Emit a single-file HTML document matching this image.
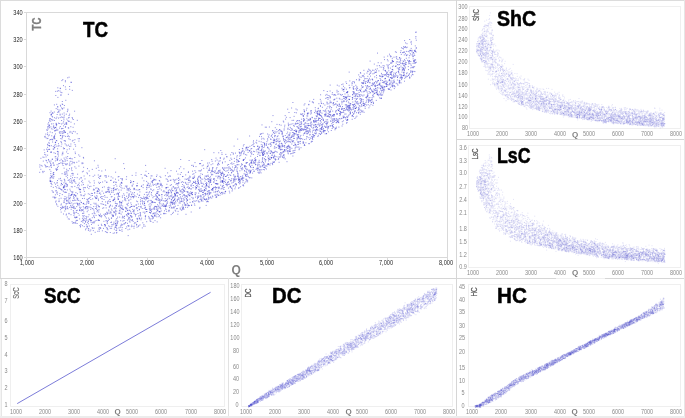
<!DOCTYPE html>
<html><head><meta charset="utf-8"><style>
html,body{margin:0;padding:0;background:#fff;}
body{width:685px;height:418px;position:relative;overflow:hidden;font-family:"Liberation Sans",sans-serif;}
.a{position:absolute;}
.t{position:absolute;white-space:nowrap;line-height:1;}
svg{position:absolute;left:0;top:0;}
</style></head><body>
<div class="a" style="left:0px;top:0px;width:685px;height:1px;background:#dcdcdc"></div>
<div class="a" style="left:0px;top:0px;width:1px;height:279px;background:#dcdcdc"></div>
<div class="a" style="left:1px;top:279px;width:1px;height:139px;background:#e6e6e6"></div>
<div class="a" style="left:0px;top:279px;width:1px;height:139px;background:#f4f4f4"></div>
<div class="a" style="left:456px;top:0px;width:1px;height:417px;background:#d6d6d6"></div>
<div class="a" style="left:456px;top:139px;width:229px;height:1px;background:#d6d6d6"></div>
<div class="a" style="left:0px;top:278px;width:685px;height:1px;background:#d6d6d6"></div>
<div class="a" style="left:228px;top:278px;width:1px;height:139px;background:#e2e2e2"></div>
<div class="a" style="left:556px;top:278px;width:49px;height:1px;background:#f0f0f0"></div>
<div class="a" style="left:684px;top:0px;width:1px;height:418px;background:#e6e6e6"></div>
<div class="a" style="left:0px;top:416px;width:685px;height:2px;background:#ececec"></div>
<div class="a" style="left:26px;top:12px;width:420px;height:244px;border:1px solid #d9d9d9"></div>
<div class="a" style="left:469px;top:6px;width:210px;height:121px;border:1px solid #efefef"></div>
<div class="a" style="left:468px;top:145px;width:211px;height:121px;border:1px solid #efefef"></div>
<div class="a" style="left:10px;top:284px;width:213px;height:121px;border:1px solid #efefef"></div>
<div class="a" style="left:241px;top:284px;width:210px;height:121px;border:1px solid #efefef"></div>
<div class="a" style="left:468px;top:284px;width:211px;height:121px;border:1px solid #efefef"></div>
<div class="a" style="left:24px;top:12px;width:2px;height:1px;background:#d9d9d9"></div>
<div class="a" style="left:24px;top:39px;width:2px;height:1px;background:#d9d9d9"></div>
<div class="a" style="left:24px;top:66px;width:2px;height:1px;background:#d9d9d9"></div>
<div class="a" style="left:24px;top:94px;width:2px;height:1px;background:#d9d9d9"></div>
<div class="a" style="left:24px;top:121px;width:2px;height:1px;background:#d9d9d9"></div>
<div class="a" style="left:24px;top:148px;width:2px;height:1px;background:#d9d9d9"></div>
<div class="a" style="left:24px;top:175px;width:2px;height:1px;background:#d9d9d9"></div>
<div class="a" style="left:24px;top:203px;width:2px;height:1px;background:#d9d9d9"></div>
<div class="a" style="left:24px;top:230px;width:2px;height:1px;background:#d9d9d9"></div>
<div class="a" style="left:24px;top:257px;width:2px;height:1px;background:#d9d9d9"></div>
<div class="a" style="left:26px;top:258px;width:1px;height:2px;background:#d9d9d9"></div>
<div class="a" style="left:87px;top:258px;width:1px;height:2px;background:#d9d9d9"></div>
<div class="a" style="left:147px;top:258px;width:1px;height:2px;background:#d9d9d9"></div>
<div class="a" style="left:207px;top:258px;width:1px;height:2px;background:#d9d9d9"></div>
<div class="a" style="left:267px;top:258px;width:1px;height:2px;background:#d9d9d9"></div>
<div class="a" style="left:327px;top:258px;width:1px;height:2px;background:#d9d9d9"></div>
<div class="a" style="left:387px;top:258px;width:1px;height:2px;background:#d9d9d9"></div>
<div class="a" style="left:447px;top:258px;width:1px;height:2px;background:#d9d9d9"></div>
<div style="position:absolute;left:0;top:0;width:685px;height:418px;filter:grayscale(1) blur(0.25px)"><div class="t" style="right:217px;top:4.23299px;font-size:6.3px;color:#8a8a8a;transform-origin:100% 50%;transform:scaleX(0.87)">300</div>
<div class="t" style="right:217px;top:15.733px;font-size:6.3px;color:#8a8a8a;transform-origin:100% 50%;transform:scaleX(0.87)">280</div>
<div class="t" style="right:217px;top:26.033px;font-size:6.3px;color:#8a8a8a;transform-origin:100% 50%;transform:scaleX(0.87)">260</div>
<div class="t" style="right:217px;top:37.333px;font-size:6.3px;color:#8a8a8a;transform-origin:100% 50%;transform:scaleX(0.87)">240</div>
<div class="t" style="right:217px;top:48.333px;font-size:6.3px;color:#8a8a8a;transform-origin:100% 50%;transform:scaleX(0.87)">220</div>
<div class="t" style="right:217px;top:59.333px;font-size:6.3px;color:#8a8a8a;transform-origin:100% 50%;transform:scaleX(0.87)">200</div>
<div class="t" style="right:217px;top:70.333px;font-size:6.3px;color:#8a8a8a;transform-origin:100% 50%;transform:scaleX(0.87)">180</div>
<div class="t" style="right:217px;top:81.933px;font-size:6.3px;color:#8a8a8a;transform-origin:100% 50%;transform:scaleX(0.87)">160</div>
<div class="t" style="right:217px;top:92.633px;font-size:6.3px;color:#8a8a8a;transform-origin:100% 50%;transform:scaleX(0.87)">140</div>
<div class="t" style="right:217px;top:103.633px;font-size:6.3px;color:#8a8a8a;transform-origin:100% 50%;transform:scaleX(0.87)">120</div>
<div class="t" style="right:217px;top:114.233px;font-size:6.3px;color:#8a8a8a;transform-origin:100% 50%;transform:scaleX(0.87)">100</div>
<div class="t" style="right:217px;top:124.633px;font-size:6.3px;color:#8a8a8a;transform-origin:100% 50%;transform:scaleX(0.87)">80</div>
<div class="t" style="left:473.2px;top:130.933px;font-size:6.3px;color:#8a8a8a;transform:translateX(-50%) scaleX(0.87)">1000</div>
<div class="t" style="left:502.23px;top:130.933px;font-size:6.3px;color:#8a8a8a;transform:translateX(-50%) scaleX(0.87)">2000</div>
<div class="t" style="left:531.26px;top:130.933px;font-size:6.3px;color:#8a8a8a;transform:translateX(-50%) scaleX(0.87)">3000</div>
<div class="t" style="left:560.29px;top:130.933px;font-size:6.3px;color:#8a8a8a;transform:translateX(-50%) scaleX(0.87)">4000</div>
<div class="t" style="left:589.32px;top:130.933px;font-size:6.3px;color:#8a8a8a;transform:translateX(-50%) scaleX(0.87)">5000</div>
<div class="t" style="left:618.35px;top:130.933px;font-size:6.3px;color:#8a8a8a;transform:translateX(-50%) scaleX(0.87)">6000</div>
<div class="t" style="left:647.38px;top:130.933px;font-size:6.3px;color:#8a8a8a;transform:translateX(-50%) scaleX(0.87)">7000</div>
<div class="t" style="left:676.41px;top:130.933px;font-size:6.3px;color:#8a8a8a;transform:translateX(-50%) scaleX(0.87)">8000</div>
<div class="t" style="right:218.2px;top:145.233px;font-size:6.3px;color:#8a8a8a;transform-origin:100% 50%;transform:scaleX(0.87)">3.6</div>
<div class="t" style="right:218.2px;top:157.933px;font-size:6.3px;color:#8a8a8a;transform-origin:100% 50%;transform:scaleX(0.87)">3.3</div>
<div class="t" style="right:218.2px;top:169.733px;font-size:6.3px;color:#8a8a8a;transform-origin:100% 50%;transform:scaleX(0.87)">3.0</div>
<div class="t" style="right:218.2px;top:184.133px;font-size:6.3px;color:#8a8a8a;transform-origin:100% 50%;transform:scaleX(0.87)">2.7</div>
<div class="t" style="right:218.2px;top:196.533px;font-size:6.3px;color:#8a8a8a;transform-origin:100% 50%;transform:scaleX(0.87)">2.4</div>
<div class="t" style="right:218.2px;top:209.933px;font-size:6.3px;color:#8a8a8a;transform-origin:100% 50%;transform:scaleX(0.87)">2.1</div>
<div class="t" style="right:218.2px;top:225.733px;font-size:6.3px;color:#8a8a8a;transform-origin:100% 50%;transform:scaleX(0.87)">1.8</div>
<div class="t" style="right:218.2px;top:238.533px;font-size:6.3px;color:#8a8a8a;transform-origin:100% 50%;transform:scaleX(0.87)">1.5</div>
<div class="t" style="right:218.2px;top:251.933px;font-size:6.3px;color:#8a8a8a;transform-origin:100% 50%;transform:scaleX(0.87)">1.2</div>
<div class="t" style="right:218.2px;top:264.333px;font-size:6.3px;color:#8a8a8a;transform-origin:100% 50%;transform:scaleX(0.87)">0.9</div>
<div class="t" style="left:473.1px;top:269.933px;font-size:6.3px;color:#8a8a8a;transform:translateX(-50%) scaleX(0.87)">1000</div>
<div class="t" style="left:502.13px;top:269.933px;font-size:6.3px;color:#8a8a8a;transform:translateX(-50%) scaleX(0.87)">2000</div>
<div class="t" style="left:531.16px;top:269.933px;font-size:6.3px;color:#8a8a8a;transform:translateX(-50%) scaleX(0.87)">3000</div>
<div class="t" style="left:560.19px;top:269.933px;font-size:6.3px;color:#8a8a8a;transform:translateX(-50%) scaleX(0.87)">4000</div>
<div class="t" style="left:589.22px;top:269.933px;font-size:6.3px;color:#8a8a8a;transform:translateX(-50%) scaleX(0.87)">5000</div>
<div class="t" style="left:618.25px;top:269.933px;font-size:6.3px;color:#8a8a8a;transform:translateX(-50%) scaleX(0.87)">6000</div>
<div class="t" style="left:647.28px;top:269.933px;font-size:6.3px;color:#8a8a8a;transform:translateX(-50%) scaleX(0.87)">7000</div>
<div class="t" style="left:676.31px;top:269.933px;font-size:6.3px;color:#8a8a8a;transform:translateX(-50%) scaleX(0.87)">8000</div>
<div class="t" style="left:5.6px;top:281.233px;font-size:6.3px;color:#8a8a8a;transform:translateX(-50%) scaleX(0.87)">8</div>
<div class="t" style="left:5.6px;top:297.533px;font-size:6.3px;color:#8a8a8a;transform:translateX(-50%) scaleX(0.87)">7</div>
<div class="t" style="left:5.6px;top:318.033px;font-size:6.3px;color:#8a8a8a;transform:translateX(-50%) scaleX(0.87)">6</div>
<div class="t" style="left:5.6px;top:334.833px;font-size:6.3px;color:#8a8a8a;transform:translateX(-50%) scaleX(0.87)">5</div>
<div class="t" style="left:5.6px;top:351.633px;font-size:6.3px;color:#8a8a8a;transform:translateX(-50%) scaleX(0.87)">4</div>
<div class="t" style="left:5.6px;top:368.433px;font-size:6.3px;color:#8a8a8a;transform:translateX(-50%) scaleX(0.87)">3</div>
<div class="t" style="left:5.6px;top:384.633px;font-size:6.3px;color:#8a8a8a;transform:translateX(-50%) scaleX(0.87)">2</div>
<div class="t" style="left:5.6px;top:401.733px;font-size:6.3px;color:#8a8a8a;transform:translateX(-50%) scaleX(0.87)">1</div>
<div class="t" style="left:15.5px;top:409.133px;font-size:6.3px;color:#8a8a8a;transform:translateX(-50%) scaleX(0.87)">1000</div>
<div class="t" style="left:44.69px;top:409.133px;font-size:6.3px;color:#8a8a8a;transform:translateX(-50%) scaleX(0.87)">2000</div>
<div class="t" style="left:73.88px;top:409.133px;font-size:6.3px;color:#8a8a8a;transform:translateX(-50%) scaleX(0.87)">3000</div>
<div class="t" style="left:103.07px;top:409.133px;font-size:6.3px;color:#8a8a8a;transform:translateX(-50%) scaleX(0.87)">4000</div>
<div class="t" style="left:132.26px;top:409.133px;font-size:6.3px;color:#8a8a8a;transform:translateX(-50%) scaleX(0.87)">5000</div>
<div class="t" style="left:161.45px;top:409.133px;font-size:6.3px;color:#8a8a8a;transform:translateX(-50%) scaleX(0.87)">6000</div>
<div class="t" style="left:190.64px;top:409.133px;font-size:6.3px;color:#8a8a8a;transform:translateX(-50%) scaleX(0.87)">7000</div>
<div class="t" style="left:219.83px;top:409.133px;font-size:6.3px;color:#8a8a8a;transform:translateX(-50%) scaleX(0.87)">8000</div>
<div class="t" style="right:445.3px;top:283.133px;font-size:6.3px;color:#8a8a8a;transform-origin:100% 50%;transform:scaleX(0.87)">180</div>
<div class="t" style="right:445.3px;top:295.933px;font-size:6.3px;color:#8a8a8a;transform-origin:100% 50%;transform:scaleX(0.87)">160</div>
<div class="t" style="right:445.3px;top:308.833px;font-size:6.3px;color:#8a8a8a;transform-origin:100% 50%;transform:scaleX(0.87)">140</div>
<div class="t" style="right:445.3px;top:322.033px;font-size:6.3px;color:#8a8a8a;transform-origin:100% 50%;transform:scaleX(0.87)">120</div>
<div class="t" style="right:445.3px;top:334.733px;font-size:6.3px;color:#8a8a8a;transform-origin:100% 50%;transform:scaleX(0.87)">100</div>
<div class="t" style="right:446px;top:347.633px;font-size:6.3px;color:#8a8a8a;transform-origin:100% 50%;transform:scaleX(0.87)">80</div>
<div class="t" style="right:446px;top:363.733px;font-size:6.3px;color:#8a8a8a;transform-origin:100% 50%;transform:scaleX(0.87)">60</div>
<div class="t" style="right:446px;top:376.133px;font-size:6.3px;color:#8a8a8a;transform-origin:100% 50%;transform:scaleX(0.87)">40</div>
<div class="t" style="right:446px;top:389.233px;font-size:6.3px;color:#8a8a8a;transform-origin:100% 50%;transform:scaleX(0.87)">20</div>
<div class="t" style="right:446px;top:402.133px;font-size:6.3px;color:#8a8a8a;transform-origin:100% 50%;transform:scaleX(0.87)">0</div>
<div class="t" style="left:246.1px;top:408.933px;font-size:6.3px;color:#8a8a8a;transform:translateX(-50%) scaleX(0.87)">1000</div>
<div class="t" style="left:275.13px;top:408.933px;font-size:6.3px;color:#8a8a8a;transform:translateX(-50%) scaleX(0.87)">2000</div>
<div class="t" style="left:304.16px;top:408.933px;font-size:6.3px;color:#8a8a8a;transform:translateX(-50%) scaleX(0.87)">3000</div>
<div class="t" style="left:333.19px;top:408.933px;font-size:6.3px;color:#8a8a8a;transform:translateX(-50%) scaleX(0.87)">4000</div>
<div class="t" style="left:362.22px;top:408.933px;font-size:6.3px;color:#8a8a8a;transform:translateX(-50%) scaleX(0.87)">5000</div>
<div class="t" style="left:391.25px;top:408.933px;font-size:6.3px;color:#8a8a8a;transform:translateX(-50%) scaleX(0.87)">6000</div>
<div class="t" style="left:420.28px;top:408.933px;font-size:6.3px;color:#8a8a8a;transform:translateX(-50%) scaleX(0.87)">7000</div>
<div class="t" style="left:449.31px;top:408.933px;font-size:6.3px;color:#8a8a8a;transform:translateX(-50%) scaleX(0.87)">8000</div>
<div class="t" style="right:220px;top:284.233px;font-size:6.3px;color:#8a8a8a;transform-origin:100% 50%;transform:scaleX(0.87)">45</div>
<div class="t" style="right:220px;top:297.033px;font-size:6.3px;color:#8a8a8a;transform-origin:100% 50%;transform:scaleX(0.87)">40</div>
<div class="t" style="right:220px;top:309.433px;font-size:6.3px;color:#8a8a8a;transform-origin:100% 50%;transform:scaleX(0.87)">35</div>
<div class="t" style="right:220px;top:322.533px;font-size:6.3px;color:#8a8a8a;transform-origin:100% 50%;transform:scaleX(0.87)">30</div>
<div class="t" style="right:220px;top:335.333px;font-size:6.3px;color:#8a8a8a;transform-origin:100% 50%;transform:scaleX(0.87)">25</div>
<div class="t" style="right:220px;top:348.933px;font-size:6.3px;color:#8a8a8a;transform-origin:100% 50%;transform:scaleX(0.87)">20</div>
<div class="t" style="right:220px;top:365.133px;font-size:6.3px;color:#8a8a8a;transform-origin:100% 50%;transform:scaleX(0.87)">15</div>
<div class="t" style="right:220px;top:377.933px;font-size:6.3px;color:#8a8a8a;transform-origin:100% 50%;transform:scaleX(0.87)">10</div>
<div class="t" style="right:220px;top:390.333px;font-size:6.3px;color:#8a8a8a;transform-origin:100% 50%;transform:scaleX(0.87)">5</div>
<div class="t" style="right:220px;top:403.433px;font-size:6.3px;color:#8a8a8a;transform-origin:100% 50%;transform:scaleX(0.87)">0</div>
<div class="t" style="left:472.3px;top:409.233px;font-size:6.3px;color:#8a8a8a;transform:translateX(-50%) scaleX(0.87)">1000</div>
<div class="t" style="left:501.44px;top:409.233px;font-size:6.3px;color:#8a8a8a;transform:translateX(-50%) scaleX(0.87)">2000</div>
<div class="t" style="left:530.58px;top:409.233px;font-size:6.3px;color:#8a8a8a;transform:translateX(-50%) scaleX(0.87)">3000</div>
<div class="t" style="left:559.72px;top:409.233px;font-size:6.3px;color:#8a8a8a;transform:translateX(-50%) scaleX(0.87)">4000</div>
<div class="t" style="left:588.86px;top:409.233px;font-size:6.3px;color:#8a8a8a;transform:translateX(-50%) scaleX(0.87)">5000</div>
<div class="t" style="left:618px;top:409.233px;font-size:6.3px;color:#8a8a8a;transform:translateX(-50%) scaleX(0.87)">6000</div>
<div class="t" style="left:647.14px;top:409.233px;font-size:6.3px;color:#8a8a8a;transform:translateX(-50%) scaleX(0.87)">7000</div>
<div class="t" style="left:676.28px;top:409.233px;font-size:6.3px;color:#8a8a8a;transform:translateX(-50%) scaleX(0.87)">8000</div>
<div class="t" style="left:236.2px;top:263.868px;font-size:12px;color:#7f7f7f;font-weight:bold;transform:translateX(-50%) scaleX(1)">Q</div>
<div class="t" style="left:575px;top:130.578px;font-size:8px;color:#7f7f7f;font-weight:bold;transform:translateX(-50%) scaleX(1)">Q</div>
<div class="t" style="left:575px;top:269.278px;font-size:8px;color:#7f7f7f;font-weight:bold;transform:translateX(-50%) scaleX(1)">Q</div>
<div class="t" style="left:117.5px;top:408.278px;font-size:8px;color:#7f7f7f;font-weight:bold;transform:translateX(-50%) scaleX(1)">Q</div>
<div class="t" style="left:348.5px;top:408.278px;font-size:8px;color:#7f7f7f;font-weight:bold;transform:translateX(-50%) scaleX(1)">Q</div>
<div class="t" style="left:574.7px;top:408.278px;font-size:8px;color:#7f7f7f;font-weight:bold;transform:translateX(-50%) scaleX(1)">Q</div>
<div class="t" style="left:35.7px;top:23.8px;font-size:13px;color:#7f7f7f;font-weight:bold;-webkit-text-stroke:0.35px #7f7f7f;transform:translate(-50%,-50%) rotate(-90deg) scaleX(0.74)">TC</div>
<div class="t" style="left:476px;top:15.05px;font-size:8.5px;color:#5a5a5a;-webkit-text-stroke:0.25px #5a5a5a;transform:translate(-50%,-50%) rotate(-90deg) scaleX(0.73)">ShC</div>
<div class="t" style="left:475px;top:153.6px;font-size:8.5px;color:#5a5a5a;-webkit-text-stroke:0.25px #5a5a5a;transform:translate(-50%,-50%) rotate(-90deg) scaleX(0.74)">LsC</div>
<div class="t" style="left:16px;top:292.8px;font-size:8.5px;color:#6a6a6a;-webkit-text-stroke:0.15px #6a6a6a;transform:translate(-50%,-50%) rotate(-90deg) scaleX(0.72)">ScC</div>
<div class="t" style="left:247.5px;top:292.9px;font-size:8.5px;color:#5a5a5a;-webkit-text-stroke:0.25px #5a5a5a;transform:translate(-50%,-50%) rotate(-90deg) scaleX(0.72)">DC</div>
<div class="t" style="left:473.5px;top:291.6px;font-size:8.5px;color:#5a5a5a;-webkit-text-stroke:0.25px #5a5a5a;transform:translate(-50%,-50%) rotate(-90deg) scaleX(0.75)">HC</div>
<div class="t" style="left:83.10px;top:19.39px;font-size:21.8px;color:#000;font-weight:bold;-webkit-text-stroke:0.5px #000;transform-origin:0 0;transform:scaleX(0.8611)">TC</div>
<div class="t" style="left:497.06px;top:7.59px;font-size:21.8px;color:#000;font-weight:bold;-webkit-text-stroke:0.5px #000;transform-origin:0 0;transform:scaleX(0.8991)">ShC</div>
<div class="t" style="left:497.31px;top:145.19px;font-size:21.8px;color:#000;font-weight:bold;-webkit-text-stroke:0.5px #000;transform-origin:0 0;transform:scaleX(0.8152)">LsC</div>
<div class="t" style="left:43.68px;top:285.39px;font-size:21.8px;color:#000;font-weight:bold;-webkit-text-stroke:0.5px #000;transform-origin:0 0;transform:scaleX(0.8596)">ScC</div>
<div class="t" style="left:271.87px;top:285.09px;font-size:21.8px;color:#000;font-weight:bold;-webkit-text-stroke:0.5px #000;transform-origin:0 0;transform:scaleX(0.9344)">DC</div>
<div class="t" style="left:497.25px;top:285.09px;font-size:21.8px;color:#000;font-weight:bold;-webkit-text-stroke:0.5px #000;transform-origin:0 0;transform:scaleX(0.9479)">HC</div></div>
<div style="position:absolute;left:0;top:0;width:685px;height:418px;filter:grayscale(1)"><div class="t" style="right:662.3px;top:8.9811px;font-size:7px;color:#262626;transform-origin:100% 50%;transform:scaleX(0.8)">340</div>
<div class="t" style="right:662.3px;top:36.2011px;font-size:7px;color:#262626;transform-origin:100% 50%;transform:scaleX(0.8)">320</div>
<div class="t" style="right:662.3px;top:63.4211px;font-size:7px;color:#262626;transform-origin:100% 50%;transform:scaleX(0.8)">300</div>
<div class="t" style="right:662.3px;top:90.6411px;font-size:7px;color:#262626;transform-origin:100% 50%;transform:scaleX(0.8)">280</div>
<div class="t" style="right:662.3px;top:117.861px;font-size:7px;color:#262626;transform-origin:100% 50%;transform:scaleX(0.8)">260</div>
<div class="t" style="right:662.3px;top:145.081px;font-size:7px;color:#262626;transform-origin:100% 50%;transform:scaleX(0.8)">240</div>
<div class="t" style="right:662.3px;top:172.301px;font-size:7px;color:#262626;transform-origin:100% 50%;transform:scaleX(0.8)">220</div>
<div class="t" style="right:662.3px;top:199.521px;font-size:7px;color:#262626;transform-origin:100% 50%;transform:scaleX(0.8)">200</div>
<div class="t" style="right:662.3px;top:226.741px;font-size:7px;color:#262626;transform-origin:100% 50%;transform:scaleX(0.8)">180</div>
<div class="t" style="right:662.3px;top:253.961px;font-size:7px;color:#262626;transform-origin:100% 50%;transform:scaleX(0.8)">160</div>
<div class="t" style="left:26.9px;top:259.281px;font-size:7px;color:#262626;transform:translateX(-50%) scaleX(0.8)">1,000</div>
<div class="t" style="left:86.8px;top:259.281px;font-size:7px;color:#262626;transform:translateX(-50%) scaleX(0.8)">2,000</div>
<div class="t" style="left:146.7px;top:259.281px;font-size:7px;color:#262626;transform:translateX(-50%) scaleX(0.8)">3,000</div>
<div class="t" style="left:206.6px;top:259.281px;font-size:7px;color:#262626;transform:translateX(-50%) scaleX(0.8)">4,000</div>
<div class="t" style="left:266.5px;top:259.281px;font-size:7px;color:#262626;transform:translateX(-50%) scaleX(0.8)">5,000</div>
<div class="t" style="left:326.4px;top:259.281px;font-size:7px;color:#262626;transform:translateX(-50%) scaleX(0.8)">6,000</div>
<div class="t" style="left:386.3px;top:259.281px;font-size:7px;color:#262626;transform:translateX(-50%) scaleX(0.8)">7,000</div>
<div class="t" style="left:446.2px;top:259.281px;font-size:7px;color:#262626;transform:translateX(-50%) scaleX(0.8)">8,000</div></div>
<svg width="685" height="418" viewBox="0 0 685 418"><path d="M202.2 190.4h1m-94.4 16.7h1m290.8-130.7h1m-282.5 109.8h1m284-145.6h1m-290 174.4h1m235.7-99.2h1m-113.4 55h1m-133.4 50.9h1m220.5-107.6h1m69.1-31.3h1m4.4-23.1h1m-354.3 126.7h1m146.6 3h1m-84.6-0.2h1m-41.4 27.8h1m95.3-14.9h1m67.3-52.6h1m-43.1 46.7h1m99.5-73h1m-182.2 107h1m219.8-125.1h1m-283.3 93h1m30.4 5.9h1m203.4-64.4h1m0.9 13.5h1m-227 44.2h1m95.4 9.1h1m158.9-82.5h1m37.2-22.5h1m-215.1 84.2h1m107.8-43.3h1m-52.5 48.5h1m199.9-127h1m-92.3 73.1h1m-186.2 63h1m209.4-95.8h1m-213.3 88.6h1m131.2-32.4h1m58.3-40.8h1m-126.7 54.8h1m-1.9 18.4h1m24.9-20.5h1m39.3 0.1h1m-124.5 16.9h1m237.3-115.4h1m-47.3 59.9h1m-62.2 34.4h1m-208.5 38.2h1m237.5-93.5h1m-230.1 104.2h1m228.3-86.3h1m-126.1 61.6h1m-113.5-13.4h1m333.4-102.1h1m-307.4 129.7h1m177-46.6h1m-25 19.3h1m54-33.6h1m-133.5 58.2h1m-76 17.8h1m251.7-126.3h1m-254.8 104.5h1m124.2-28.2h1m68.6-38.3h1m109.4-72.6h1m8.1 17.7h1m-314.6 138.4h1m-30.1-29.6h1m111.4-2.5h1m209.9-94.2h1m-164.1 97.4h1m-154.9-14.7h1m135.2-3.3h1m115.6-61.2h1m-15.3 15.7h1m-125.4 44.3h1m148.2-52.5h1m-208.1 88.8h1m225.6-98.3h1m-29.2 18.9h1m-81.6 54.4h1m70.2-48.1h1m-98.6 57h1m122.2-66.2h1m9.9-0.2h1m-38.1 6.7h1m-11.7 9.1h1m44.1-21.1h1m-245.1 110.9h1m120.6-35.7h1m166.1-117.1h1m-1.7-0.8h1m-335.6 100.1h1m89.1 51.5h1m-45.4 5.1h1m-19.3-36.6h1m172.4-34.1h1m49.3-33.3h1m-12.8 23.7h1m-76.9 33.3h1m-165.7-8.4h1m142 5.4h1m-121 14.4h1m45.8-7.4h1m189.9-60h1m-165 59.3h1m209.7-107.9h1m-74.3 57.8h1m-64.9 30.6h1m-59.6 36.9h1m-81.6-1.1h1m263-84.2h1m-9.4-9.2h1m-228 114.2h1m278.9-153.1h1m-23.4 2.9h1m-211.4 112.1h1m-82.7 17h1m97.4 7.6h1m-18.4-12.7h1m194.3-106.6h1m42.7-7.8h1m-332.6 122.1h1m81.1-4.2h1m-74 6.8h1m31-26.3h1m38.9 27h1m260.8-148.2h1m1.5-6.3h1m-266.3 145h1m-25.5 14.2h1m-12.2-12.3h1m180-71.3h1m-89.1 70.6h1m27.8-12.9h1m-165.5 19.9h1m62.4-11.3h1m48.6 11.3h1m-71.5-1.4h1m90.9-6.1h1m82.7-57h1m35.2-16.3h1m66.7-62.8h1m-252.6 143.6h1m269.9-138.5h1m-77.3 24.8h1m-174.6 97.4h1m24 3.3h1m198.5-129.5h1m-180.1 133h1m-118.3 3.4h1m306.5-116.4h1m-22.3 19.7h1m-256.3 115.7h1m-17.6-17.3h1m-34.6 2.9h1m35.9-19.7h1m-16.1 11.6h1m57.4-13.2h1m52.6 6.1h1m39.7-21.5h1m-79 20.8h1m57.1-8.6h1m43.5-13.1h1m-190.1 51.4h1m220.2-78.2h1m-49.7 35.5h1m82-61.4h1m-240 100.4h1m37.8-7.3h1m-43.7-11.9h1m69.8-12.5h1m-87.9 30.3h1m109.4-15.4h1m125.6-87.9h1m-163.7 86.4h1m-28.7 9.1h1m131.8-45.4h1m148.6-94.7h1m-37.3 23.4h1m-153.9 88.6h1m-116.3 19.7h1m205.4-53.6h1m-138.9 38.8h1m-85 37.9h1m191.1-63.2h1m71.3-52.9h1m-82.4 53.7h1m34.6-21.2h1m-202.6 89h1m46.2-33h1m57.2-15.5h1m169.3-97.7h1m-110 62.3h1m87.3-39.9h1m7.4-0.7h1m33.9-31.6h1m-68.6 54.4h1m-209.1 98.9h1m164.5-74.3h1m47.4-23.3h1m-262.6 59.2h1m185.8-34.4h1m54.9-40.8h1m-220.5 94h1m248.8-113.5h1m-191.8 108.2h1m150.3-67.4h1m8.3-18.9h1m-19.5 12.2h1m-65.3 52.8h1m-136.6 50.9h1m192.7-94.2h1m-184 78.3h1m57.5-36.9h1m107.8-24.5h1m120.9-84.3h1m-335.1 128.7h1m188.1-25.4h1m6.8-8.5h1m-133.5 58.4h1m177.1-93.1h1m-203.1 97.4h1m98.2-26h1m191-140.7h1m-133.4 94.7h1m-129.2 19.5h1m272.9-95.1h1m-288.5 101h1m77.5-5h1m61.4-22.1h1m-48.9 31.9h1m-59.3 30.1h1m123-88.5h1m-19.1 8.1h1m-202.8 78.8h1m306.3-110.1h1m-125.1 63.7h1m-50.5 5h1m200.5-98.3h1m-305.9 152h1m277.2-137.9h1m-28.8 17.5h1m-202.9 120.9h1m30.3-16.8h1m-95.6-1.5h1m31.9-14.5h1m111.8-9.8h1m104.6-55h1m-263.7 80.7h1m116.9 0.9h1m131.9-90.4h1m-218.1 88.3h1m220.3-86.3h1m-34.3 26.7h1m-144.8 65h1m171-87.4h1m-253.8 81.6h1m317.7-119.4h1m-225.3 119.5h1m88.9-25.7h1m158.8-125.2h1m-32.9 27h1m-118.9 85.7h1m122.2-91.9h1m-227.6 141.8h1m-101-25.9h1m117.4-3h1m60.7-18.3h1m179.1-118.1h1m-134.6 94.6h1m92.6-44.7h1m-106.1 55.8h1m40.8-40.2h1m-198 73.8h1m173.8-40.6h1m-113.9 36h1m85.3-41h1m141.5-73.9h1m-255.5 136h1m182.9-103.7h1m-228.4 70.6h1m121.3 6.6h1m89.2-74h1m82.5-32.4h1m-299.9 120.7h1m277.2-110.2h1m-217.1 120h1m-19.5-8.3h1m-29-17.8h1m35.8 26.3h1m76.1-39.5h1m127.4-72.2h1m23.5-16.5h1m17.6-14.8h1m-62.9 35.9h1m-150.7 84.1h1m111.2-71.6h1m-83.2 69.3h1m181-129h1m-219.1 146.6h1m12.5-8h1m33.3-44.7h1m-70.6 64.7h1m-50.9 22.1h1m0.2-11.8h1m79.3-37.6h1m11.5 14.1h1m-34.1-1.8h1m-110.3 7.6h1m-0.3-2.6h1m232-76.5h1m-12.5 0.4h1m97.1-48.8h1m-166.1 116.7h1m141.1-109.3h1m-126.1 92.9h1m116.9-68.3h1m-112.9 51.4h1m62.4-46.4h1m-238.9 85.8h1m57.1 31.1h1m80.2-42.9h1m-111.9-19.7h1m207.7-41.6h1m-56.7 36.8h1m-172.9 16.7h1m36.2 24.6h1m242.9-113.2h1m-200.1 93.7h1m-67.7 8.7h1m44.7 20.4h1m131.4-51.2h1m-89.4 40.7h1m-32.6-18.8h1m240.5-95.4h1m1-25.6h1m-187.4 119.1h1m168.1-94.1h1m-23.1-0.3h1m-130.4 94.9h1m-22.1 16.3h1m56.7-34.5h1m96.1-58.4h1m6.1-24.1h1m-76.4 20.6h1m-92.9 79.4h1m-90.5 40.2h1m86.4-26.3h1m-10.5-0.4h1m-70.2 31.9h1m29.6-14.7h1m47.5-28.2h1m-11.5-6.2h1m-17.4 26.3h1m-54.9-10.9h1m142.9-34.5h1m93.3-69.3h1m-136.2 83.5h1m-88.5 54.9h1m254.6-148.1h1m-107 75.5h1m-122.4 29.9h1m65.3-12.9h1m56.8-34.9h1m50-23.8h1m-6.7-6.4h1m19.8 7.9h1m-141.7 44.2h1m115.4-64.1h1m-30.5 41.1h1m52.4-53.6h1m-107.2 98.9h1m-63.7 10.7h1m-73.7 1.7h1m258.5-96.7h1m-203.3 75.3h1m74.1 2.9h1m-99.2 27.7h1m-63.4-39.8h1m51.3 28.8h1m255.2-114.9h1m-23-8.4h1m-258.8 142.7h1m195.6-78.1h1m91.9-74.2h1m-102 89.2h1m20.1-43h1m-155.7 99.5h1m-55.5 7.6h1m192.6-86.7h1m-158.8 71.4h1m-16.9 15.9h1m125.7-48.6h1m25.8-22.9h1m28.6-20.6h1m32-1.3h1m-209.9 83.9h1m21.9 6.9h1m148.7-88.6h1m87.8-52.6h1m-185.3 91.3h1m-46.2 42h1m95.4-50.1h1m-16.7-3.9h1m-133 27.5h1m169.7-41.4h1m93.7-69.1h1m-195.9 121.7h1m178.2-87.4h1m-95 33.3h1m-200.5 66.8h1m120.4-12.7h1m-108.7 41.2h1m266.1-140.2h1m-129.9 68.1h1m73-30.1h1m33.8-23h1m-130.5 73h1m114.7-63.5h1m-257 85.5h1m276.4-77.9h1m-98.4 27h1m41.6-2.5h1m-154.1 70.7h1m121.9-66.3h1m-207.5 34.9h1m231.8-38.9h1m67.5-58.4h1m38.5-0.5h1m-142.7 83.5h1m133.3-91.7h1m-197.1 115.1h1m-76.6-5h1m253.2-112.4h1m0.1 21.6h1m-85.9 57h1m52.8-60.7h1m-136.6 71.6h1m132.7-45.4h1m-105.1 62.6h1m-19.5-11.4h1m188.6-101.9h1m-281.9 113.5h1m184.7-67.2h1m-21.5 32.2h1m95.7-59.1h1m-161.3 94.1h1m143.1-88.2h1m-49.1 23.4h1m-13.3 12.3h1m-99.9 59.9h1m-85.1 27.8h1m186.3-82h1m-120.8 56.3h1m120.8-70.6h1m43.5-17.8h1m-140.6 69h1m-169.4 7.6h1m222.7-37.9h1m-21.2 3.3h1m38.4-11.6h1m-219.7 60.5h1m51.6 13.7h1m-53 8.7h1m88.1-3.8h1m105.3-69.4h1m115-57.9h1m-84.1 56.2h1m-213.5 66.7h1m86.3-35.3h1m192.8-83.8h1m-35.4 30.9h1m38.2-43.4h1m-253 119.7h1m196.5-72.3h1m81-61.2h1m-123.8 67.2h1m68.1-18h1m-59.3 28h1m-147.5 24.2h1m209.9-58.2h1m-190.4 96h1m-100.7-13.3h1m221.5-38.8h1m-51.2 28.4h1m172.3-122.8h1m-64.9 58.1h1m-53.8 32.2h1m-89.4 47.1h1m-88.6-9.9h1m44.6 10.1h1m79.3-27.6h1m-189.5 18.7h1m2 22.1h1m293.8-99h1m-292.7 83.2h1m208.2-61h1m89-54.7h1m-241.3 125h1m27.3-14.9h1m43.5 11h1m209.8-142.2h1m3.9-6.5h1m-133.1 85.2h1m-19.9 38.3h1m-140.3 33.9h1m118-53.1h1m153.2-75.1h1m-69.9 36.4h1m1.7-7.3h1m-260.7 73.8h1m328.9-118.4h1m-81.9 58.5h1m7.8-6.7h1m66.8-31.7h1m-275.5 130.9h1m226.7-106h1m-44.8 34.5h1m-52.8 19.7h1m154.6-117.6h1m-300.5 159.3h1m135.4-49.9h1m-20.6 14.8h1m-76.3 36.9h1m-67 5.1h1m103.4-6.5h1m165.2-89.5h1m-153.3 87.1h1m113.1-76.5h1m-53.7 34.3h1m-134.7 37.5h1m156.9-62.6h1m35.4-23h1m7.9 17.8h1m-168.4 63.3h1m231.7-114.3h1m-163.6 111.3h1m-152.6 6.9h1m42.7 8.6h1m102.2-17.1h1m-114.2 37.8h1m290.8-162.3h1m-225.9 106.1h1m89.4-20.7h1m-187.8 39.1h1m57.9-11.2h1m-63.6 35.9h1m147.1-23.6h1m179.8-132.5h1m-177.2 129.1h1m107.5-90.9h1m-54.6 42h1m-83.2 49h1m-12-1.7h1m178.8-102.8h1m-180.3 112.7h1m-125.8 1.7h1m-2-19.7h1m-10.4 38.8h1m327.9-135.7h1m-205.8 114.3h1m-33.2 6.7h1m117.7-56.9h1m71.6-49.7h1m45.7-31.1h1m-78.5 64.5h1m-79.9 39h1m81.9-35.1h1m-265.4 54.2h1m311-87.7h1m17.5-12.5h1m-217.9 126.2h1m206.9-121h1m-260.8 133.4h1m-62.1-32.1h1m227.7-65.3h1m-108.4 75.9h1m-119.3-2.2h1m301-88.6h1m-64.1 27.1h1m-72.3 19.3h1m55.5-19.8h1m54.9-28.2h1m-183.3 78.7h1m-42.6 36.6h1m58.3-30.4h1m166.3-85.3h1m-104.9 65.2h1m-177.9 11.6h1m4.2 29.9h1m70.4 4h1m67-30.6h1m-89.8 40.2h1m284.9-180.2h1m-315.3 153h1m274.5-131.1h1m-67.3 68.4h1m-88.2 42h1m-150.9-2.3h1m185.6-31.2h1m-77.3 48.6h1m28.1 11.6h1m103.1-73.8h1m-13.2 10.4h1m72.3-37.3h1m-246 104.2h1m145.2-65.9h1m-107.8 70.7h1m-13-17.5h1m210.6-105.7h1m-177.5 96.5h1m-0.7-12.5h1m123.3-55.6h1m-239.5 76.1h1m74.2-16.2h1m202.4-89.1h1m-214.4 102.5h1m123.7-41.3h1m-97.6 34h1m4.6 15h1m-50.5-7.7h1m-69-13.2h1m156.5-17.9h1m-40.2 27.2h1m114.4-44.1h1m50.2-16.4h1m-188.1 53.1h1m81.6 3.4h1m-89.8-0.5h1m-62.8 18.9h1m282.9-100.9h1m-60.4 10.4h1m71.9-45.4h1m-88 80.2h1m-208.9 22.8h1m183-44.6h1m-199 74.7h1m192.3-32.1h1m-85.2 29.5h1m227.9-136.6h1m-51 36.6h1m-148.6 82.3h1m-5.7 9h1m-16-30.1h1m57 2h1m118.4-75.4h1m-93.3 69.2h1m-93.6 43.5h1m201.9-117h1m-55.4 8.2h1m5.3 19.7h1m11.2-5h1m46.5-48.7h1m-205.9 155h1m181.6-119.9h1m-251.7 117h1m253-117.2h1m-231.6 106.9h1m90.7-20.5h1m-126.3 37.9h1m244.8-141.3h1m-56 68.1h1m11.1-31.6h1m-208.8 77.9h1m270.5-104.4h1m-161.6 86.7h1m-103.1 14.5h1m-12.5 27.7h1m-2.6-6h1m145.7-36.1h1m-42.3 15.8h1m131.9-85.1h1m0.5 15.3h1m-99.3 47.8h1m56.1-36.8h1m-74.1 50.8h1m-74.2 4.5h1m51.2-8.8h1m-145 11.6h1m70.9 18.4h1m250.8-120.3h1m-0.3 4.5h1m-54.8 29.3h1m-4.9-3.6h1m-43 30.9h1m-43.8 33.1h1m127.5-89.3h1m-145 65.1h1m-17.4 23.7h1m-89.7 20.4h1m289.1-139.1h1m-298.1 138.9h1m144.6-59.7h1m115.4-53.9h1m-257.4 131.4h1m-40.8-29h1m319.8-126.9h1m-154.3 84.7h1m-162.3 75h1m-17.8-7.2h1m317.4-143.8h1m-271.8 113.4h1m126.2-5.9h1m59.2-51.6h1m64.1-36.2h1m-50 32.6h1m-224 103.8h1m-29.3-27.3h1m148.7-24.9h1m29.6-11.4h1m92-41.4h1m-287.1 68.8h1m267.2-91.4h1m12.4 11.3h1m-220.8 107.1h1m90.4-63.6h1m128.7-54.4h1m-135.1 95.9h1m17-29.1h1m167.5-99.2h1m-244.6 152.9h1m-38.1-16.9h1m188-56.6h1m-122.2 62.1h1m-38.7-10h1m54.1-20h1m-129.8 16.9h1m49.2 35.5h1m-44.3-29.4h1m208-68.3h1m-83.6 49h1m207.9-109.7h1m-340.2 128.6h1m132 1.4h1m-124.6-25.4h1m200.1-17.1h1m35.5-25.8h1m-3.1-18h1m-11.5 28.6h1m-239.7 53.6h1m10.4-12.3h1m218.1-71.2h1m-221.5 113.2h1m76.5-18h1m-97.5-0.7h1m27.4 10.7h1m62.7-38.7h1m-47.2 43.3h1m47.9-25h1m-86.1 8.3h1m224.8-80.3h1m-188.1 73h1m192.8-78.2h1m62.6-33.2h1m-172 104.8h1m90.9-64.8h1m-184 69h1m39.4 12.3h1m-63.7-26.8h1m327.9-131.8h1m-43.5 40.7h1m0.1 9.3h1m-259.9 117.3h1m49.2-23.5h1m-55.1 18.6h1m188.4-89.7h1m73.4-38.1h1m-311.7 124.2h1m230.5-69.4h1m116-65.6h1m-33.8 25.7h1m6-30.6h1m-152.6 102.6h1m-56.1 36.3h1m31.9-40.5h1m-133.4 48.9h1m114.3-24.7h1m96.9-65h1m-9.4 19.5h1m-141.9 72.9h1m14.5-26.2h1m196.9-101.4h1m-283 94.7h1m-2.1-0.2h1m21.8-5.9h1m76.3 18.8h1m-73.6 15.2h1m175.7-54.8h1m48-33.8h1m-116.6 53.6h1m-144.3 3.5h1m12.8 6.1h1m133.4-7.1h1m-13 17.3h1m149.2-114.5h1m56.6-7.1h1m-146.1 68.9h1m-64 44h1m105.2-77.4h1m-142.4 91.5h1m223.7-130.7h1m-316.7 134h1m289-104.1h1m-167.2 82.8h1m40.3-4.1h1m120.9-107h1m-97.2 90h1m-185.4 43.6h1m99-19.6h1m160.8-100.2h1m-282.7 91.2h1m246.9-60.7h1m-125.1 85.4h1m-116.5-4.6h1m307.1-138.3h1m-173 116.8h1m-33.7 21.2h1m-52.2-20.6h1m5.2 17.3h1m116.9-34.2h1m24.6-5.8h1m-122.1 61.4h1m110.9-53.2h1m-159.9 48.8h1m299.5-143.9h1m-200.6 123.1h1m-132.9 6.8h1m191.2-49.7h1m-159.1 69.9h1m-8.3-42.1h1m263.3-83.5h1m-81.5 43.5h1m-88.8 33.8h1m-21.4 22.7h1m229.8-118.7h1m-64.7 13.6h1m52-38.1h1m-300.9 156.7h1m176-77.7h1m75.5-31.6h1m-219.6 116.3h1m-67.6-28.5h1m-13-10.1h1m45.9 35.1h1m96.3-45.4h1m-113.4 36.7h1m175.4-47.7h1m31.9-19.2h1m-51.5 43.5h1m-159.2 38.4h1m291.7-127.8h1m-297.5 117.8h1m187.1-52.6h1m-58.1 19.2h1m100.1-36.6h1m46.7-34.8h1m-154.7 81h1m23.4-14.2h1m-1.1 16.9h1m-57.1 1.6h1m-38.6 29.6h1m141.2-71.7h1m83-70.9h1m-292.7 131.5h1m126.2-30.9h1m43.2 9h1m-90.6 23.4h1m200.5-97.6h1m-182.3 89.2h1m60.6-34.9h1m68.5-26h1m-204.3 84.8h1m59.9-25.5h1m245-132.2h1m-91 53.9h1m26.7-11h1m-82.5 49.1h1m-87.9 25h1m63.1-18.4h1m-6 5.8h1m96.7-56.4h1m-124.4 78.2h1m165.4-98.3h1m-65.7 39.9h1m-101.2 54.3h1m70.3-33.9h1m61.6-53.2h1m45.5-17.9h1m-271.7 128.3h1m129.8-67.5h1m-64.7 43.8h1m-96.6 18.3h1m284.3-112.1h1m-0.6-9.9h1m-271.5 105.3h1m96.5-1h1m178.5-105.3h1m-113.2 49.2h1m88.4-29.5h1m36.7-39.7h1m-114.1 45.6h1m108.6-41.2h1m-161 87.7h1m117.3-50.3h1m-211 110.4h1m263.9-165.5h1m-309.3 148.5h1m51.1 10.4h1m200.7-115.5h1m-94.5 52.8h1m15.3-0.4h1m120.9-85.5h1m-25 21.4h1m-54 50.2h1m-124 38.7h1m146.3-62h1m-15.4-6.4h1m-44.5 48.9h1m-83.7 15.1h1m41.5-20.2h1m72.6-17.7h1m-50.6 28.7h1m-30.3 25.9h1m13.2-34.9h1m120.7-59.7h1m-292.3 82.4h1m244.2-49.6h1m-14.1 7.9h1m-27.5 13.6h1m-32.7-0.4h1m53.9-12.5h1m-244.6 49.9h1m270.7-72.7h1m-248.8 67.8h1m119 1.4h1m3.8 12.4h1m-110.1 33.4h1m175-80.8h1m13.5 3.2h1m-147.6 38.7h1m99.5-15.1h1m-78.2 33.1h1m208.6-138.1h1m-142 114.6h1m143.2-120.6h1m-88.7 76.5h1m-116.6 58.2h1m-20.5 22.7h1m233.3-149.9h1m-120.3 77.7h1m-121.8 33.3h1m127.2-30.2h1m3.1-3.5h1m-138.8 65.3h1m95.8-67h1m-95.2 65.1h1m163.7-101.4h1m-197.1 102.5h1m84-12.2h1m-103.3-4.1h1m245.7-99h1m-244.4 97.4h1m70.2-16.2h1m-16.3 18.3h1m100.3-28.6h1m8.4-21.9h1m-79.2 53.8h1m-50.5 20.9h1m130.4-63.8h1m16-40h1m-101.7 57.3h1m-58.1 43.1h1m21.9-3.9h1m171.6-89.4h1m-155.6 82.2h1m-31-8.5h1m36.9-5.1h1m83.8-45.8h1m-115 37.9h1m66.6 2.8h1m108.9-64h1m-10.6 1.9h1m-101.6 66.2h1m-36.3-4.6h1m9.7 10.5h1m88.3-55.3h1m57.7-20.2h1m-48.4 14.7h1m47.7-27.5h1m-26.8-10.7h1m-101.6 70.1h1m-116.4 31.2h1m135.2-34h1m-120.7 46.3h1m61.1-43.7h1m92.6-27.6h1m-194.4 97.3h1m154.6-61.5h1m-167.7 44.7h1m85.7-9.5h1m140.9-66.5h1m14.6-28.8h1m-47.2 23.6h1m-116.6 58.1h1m223.7-118.3h1m-91.7 55.8h1m-222.6 36.2h1m322.1-94h1m-15.1 4.5h1m-317 87.2h1m152.9 4.2h1m-18.9 11.8h1m120.2-63h1m-217.8 89.3h1m209.4-79h1m-41.9 18h1m-225.4 49.1h1m265.1-62.7h1m62.5-66.7h1m-184.3 132.2h1m111.7-70.4h1m-199 79.6h1m106-29.7h1m0.5 7.3h1m-146.9 23.5h1m328.3-153.6h1m-81.8 63.2h1m-74.1 33h1m96.9-68h1m-0.9 31h1m-42.9 19.1h1m-156.7 84.8h1m64.7-53.7h1m-126.4 28.4h1m314.9-116.8h1m-2.6 1.2h1m-292.7 141.2h1m-27.5-8.1h1m89.8-18.3h1m138.4-87h1m74.5-30.8h1m10.8-0.8h1m-27.2-12.5h1m-313.2 145.6h1m303-132.8h1m-200.7 117.3h1m202.5-122.7h1m-241.9 122.6h1m152.4-47.9h1m59.5-37h1m-49.5 15.5h1m-102.4 72.4h1m83.5-63.5h1m-216.4 53.8h1m188.3-49.2h1m-151.7 88.8h1m243.4-121.6h1m-51.5 31.7h1m-204 38.4h1m97.4 25.5h1m-146.8-13.7h1m232.6-29.9h1m107.8-77.2h1m-139.8 87.2h1m-170.5 35.9h1m141.7-18.6h1m-148.5 9.6h1m74.3 18.2h1m122.9-50.7h1m-15 1.6h1m80.3-54.8h1m-104.8 67h1m-139 29.9h1m123-11.2h1m110.4-81.1h1m-66.2 39.4h1m-146.2 33.5h1m-43.6 23h1m248.1-98.5h1m-116.5 68.3h1m107.9-71.1h1m-69 23.9h1m25.1 10.2h1m-176.4 68.3h1m147.5-35.9h1m44.6-50.5h1m-216.2 94.4h1m118-31.9h1m-62.1 32h1m56.4-21h1m66.9-35.8h1m-23.6 3.9h1m115.7-77h1m-273 132.7h1m12.7-5.1h1m266.2-121.1h1m-63.4 27.8h1m-140 82.8h1m117.8-63.9h1m27.8-13.8h1m-258.9 95.8h1m279.8-115.1h1m-200.5 74.2h1m64.7 9.4h1m119.6-97.3h1m-240 75h1m164.4-10.6h1m42-15.8h1m-114.3 39.6h1m150.9-81.5h1m-253.6 96.5h1m210.1-77.2h1m-217.3 111h1m300.6-156.5h1m-174.3 116h1m28.9-32.2h1m-134.8 63.4h1m169.3-86.1h1m-211.4 37.1h1m266.4-41.9h1m73.4-60.2h1m-277.7 134.2h1m215-106.2h1m-77.5 46.8h1m9.5-0.8h1m32.9-34.7h1m-139.5 94.9h1m39.5-38.9h1m168.4-84.3h1m-236.8 107.3h1m-63.7 4.8h1m114.1-3.3h1m27.8-22.2h1m120.9-52.5h1m-181.3 86.6h1m52.3-34.4h1m14.4 16.1h1m-14.1-12.3h1m-158.9 49.5h1m142.8-35.4h1m75.1-50.1h1m-211.3 87.2h1m212.9-80.4h1m-157.8 46h1m134.8-51.9h1m-127.2 64.8h1m249.7-151h1m-305.1 160h1m161.2-57.4h1m-9.5 18.3h1m77.1-50.9h1m19.2-6.7h1m-123.9 54.5h1m162.9-94.9h1m-266.4 120.3h1m36.5 5.4h1m205.6-123.6h1m-289.7 126.8h1m41-29.9h1m260-87.5h1m-235.5 128.4h1m-73.4-21.7h1m264.4-91.3h1m-80 69.2h1m-45.3 12.1h1m98.9-83h1m-251.2 96.1h1m321-107.9h1m-23.1 17.3h1m-143.8 84.5h1m-94.2 21.8h1m214.2-118.8h1m-289.7 92.5h1m163.6 2.2h1m-48.2 10.5h1m59.3-32h1m74-39.9h1m-217.7 77h1m177.5-70.4h1m-136.8 81.6h1m2.1-10.7h1m9.7 3.7h1m-87-17.4h1m245.3-64.4h1m-142.9 86.9h1m96.2-48.5h1m-84.9 38.4h1m-12.6 15h1m33.3-40.1h1m-0.7 6.7h1m161.5-102.8h1m-108.2 78.5h1m-107.2 55.3h1m106.2-66.8h1m3.1 5h1m-200.2 54.6h1m301.9-123.5h1m-254.2 148.7h1m151.6-70.4h1m-207.1 51.3h1m-6.4-15.3h1m125.3 2.8h1m-115.2 25.4h1m308.9-134.1h1m-182.3 107.8h1m-79.8 12.9h1m-4.2-11.9h1m108.6-14.7h1m142.4-90.6h1m-81.7 46.3h1m-24.6 27h1m99.5-93.3h1m-18.5 42h1m-134.8 67.5h1m-90.3 23.5h1m165.6-53.4h1m66.3-61.7h1m8.1-0.8h1m-46.1 45.6h1m-237.3 54.8h1m132.8-2.7h1m158.9-105.4h1m-64.5 32.8h1m-191.5 101.1h1m-44.1 15.4h1m92-49.3h1m28.6-2h1m84.5-58.2h1m-77.5 39.7h1m191.5-83h1m-83 42.8h1m-58.6 37.4h1m-207.7 50.5h1m44.3 10.4h1m281.1-134.9h1m-111.4 66.5h1m65.9-33.4h1m-197.4 72.6h1m230.5-100.8h1m-35.7 29.5h1m-254 75.3h1m196-84.9h1m111.9-26.8h1m-182.5 112.4h1m-10.2-6.2h1m16.9-18h1m168.3-118.7h1m-185.3 146.1h1m20.8-14.2h1m90.6-56.8h1m-217.1 55.9h1m17.3 11.1h1m82.3-3.6h1m164.6-126.3h1m-29.2 28.7h1m45.6-33.6h1m-72.2 73.8h1m-120.5 61h1m-12.4-11.6h1m-59.7 44.4h1m-48.5 8.7h1m120.6-66.7h1m165.7-84.2h1m-10.6-0.5h1m-171 108.5h1m182.7-109.5h1m-146.3 98.1h1m-64.7 2.2h1m131.2-66.3h1m41.5-9.9h1m-28.8-2.5h1m-63.1 43.8h1m-203.9 23.2h1m47.4 10.4h1m156.6-25.8h1m-25 22.1h1m4.4-32.6h1m127.5-65.3h1m-157.7 116.3h1m-101.4 7.9h1m71.7 1.3h1m90.7-61.2h1m-43 16.6h1m87.7-26.6h1m-186.8 82.3h1m40.8-7.3h1m-113.8-5.1h1m213.9-53.5h1m-191.5 63.1h1m219.4-100.5h1m95.4-41.9h1m-7.2 7.6h1m-189.4 95.1h1m194.7-123.1h1m-167.5 118.4h1m-32.6 23.4h1m8.9-10.9h1m-47.6 11.3h1m4 0.7h1m133-77.4h1m-15.6 6.2h1m-185.8 110.4h1m34.3-23.3h1m260.5-147.4h1m-23.3 23.3h1m-17.6 8.3h1m-161.3 79.3h1m104.8-49.1h1m55.9-57.7h1m-303.8 132.1h1m258.7-102.8h1m-236.1 133h1m302.4-164.7h1m-59.5 26.2h1m58.7-40.7h1m-123.9 108.1h1m129.9-112.9h1m-285 176h1m258.7-135.7h1m-287.5 109.8h1m-50.3-17.7h1m236.8-39.3h1m-129.4 40.2h1m245.8-117.1h1m-93.9 58.1h1m63.7-52.9h1m-79.2 63h1m-101.6 35.1h1m181.2-76.5h1m-10.3 16.3h1m-318.9 98.6h1m75.6-15.8h1m32.5 15.2h1m239.9-127.7h1m-255.5 128.4h1m255.1-150.6h1m-13.6 25.2h1m-272.9 117.1h1m120.2-22.2h1m-62 14.1h1m213.7-114.7h1m11.6-5.4h1m-160.9 97.1h1m42.2-36.6h1m-112.2 81h1m188-121.4h1m-182.8 95.3h1m-99.1 27.5h1m133.1-23.8h1m-44.2 23.3h1m-9.9-8.1h1m35.7-35.2h1m191.9-95h1m-281 154.5h1m219.5-115.7h1m-64.2 22.6h1m-141.8 70.6h1m-37.5-2.2h1m25 22.6h1m28.9-19h1m114.9-58.7h1m-108.8 42.9h1m0.2 18.5h1m-50.3 1h1m-48.2 16.4h1m62.9 1.7h1m242.7-131.1h1m-307.9 116.8h1m184.7-63.7h1m-122.5 74.4h1m27.2-7.7h1m-51.3-34.4h1m68.6 16.7h1m124.6-70.1h1m-160.6 50.1h1m187.4-67h1m18.4-12.2h1m-19.9 22.2h1m-266.6 44h1m16.9 54.8h1m26.7-8.7h1m57.6-30.7h1m-64.6 29.6h1m56.6-5h1m153.3-108.5h1m-71.2 48.7h1m81-22.2h1m-189.4 85.3h1m127.1-75.5h1m-173.5 74.6h1m110-37.7h1m-87.3 15.1h1m-38.9 45.7h1m221.7-118.3h1m-133.8 66.5h1m130.2-51.6h1m-237.8 62.7h1m284.3-100.5h1m-279.2 120.8h1m245.4-92.9h1m32.7-38.2h1m-109.6 82.9h1m-190.3 44.2h1m16.1 15.6h1m178.2-74.4h1m132.1-71h1m-43.3 42.4h1m-205.8 77.6h1m139.6-64.7h1m-204.7 92.2h1m-36.1-40.2h1m105.6-6.5h1m19 4.1h1m-49.2 10.6h1m284.6-139.1h1m-192.8 131.2h1m169.8-105.9h1m-240.2 137h1m6.2-12.4h1m-82.9 6.7h1m328.5-149.4h1m-57.7 25.4h1m-152.3 115.9h1m122.6-84.6h1m-220 87.4h1m146.7-47.4h1m19.1-14.3h1m-88.2 55.4h1m95.7-59.4h1m-152.4 58.5h1m12.3 13.7h1m74.5-49.9h1m-152.3 54.8h1m289.1-134.2h1m-161.9 121.7h1m185-143.7h1m-12.4 25.9h1m-140.7 102.9h1m179.7-125.2h1m-296 129.3h1m180.5-63.1h1m-26.2 8.6h1m81.6-33.5h1m-17.2 7.5h1m7-10h1m39-45.3h1m-248.2 123.8h1m-18 45.1h1m172.4-88.3h1m-71.4 33.2h1m55.1-26.6h1m-22.1 13.7h1m-126 71.5h1m-15.1-3h1m26.1-29.4h1m216.9-94.3h1m-112.7 70.3h1m55.1-42.6h1m-40.9 25.4h1m-105 36.8h1m207.1-95.9h1m-232.1 115.6h1m-72.7 2.9h1m-25.9-33.5h1m210.2-34.2h1m-150.7 83.6h1m99-56.7h1m-124.3 35.4h1m265.1-95.8h1m-188.2 88.6h1m56.6-6.2h1m96.6-86.3h1m-59.1 44.7h1m6.1-1h1m-110.4 53.1h1m101.4-36.6h1m62.6-68.1h1m-86.1 82.8h1m-18.9 9.8h1m147.4-97.8h1m-283.5 92.1h1m39.8 31h1m110.1-68.4h1m25.8 10.5h1m-217.6 37.7h1m53.2 31.9h1m-34.7-20.9h1m228.2-68.9h1m12.5-26.1h1m-120.6 72.5h1m96.4-47.1h1m15.7-14.8h1m-83.2 64.4h1m183-134h1m-64.3 18h1m-5.5 15.8h1m-249.7 115.4h1m257.5-120.5h1m39.6 4h1m-13-12.1h1m-108.9 84.2h1m-216.6 36.8h1m154.5-24h1m147.6-79.9h1m-276.3 138.6h1m230-118.5h1m47.1-29.5h1m-214.9 131h1m197.9-101h1m-173.2 96.8h1m221.6-145.1h1m-304.7 126.6h1m267.9-110.2h1m-117.1 79.4h1m-46.4 24.8h1m-151.6 6.4h1m202.3-18.2h1m-67.2-7.6h1m98.3-32.8h1m-70.9 39.6h1m123.2-55.1h1m12.1-10.1h1m-114.6 72.8h1m-185.7 4h1m319.9-101.3h1m-111.6 69.4h1m-1-30.1h1m25 25.4h1m-205.9 75.2h1m206.9-91.9h1m-185.4 59.3h1m72.3-13.5h1m196-90.3h1m-298.7 95.3h1m304.5-95h1m-319.1 124.4h1m67.3-35.4h1m36.4 31.8h1m170.8-120.5h1m21.8-3.5h1m1.2-12.1h1m20 11.8h1m-53 22.6h1m46.5-32h1m-290.7 118.8h1m97.9-2.3h1m25.9-16.9h1m-120.6 15.8h1m284.5-108.7h1m-180.5 85.1h1m-63.8 41.2h1m-57.1-16.8h1m2.7 18.8h1m262-110.9h1m-66 32.1h1m-224.6 94h1m74.8-42.8h1m106.4-46.4h1m-181.7 84.6h1m135.8-50h1m-13.3 27.2h1m50.3-38.3h1m-63.5 44.4h1m185.6-110.3h1m0.7 3.1h1m-172.9 88.1h1m115.4-87.9h1m54.7 3h1m-202.2 93.1h1m22.2-26.2h1m124.6-53.8h1m-216.9 104.2h1m36.9-5.5h1m-17.8-13.2h1m171.5-68h1m-129.9 56.3h1m-72.6-8.9h1m246.2-69.2h1m-194.9 104.9h1m133.6-73.4h1m-222.1 62.2h1m-12.1-10.9h1m180.5-43.9h1m112.2-43.2h1m6.5-11.5h1m-122.6 76.6h1m-104.7 38.7h1m127.7-58.8h1m-1.5 18.3h1m5.5-8.8h1m-205.5 56.6h1m-6-27.5h1m34-15.9h1m242.3-48.7h1m16-16.1h1m-186.4 101.8h1m-46.2 18.7h1m246.8-150.7h1m-308.3 122.8h1m331.3-123.3h1m-209.5 112.8h1m86-57.9h1m-7.3 2.5h1m82.3-30.7h1m41.5-18.7h1m-48.3 36.4h1m-140.4 77.5h1m-81.2-0.4h1m-36.7-8.5h1m275.3-96.8h1m-88.6 28h1m-196.6 63.6h1m160.8-22h1m-197 25.8h1m72.3 27.1h1m232.6-101.7h1m-121.3 36.5h1m156.5-67.6h1m-234.4 106.7h1m-59.5 16.1h1m40 14.3h1m102.6-44.8h1m120.9-87.2h1m3.4-1.6h1m-54 43h1m-41.7 12.1h1m-5.5 16.4h1m-105.6 37.6h1m-20.5 6.2h1m-57.1 14.5h1m246.6-119.1h1m-170.5 92h1m-30-1.1h1m90.3-17.8h1m96.3-76.5h1m-279.2 96.9h1m303.1-76.2h1m-149 85.1h1m-120.6 11.8h1m247.8-104.4h1m-177.4 105.7h1m-15.2-30.6h1m171.1-55.2h1m-124.5 67.4h1m154.9-111.5h1m-54.1 49.1h1m39.5-6.5h1m7.4-29.2h1m-72.7 27.1h1m-179.7 94.5h1m6.4-19h1m184.5-69.6h1m-137.3 72.4h1m132.6-54.3h1m-135.4 39.8h1m23.4 6.5h1m194.9-110.8h1m10.3 5.7h1m-55.8 15.1h1m50.1-32.7h1m-119 90.6h1m42.6-33.5h1m-144.6 59.6h1m87.5-33.2h1m128.1-85.4h1m-43.2 32.7h1m-112 85.5h1m107.8-74.1h1m-249.7 85.4h1m109.7-1.3h1m32.5-7.5h1m-73.8 1.2h1m144.9-71.4h1m-165.8 67.6h1m157.8-53.5h1m-187 99.1h1m247.7-150.9h1m-133.6 104.6h1m-139.2 25.9h1m8.9-22.4h1m-21.4 38.6h1m86.7-16.1h1m154.2-112.4h1m-245.4 120.7h1m135.9-26.1h1m-39.6-1.4h1m202.8-130.1h1m-84 64.9h1m-231.3 51.7h1m15 22h1m29.5-13.9h1m-64.8-5.1h1m44 6.9h1m166.9-34h1m-202.4 45.5h1m302.2-99.8h1m26.1-18.8h1m-59.3 32.4h1m-213.9 100.4h1m83-51.8h1m30-10.5h1m-26.5 13.9h1m127.4-50.7h1m-105.5 38.6h1m-99.8 51.3h1m-35 22h1m-5-30.4h1m39.6 23.5h1m-1.9-24.6h1m195.1-80.3h1m-148 52.4h1m218.9-113.9h1m-322.1 161.1h1m16.8-1.5h1m183.7-81.7h1m-117 69h1m204-130.9h1m-224.4 139.5h1m168.7-107.1h1m-18.8 0.9h1m-214.6 75.5h1m269.2-69.6h1m-43.7 12.1h1m37.1-45.9h1m-286.1 109.1h1m153.5-8.4h1m165.4-99.7h1m-300.6 122.4h1m228.7-85.2h1m-198 71.9h1m130.6-32.6h1m-133.6 33.8h1m21.6-5.9h1m-88.3-1.6h1m25.6 50.3h1m168.2-58.6h1m-152.3 45.3h1m83.3-27.1h1m93.2-33.9h1m25.6-23.8h1m-9.8-4.2h1m-157.9 89.9h1m59.4-41.5h1m201.4-120.2h1m-288.5 172.9h1m-15.7-16.7h1m133-47.2h1m-101 8.3h1m268.7-139h1m-270.1 155h1m202-79.7h1m-179.6 63h1m-89.3 50.2h1m-2.2-18.4h1m263.7-104.2h1m-296.4 75.3h1m352.3-101.5h1m-290.5 125.9h1m278.7-116.3h1m-244.8 126.5h1m116.9-71.8h1m7.6 2h1m-80.5 60.4h1m186.1-108.7h1m-83.1 39.8h1m53.1-30.8h1m-43 36.5h1m-102.9 54.3h1m-108.2-19.8h1m276.2-82.3h1m-85.5 54.2h1m83.5-65.6h1m-147.1 83h1m-73.3 41.7h1m71.3-39h1m96.5-46.7h1m-220.1 92h1m10.8-20.4h1m55.9 11.4h1m189.3-114.4h1m-151.2 90.7h1m189.6-113.1h1m-104.3 63.5h1m27.9-11.5h1m-135.1 73.6h1m110.2-75.1h1m-158.1 64.4h1m-87.5 20.3h1m209.8-50.8h1m-161.3 74.6h1m116.3-42.1h1m-128.3 9.2h1m-41.8-7.2h1m310.2-99h1m-285.5 95h1m-23.3 27.8h1m81-4.5h1m-103.3-7.5h1m117.5 10.7h1m42.4-38.5h1m141.6-81.7h1m18.9 12.4h1m-129.5 68.2h1m-68.2 51h1m152.3-116h1m-186.6 80.9h1m113.9-18.3h1m-158.2 29.9h1m123-23.4h1m-52.7 15h1m88.2-29.8h1m-193.9 39.4h1m-22-3.5h1m182.3-10.1h1m-131.9 30.6h1m21.3-27.5h1m-40.4 41.3h1m-5.7-36.2h1m35.7-7.3h1m-7.9 31.4h1m-29.3-15h1m50.2 32.2h1m69.5-64.1h1m81.8-40.6h1m89.8-39.3h1m-301.9 103.8h1m150.4-27.7h1m-82.5 42.6h1m220.1-131.7h1m-115.4 81.5h1m-23.3 0.4h1m-82.4 47.5h1m141.9-71.2h1m60.6-18.2h1m-152.4 73.7h1m99.5-46.4h1m68.5-64.8h1m-288.1 109.6h1m66 7h1m55.4-6.1h1m156.8-114.6h1m-194 115.2h1m-12.6 17.4h1m173.7-82.9h1m-126.6 51.2h1m0.8-17.4h1m129.5-53.3h1m-104.3 51h1m-20.4 42.4h1m-102.5 42.7h1m166.9-101.7h1m-217.9 54.9h1m-24.1 12.2h1m39.1 5.5h1m174.2-61.5h1m142.7-93.6h1m-230.9 137.5h1m-9.6-5.5h1m-8.4 9.3h1m207.4-107.2h1m-118.6 80.4h1m-188.1 26.1h1m57 24.1h1m-25.7-8.2h1m139.7-38.9h1m-148.6 24.5h1m232.2-68h1m-133.7 38.3h1m63.2-0.1h1m60.7-53.8h1m-8.3 0.9h1m51.1-22.5h1m-220.2 93.7h1m120.8-39.4h1m-79.1 40h1m16.4 13.4h1m-111.2 8.1h1m192.6-74.2h1m-129.7 73.3h1m-105.6-18.7h1m213.8-48h1m-104.3 67.5h1m-48.4-17h1m-57.7 2.2h1m147.3 5.9h1m-13.3-9h1m154.8-86.9h1m-3-22.4h1m-85.7 59h1m-166.2 90.8h1m-9.5-30.1h1m93.6-8.6h1m87.7-61h1m-120 81.9h1m226.6-147.3h1m-317.6 158.9h1m243.4-91.9h1m-111.2 53.5h1m33-15.5h1m-123.7 64.8h1m272.8-165.1h1m-125.5 91.9h1m-178.1 53.9h1m93-6.4h1m-22.3-11.9h1m-51.8 31.3h1m-53.2-22.4h1m189-31.3h1m-139.8-12.6h1m251-58.9h1m-303.8 85.9h1m49.7 41.7h1m-51.5-27.6h1m349.3-136.7h1m-78.6 58.7h1m-155.9 74.4h1m172.4-110.9h1m-134.1 82.6h1m96.5-36.7h1m-125.5 52.5h1m203.6-106.1h1m-188.8 110.9h1m5.2-35.7h1m127.6-43.2h1m-193.8 105.9h1m162.8-92.4h1m-42.9 18.2h1m-168.7 68.6h1m243.7-120.7h1m-21.2 31h1m-16.3 16.3h1m-20.5 7.7h1m-168 60.5h1m231.6-124h1m23.9-6.4h1m-223.6 126.2h1m173.8-87.9h1m-139.4 66.6h1m-149.2 18.6h1m272.3-100.3h1m-3.8 18.4h1m-4.8 6.3h1m-184.8 71.9h1m71.2-3.5h1m-38.1 12.4h1m-56.8 8.2h1m-64.4-23.8h1m72.6-1.6h1m239.5-90.6h1m-147.6 55.3h1m-82.2 44.7h1m59 6.7h1m-84.5 25.6h1m154.1-91.3h1m37.9-6.2h1m-7.3 0h1m108.3-62.2h1m-278.2 107.5h1m221.5-67.9h1m-96.8 46h1m29.9-20.6h1m-206.5 52.4h1m250.2-66.7h1m8.8-12.7h1m-261.9 104.4h1m0.6-15.9h1m267.7-81.7h1m-7-8h1m39.9-38.7h1m-201.6 112.2h1m26.4-17.3h1m-147.4 61.8h1m196.9-86.9h1m103-47.2h1m-269.5 133.6h1m187.5-90.7h1m-49.6 31.2h1m-29.6 0.7h1m135.9-52.4h1m-73.6 46.2h1m-200 59.7h1m221.4-85.9h1m-73.8 22.3h1m92.7-51.1h1m-182.6 73.1h1m37.2 15.6h1m231.8-142.9h1m-250.8 163.5h1m158-96.6h1m-259.8 58h1m18.8 44.4h1m246.1-102.6h1m-205.7 76.2h1m157.8-44.5h1m82.5-43.9h1m-280.9 91h1m38.2 18.3h1m214.7-106.8h1m-170.9 85.7h1m-96.2 5h1m290.8-99.6h1m-237.8 100.7h1m-41.5-8.5h1m-9.7 11.1h1m39.5 24h1m36.6-55h1m153.5-53.5h1m-31.3 20.3h1m-222 35.6h1m328.3-106.2h1m-154.8 113.5h1m-23.1-3.1h1m-51.9 15.6h1m-27.2 12.9h1m226.3-103.3h1m-242.2 80.6h1m114.7-4.3h1m-163.1 43.9h1m162.4-47.2h1m142.8-94.5h1m-185.9 106.7h1m11.4-24.1h1m-37.9 30.5h1m64.3-17h1m-68.2 28.3h1m56.8-28.6h1m5.1-0.6h1m116.8-67.8h1m15-21h1m-91.2 51.3h1m-109.9 61.3h1m109.9-48.4h1m70.1-36.8h1m18.5-17.5h1m-266.6 104.1h1m70.8-19.7h1m-48.3 16.1h1m156.7-57.4h1m34.7-22.6h1m-253.2 74.2h1m-5.6 31.5h1m329.5-173.4h1m-49.7 40.8h1m-240.8 108.5h1m34.9-7.2h1m52.5-13.9h1m-145.1 15h1m127.6 14.3h1m60.6-63.1h1m-117 79.3h1m-28 11.1h1m-47.1-30.4h1m117.2-20.4h1m157.1-70.1h1m-26 19.1h1m53.3-48.3h1m-148.5 90.8h1m-113.1 32.4h1m214.1-78.7h1m-104 53.9h1m146.4-110.8h1m-147.6 117.4h1m-80.2 37.2h1m-71.7-50.8h1m287.4-88.1h1m-285.5 114.5h1m134.6-32.2h1m-80.5 53.4h1m7.2-34.9h1m101-26h1m-11.2 21.9h1m-148.6 25.3h1m218.9-80.7h1m-66 49.6h1m-133.3 36.5h1m5.2-13.5h1m204.6-88.6h1m-223.3 80.2h1m50.2 9.2h1m200.1-112.8h1m-148 107.1h1m60.7-40.7h1m118-62.3h1m-212.8 103.3h1m243.2-143h1m-54.7 31.3h1m-258 133.5h1m124.5-53.2h1m-93.3 52.4h1m223.8-110.6h1m-18.1-8.4h1m-242.4 128h1m177.2-72.8h1m58-43.9h1m-161.7 101.9h1m172.5-91.7h1m-261.2 56.7h1m239.2-80.7h1m-206 115.9h1m282.5-154.3h1m-309 175.5h1m132.8-52.2h1m-55.1-0.3h1m-34.3 23.7h1m107.9-35.9h1m9.3-27.5h1m65.3-25.3h1m-166.9 88.8h1m-101.6-26.8h1m39.3 4.1h1m185.9-59.5h1m9.7 2.8h1m72.4-47h1m27.4-25.8h1m-227.4 144h1m-33.1-18.8h1m206.7-76.9h1m38.8-34.4h1m-165.1 119.2h1m-14.3 10.3h1m-31.4-28.7h1m126.4-51.3h1m70.9-24.1h1m-96.9 58.8h1m-28.6-10h1m28.7-28.9h1m-130.8 89h1m-75.7-0.1h1m254-79.4h1m-75.2 38.6h1m99.4-87.7h1m-180.5 133.6h1m43.8-42.4h1m-16.6 17.1h1m-92.2 41.8h1m176.8-100.6h1m-34.2 4.6h1m-67 54.4h1m171.5-96.1h1m-184.8 125.7h1m-135.4-33.8h1m318.8-104.1h1m-279 126.9h1m248.4-117.7h1m-239.3 97.2h1m40.1 3.6h1m229.1-100.2h1m5-13.8h1m-264.1 153h1m223.8-125.9h1m58.1-61.5h1m-284.2 194.3h1m170-97.4h1m-147.9 64.1h1m-71.7 31.6h1m204.3-71.1h1m2.6-9.3h1m-182.1 68.4h1m224.7-97.1h1m-64.8 36h1m-214.4 56h1m186.8-35h1m-6 2.3h1m-168.2 29h1m274.7-110.1h1m-108.3 61.2h1m25.3-39.4h1m80.2-19.3h1m-150.1 79.8h1m164-102.8h1m-252.7 120.8h1m-44.8 19.7h1m6.9-0.4h1m65.1-29.6h1m203.7-95.4h1m-281.7 105.7h1m35.8 25.3h1m236.8-112.5h1m-182.8 99.9h1m159.6-91.9h1m-25.5 15.5h1m-74.6 44.8h1m75.2-70.2h1m-204.3 70.9h1m148.7-9.2h1m79.1-45.7h1m-54.9 8.4h1m93.3-25.1h1m-251.1 74.2h1m-34.4 43.8h1m191.5-76.2h1m-166.9 66.3h1m84-35.5h1m55.6-14.8h1m-140.8 20h1m84.8 1.1h1m97.7-44.3h1m-231.3 64.4h1m332.3-128h1m-103.3 46.7h1m-140 72.7h1m252.7-156.6h1m-224.3 156.4h1m-57.4 19.8h1m171.4-94.1h1m38.2-0.2h1m-161.1 79.8h1m-12.6-15.5h1m-50.6 30.7h1m61.3-35.2h1m201.4-123.4h1m-284.6 171.8h1m118-52.2h1m117.9-58.5h1m-72 34.6h1m-168.8 80.1h1m248.9-142h1m-41.2 39.4h1m-156.2 55.5h1m-32.5 8.9h1m-63-18.7h1m238.2-57h1m-78.2 65.8h1m178.9-123.5h1m-155.6 102.8h1m92.3-56.3h1m-255.6 82.1h1m123.6-1.9h1m-85.6 23.3h1m136.8-52.8h1m-12.4 9.2h1m-53.6 26.4h1m-74.9 4.4h1m6 9.1h1m189.5-104.8h1m-131.9 97.4h1m9.4-22.7h1m141.3-74.8h1m-23.3 9h1m-92.3 70.8h1m-88-0.3h1m52.9 17.9h1m-32.4-19.3h1m128.7-60.8h1m32.4-9.6h1m-0.3 0.6h1m-185 92.1h1m84.2-46.4h1m-63.9 36.5h1m56-28.8h1m125.4-73.3h1m40.1-36h1m-106.4 69.7h1m-174.5 73.2h1m-12.7-16.8h1m87.2-9.7h1m4.8-21.1h1m165.7-47.3h1m-195.7 85.6h1m139.3-63.3h1m3.8 4.2h1m-219.3 99.5h1m268.2-148.4h1m-102.5 71.9h1m6.7-10h1m-95.4 53.3h1m3.7-17.4h1m129.7-53.1h1m21.9-0.5h1m62.3-59.7h1m-81.2 62.8h1m-256.3 78.1h1m50.7 2.6h1m126.7-47.8h1m-121.4 28h1m81.9-19.2h1m189.7-100.3h1m-319.8 154.9h1m173.5-50.5h1m41.5-49.2h1m18.8-21h1m80.3-25h1m-86.1 35.5h1m-50.7 26.7h1m-57 58h1m-77.8 24.4h1m-67.6-22.4h1m-4.4-7.6h1m45.8-0.1h1m-25.5 19.3h1m35.5-48.1h1m20.3 34.4h1m210.9-102h1m-172.3 111.4h1m63.9-41.1h1m-125.9 45h1m2.2-10.6h1m197.1-84.4h1m-224.4 88.1h1m129.2-24.6h1m-55.5 23.1h1m168.6-95.3h1m-67.4 38.5h1m-209.7 60.2h1m78-15.6h1m109.4-38.7h1m-116.3 49.3h1m40.2-8.6h1m-100.8 27h1m69.2-24.7h1m-106.8-16.9h1m157.1 11.6h1m67.1-43.2h1m89.4-66.6h1m-92.2 64.9h1m-104.6 61.4h1m238.5-134.6h1m-117.1 61h1m-106.4 52.9h1m-140.2 11.5h1m287.8-113h1m-269.3 110.5h1m96.6 2.8h1m115.2-59.1h1m-26.8 19.4h1m5-6.3h1m0.5-7.8h1m-143.9 45.1h1m-52.4 7.2h1m282.4-86.9h1m-237.9 87h1m153-52h1m19.5-4h1m69.2-61.3h1m-187.8 95.8h1m60.3-5.7h1m-54 37h1m154.3-114.4h1m-155.4 114.3h1m-14.8-25.7h1m-85.8 41h1m4.9-25.3h1m100.4-17.9h1m170.9-116.6h1m27.1 3.7h1m-317.1 145.7h1m319.1-140.4h1m-27.1 15.4h1m-214 115.1h1m213.6-105.7h1m-21.7 8.7h1m-34.5 17h1m-9.4-0.6h1m80.3-67.7h1m-163.5 123.6h1m-24.4 6.3h1m79.7-53.6h1m40.5-1.9h1m-15.4 8.6h1m-97.3 19.2h1m-0.8 18.8h1m85.6-68.5h1m-258.8 78.4h1m273.2-52.6h1m-123.7 43.8h1m-130.6 32.8h1m288.4-120h1m-14.4 9.3h1m-15.8-1.7h1m-194.9 117.7h1m-45.1 2.9h1m105.9-20.9h1m188.4-127.8h1m-326.4 104.2h1m189.5-2.5h1m-5-27.6h1m-168.5 68h1m288.2-118.7h1m-55.5 22.3h1m-89.6 78.6h1m163.9-129.5h1m-334.1 125.6h1m320.1-100.3h1m-65.6 34.3h1m-251.1 74.4h1m56.5 18.1h1m3.1 3.1h1m260-146.8h1m-237.8 126.3h1m182.9-97.1h1m-265 69.1h1m171.1-15.8h1m-99.5 60h1m67.7-22h1m-142.1-12.7h1m192-24.4h1m3.8-22h1m-211.4 40.9h1m11.9 32.7h1m172.1-33.3h1m36.9-45.9h1m102.4-48.3h1m-297.8 126.7h1m156.9-34.6h1m-174.5 33.9h1m77.2 7h1m-76.3 15.3h1m266.4-144.8h1m-58.8 55.9h1m-204.9 83.4h1m101.8-31.3h1m217.9-125.6h1m-281.9 162.6h1m10.6-21.9h1m-57.8 9.4h1m93.3-8h1m118.9-70.4h1m-63.2 31.7h1m-95.5 7.8h1m219.7-79.3h1m-217.7 112.5h1m-23.9 1.8h1m-25.9-18.8h1m107.3-0.3h1m-15.2 3.5h1m-95.3-0.7h1m231.5-87.1h1m-51.2 50.9h1m-70 40h1m-115.5 1.6h1m207.3-69.3h1m-151.2 78.2h1m51.8-24.1h1m-92.6 6.3h1m76.1 5h1m-107.4 21.7h1m247.3-97.5h1m-5.2-4.4h1m-115 58.7h1m151.2-92.1h1m-60.3 47.3h1m-184.7 79h1m199.7-85.9h1m-172 99.1h1m44.2-31.6h1m99.8-41.3h1m-195.1 65.3h1m101.5-42.9h1m-1.1-7.2h1m-21.8 9h1m-23 33h1m178.5-123h1m-44.3 31.8h1m-25.4 45.8h1m-174.1 45.4h1m-44.8-21.6h1m253.7-56.5h1m-119.6 52.2h1m-38.6 24.9h1m197.7-90.7h1m-284.4 109.6h1m173.6-72.3h1m44.9-6h1m53.5-32h1m-282.9 106.4h1m106-27.9h1m-93 12.6h1m248.2-81.3h1m-203.9 95.3h1m16.1 4.1h1m9.9-28.2h1m-7.1-1h1m36-12.1h1m213.8-104.7h1m-188.9 116.4h1m-93.5 29h1m68.6-19.5h1m7.8-5.4h1m127.2-88.3h1m-1.1 4.5h1m-2.8 4h1m-115.9 58.3h1m129.5-73h1m-140.4 82.9h1m130.9-55.9h1m-166.8 67.6h1m137.3-76.9h1m-243.5 89.9h1m260.1-101h1m-60.6 45.6h1m-108.4 27.2h1m63.5-10.6h1m19.6-3.6h1m-137.2 20.3h1m284.3-107.1h1m-158.9 103.9h1m175.4-111.3h1m-80.2 54.5h1m-75 42.3h1m-126.4 41.9h1m-68.2-26.7h1m259.4-61.5h1m50.3-42.7h1m-312.5 93.5h1m159.6 1h1m98.3-48.9h1m-230.4 84.6h1m-20.3 2.8h1m332.1-172.1h1m-284.2 148.6h1m-48.5 36.2h1m210.7-96.3h1m73-48.5h1m5.8 2.6h1m-227.4 97.4h1m89.8-4.9h1m104.1-70h1m3.1-14h1m-38.7 45.2h1m-73.7 41.3h1m119.7-92.3h1m28.7-2.5h1m-125 76.9h1m34-26.3h1m-117.9 24.7h1m102.1-1.5h1m116-99.7h1m-103.1 69.1h1m60-37.6h1m16.8-2.1h1m-119 48.7h1m7.5 20.7h1m-21.4 24.7h1m-178.3-20.5h1m325.4-104.5h1m-299.3 132.3h1m207-62.1h1m39.2-43.5h1m56.3-15.3h1m-41.6 14.3h1m1.5 3.2h1m-122.3 84.8h1m141.7-98h1m-243.1 153.7h1m37-24.5h1m-71.1 14.1h1m26.8-18.2h1m81.2-19.8h1m108.1-58.5h1m26.6-24.6h1m-158.5 91.1h1m202.4-142.9h1m-118.9 94.8h1m-161.3 78.3h1m208.6-95.3h1m-157 77.6h1m143.8-99.9h1m-154 104.5h1m46.2-7.7h1m4.9-24h1m-109.4 22h1m181.5-71.1h1m-60.4 44.3h1m-101.6 49.2h1m194.7-120.3h1m-52.3 54.2h1m-30.8 2.1h1m-82 35.4h1m191.2-108.4h1m-285.2 103h1m58.6 24.7h1m196-86.5h1m-100.5 68.6h1m-69.4-8h1m198.6-87.4h1m-62.1 11.4h1m0.7 33.7h1m87.8-56.9h1m-338.9 122.8h1m155.2-26.1h1m88.3-41.2h1m2.8-22.7h1m-73.9 61.6h1m146.5-105.2h1m-80.3 57.3h1m42.2-28.1h1m-207.4 108.9h1m136.4-77.6h1m-187.2 72.3h1m172.6-69.2h1m44.3-31.9h1m-41.9 53.4h1m3.6-7.9h1m-135.5 53.4h1m266.4-145.3h1m-251.4 131.4h1m3.9 26.2h1m-114.2-32.3h1m230.1-28.2h1m108-89.9h1m-31.2 35.6h1m-58.7 17.3h1m-83.3 69.4h1m-4.9 2.6h1m-50-6.6h1m-91 17.6h1m186.6-42.2h1m-97.9 35.4h1m-85.2 3.7h1m95.7-3.8h1m153.7-79.8h1m-1.8-13h1m-36.8 50.6h1m-143.2 58.2h1m100-53.6h1m48.3-30.6h1m-15.3 32.3h1m-77.9 2.1h1m-41.5 43.2h1m204.2-112.4h1m-194.1 118.4h1m67.2-42.8h1m148.7-96.6h1m-109.5 67h1m-99.1 55h1m90.1-57.1h1m-132.1 66.2h1m-51.8-7.9h1m74.1-1.6h1m-119.5-9.4h1m218.2-40.6h1m65.5-31.8h1m-214.7 117h1m-82.3-29.9h1m239.9-63.2h1m-147.8 78.3h1m-14.6 13.2h1m204.1-110.8h1m-165.5 58.9h1m102.5-22.5h1m-1.2-1.5h1m87.2-53.5h1m-118.1 69.1h1m51.6-42.8h1m-110.6 53.7h1m124-70h1m-161 113h1m119.9-62.6h1m52.1-38.8h1m-98.4 61h1m-36.6-5.4h1m203.4-96.6h1m-85.1 36.1h1m-171.5 81.3h1m210-118.5h1m-115.6 75h1m-183.8 39.7h1m350.6-128h1m-338.3 114.3h1m282.5-73.9h1m-135 85.5h1m153.2-99.8h1m-143.6 75.3h1m-51.7 33.7h1m109-71.4h1m-153.7 83.6h1m163.5-72.2h1m37.7-26h1m-205.5 92.6h1m77.8-21h1m123.8-88.6h1m-201.8 104.9h1m-83.1-7.5h1m345.1-121.5h1m-315.7 152.6h1m153.6-67.8h1m-6.7 14.2h1m144.4-98.8h1m-181.3 129.7h1m12.8-8.3h1m167.8-128.2h1m-83.6 73.1h1m-57.7 32.9h1m101.1-58.9h1m55.5-41h1m-106 69.5h1m-93.3 43.3h1m-88.4 18.2h1m-6.1 29.2h1m231.1-123.1h1m-281.3 118.5h1m221.5-101.8h1m35.6-17.9h1m-241.6 92.2h1m-23.8 11.9h1m125.9-19.6h1m11.8-17.7h1m39.4-6.6h1m65.1-32.4h1m-190.8 76.3h1m9.7-21.6h1m192.4-100.7h1m83.4-18.4h1m-244.7 125h1m114.2-42.3h1m-88.8 47.4h1m-31.5-1.5h1m-99.8-1.6h1m221.9-45.4h1m-156.5 60.4h1m141.7-60.3h1m-144.6 66.3h1m-50.4 14h1m303.5-156.5h1m-320.3 107.9h1m260.8-61.5h1m-84.5 46.6h1m-121.7 30.3h1m103.5-16.7h1m-144.7-3.1h1m318.7-125.3h1m-318.2 177.3h1m154.6-78h1m137.5-66.9h1m-146.1 71h1m74.3-20.8h1m-142.3 55.3h1m144.1-56.8h1m-202.8 68h1m219.4-105.5h1m-24.6 13.7h1m7.5-17.1h1m25.3 15h1m-39.1 18.6h1m-225 78.7h1m181.9-39.6h1m102.6-69.7h1m-177.3 89.6h1m-115.9 37h1m-18.4-56h1m155.4 22.3h1m-145.7-0.9h1m210.9-46.3h1m11.1-20.1h1m-204.3 69.4h1m245.5-74.5h1m-232.6 119.2h1m166.3-80.7h1m67.7-67.3h1m-112.6 87.5h1m-174.6 15h1m216.9-34.7h1m-188 68.2h1m57.2 1.1h1m119.5-60h1m24.9-32.4h1m14.8 3.3h1m-81.3 47.7h1m-115.1 6.3h1m-66.1 10.1h1m84.8 20.8h1m35.2-4h1m221.4-136.1h1m-285.1 141.9h1m142-55.6h1m-40.6 11.9h1m-106.4 32.3h1m-15.7-25.1h1m36.9-0.2h1m219.9-89.1h1m-123.3 85.4h1m-35.6-0.6h1m-130.6 2.3h1m302.2-109.1h1m-96.4 57.4h1m-90.4 66.2h1m-94.6 2.4h1m306-122.8h1m-95.2 50.1h1m-172.3 64.6h1m178.5-62.6h1m-2.7 6.4h1m-215.3 83h1m104.7-15.8h1m-37.2-21h1m128.3-43.3h1m-196.5 87.7h1m-11.3-6.9h1m315.3-156.1h1m-254.5 135.2h1m256.5-145.7h1m-80.8 77h1m-169.6 64.5h1m180.1-99.8h1m-138.7 87.1h1m100.8-52.6h1m31.1-14.8h1m-172.3 86.2h1m34.9-22.1h1m85.8-52.4h1m-95.6 53.9h1m-139.4-4.3h1m280.9-57.4h1m-121.3 42.9h1m-65.7 52.5h1m-71-9.8h1m103.6-23.4h1m43-10.6h1m-115.1 41.7h1m265.9-122.3h1m-149.1 63.6h1m-20.3 30.9h1m25.3-17.1h1m-10.7 17.1h1m-110.9 47.4h1m-9.5-39.1h1m202.3-79h1m-232.2 119.5h1m80.7-32.4h1m-100.1-14.9h1m203.1-29.1h1m28-10.6h1m-258.8 39.8h1m337.9-110.8h1m-221.9 126.1h1m-5.6 7.3h1m139.8-76.5h1m47-23.9h1m38.7-24.7h1m-297 115.9h1m238.6-78.3h1m56.8-42.3h1m-73.8 40.5h1m11.7-17.1h1m3.3 6.6h1m-93.2 41.1h1m-120.9 49h1m183.9-83.3h1m34.8-16.3h1m-161.6 87.7h1m-89.2 21.7h1m55.9 9.9h1m13.7-39.5h1m-105 10.2h1m184.5-23.5h1m151.4-111.3h1m-127.2 88.3h1m-119.9 65.9h1m229.3-121.3h1m-159.1 96h1m3.3 6.2h1m62.6-39.9h1m-63.7 19.9h1m56.8-50.6h1m16.2-5.7h1m-194.3 111h1m123.7-44.1h1m-71.1 35.8h1m199.7-128.7h1m-139.7 85.2h1m2.3-7.9h1m-120.4 33.2h1m135.1-32.5h1m-156.1 52.8h1m90.7-26.6h1m35-18.2h1m126.1-64.3h1m-175.5 73.5h1m202.8-89.8h1m-320.2 84h1m307.1-103.9h1m-308.5 114.8h1m45.3 11.9h1m181.8-66.4h1m-86.9 34.6h1m-58.3 35.3h1m210.3-117.4h1m-79.9 68.5h1m100.6-72.7h1m-270.1 134.4h1m67.3-26.3h1m-31.1 9.6h1m160.1-66.7h1m-120.9 63h1m-81.8 36.3h1m82.3-49.9h1m145-89.8h1m-55.5 52.4h1m-28.1 6.3h1m-39.7 37.3h1m1.4-8.9h1m160.4-102.2h1m-10.5 7.4h1m-228.7 138.2h1m210.7-115.4h1m-204.7 85h1m174.6-67.2h1m-131.6 61.1h1m107.3-61.3h1m-37.5 18.3h1m-27.5 29.9h1m-188.2 27.9h1m241.9-88.5h1m-165.2 109h1m85-64.3h1m141.5-67.5h1m-53.8 34.5h1m55.2-21.7h1m-218.4 114.4h1m-91.3-13.2h1m303.2-96.2h1m-209.6 106.8h1m37.9-9.7h1m31.4-31.7h1m-66.3 36.2h1m127.5-73.1h1m-179.2 80.9h1m204.7-89.4h1m-32.7 9.3h1m-209.8 68.6h1m231.2-67.9h1m-256.7 34.7h1m260.4-55.1h1m-20.5 6.3h1m-12.4 19.1h1m-40.7 7.7h1m-83.7 40.3h1m-75.6 20h1m180.1-52.8h1m119-92.9h1m-67.2 61.4h1m-16.1 2.7h1m64.1-33.3h1m28.2-45.5h1m-4.1 20.6h1m-230.5 122.7h1m47-18.4h1m131.7-58.1h1m-195.8 80.9h1m101.7-53.2h1m-71.6 51.9h1m87.8-69h1m1.4 24.6h1m82.4-66.2h1m2.2-2.4h1m-261.5 149.1h1m180.9-82.9h1m-70 34.1h1m-119.9 34.8h1m100-17.9h1m-59.5 1h1m-58.6 27.4h1m264.9-128.1h1m-17 24.4h1m51.7-43.2h1m-30.3 17.1h1m-98.8 64.8h1m-147.6 62h1m221.7-112.7h1m-77.8 28.4h1m-37.4 22.8h1m-97.5 32.4h1m-31.6-2.7h1m-32.8 0.9h1m322.9-136.8h1m-216.6 144.1h1m-108.7 1.4h1m192.1-48.2h1m-136.8 35.4h1m149.2-33.1h1m-133 45.8h1m166.3-99.8h1m-149.5 104.9h1m203.3-116.4h1m-269.5 122.1h1m159.8-65.7h1m-192.6 37.2h1m326.9-100.7h1m-179.1 93.6h1m-11.4 17.1h1m68.3-37.1h1m33-24.4h1m106.4-69.5h1m-54.4 33.7h1m-26.9 23.5h1m-180.5 77.9h1m-29.4 21.4h1m63.3-37h1m179.3-85h1m-234.8 95.1h1m260.6-144.1h1m-297 166.3h1m162.9-87.1h1m113.7-39.4h1m-105.4 58.3h1m34-12.9h1m92-78.1h1m-247.9 159.4h1m50.7-44h1m-133.6 55.2h1m40.8-22.4h1m225.8-87.2h1m-204.8 97.3h1m197.7-116.7h1m24 5.5h1m-150.3 75.9h1m-56.1 35.7h1m141.1-81.6h1m-210.6 73h1m16.2 18.9h1m122.1-66.9h1m-118.8 56.3h1m-39.1 11.2h1m6.4 4.2h1m13.1 2.1h1m12.6-5.3h1m156.3-83h1m-124.1 78.5h1m92-36.2h1m43.7-36.3h1m-1.3-2.2h1m-18-7.3h1m64.4-10.6h1m-115.5 47h1m-126.2-7.1h1m251.1-66.3h1m-253.7 96.1h1m130.3-30.3h1m63.2-43.7h1m-103.5 64.5h1m-12.4 20h1m-74.7-15.4h1m-23.2 28.2h1m184.5-79.7h1m75.2-25.5h1m-1.5-3.8h1m-104 71.4h1m62.5-40.7h1m56.2-40.4h1m-294.1 105.4h1m251.4-93.9h1m-146.1 79.1h1m102.6-47.8h1m-126.8 56.8h1m210.9-96.8h1m-54 36.6h1m-138.3 54.4h1m97.6-33h1m15.1-22.3h1m92.5-64.1h1m-310.2 130.5h1m86.9-24.3h1m96-16.3h1m-91.5 28.2h1m-111.6-26h1m84.8 33.8h1m43.2-1.2h1m36.5-43.6h1m-154.2 56.5h1m245.6-99.8h1m46-10.6h1m-52.5 32.6h1m-94.9 33.9h1m186.2-119.4h1m-149.9 105.1h1m55.3-21h1m8.6-16.1h1m45.4-13.5h1m38-42.1h1m-325.6 162.8h1m20.9-49.2h1m74.3 4.9h1m-101.6-4.4h1m235-61.2h1m-181.5 88.1h1m25.9-13.1h1m116.5-41.9h1m18.2-17.8h1m-51.9 39.4h1m70.5-56.1h1m-256.3 91.5h1m235.8-92.2h1m27-11.9h1m-57.1 38.2h1m134.5-67.2h1m-4.6 3.8h1m-70 20.7h1m-178 102.2h1m238.9-132.9h1m-26.5 5.8h1m-96.9 72.8h1m21.7-31.6h1m-38.8 33h1m60.3-16.7h1m-49.6 28.8h1m-34.6 4.9h1m139.7-88.1h1m-260.9 141.1h1m212.4-110.4h1m-263.4 74.5h1m306.9-106.8h1m-236.1 136.8h1m220.8-111.8h1m-2.7-26.7h1m17.1 2h1m-144 101.7h1m-130.1 38.2h1m147.5-78.3h1m137.5-74.4h1m-334.9 109.3h1m154 17.3h1m-115.1 25.6h1m232.4-107.9h1m-156.9 80.7h1m-72.2 29.1h1m-52.8-26.6h1m121.8 13.4h1m91.1-63.6h1m-163.4 46h1m42.1 6.3h1m85.1-31.8h1m-62.3 38.3h1m-25.4-14.3h1m203.1-72.8h1m-222.2 103.3h1m-69.9-19.7h1m-16 8.9h1m131.2-9.2h1m131.8-75.1h1m-260.2 75.1h1m323.4-113.5h1m-209 96.9h1m108.6-24.2h1m-180.9 66.6h1m293-157.4h1m-192.5 117.3h1m115.4-88.8h1m-43.1 24.1h1m71.8-5h1m-133.4 80.7h1m-17.7 6.9h1m145.2-89.6h1m-206.2 103.8h1m176.3-109.5h1m37.8-0.4h1m42.1-41.2h1m-4.7-14.7h1m-138.6 106.3h1m-184.4 38.5h1m-20.6-10.3h1m111.4 14.6h1m161.1-91.3h1m-96.7 81.5h1m-92.8 30.2h1m148.3-89.9h1m19.4 6.8h1m-169.7 83.8h1m-23.1-25h1m131.3-36.3h1m-204.9 45.4h1m343.7-135.4h1m-104.5 75.9h1m-37.8 21.1h1m64.8-47.9h1m-125.8 63.5h1m198.3-109.6h1m-23-1.3h1m-160.9 121.1h1m100.7-58.2h1m15.6-15.5h1m-209.7 91.9h1m63.1-24.6h1m-113.2 6h1m-4.6 1.8h1m219.3-65.3h1m-41.9 46.3h1m-207.1 3.2h1m106.7 35h1m28.6-31.9h1m-46.6 28.5h1m28.2 1.3h1m-44.2-7.6h1m105.7-27.9h1m19-24.9h1m52.1-27.4h1m-132 70.1h1m107-47.4h1m-222.2 72.4h1m290.7-123.5h1m-246.1 110.1h1m-28.4 21.4h1m8.7-24.6h1m240.2-83.6h1m-162.8 85.2h1m-59.9 24.4h1m-19 7.8h1m1.6-55.2h1m-24.1 34.2h1m-7-15.5h1m338.6-122.8h1m-243.7 109.1h1m222.4-108.6h1m-254.6 141h1m-1.4-2.8h1m-81.8-5.9h1m173.1-46.6h1m54.5-40.9h1m-192.9 72.5h1m251.8-79.6h1m-92.8 49.9h1m150.6-87.3h1m-77.1 48.4h1m-207.7 74.1h1m-52 8.6h1m194.9-54.7h1m-52 26.9h1m195.5-120.6h1m-225.9 126.8h1m-109.4-4.5h1m72.2 31h1m19.1-4.7h1m-96 5.3h1m263.8-110.7h1m-266.3 116.5h1m143.6-35.9h1m54.3-17h1m-69.4 10.4h1m-54 11.2h1m71.4 2.5h1m-31.3 4.5h1m138.9-79.3h1m-260.5 89.3h1m151.7-29.6h1m20.6-24.7h1m-139.5 83.8h1m11.4-27.2h1m168.3-82.6h1m18.3-4.3h1m-68.4 34.9h1m82-30.4h1m-203 61.6h1m245.9-129.3h1m-244.2 160.8h1m17.2-31.4h1m131.8-47h1m-124.4 61.5h1m-56 15.2h1m37.1-0.2h1m118.5-67h1m-136.3 65.2h1m56.4-11.4h1m5.3 0h1m136.2-87.2h1m-218 88.7h1m275.4-111h1m-268.2 128.6h1m96.7-45.5h1m-72.4 1.1h1m118.9-8.9h1m-181.9 42.5h1m217.3-64.3h1m-33 9.7h1m-115.6 49.9h1m-40.4-1h1m232.5-108.4h1m-292.3 115.2h1m113.1-15h1m133.6-82.4h1m-15.3 20.6h1m94.8-73.1h1m19 16.1h1m-85.7 53.7h1m-139 52.2h1m166.9-83.9h1m-32.2 27.5h1m-210.7 109.1h1m145-79.1h1m-88.4 42.1h1m105.7-52.5h1m-53.9 23.3h1m46.1-10.1h1m-157.2 56.5h1m-5.1-28.8h1m117.6-23h1m81.2-31.7h1m27.5-19.2h1m-61.3 40.6h1m-45.2 35.6h1m92.2-86.8h1m-20.9 30.3h1m-85 44.6h1m43.8-38.1h1m-118.5 85.2h1m194.7-114.1h1m-93.7 42.7h1m129.7-76.4h1m-19.1 27.8h1m-21.1-7.4h1m-266 114h1m154.1-39.5h1m-102.2 29.3h1m214.8-99.9h1m-178.6 96.3h1m27.7-13.3h1m68.5-45.6h1m-180.7 84h1m51.3-6.6h1m168.5-94.7h1m28.3-11.4h1m-207.3 80.5h1m-9.8 36.1h1m142.6-82.4h1m37.9-12.4h1m-198.5 63.5h1m5.5 36.1h1m57.3-40.7h1m82.6-40.7h1m-139 60.5h1m195.4-95.5h1m-248.8 72.4h1m194.6-45.5h1m-12.7 27.6h1m31.1-33h1m20-6.3h1m-0.2-6.9h1m7.8-15.3h1m49.3-14.5h1m3.9-12.1h1m-46.1 41.8h1m-191.7 81.8h1m-81.8-14.5h1m3.5 21.2h1m307.4-116.4h1m-198.7 90.2h1m178.8-73h1m35.6-34.3h1m-101.7 58.8h1m-221.5 46.1h1m27.2 10.9h1m251.8-84.1h1m-177.8 104.4h1m213.9-125.5h1m-182.7 84.5h1m-90.2 8.8h1m180.2-49.3h1m-138.3 70.5h1m217.5-125.5h1m-65.2 36.1h1m0.5 16.5h1m-38.5 22.9h1m97.9-57.5h1m-23.3 9.7h1m-240.4 99.7h1m257.5-119.2h1m-288.1 139.9h1m264.8-114.2h1m-127.8 43.7h1m18.6 1.5h1m84.8-68.8h1m71.1-24h1m-218.8 132.5h1m-84.3-4.5h1m22.3-7.2h1m233.8-81h1m-7-28.4h1m-163.1 107.7h1m191-102.7h1m-290.9 104.9h1m203.5-78.7h1m-91.8 83.6h1m-127.3 13.6h1m98.6-3.8h1m-31.8 14.7h1m167.5-96.1h1m-37.1-3.3h1m28.7 5.7h1m-209.4 83.3h1m117.3-17.1h1m-35.5-1.9h1m94.2-31.3h1m109.2-93.6h1m-349.5 120.1h1m238.7-35.4h1m-74.9 41.3h1m172.1-99.2h1m-38.6 13.1h1m-157.9 97.3h1m156.6-113.3h1m-22.8 27.7h1m-57.5 30.3h1m36.1 1.8h1m-108.5 58h1m136.8-73.3h1m36.5-50.4h1m23.7-9.9h1m-139 79.4h1m36.3-26.6h1m-30.4 43.3h1m18.5-9h1m121.6-112.6h1m-85.5 83.5h1m42.3-37.7h1m-19.6 26.7h1m23.3-32.9h1m-283.3 120.5h1m100.3-36.8h1m122.4-43.3h1m-192.2 73.9h1m157.1-46.7h1m12.3-31.7h1m-86.7 78.5h1m-66.1 22.1h1m258.6-144.8h1m-230.7 133.5h1m-92.7 25h1m-19.3-52.3h1m42.7 27.9h1m7.6-5.6h1m212.7-77.6h1m-133.3 83h1m-70.6-19.6h1m133.6-43.2h1m-84.7 36.3h1m53.5-27.4h1m-69 56.5h1m70.8-32.3h1m135.8-80.8h1m-79.3 16.3h1m-12.2 30.6h1m-108.4 33.1h1m129.6-52.9h1m-146 80.6h1m83.8-33.2h1m115-71.9h1m-0.5-5.7h1m-177.3 108.9h1m115.7-70.4h1m-229 63.9h1m18.7 30.4h1m224.6-117.9h1m-98 47.5h1m-165.1 25.4h1m172.7-1.3h1m147.9-115.3h1m-71.8 38.1h1m-101.5 92.3h1m168-110.1h1m-251.2 126.5h1m75.9-26h1m-166.3-8.4h1m311.4-91.7h1m-9 18.1h1m-234.6 100.9h1m-24.5 17.8h1m173.4-55.9h1m-136.4 54.5h1m231.1-129.9h1m-238.6 136h1m22.9-30.5h1m-46.8-6.8h1m253.7-109h1m42-2.6h1m-37.5 13.2h1m-193.7 94.2h1m-29.9 34.4h1m62.7-29.8h1m-24.7 7.4h1m-9.9 1.2h1m137.8-70.8h1m-127 51.1h1m-76.8 46.1h1m145.3-56h1m-110.3 48.8h1m156.7-74.7h1m-96 50.3h1m-140.8 2h1m326-118h1m-68.4 16.3h1m-16.3 36.9h1m-250.9 54.1h1m235.1-49.6h1m-123.3 49h1m155.8-87.8h1m-194 112.3h1m22.9-27.5h1m-41.1 17.3h1m185-63.2h1m-226.3 76.6h1m125.9-35.5h1m-110 51.7h1m-6.4-8.2h1m143.3-61.9h1m41.8-30.5h1m33.5-10h1m49.7-20h1m-174.2 104.2h1m106.5-63.6h1m73.5-54.1h1m-46.7 2.4h1m-208.5 125.4h1m19-25.5h1m85.1-3.6h1m-174.3 5.5h1m157.8-2h1m18.6-8.5h1m-54.6 21.5h1m-110.6-17.1h1m269.7-70.8h1m-223.6 80.1h1m34.7 20h1m117.3-52.5h1m-176.3 34.3h1m112.3-10.2h1m126.6-84.8h1m-184.7 99.5h1m155.5-77.1h1m74.1-59.4h1m-124.2 87h1m137.4-83h1m-294.2 139.3h1m253.8-125.8h1m-151.8 92.1h1m63.6-22.2h1m97.4-74.9h1m-268.5 158.2h1m284.5-163.4h1m-208.2 119.6h1m-70.4 27.7h1m57.8-17.6h1m32.2-38.9h1m-133 36.3h1m0.6 13.3h1m143.9-30.5h1m-141.9 9h1m39.2 2.9h1m48.7 11.5h1m212.7-122.9h1m-293.3 149.1h1m75.8-39.7h1m-23.2 2.3h1m-77.8 21.1h1m269.9-116.9h1m-113.3 70.8h1m108.4-54.6h1m3-10.6h1m-26.5-2.6h1m23.3-7h1m-30 41.8h1m-209.6 77.8h1m31.9-15.9h1m213.2-105.8h1m-82.8 56.4h1m39.9-16.9h1m-194.9 92.5h1m-20.7-8h1m-23.7 9.7h1m216.6-100.1h1m-233 82.4h1m329.2-125.4h1m-77.3 33.5h1m50.3-18.1h1m-189.8 93.9h1m-17.1 1.3h1m119.9-64.3h1m-34.8 17.5h1m-92.8 38.1h1m97.3-19.6h1m116.2-70.9h1m-308.1 107.2h1m207.4-66h1m-87.4 54.8h1m9.5 16.8h1m172-108.8h1m-325.8 76.3h1m86.7 35.8h1m-29.5-32.8h1m-39.1 26.9h1m95.2-1.8h1m17.9-26.1h1m-16.5 29h1m171.5-91.4h1m17.4-13h1m-174.2 109.5h1m196.9-119.5h1m-337 102h1m101.1-3.9h1m-77.3 34.4h1m45.1-1.1h1m165.6-83.3h1m-183.2 90.9h1m290.3-177.4h1m-167.6 91.7h1m68.9-11.4h1m25.9-23h1m27.6-5.2h1m11.5-13h1m-47.9 40.1h1m-158.4 69.6h1m66.5-31.5h1m-126.1 34.7h1m100.7-11.7h1m184.6-121.6h1m-5.8 17.2h1m0.8-7.3h1m-203.9 125.3h1m34.3-33h1m-21 11.3h1m-4.5-11.5h1m-74.7 28.6h1m148-62.9h1m-123.6 61.6h1m14.5-0.9h1m169.2-97.3h1m-62.1 31.7h1m-231.3 47.7h1m52.4 15h1m219.8-65.2h1m81.9-83.8h1m-168.5 116.9h1m-70.5 21.4h1m70.5-23h1m-152.1 2.9h1m280.4-72.6h1m-275.8 127.5h1m106.2-19.7h1m111.5-80.3h1m-31.5 22.5h1m-135 57.3h1m242.4-114.3h1m-53.6 19.2h1m-20.5 29.6h1m-247.3 80.9h1m323.2-148.6h1m-307.7 120h1m125-0.8h1m186.5-129.5h1m-124.9 71.2h1m38.7-1.2h1m-28.8 21.6h1m27.7-39.8h1m-213.5 102.3h1m53.9-13.1h1m-29.5 29.8h1m62.5-46.8h1m134.7-87.7h1m22.2-6.5h1m-178.4 109.7h1m144.4-64.7h1m-1.5-15.7h1m-117.6 72.4h1m-62.4 23.4h1m17.3-9.7h1m132.9-88.9h1m95.4-55.7h1m-172.6 126.1h1m12.5-4.5h1m28.1-33.5h1m-166.3 51.7h1m151.5-42.2h1m-95.8 56.1h1m171.9-92.7h1m-196.7 84.7h1m243.2-132.8h1m-81.8 66h1m-219.3 83.2h1m56.6-25.4h1m-11.4 0.5h1m157.5-37.3h1m-208.8 20.3h1m286.4-108.7h1m-70.7 69.3h1m110.6-85.3h1m-290.4 166.6h1m45.4-28h1m-44 32.6h1m-17.7-30.7h1m262.6-94.6h1m-7.9-23.3h1m-130.5 84.6h1m56.6-24.2h1m-104.7 45h1m-8.7 29.1h1m-66.7 20.1h1m283.8-149.3h1m2.7-36.5h1m-310 188.7h1m79-61.4h1m52.7-8.4h1m-40.3 35.9h1m76.2-60h1m126.7-60h1m-149.2 78.7h1m5 12.3h1m-39.3 26.8h1m113.4-76h1m-264.2 62.4h1m49.7 29.8h1m108.3-32.8h1m31.4-37.2h1m-198.5 53.8h1m340.6-144.9h1m-64.7 39.1h1m-143.8 94.4h1m120.8-56.6h1m56.1-26.2h1m-316.6 109h1m304.4-128.6h1m-293.4 124.7h1m-26-21.4h1m25.9 23.6h1m33.6-4.9h1m253-114.7h1m7-13.2h1m-52.8 58.1h1m90.7-79.2h1m-164.4 114h1m-194 36.3h1m323.6-134.1h1m4.5 21.4h1m-72.2 25.7h1m-50 49.6h1m-164 56.6h1m-22-16.5h1m132.4-41h1m-5.6 15.6h1m170.9-104.3h1m-100.7 76.3h1m103.5-76.7h1m-37.4 30.4h1m5.3 9.7h1m-78.7 31.8h1m116.3-84.3h1m-136 105.3h1m115.3-68.8h1m-119.9 66.9h1m-113.2 38.2h1m-90.1 1.6h1m304.6-100h1m-291.7 87.6h1m210.1-30.9h1m-197.8 57.5h1m77.2-22.4h1m170.7-90.9h1m61.3-53.3h1m-350.7 125.3h1m98.3 17.8h1m-46.9-3.4h1m70.8-4.5h1m22.1 10.1h1m-54.9-5.7h1m173.4-76.2h1m69.3-40.4h1m-46.5 22.4h1m-1.6-0.7h1m56.9-35.7h1m-32 30.2h1m-23.9 14h1m-12.8 15.7h1m-185.8 95.8h1m122.9-85.6h1m-65.2 58.6h1m189.8-117.4h1m-340.6 109.9h1m112.9 10.3h1m124.5-58h1m-95.8 64.1h1m-94.1 11.1h1m-1.1 16.6h1m233.6-118.2h1m24.4-23.6h1m-184.9 120.2h1m5.9-7.9h1m147.2-99.6h1m-189.3 116.8h1m-50.7-38.4h1m220.9-79.4h1m-264.1 88.3h1m31.5 7.7h1m-4.2 15h1m28 14.7h1m172.2-84.6h1m-101.5 44.4h1m206.1-128.6h1m-4.9 25.9h1m-90.3 38.1h1m74.4-61.6h1m-173.6 114.5h1m7.7 5h1m51.1-42.8h1m-15.2 17.4h1m7.5 0.6h1m-124.4 25.7h1m-0.5 19.1h1m-59.6 7.8h1m-14.7-21.5h1m324.5-129.5h1m-219.3 157.3h1m18.7-49.2h1m119.2-30.8h1m-113.3 64.2h1m36.2-24.4h1m21.1-34.6h1m-147.4 71.1h1m-56.9-5.6h1m147.1-5.3h1m-8-28.9h1m113.2-48.6h1m-54.4 26.7h1m-201.8 59.1h1m346.1-140.3h1m-49.4 25.8h1m-173.7 112h1m-18-8.9h1m153.4-61.5h1m55.9-41.8h1m3.5-3.7h1m-44.4 25.4h1m40.7-29.5h1m-30.2 11h1m-258.9 129.4h1m170.3-73.4h1m50.9-25.7h1m-177.8 61.8h1m6.4 26.9h1m239.8-138.8h1m-218.5 129.5h1m162-91.3h1m-46 18.2h1m-149.4 82h1m133.9-69.8h1m27.8-19.6h1m-190.8 95.2h1m75.6-33.1h1m-117.1-4.3h1m246-53.2h1m53.8-39.2h1m-156.1 72.9h1m-92.2 40.5h1m-42.4 9.9h1m-25.1-6.5h1m339.2-153.2h1m-13.1 10.8h1m-257.9 131.5h1m118.2-30.6h1m-8.8-12.7h1m-23.1 4h1m57.7-17.9h1m-47.9 14.8h1m-122.4 61.3h1m193.4-111.9h1m-57.7 65.5h1m-190.9 47.1h1m38.6-21.3h1m42 18.5h1m-41.2-26.7h1m284.3-105.1h1m-19.6 8.7h1m-246.2 115.6h1m113.2-23.8h1m130.4-88h1m-137.2 58.1h1m118.6-50.6h1m-128.9 82.6h1m-149.7 51.1h1m240.1-128.4h1m24.1-8.1h1m-94 57.9h1m150.5-92.3h1m-133.6 89.4h1m-50.5 20.7h1m-43.7 28.9h1m-34-2.1h1m35.8-14.8h1m56.6-30.9h1m18.4-5h1m-151.8 57.7h1m212.3-79.6h1m-127.9 60.8h1m208-122.7h1m-296.8 139.1h1m118-22.5h1m-53.7 25.1h1m20.2-5.1h1m51.7-36.9h1m-161.9 57.8h1m51.1 1.3h1m41.4-23.4h1m40.2-18.4h1m45.7-25.5h1m-73.8 16.2h1m132.4-69h1m-102.9 79.6h1m77.4-56.2h1m-187.1 50.7h1m-63.1 7.1h1m187.7-20.5h1m-108.6 42.8h1m53.5-21.3h1m-126.7 26.9h1m182.3-60.2h1m-118.8 66.7h1m218.7-108.5h1m-38.1 5h1m-197.4 83.7h1m27.9 20.7h1m205.1-119.8h1m-77.8 26.7h1m-8.7 31.4h1m26.4-16.6h1m55-56.1h1m-14 14.3h1m-71.1 34.4h1m-217.5 31.8h1m182.6-27.9h1m104.9-40.4h1m-204.1 85.2h1m-77.7 42.2h1m-4.9-49.4h1m182.7-8.9h1m-88 29.1h1m-49.3 8.6h1m96.6-18.5h1m-48.4 21h1m191.8-103.6h1m-26.8 4h1m-151.5 94.9h1m-62.5-14.1h1m274.7-103.2h1m-351.6 98.3h1m213.2-36.3h1m6.8-7.5h1m-166.2 95.2h1m185.3-91.9h1m-173.9 80h1m-15.3 7h1m21.3-39.1h1m219.3-85.6h1m-110.8 49.1h1m-123.8 73.8h1m136.5-82.3h1m-68 48.1h1m-60 14h1m89.9-17.3h1m-28.6-2.2h1m134.8-88.5h1m-171.5 78.8h1m63.1 0.6h1m58-35.5h1m-55.1 50h1m-51.6 3.7h1m-109.9 3.7h1m193.5-29.1h1m-192.7 25.3h1m37.9 6.6h1m-37.5 7.5h1m118.6-24.1h1m-81.5 43.2h1m35.8-40.6h1m81.7-27.4h1m-15 30.9h1m146.8-85.7h1m-144.4 73.4h1m-82.6 18.4h1m-2.6 29.8h1m42.2-32.7h1m-74.5-2.5h1m194-68.1h1m108.2-59.8h1m-312.5 156.4h1m37.1-34.8h1m108-11.3h1m161.8-122.5h1m-307.7 130.1h1m287-125.2h1m-281.1 148.2h1m171.7-68.9h1m-24.3 19.1h1m-172.6 68.5h1m-37.2-33h1m98.4 20.7h1m35.6-26.7h1m110.6-53.9h1m-130.7 44.9h1m118.5-28.6h1m-172.7 51.9h1m-52.6-22.7h1m137.2 13.2h1m1.3 12.3h1m-73.8-12.2h1m-14.1 36.4h1m9.4-5.4h1m-67.9-41.3h1m178.1-19.1h1m12.6-8.3h1m-90.6 40.4h1m230.4-123.5h1m-316.5 137.9h1m137.7-25.8h1m144.9-109.3h1m-286.2 144.2h1m47.5 0.2h1m272.1-161.1h1m-35.4 46.2h1m-221.6 95.2h1m157.5-82.3h1m-217.7 108.3h1m-15.7-5.3h1m282-121.7h1m-233.8 81.4h1m45.3 24.5h1m69.8-47.3h1m-42.5 32.6h1m105.2-55.6h1m-51.4 38.1h1m115.3-85.9h1m-151.9 93.5h1m43.5-12.7h1m-32 5.3h1m26.8-25.8h1m2.9 20.3h1m-75.1 13.7h1m-111.1 21h1m162.4-22.2h1m149.9-107h1m-213.9 114.2h1m-122.6 15.1h1m100 7.5h1m155.8-74.3h1m-216.2 50.4h1m-42.6 7.4h1m234.6-54.1h1m-55.9 14.6h1m161.6-74.5h1m-70.7 47.2h1m47.1-48.8h1m-93.1 38.6h1m-147.1 103.9h1m140.3-65.3h1m122.9-90.5h1m-44.3 32h1m-79.5 27.8h1m-28.6 23.6h1m86.6-27.9h1m-48.5 7.9h1m-53.9 24.5h1m-150.4 53.1h1m175.3-43.1h1m-25 0.3h1m132.8-81.9h1m-261.8 133.7h1m187.5-89.4h1m-96 52.3h1m165.3-113.8h1m-27.5 41.2h1m-263.5 124.4h1m18.2-8.2h1m273.6-156.8h1m-109.5 61.7h1m-201.2 62.6h1m210.8-37.3h1m-119 48.9h1m91.7-31.2h1m96.8-78.8h1m-140.2 91.4h1m-115.2 17h1m84.7-18.7h1m92.7-39.2h1m-96.3 46.4h1m10.3 9.9h1m-50.6 18.8h1m56.6-20.2h1m-139.5-5.8h1m269.9-74.5h1m34.3-40.1h1m-266.9 134.6h1m35.3-25.8h1m189.6-71.3h1m-160.3 78.7h1m16-0.2h1m-32.4 20.8h1m138.8-70.7h1m-138.4 57.1h1m164.4-100h1m-51.5 23.2h1m55.2-12.6h1m56.9-35.3h1m-34.5 3.3h1m-152.6 114.1h1m143.7-106.3h1m47.7-9.6h1m-356.5 112h1m160.7-12.7h1m-165.9 4.1h1m265.8-40.2h1m55.6-43.4h1m-147.8 89.9h1m-137.6 34.5h1m197.3-86.3h1m-180.2 48.9h1m200.9-55.4h1m72.5-55.3h1m-255 158.9h1m-24.1-49.4h1m194.3-66.7h1m107.8-64.2h1m-174.7 133.3h1m-137.8-3.4h1m169.4-24.6h1m-204.6 43.8h1m167-36.5h1m-66.2 44.2h1m-22.1-17.3h1m90-33.6h1m-127.9 52.1h1m-37.8-14.5h1m223.6-66.6h1m-148 83.4h1m-25.2 6.8h1m108.3-32.6h1m99.4-79.5h1m-223.3 123.3h1m237.6-114.2h1m-114.5 62.3h1m-87.4 29h1m41.5-8.9h1m-19.7 16.8h1m-45.5 9.6h1m224.4-127.6h1m-290.2 126.6h1m309.9-144.6h1m-51.6 31.2h1m35.8-9.1h1m-323.4 82.4h1m74.5 23h1m64.9-15.7h1m201.2-112h1m-258.2 134.5h1m217.7-110.8h1m-42.9 6.1h1m-102.9 87h1m-63.6-4.1h1m-23.2 23.2h1m81.7-31.1h1m5.8 19.2h1m-86.9 10.3h1m166.9-79h1m-15.4 23.6h1m56.5-33.3h1m-34.2 6.7h1m-145.3 80.9h1m36.4-17.3h1m-125.4 9.2h1m191-60.5h1m-9.2-3.6h1m-127.6 54.3h1m126-15.4h1m122.3-86.4h1m-102.8 58.5h1m-93.5 57.4h1m16.3-10.8h1m111.8-57.5h1m-91.4 34h1m69.2-26.4h1m-38.6 12.2h1m-132.6 49h1m185.6-91h1m-245.7 61.4h1m78.8 28.3h1m-96.8-8.7h1m276.3-78.5h1m-218.2 104.1h1m135.7-67.2h1m-184.7 29.8h1m70.5 26.7h1m-89.4-15.9h1m85.8-2.3h1m3 7.4h1m211.2-79.8h1m-222.8 88.9h1m159.9-55.7h1m-144.7 50.6h1m228.4-124.8h1m-174.5 109.8h1m-122.5 20.8h1m249-95.7h1m-101.8 66.4h1m-134.1 20.8h1m169.6-45.3h1m-179.6 68.9h1m144.7-43.8h1m-11.8-8.1h1m-61.2 22.6h1m233.3-122.7h1m-229.9 133.3h1m149.4-80.7h1m-233.8 97.9h1m258.2-116.9h1m9.6-4.2h1m-166.6 89.8h1m-120.1 23.3h1m288.1-122h1m0.5 1.7h1m-118.7 78.1h1m5.5-10.2h1m39-51h1m-86.8 71.9h1m180.8-109.4h1m-131 53.4h1m-107.5 88.1h1m128.3-65.7h1m-211.5 59.8h1m174.7-34.8h1m-62.8 10.5h1m-108.6 9.4h1m-16.8 18.8h1m85.3-21.4h1m-79.9 2.7h1m339.9-125.2h1m-342.3 124.6h1m83.7 15.2h1m82.3-53.2h1m-147.6 22.7h1m90.1 28.6h1m-96 21h1m298.8-145.2h1m1 1.3h1m-94.2 62.4h1m-132.1 43h1m160.6-59.5h1m37.5-31.4h1m-280.4 77.2h1m39.2 36.6h1m150.3-71.5h1m-180.6 76.8h1m133.4-35.3h1m71-57.3h1m-191.5 88.5h1m237.4-102.8h1m-173.4 63.7h1m156.8-86.5h1m-159.9 104.5h1m216.7-105.4h1m-52.5 4.1h1m-216 124h1m212-112h1m-217.4 124.4h1m-42.5-18.9h1m325.7-147.9h1m-288.3 149.8h1m79.7-25.9h1m123.5-64.7h1m-125.2 76.2h1m-39 17.4h1m-45.2-12.7h1m224.4-89.7h1m30.6-18.1h1m-164.4 104.4h1m-80 22.4h1m-8.9 8.8h1m32.9-28.2h1m-31.5-2.8h1m43.1-12.6h1m44.5 4.3h1m-7.8-14.2h1m-73.3 43h1m-89.1-33.8h1m165.4-13h1m139.5-65.7h1m-51.4-4.3h1m-193.3 83.5h1m106.9 8.3h1m-144.9 16.7h1m98.9-3.2h1m100.4-57.6h1m93.2-48.8h1m-132 75h1m97.6-62.4h1m-29.4 17.8h1m-188.1 82.9h1m117-44.1h1m-94.4 37.2h1m-45-22.2h1m144.1-33.5h1m-167.4 20.4h1m26.4 27h1m1-14.1h1m227.5-68.3h1m9.9-36.6h1m-164.5 120.3h1m217.3-161.2h1m-109.6 77.4h1m-228.8 96.7h1m89.3-12.5h1m222.7-123.4h1m-85.8 38.4h1m96.6-54.8h1m-235.8 141.6h1m53.2-19.9h1m-163.2-94.4h1m-2.5 42.8h1m-7.6 13.7h1m-2 3.1h1m23.3 9.7h1m-22.3-63.7h1m3 25.8h1m1.5 2.8h1m1.2 4.5h1m16.3 33.1h1m-28.6-61.9h1m-3.9 18h1m29.7 44.6h1m-28.2-32.4h1m-11.8 40h1m-6.9 6.6h1m24.9-35.9h1m16.5 26.8h1m-33.4-42h1m5.5-6.7h1m9.3 49.4h1m-15.1 8.8h1m19.3-41.3h1m-22.1-14.4h1m2.6 7.3h1m10.6-15.1h1m-6.8 29.7h1m-19 18.4h1m18.1 8.2h1m3.9-12h1m-26.8 12.6h1m9-46.1h1m9.6-40.4h1m-3 83.2h1m10.2-30.7h1m-12.4 3.3h1m-6.7 11.6h1m-2.9 16h1m8.8-1.3h1m-8.2-19.1h1m12.9 26.1h1m-18.2-9.3h1m13.3-36.1h1m-15.5-6.9h1m7.3-11.1h1m6.3-27.5h1m-6.5 85.3h1m-4.8-72.4h1m4.9 40.4h1m-11-19.1h1m7 25.2h1m-17.5 17.8h1m10.6-3.6h1m13.9 7.5h1m-0.8-40.2h1m-28.8 34h1m29.7 0.9h1m-25.6 12h1m-4.3-21.3h1m25.9-20.4h1m-15.3-8.8h1m-7.4 11.8h1m-0.3-22h1m3.1 13.2h1m-10.1 7.4h1m4.7 5.4h1m-8.5 3.6h1m14.4-6h1m-1.8 3.1h1m-3.3 29h1m-12-15.1h1m10.1-13.8h1m1.2 1.9h1m9.2 7.4h1m-9.6-10.2h1m-23.9 27.5h1m18.4-69.7h1m-8.1 60.4h1m-11.2 23.6h1m39.4-1.4h1m-20.4-10h1m3.8-22.4h1m3.5-19.3h1m-27.6 47.3h1m1.8-39.1h1m3.2 21.5h1m0.2-10.4h1m-6.2 1.3h1m16.9-3.7h1m6.6 15.7h1m-13.2 1.7h1m-12.5-29.9h1m5.4 27.7h1m-7.9 9.4h1m17.4 4.1h1m-9.5-72.8h1m-2.5 40h1m-4.2-23.7h1m0.2 50.6h1m3.5-78.6h1m-2.8 33.6h1m-13 14.8h1m11.8 12.6h1m-19 15.5h1m7.5-11.4h1m-11.6 23.6h1m26.6-75h1m-11.9 65.7h1m10.2-31.9h1m-4.3-0.8h1m-8.6-20.4h1m4.8 14.9h1m-0.7 14h1m-0.9 27.6h1m-15.9 3.5h1m23-26.6h1m-8.7-59.6h1m-12.5 84.3h1m-0.8-27h1m0.9 20.7h1m1.9-48.6h1m-0.3 53.4h1m-15.8 1.4h1m14.5-76.7h1m-10.3 77.6h1m17.7-76.5h1m-25 77.6h1m27.3-4.6h1m-0.1-22.6h1m-33.2 31.7h1m21.9-44.8h1m-9.9 2.6h1m0-19.9h1m-7.9 5.5h1m-1.3 24.7h1m-3 20.1h1m0.5-40.8h1m6.6-12h1m5.4 1.1h1m-15.6 27.1h1m1.6 4.2h1m0.8-1.5h1m1.6 2.8h1m7.9-8.3h1m-11.9-11.7h1m-3.9-6h1m31.1 52.8h1m-28.5-48.7h1m-1.3 38.1h1m14.2 2h1m-5.4-6.8h1m-5.3-50.4h1m-10.7 40.5h1m28.3 5.7h1m-21.3-27.2h1m-11.1 31.6h1m25.7-13.4h1m-29.1-20.2h1m8-6.6h1m-6.1 24.6h1m-2.1-7.4h1m-9.3 7.8h1m18.2-18.9h1m-8 28.2h1m14.2 15.2h1m-25.4-6.2h1m1.1-9.3h1m9.6-19.4h1m14.3 19.7h1m-25.9 17.3h1m16.6-35.7h1m-8.1 31.5h1m0.2-6h1m-13.2-21.3h1m4.6-4.6h1m-12.7 44h1m16.7-27.4h1m-15.2-11.1h1m8.1-28.6h1m4.2-11.6h1m-11.5 74.7h1m-0.5-54.1h1m-3.6 48h1m5.1-7.9h1m-3.1-26.3h1m9.8-10.1h1m4-1.5h1m-0.4 47.6h1m-13.6 1.6h1m1.5-36.6h1m11.4 42.5h1m-5.2-60.4h1m-3.3 30.9h1m-26.7 23.8h1m14.9-73.5h1m-1.4 36.1h1m-7.7-4.8h1m21.2 4h1m-13.3 37.1h1m0.5-72.8h1m-13.2 36.8h1m0.4-3h1m18.3 20.3h1m-21.4 4.4h1m8.9 4.6h1m17.8 8.2h1m-26.7 2.4h1m11.5-38.8h1m6.5-43.8h1m-25 56.5h1m8.7-21.4h1m5.1 35h1m-0.1-3.3h1m5.6 9.3h1m-19.7-22.4h1m19.6-45.4h1m-18.7 38.1h1m-10.8 26h1m10.3-31.2h1m-3.4 2.5h1m5.4-15.7h1m-2.6 33.6h1m-1.7-13.8h1m10.3-52.7h1m0.8 66.8h1m-4.9 14.7h1m-5.4-49.9h1m3 13.9h1m-21 38.1h1m19.1 8.5h1m-12.8-41.8h1m-2.6 19h1m8.4-42h1m-6.6 55.8h1m9.5-3.7h1m-15.9-44.1h1m-4.6 36.8h1m20.7-3.1h1m-25.2 3h1m7.8-6.6h1m-3 20.4h1m11.7-5.8h1m-0.2-38.1h1m-17 32.9h1m-2.4-6.2h1m7.3-33.4h1m-7.4 2.6h1m3.1 15.3h1m-3.8 9.5h1m21.6-7.9h1m-23.9 27.2h1m16-0.6h1m-22.1-22.6h1m9.1 20.1h1m-11.8-8.7h1m-2.8-13.2h1m32.7 4.6h1m-27.5-18.6h1m25.8 36.1h1m6.7 12.4h1m-11.2-48.3h1m-4.1 22.3h1m-8 7.2h1m-1.5-25.6h1m-6.1-0.2h1m9.7 9.5h1m-3.7-47h1m-16 44.3h1m10.5 34h1m-7.4-41.3h1m-2.5 28.6h1m19.7 9h1m-32-22.7h1m25.7-27.2h1m-21.3 36.8h1m4.7-14.5h1m-15.1 4.2h1m23.2 27.3h1m-8.2-32.1h1m9.7 16.3h1m-9.2-62.3h1m2.2 31h1m-7.3-9h1m-14.4 33.5h1m-2.3 8.9h1m21.4-18.7h1m-5.3-9.5h1m-8.2 0.1h1m4.2 9.7h1m17.4 29.9h1m-18.1-3.4h1m-18.1-14.3h1m19-24.4h1m-7.3 8.1h1m4.8-17.2h1m-6.2-7.6h1m-10.9 28.7h1m4.3 16.1h1m-3.2 12.1h1m6.1-24h1m-11.5 2.7h1m7.4-4h1m-0.6 3h1m-6.6 18.2h1m8.4-32.5h1m-11.8 48.3h1m14.6-23.7h1m-0.8-2.5h1m0.6-63.9h1m-2.9 54.2h1m-13.5 4.1h1m15.3-13.5h1m-26.1-3.2h1m13.6-6.8h1m0.6 23.3h1m-11-1.9h1m10.6-38.4h1m-12.2 36.1h1m-6.4 7h1m-9 22h1m8.7-38.5h1m-1.8 35.4h1m-1.7-41.4h1m22.4 41.8h1m-11.5-27.1h1m-11.9-6.8h1m3.3 15.9h1m8.7-62.9h1m3.2 32.4h1m-20.8 55.4h1m10.3-74.6h1m9.6 72.8h1m-11.3-25.4h1m2.8-9.9h1m3.9 7.1h1m-27.8 21.5h1m13.5-2h1m8.4 1.5h1m-13.6-13.1h1m6.8 13.1h1m-2.4-28.6h1m12.8 34.8h1m-18-79h1m1.4 29.8h1m-17 32.3h1m23.2-14h1m-12.6-5.4h1m9.2 15.3h1m-3.9 12.3h1m-8.4-33.4h1m19.5 9h1m-17 12.6h1m-14.9 16.4h1m-8.5 4.3h1m23.6-61.5h1m13.5 35.6h1m-15.8-28.1h1m-14.2 58.3h1m6.5-59.6h1m6.4-22.4h1m-17.8 36.4h1m12.1 29.2h1m-5.4 3h1m10.1-36.5h1m-7.3 42.5h1m2.8-49.7h1m-14.1 9.6h1m14.9-2.5h1m-5.6 27.2h1m-15.9 0.9h1m17.1-15.6h1m-22.7 26.5h1m2.8-40.4h1m3.2 32.9h1m-7.8-22.3h1m22.8-8.3h1m-14 31.8h1m-10.3 6.1h1m0.3-47.4h1m12.4 35.2h1m-17.1 18.6h1m26.5-9h1m-13.5-43.4h1m5.8 3.3h1m-4.6 43.6h1m-21.3-24.7h1m8.4-18.6h1m-9.5 39.2h1m15.9-33.7h1m-4.9 22.6h1m1.5-37.9h1m2.4 24.3h1m-12 33.1h1m2.9-67.9h1m-4.3 37.9h1m-4.2-15.9h1m22.7 25.2h1m-20.6-10.7h1m1 33.7h1m-2.1-43.6h1m8.8 20.9h1m-20.3-15.2h1m10.4 16.3h1m-8.2-34.9h1m-3.1 15.6h1m14.3-11.5h1m-4.7-9.1h1m-0.8-11h1m3.3 48.7h1m-10.3 25.2h1m7.3-0.8h1m-6.8-1.9h1m-8.4-13.9h1m-4-25.9h1m5.5 10.8h1m-8 13.8h1m23.8-33.6h1m-3.1 13.9h1m-6.2 9.4h1m-1.8-9.9h1" stroke="#3333cc" stroke-opacity="0.55" stroke-width="1.0" fill="none"/>
<path d="M520.1 101.4h1m102.4 15.1h1m18.4 5.2h1m-48.4-0.9h1m-67.9-34.7h1m6.8 11.8h1m-53.2-49.7h1m171.4 75.8h1m-97-18h1m-63.1-30.3h1m163.1 37.8h1m-161.9-38.2h1m137.8 34.1h1m-67.2 2.1h1m74.5 13.2h1m9.6-2.7h1m-175.8-94.4h1m32.7 62h1m99.9 19.9h1m-20.8 0.2h1m-101.3-27.3h1m9.9 17.9h1m45.6 9h1m-75.5-55.4h1m104.5 61h1m71.7 1.7h1m-56.2-4.9h1m-100.4-32.7h1m11.2 16.6h1m68.2 13.3h1m57.2 8.6h1m-127.3-29.6h1m103.3 32.3h1m-62-20.8h1m-75.9-39.3h1m35 33.7h1m28.8 12.2h1m5-3.3h1m-38.2-7.6h1m68.7 15.1h1m-50.1-9.6h1m34.9 8.5h1m-74.1-14.6h1m-29.3-43.2h1m119.8 61h1m-20.8 3.5h1m44.6 1.3h1m-128.4-28.8h1m65 16.6h1m-58-14.9h1m151 28.9h1m-72.7 0.7h1m68.2 1.1h1m-64.8-5.6h1m-33.2-5.2h1m-45.5-14.7h1m21.1 14.5h1m-50.9-65.6h1m28.8 42.7h1m116.4 30h1m-24.7 3.4h1m-67-26.4h1m66 21.5h1m-72.2-12h1m-3.8 4.1h1m-56.1-64.5h1m52.3 66.8h1m97.2 2h1m-112.2-27.7h1m64.7 34.5h1m18.4 2.7h1m-79.5-18.4h1m127.3 16.9h1m-29.8-10.4h1m31.8 17.7h1m-20.2-2.7h1m-76.8-13.5h1m15.8 8.2h1m2.2-12.3h1m-44.4-1.6h1m67.9 5.6h1m-37.1 3.9h1m79.6 6.3h1m-10.7 4.3h1m-8.6-8h1m-61.5-2.2h1m-65-25.5h1m51.5 19.4h1m6.4-5.4h1m54.3 19.7h1m-72.4-14.2h1m-35.9-30.4h1m98.3 37.7h1m-41.3-2.1h1m-24.5-8.7h1m-41.7-3.1h1m97.4 9.9h1m-87.7-3.8h1m17.5-9.3h1m58.4 14.3h1m-48.4-1.2h1m-5.3-1h1m-28.9-7.4h1m-14.3-23.7h1m28.4 21.3h1m-45.8-22.9h1m60.7 17.4h1m-53.9-12.9h1m37.1 9h1m25.9 20.4h1m12.4 6.8h1m-87.7-36.9h1m24.9 7.3h1m1.5 5.9h1m-8 5.8h1m15 0.8h1m-49.2-28.1h1m103.2 35.4h1m11.9 3.4h1m-59.8-9.1h1m-3.2 0.4h1m-4.3-0.7h1m28.3 8h1m26.1 1.4h1m-76.1-14.5h1m-17.9-5.4h1m132.7 25.2h1m-99.3-8.4h1m-35.2-10.7h1m54.6-1.2h1m-78.6-45.7h1m39.9 36.1h1m-26.5-18.6h1m-12.4-44.1h1m139.9 96.2h1m-22.1-8h1m-81.8-27.3h1m40.3 29h1m5.2 2.7h1m-80.1-36h1m59.6 15.8h1m-64.7-43.6h1m53.5 51.9h1m46.4 4.9h1m-112.4-40.9h1m80.1 44.8h1m-65.4-26.2h1m30.6 16.4h1m-46-50.7h1m102.6 59.7h1m-71.2-15.3h1m72.6 16.5h1m-65.4-10.7h1m-22.7-14.9h1m85.2 24.1h1m63.5 4h1m-44.2-1.1h1m-141.3-73h1m27.1 34h1m15.1 16.7h1m127.3 20.8h1m-93.5-6.4h1m1.8 5.3h1m-78.9-70.3h1m161 81.6h1m-143-48.4h1m4 1.7h1m18.7 23.5h1m46.7 6.7h1m64.1 13.7h1m-25.1-7.8h1m-96.8-14.7h1m137.6 23.1h1m-166.8-57.1h1m146.4 53.4h1m-120.2-37.2h1m-23.3-11.6h1m148.2 48.2h1m-71.8-1.5h1m-37.1-19.1h1m4.2 7.8h1m111.3 19.6h1m-109.7-18.5h1m83.4 3.5h1m-144.9-42.2h1m47.3 29.7h1m59.3 14.9h1m33.7 6.3h1m-54.5-13.7h1m-20.2 8.4h1m-58.6-19.2h1m73.7 11.3h1m-66.9-6.5h1m71.4 2.9h1m28.2 16.4h1m-43-11.7h1m-38-12.3h1m-32.7-29.3h1m25.2 33.8h1m108.5 21.9h1m-136.3-27.5h1m61.6 13.9h1m78.1 13.8h1m-157.5-74.8h1m145.8 71.8h1m-99.4-18.4h1m-0.2 4.6h1m-14.6-4.5h1m35.1 4.2h1m16.2 11.1h1m9.3 3.6h1m-109.7-75.5h1m66.8 55.9h1m-43.2-15.1h1m114.1 32.8h1m11 4h1m-68.1-13.8h1m-36.7-18.3h1m126.7 29.4h1m-58.1-10.2h1m33.6 7.9h1m-137-37.5h1m42.4 14.7h1m25.4 9.4h1m-46.5-8.6h1m88.7 11.4h1m-85.1-6.9h1m87.1 13.8h1m-31.5-2.4h1m-109.8-63.8h1m167.1 68.6h1m-37.9-1.4h1m-43.9 1.9h1m31.3-1.9h1m-70.7-12.1h1m77.6 12.2h1m33.2 7.5h1m-127.8-28.6h1m19.1 8.9h1m1.8 6h1m77.9 14.2h1m-34.2-4.8h1m40.6 4.8h1m-99-31.2h1m123.9 29.3h1m-147.5-21.5h1m118 15h1m-74.4-4.9h1m68.7 5.8h1m-16.8-0.2h1m45.8 10.9h1m-124.1-42.3h1m80.2 24.5h1m19.1 9.1h1m-146.3-67.7h1m66.9 50.2h1m0.1 11.9h1m42.2 4.2h1m14.4-5.1h1m9.1 13.3h1m-85.1-30.5h1m108.1 29.1h1m-55.8-9.7h1m-18.6 0.5h1m62.1 10.4h1m1.8 1.9h1m-146.3-73.7h1m29.9 43.2h1m80.7 23.6h1m14.6-4.7h1m-25.9 5.3h1m48.4 0h1m-60 1h1m-17.4-9.9h1m3 1.1h1m-44.5-5.1h1m38.3 6.9h1m-17-17h1m105.8 26.2h1m-108-7.9h1m-66.3-98.4h1m56 92.1h1m22.4-5h1m-68.9-27.2h1m67.6 30.1h1m3.5 0h1m-25.8-9.7h1m-40.8 3.6h1m-1-22.1h1m129.5 47.6h1m8-8h1m-145.6-24.9h1m44.4 1.3h1m2.7 20.7h1m-76.8-68.5h1m16.3 31.1h1m160.9 46.2h1m-59.6-2.5h1m-54.6-13.2h1m29.2 5.7h1m13.2-2.9h1m-110.8-51.5h1m110.8 59.7h1m-40.5-7.4h1m-3.1-11.3h1m34.8 3.9h1m54.4 20h1m-81.9-9.2h1m-31.2-7.4h1m-44.6-52.7h1m67.6 55.5h1m72.6 6.8h1m31.9 7.4h1m-164.6-36.8h1m97.8 18h1m3.3 13.5h1m35.9 3h1m-68.4-11.3h1m78.8 13.5h1m-80.1-22.2h1m40.2 20.7h1m-42.5-13.1h1m-41.8-13.3h1m82.2 24.6h1m-54.2-14.1h1m-85-60.1h1m74.6 63.4h1m70.8 12.7h1m-123.5-42.4h1m68.3 36.2h1m-83.6-52.3h1m94.9 53.7h1m-69.4-16.6h1m43.7 5.2h1m-15.6-4.4h1m115.6 17.8h1m-142.3-22.9h1m135.7 28.2h1m5.6-1.1h1m-167.2-65.4h1m152.4 63.6h1m-156.6-50.7h1m-14.6-25.9h1m135.8 71.5h1m-27.1-1.7h1m-101.8-38.4h1m138.7 48.2h1m-66.4-19h1m-83.8-49.6h1m107.6 61.9h1m6.8-3.7h1m-68.6-10.6h1m124.1 22.6h1m-104.7-25.5h1m24 12.1h1m-98.4-76.8h1m27.3 32.2h1m-15.9 8.4h1m64.6 25.6h1m-7.2 2.5h1m30.3-1.8h1m-5.2 6.3h1m-92-56.8h1m155.4 59.1h1m-16.9 10.1h1m-120-22.2h1m25.2-8.6h1m123.5 34.8h1m-28.9-1.2h1m25.1-1.7h1m-120.9-19.6h1m-49.8-23.4h1m127 36.1h1m-41.7-3.9h1m-5.9-7.5h1m69.1 12.6h1m-7.2 5.1h1m-18.4-1.9h1m39.6 1.9h1m-78.1-17.8h1m-23.1 2.1h1m-71.5-27.8h1m98.8 38.7h1m34.2 2.4h1m-4.9-1.9h1m21.7 1.3h1m-140.9-24.7h1m88.1 26h1m-82.1-37h1m106.1 24.8h1m-58.3 5.4h1m14.3-1h1m-12.4-6.4h1m-8.4 1.2h1m-60.9-24.4h1m-5.7-28.7h1m39.6 38.9h1m11.1 13.2h1m6.1-5.2h1m91.4 17.9h1m-67.3-16.2h1m-83.7-21.8h1m132.6 37.6h1m-79.8-6.2h1m85.7 10.1h1m-124.3-46.4h1m57.9 36.8h1m56.5 7.1h1m-21.6 1.6h1m-34.1-16.9h1m-7.1 11.2h1m2.7-1.6h1m-13.6-4.7h1m-34.3-5.4h1m103.2 17.5h1m-23.9-0.2h1m-49.7-19.4h1m-37.2-12.7h1m117.5 30.7h1m-128.4-26.1h1m40.5 12.8h1m57.6 3.8h1m-93.6-12.2h1m51.7 17.8h1m75.1 1.3h1m-134.7-14.9h1m-20.2-18.1h1m32 20.2h1m97.6 9.6h1m-137.7-33.4h1m130.5 36.3h1m-121.3-40.9h1m14.7 20.7h1m129 24.6h1m-26.7-8.4h1m-63.7-7.4h1m56.7 7.8h1m8.7 0.1h1m-148.7-55.2h1m100.7 45h1m-15 3.8h1m-51.9-13.6h1m72.7 26.7h1m33.2 3.3h1m4.9-3h1m-54.6-12h1m-32.4-2.9h1m-68.8-51.7h1m21.3 30.4h1m1.9-3.2h1m-30.3-25.9h1m163.5 60h1m10-7.2h1m-128.1-10.4h1m90 13.7h1m9.9 8.8h1m-78.2-6.7h1m62.9-3.1h1m-87.6-7.6h1m-44.4-59.7h1m0.3 23.5h1m1.4-21.5h1m145.7 72.7h1m-155.5-80.6h1m120.8 72.8h1m45.6 7.2h1m-143.8-20.2h1m51.2 9.5h1m45 15.6h1m-41.7-16.7h1m83.7 7.6h1m-25.7-0.8h1m-96.3-27h1m103.6 29.4h1m-26.4-6.3h1m-8.5 12.6h1m47.8-1.4h1m-16.8-6.5h1m-103.2-11.6h1m66.7 9.9h1m-82.3-27h1m107.3 33.6h1m28.7-6.2h1m-175-59.7h1m17.2 5.6h1m0.3 24.2h1m40.1 20.5h1m-9.6-8.3h1m-0.7 3.9h1m8.4-5.6h1m69.7 16.8h1m-58.8 0.4h1m83.4 3.6h1m-18.8 3.8h1m-19.9 2.2h1m-37.4-2.4h1m92.7 6.2h1m-79.4-13.4h1m-90.6-25.1h1m76.2 29.8h1m23.2-9h1m-3.7 5.1h1m58.9 12h1m-143.9-48h1m15.6 10.3h1m100 36.7h1m31.3-0.4h1m-72.7-10.6h1m9.2-2.8h1m-91.4-29h1m147.8 41h1m-14.7-9.2h1m-64.8 2.2h1m-8.4-1.2h1m-56.4-20.5h1m100.6 22.3h1m-35.3-1.6h1m33.8 9.4h1m26.8-1.5h1m-138.8-24.9h1m47.2 17.7h1m-35.7-20h1m42.8 17.3h1m44.4 0.5h1m-66.8-12.7h1m109.8 20.6h1m-82.9-8.5h1m22.8 5.5h1m5.9 5.9h1m-10.4-6.5h1m-82-18.1h1m31 15h1m-13.8-24.7h1m120.7 32.2h1m-65.5-3.8h1m4.9-0.9h1m55 0h1m0.7 11.8h1m-81.1-23.9h1m29 18.3h1m18.4-11.8h1m9 5.1h1m-109.1-19.9h1m133.3 26.1h1m-123.9-28.3h1m72.4 23.8h1m-129.1-53.7h1m139.9 62.1h1m-2.9-5.6h1m12.5-0.2h1m12.4 3.5h1m-155.2-36.7h1m58 16.7h1m-63.3-58.1h1m55.6 66.3h1m93.2 14.3h1m-99.3-18.3h1m30.5 1.6h1m13.4 2.6h1m-12.7-4.8h1m45.8 13.4h1m-46.5-4.6h1m2.1-13.2h1m8.7 15.9h1m-24.5-1.9h1m52.5 2.8h1m-120.3-37.9h1m36.7 26h1m15.4 7.6h1m10.9-10.7h1m-60.2-9.5h1m144.6 29.5h1m-159.1-55.3h1m109.7 41.4h1m39.6 10.5h1m-102.3-14.4h1m50.7-0.5h1m-50.6 1.4h1m-39.4-22.2h1m-28.3-23h1m95.8 47.3h1m-12.7 7.9h1m-33.8-17.2h1m-41.4-14.3h1m-15.1-24.3h1m87.5 53.8h1m-40.2-13.5h1m98.6 9.1h1m-46.3 0h1m-51.9-20.5h1m-21.4 10.2h1m146.8 25h1m-81.4-22h1m-46-2.6h1m80.2 15.7h1m-7.2-5.8h1m-70.2-6.3h1m55.5 5.5h1m-66.6 1h1m-3.2-15.3h1m-29.1-33.6h1m126.1 55.1h1m-89.8-16.6h1m64.9 11h1m-65.3-9.9h1m3.2 12.4h1m58.9-5.3h1m-38.5 1.9h1m-65.3-35.3h1m73.4 37.4h1m-11.1-4.3h1m3.1-4.1h1m-11.5 0.7h1m-65.6-53.7h1m110.6 67.6h1m-83.2-26.3h1m122.1 26.7h1m-85-7.8h1m-52.7-22h1m-30.1-32.1h1m16 13.6h1m-0.4 22.8h1m154.6 34h1m-20.5-7.7h1m22.8 6.2h1m-22-8.7h1m-58.1 0.5h1m-63.8-19.5h1m7 9.5h1m-19.9-29.1h1m20.4 9.7h1m125.8 31.6h1m-118.9-24.4h1m-3.4 2.2h1m75.8 15.2h1m37 12.3h1m-37.9-1.3h1m-28.7-14.9h1m18.4 14.1h1m-56.4-10.6h1m-14.1-2.9h1m52.6 6.4h1m59.7 8.2h1m-167.8-92.5h1m84.7 69.9h1m-56.2-11.5h1m120.7 34.1h1m-41.2-3.6h1m14.9 3.6h1m-18.5-3.1h1m33.3 2.2h1m-94.5-13.8h1m100.6 12.8h1m-14.9 0.6h1m10.3 0.1h1m-10.7 0.3h1m-38.6-6.4h1m-26.9-8.5h1m-80.8-59.7h1m133.3 68.6h1m-85.8-19.3h1m57.7 18h1m34.1-1.1h1m-102.3-24.5h1m-24.2-14.4h1m11 18.7h1m-3.8-15.6h1m-4.3 10.7h1m-15.4-26.1h1m8.9-1.5h1m41.2 48.9h1m24.7 7.1h1m85.1 4.3h1m-62.4-1.3h1m-100-45.3h1m71.2 38.8h1m-69.5-39.7h1m104.2 42.8h1m-49-14.7h1m71.6 16.7h1m-84.6-15.2h1m89.6 13.2h1m-71.1-7.8h1m9.6 7.7h1m-98.1-73.1h1m4.8-17.6h1m46.3 73h1m26.6 16.3h1m0.7-3.8h1m66.5 11.2h1m-44.3-4.8h1m-26.2-14.4h1m96.4 20.3h1m-72.1-17.1h1m58.7 12.1h1m-149.9-28.4h1m80.2 25.8h1m-40.9-17.1h1m-29.5-10.3h1m66.8 24.6h1m-86.6-39.1h1m15.5 7.8h1m39.1 25.7h1m-53.5-36.6h1m60.6 32.8h1m14.5 14h1m43.3 2.7h1m-0.6-9h1m-127.7-39.9h1m-0.2-12.4h1m135.1 53.6h1m-40.2 5.3h1m62.5-2.4h1m-147.2-20.2h1m40.1-1.6h1m-67.8-47.7h1m146.6 69.6h1m-81.5-18.8h1m32.5 17.9h1m-34-16.6h1m56.3 21h1m27.6 5.6h1m-153.8-78.6h1m75.4 67.7h1m86.6-0.9h1m-165.1-46.4h1m35.9 35.3h1m129.3 16.6h1m-61.4-2.7h1m-62.5-21.6h1m10.7 14h1m68.1 4.8h1m10.9 10.9h1m-115.8-26.4h1m0.6-12.7h1m-18.8-45.4h1m11.8 40.8h1m-7.7 8.5h1m141 34.9h1m-36.9-14.7h1m14.8 1.8h1m-30.8-0.5h1m-91.2-24.5h1m43.4 22.7h1m59.1 7h1m7.4-0.2h1m23.1 1.8h1m9.3 2h1m7.4 5.5h1m-83.9-13h1m59.2 10.1h1m-79.4-19.5h1m66 19.4h1m-143-71.7h1m21.7 31.6h1m104.6 39.4h1m55.5 2.3h1m-173.7-58.7h1m99.3 49.4h1m39.2 0.7h1m-25.1-3.1h1m49.2 8.6h1m-129.8-12.8h1m-9-2.6h1m45.9 7.9h1m68.7 3.9h1m-137.6-25.8h1m-8.4-30.1h1m79.7 48.3h1m50.8 2.3h1m-113.4-15.2h1m138.2 29.8h1m-106.9-23.2h1m-5.8-4.6h1m31.9 6.9h1m-72.9-14.5h1m130.6 30.2h1m-6.5-5.6h1m-18-0.9h1m26.8 4.4h1m-135.5-42.2h1m81 32.1h1m52 16.4h1m-21.1-6.6h1m-114-42.4h1m-16.4-24.6h1m78.7 58.6h1m40.7 10h1m-51.1-16.3h1m99.5 19.9h1m-113.1-13.1h1m-3.5-17.7h1m98.9 28.6h1m-40.6-0.6h1m-8.2-0.2h1m-85.6-24.3h1m-3.3-3.3h1m13.1 5.3h1m-46.1-35.3h1m99.2 55.6h1m34.8-1.9h1m18.3 2.6h1m-45.5-10.6h1m-18.7-0.5h1m-42.5-20.3h1m63.4 29h1m-98.8-45.7h1m142.8 53.6h1m-2.1-13.1h1m-162.9-71h1m52.3 66.9h1m81.4 10.4h1m22.1 0.8h1m-101.5-19.9h1m-11.1 4.6h1m14.5-6.3h1m92.4 20.5h1m-99.4-15.1h1m94.7 14.5h1m23.5 1.3h1m-62.9-8.2h1m0.7-0.5h1m-84.7-26.3h1m-37.4-33.1h1m120.9 64.1h1m-76.6-13.8h1m45.7 16.6h1m-88-50h1m91.5 39.4h1m-98.9-48.7h1m138.9 61.2h1m-2 2.9h1m-106.3-48.4h1m146.6 50h1m-182-82.2h1m142.4 79.2h1m-72.8-19.2h1m91.1 21.5h1m7-11.2h1m-92-6.3h1m-52.1-12h1m49.4 20.2h1m-32-19.6h1m47.2 15.7h1m77.9 10.8h1m-143.2-20.5h1m-23.9-47.2h1m101.1 62.8h1m-0.4-3.8h1m14.5 11.5h1m-95.8-25.8h1m57.8 12.3h1m-47-14.2h1m-9.5-4.8h1m36.2 7.6h1m-57.5-39.3h1m19.6 24.3h1m-22.8-18.8h1m76.2 48.8h1m-17.8-8.6h1m-11-10.7h1m7.2 14.2h1m84.2 7.1h1m-152.8-45.7h1m50.6 35.8h1m-14.1 0.4h1m-19.6-18.1h1m72 27.4h1m-4.3-4.1h1m9.7-7.4h1m-70.8-24.3h1m132.8 43.2h1m-71.4-9.9h1m5.2 7.1h1m-5-1h1m56.6-1h1m-9.3-5.8h1m-20 10.9h1m-136.3-57h1m14.9 12.6h1m78.6 29.6h1m-32.3-7.6h1m44.5 11h1m17.5 12.2h1m16.8-1h1m-47.3-5.6h1m-6.9-9.4h1m3.6 1.7h1m-39.8-9.6h1m19.1 14.7h1m54.1 0.9h1m5.1-2.4h1m-107.8-26h1m138.2 27.5h1m-91.4-10.7h1m36.2 10.9h1m-14.3 4.8h1m-77.1-24.3h1m18.4 3.4h1m5.3 0h1m15.2 15.1h1m-23-5.4h1m113.4 12.3h1m-138-32.6h1m-13.2 1.1h1m9.8 9.3h1m116.4 21.1h1m-45.4-3.4h1m70.3 7.7h1m-18.1-12.8h1m-34.9 10.3h1m52.8 3.3h1m2.1-7.3h1m-165.5-33.9h1m93.4 22.5h1m-57-9.3h1m44.3 21.2h1m-42.2-14.9h1m-31.2-27.8h1m83.1 34.7h1m-31.3-1.4h1m13.4 7.5h1m62.9 7h1m-27.5-8h1m-56.4-9.1h1m31.7-2.2h1m41.6 14.5h1m-35.4-6.4h1m-42.8-15.3h1m70.6 18.9h1m-65-8.7h1m37 14.9h1m27.9 2.4h1m-85.8-13.2h1m63.2 5.5h1m-10.6-1.8h1m-57.5-17.6h1m-11.6-2h1m14.5 16.4h1m55.7-3.4h1m30.6 6h1m-100.7-19.4h1m-28 2.2h1m106.2 27.2h1m-79-22.3h1m40.3 14.6h1m15.6 3.7h1m41.2-8.4h1m15.8 4.2h1m-172.9-85.8h1m143.1 94.9h1m-146.8-68.8h1m175.3 54.1h1m-176.5-79.9h1m123.2 79.8h1m-22-1h1m72.6 16h1m-98.4-21.4h1m-42 3h1m89.4 3.1h1m-118.2-22.3h1m53.9 19.1h1m-13.1-2.2h1m103.9 20.6h1m-97.9-26.6h1m-57.9-34.3h1m137.3 54.6h1m-151.2-68.6h1m24.8 38.5h1m42.2 10.6h1m26.3 15.4h1m-93.1-70.6h1m68.8 58h1m60.3 12.8h1m-86.9-9.8h1m12.5-6.9h1m107.6 19.1h1m-25.9-1.6h1m-66.8-3.3h1m11.5-3.7h1m42.7 3.6h1m1.4 4.3h1m28.9 6.2h1m-58.5-5.8h1m-106.9-76.3h1m91.7 61h1m16.1 11.2h1m-105-80.3h1m77.1 82.7h1m-64.3-41.5h1m87.9 46.5h1m1-6.5h1m-114.4-63.8h1m117.5 70.2h1m-81.8-17.2h1m61.5 12.9h1m-90.5-36.7h1m-5-32.2h1m120.1 73.7h1m-64.6-24.5h1m102.1 24.6h1m-52-2.9h1m32.8-5.3h1m-9.2 1.1h1m8.7 1.8h1m17.5 7.6h1m-173.8-75.2h1m125.6 73.7h1m51.2 4.2h1m-2.3-1.2h1m-4.4-11.7h1m-177.1-65.5h1m-2-0.4h1m42.2 56.5h1m-1.5-7h1m76.7 19.4h1m32.8-3.5h1m-107.6-14.2h1m61.8 17.5h1m-8.4-8.3h1m-11.7 4.7h1m46.6 10h1m-126-86.1h1m143 78.4h1m-51 3.6h1m62.6-2.4h1m-33.1 1.2h1m-99.2-26.7h1m71.8 29.9h1m-101.3-84.4h1m-0.6 31.4h1m-0.4 0.7h1m36.3 39.2h1m-1.7-6.5h1m21.1-1.3h1m-14.4 8.4h1m106.9 13.9h1m-59.8-13.5h1m-29.7 2.9h1m-60.8-24.7h1m135.1 38.4h1m-132.7-53.7h1m8.8 13.8h1m66.4 26.6h1m61.5 6.7h1m-122.9-34.3h1m-9 2.7h1m26.3 13.4h1m-45-14.7h1m126.5 27h1m-62.6-3.6h1m66.6 5h1m-43.6 5.1h1m23.5 0.4h1m-85.6-20.6h1m-21.8-19.5h1m93 30.1h1m-30.7-0.6h1m29-1.2h1m-75.7-7.5h1m92.4 19.7h1m-138.4-90.3h1m76.8 78.7h1m-2.8 4.2h1m-64.5-52h1m5.2 19.9h1m117 42.2h1m-12.5-2.7h1m17.3-5.8h1m-43.3-1.3h1m4.4-3.9h1m-15.4 1.3h1m-43.1-3.1h1m72.4 12.1h1m24.2-5.2h1m14.1 4.3h1m-144.3-48.4h1m-2.9 12.7h1m114.8 38.6h1m-103.7-26.8h1m2.9-2.9h1m16.3 12.1h1m10.2-2.4h1m68.2 16.5h1m-33.9-3.9h1m4.3 6.3h1m8.1-13.6h1m-76.9-12.2h1m37.1 19.2h1m-40-36.7h1m14.2 24.8h1m8.7 10.6h1m8.1-0.1h1m-7.1-16.9h1m92.8 26h1m-23.9-2.3h1m-94.8-35.7h1m29.5 21.3h1m38.3 8.6h1m-80.3-19.4h1m99 27.8h1m40.4-0.1h1m-76.4-7.4h1m-5.9 6.7h1m18.4-13.1h1m6.4 7.7h1m0.7 7.3h1m-26.3-19h1m39.2 18.5h1m23.9-3.8h1m-130.3-25.2h1m-25.8-49.6h1m142.2 74.8h1m-25.9 3.5h1m24.7 3.3h1m-124.1-41.3h1m138.8 41.7h1m-135.2-30h1m61.7 18.1h1m-4.6 4.1h1m-6.6-8.4h1m7.3 4.9h1m28.3 1h1m40.2 3.7h1m-61.6-3.9h1m-109.6-71.2h1m107.7 71.1h1m-113-64.6h1m118.3 63.2h1m-5.9 1.1h1m0.7 1.7h1m41 4.4h1m-1.3 4.9h1m-69.6-13.5h1m56.2 5.9h1m-110.9-35.8h1m135.9 44.2h1m-33-3.3h1m-119.9-34.1h1m43 18.2h1m-1.3-1.6h1m67 8.3h1m-90.2-8.9h1m53.7 7.8h1m85 3.1h1m-93.3-9.5h1m67.1 17.5h1m-40.7-7.5h1m-12.7-5.9h1m61.2 12.2h1m-13.8 0.9h1m-57.3-10.1h1m-64-18.5h1m123.1 23.5h1m-157.7-53.4h1m169.1 54.9h1m-41.7-3.1h1m-95-17.5h1m12.9 5.2h1m-34.1-16.1h1m-15.4-23.4h1m149.1 54.6h1m-116.8-15.3h1m-41.8-55.3h1m144.7 72.5h1m-55.6-4.4h1m28.3 4.6h1m-104.4-67.4h1m55.7 50.5h1m-63.2-39.1h1m139.3 51.8h1m-152.5-56.2h1m91.9 54.6h1m14.9-2.2h1m-18.9-5.1h1m62.9 11.9h1m-50.4-6.7h1m40.9 8.1h1m29.7 0.3h1m-153.4-23.4h1m134 19.2h1m-36.1 4.2h1m-37.1-8.5h1m-32-12.3h1m123.8 24h1m-99-9.9h1m64.8 5.7h1m-103-12.3h1m-9.6-5.7h1m27.9 5.3h1m56.7-0.7h1m-94.4-10.5h1m17.6-3h1m75.7 27.1h1m-29.9-8.1h1m-65.1-14.5h1m81.6 14.8h1m13.2-2.3h1m-107-22.4h1m31.7 13.3h1m81.3 10.2h1m23.2 12.9h1m-170.1-69.7h1m105.3 57.7h1m25.2 4.1h1m26 6.7h1m23 1.3h1m-59.7-18h1m-101.2-36.4h1m160.5 51.2h1m-100.4-9.6h1m-20.9-8.6h1m-12.8-7h1m77.6 20.1h1m39.2 4.4h1m-20.7-5.3h1m-97.9-20.5h1m50 17.1h1m74 11.1h1m-60.9-13.1h1m-66.9-12.9h1m-24.7 0.9h1m111.6 11.8h1m-58.3 5.9h1m70.5 7.2h1m-116.6-18.8h1m-15.8-12.6h1m-5.5-6.7h1m27 22.2h1m101.7 4.4h1m-49.8 3.8h1m-66.3-16.1h1m42.4-2.8h1m-76.2-22.3h1m45.9 24.7h1m76 13.5h1m34.2 8.7h1m4.3 0.2h1m-156.7-65.2h1m28.6 35.4h1m63.2 25.7h1m-104.2-60.8h1m129.2 62.9h1m-26.1-4.4h1m54.8 9.6h1m-116.3-36.5h1m74.1 31.3h1m-126.5-74.7h1m63.6 61.2h1m-65.5-72.6h1m71.7 73.2h1m15.5 4.9h1m16.3 0.1h1m-26.4-6.1h1m45.4 14.5h1m-66.8-13.2h1m7.2-10.9h1m7.7 13h1m84.9 4.8h1m-154.6-29.2h1m129.8 39.4h1m-145.8-71.4h1m158.9 69.6h1m-24.7-5.8h1m9.4 0.1h1m-52.7-3.3h1m14.6-3.6h1m-100.6-64h1m12.5 42.4h1m99.4 27.4h1m-107.4-46.3h1m139.7 53h1m-108-15.1h1m104.6 15.8h1m-31.5-2.6h1m8.1-3.9h1m-62.8-17.9h1m25.2 12.6h1m36.5 4.4h1m-6.3-7h1m10.5 9.8h1m18-6.5h1m-163.3-59.6h1m139.1 61.7h1m-30.3-5.4h1m35.9 4h1m23.2 5.8h1m-93.1-13h1m-5.5-9.6h1m-5.5-5.8h1m100 27.9h1m-114-13h1m-0.2-15.3h1m78.6 29h1m-36.8-3.5h1m2.4-2.2h1m47.4 5.7h1m-28.4-7.3h1m-57.4-15.2h1m106.9 18.7h1m-125.1-5h1m96.9 11.6h1m-139.2-57.5h1m-14.5-23.7h1m65.4 61.7h1m103.8 21.7h1m-1.4 0.8h1m-25.9-1.2h1m-35.6-3.8h1m-44.6-14.2h1m28.5-2.5h1m-88.7-38.2h1m163.6 56.8h1m-13.4-3.4h1m-152.4-79.3h1m17.3 35.4h1m16.5 33.3h1m-13.3-24.4h1m-19-0.7h1m153.1 36.6h1m-151.9-44.6h1m43.3 18.6h1m74.2 19.8h1m-60.7-8.6h1m98.9 14.2h1m-47 3.1h1m6.2-0.4h1m-91.2-34.7h1m87.8 27.1h1m-127.1-26.7h1m35.2 14.3h1m33.2 8.2h1m-38.2-5.1h1m134.1 20.4h1m-95.6-13.4h1m-49.4-11.8h1m132.9 22.8h1m-43.4-3.7h1m-52.3-18.7h1m-23.6 0.1h1m15.4 14.7h1m30.3-3.1h1m-7.6-4.7h1m19 7.6h1m21.2 3.2h1m-142.8-61.6h1m85.5 56.8h1m5.3-5.3h1m-19.7-9h1m-66.8-43.6h1m117 65.8h1m50 5.8h1m-37.2-4.4h1m-98-31.9h1m35.6 16.8h1m92.5 10.3h1m-54.9-8.8h1m32.8 11.5h1m24.6 5.1h1m-18-0.3h1m-102.9-17.2h1m-45.4-46.6h1m137.9 52.9h1m-77.6-3.6h1m-43.1-21.7h1m95.4 16.8h1m-120.2-33.2h1m102.4 42h1m-93.2-23h1m124.2 24.5h1m-50.5-2h1m18.5 5.1h1m-89.8-21.2h1m111.1 19.4h1m28-0.4h1m-34.5 6.2h1m-84.2-19.9h1m125.3 23.7h1m-135.2-31h1m-44.1-34.4h1m144 56.3h1m-118.7-21.8h1m82.4 11.4h1m-90.3-10.1h1m-16-11.5h1m125.3 25.7h1m-87.7-9.9h1m-43.6-50.2h1m167.4 74h1m-104.6-18.4h1m62.2 3.2h1m21.9 7.5h1m-20.9 0.6h1m-55.8-8.6h1m6 5.1h1m26.9 1.3h1m-35.7-1.6h1m-76.5-44.1h1m174 50.8h1m-19.4-1.8h1m-154.4-74h1m20.1 36.5h1m-30.1-44.9h1m143 85.6h1m-66.8-20.1h1m-4.6-0.3h1m-41.6-16.9h1m124.6 31.8h1m-2.1 2.7h1m-74.9-6.7h1m31.5 3.4h1m-48.2-15.6h1m-0.7-2.9h1m9.4 5.4h1m-1 12.6h1m63.7 6.6h1m-8.6-10.7h1m-57.8-4.7h1m-48.6-21.9h1m75.1 20.7h1m35.2 8.1h1m32.1 1.5h1m-141.5-9.7h1m33.9 4h1m-14-5.4h1m38.9 3.5h1m12.7 11.4h1m-10.7-3.9h1m-15.3-2.8h1m-40.7-9.6h1m52.5 11.1h1m-28.2-3.5h1m92.2 14.8h1m-13.5-12.2h1m-127.7-20.5h1m3.7-6.6h1m86 37.1h1m-68.9-23.3h1m14.8 0.5h1m-54.3-29.1h1m70.6 45.7h1m-81.9-74.9h1m24.3 49.6h1m111 24.3h1m-110.2-18.2h1m-14.2-10.5h1m119.5 22.8h1m-78.3-10.5h1m-2.4 1.6h1m77.4 11h1m-121.7-21h1m13.9-12.1h1m34.1 31.6h1m-20.1-0.9h1m89.1 12.8h1m-77.3-11.2h1m33.5 1.4h1m64 2.7h1m-5.3 6.5h1m-13.6-3.9h1m-53-9.3h1m32.8 8.6h1m-76.8-12.5h1m10.9-7h1m73.8 16.8h1m-90.2-20.2h1m-3.9-1.5h1m-5.6-4.3h1m127.3 34.8h1m-97.4-16.4h1m79.2 19.2h1m0.8-5.3h1m16.6-2.5h1m-19.8-6.2h1m-72.9-6.2h1m70.8 11.7h1m-112.8-19.9h1m62.6 16.6h1m12.3-0.3h1m-110.8-28.6h1m151.8 30.6h1m-5.6-1.6h1m-79.1-1.1h1m-44.7-10.8h1m121.1 19.4h1m-139.1-28.9h1m41.3 10.8h1m39.2 14.7h1m18.3-11.6h1m-116.8-46.4h1m-2.5-8.5h1m41.8 53.1h1m44.5 10.4h1m-37.2-20.9h1m96.4 22h1m22.1 1.8h1m-133.6-9.7h1m115.9 6.7h1m-119.4-9.3h1m-36.9-32.1h1m102.7 41.5h1m-60.2-5.6h1m112 13.5h1m-47.1-11.5h1m-83.2-24.6h1m102.4 36.1h1m-59-7.7h1m-23.1-3.1h1m73.2 2.1h1m21.6 7.3h1m-122.5-29.3h1m40.5 21.6h1m-20.5-12.7h1m113.2 19.6h1m-30-8.6h1m4.6 11.3h1m-35.8-13.7h1m-40.8 4.6h1m-32-16.5h1m46.2 19.5h1m29.4 4.3h1m-94.5-56.9h1m80.8 53.4h1m-85.1-30.6h1m111.9 36.3h1m-32.7-19.2h1m28.1 17.6h1m-32.6-8.4h1m-61.3-27.8h1m59.6 18.7h1m-82.3-29.5h1m32.9 19.7h1m25.6 14.4h1m-87.6-57.4h1m101.2 52h1m-35 4.7h1m93.6 13.1h1m-57.6-6.9h1m40.9 9.7h1m-33.5-2.5h1m11.5-6.5h1m16.4 7h1m17.4 1.2h1m-111.7-24.5h1m86.7 13h1m-16.6-0.6h1m35.5 13.1h1m3.3 0.4h1m-128.3-21.9h1m109.8 13.1h1m-31.6 2.1h1m-109.7-35.6h1m134.6 29h1m-142.2-75.9h1m115.4 86.2h1m36.6-10.9h1m-81.7-3.3h1m-18-3.4h1m118.4 19.8h1m-68.7-13.5h1m33.2 11.5h1m-137.7-57.1h1m75.7 49.8h1m86.3 9.6h1m3.3-10h1m-83.6-8h1m70 13.7h1m1.1 5.7h1m-159.6-90.6h1m84.4 68.3h1m-16.8 2.3h1m9.7-0.3h1m46.1 8.8h1m-98.5-14.9h1m-43.6-61.2h1m113.3 67.9h1m-36.1-10.8h1m90.7 17.4h1m-50.7-3.1h1m-103.8-45.4h1m26.5 34.5h1m-19.3-27.6h1m145.8 47.6h1m-38.5 0.6h1m-72.1-21.1h1m25 17.3h1m74.7 6h1m-9.6-8.2h1m-15.8 8.3h1m-72.8-22.1h1m78.3 11.3h1m-112-27.5h1m8.6 8.5h1m38.7 15.6h1m31.4 10.4h1m-18.6-1.9h1m-50-20.2h1m-52.8-42.9h1m179.2 73.6h1m-83.1-8.9h1m-87.7-39.5h1m116.8 33.9h1m47.5 11.5h1m-29 0.6h1m-19.9-6h1m-22.8-6.9h1m48.1 12.9h1m-139.9-42h1m109.6 39h1m-14.2-8.2h1m-99.9-37.2h1m123.3 47.4h1m-138.8-78.4h1m143.4 78.6h1m-66.9-17.5h1m10.2 11.3h1m-56.1-20.2h1m30 14.9h1m-16.2-16.5h1m54.4 19.2h1m-83.2-22.5h1m129.9 28.1h1m-98.7-21.8h1m17.7 12.6h1m-68.8-39.1h1m-11.9-5.8h1m95.7 42.7h1m39.8 9.6h1m-135.6-47.3h1m22.8 13.5h1m-35.2-42.6h1m166.4 72.9h1m-6.7-3.7h1m-102.1-3.8h1m-41.2-28.4h1m44 23h1m40.4 14.1h1m-24-6.5h1m22.1 6h1m29.5 0.9h1m-85.8-15.3h1m121 12.8h1m-3 5.2h1m12.7 6.8h1m-95.1-20.8h1m23.5 2.6h1m-92.5-26.1h1m-17.7-22.5h1m149.8 65h1m-86.3-12.3h1m-25.7-24.6h1m40.7 27.9h1m-62.6-22.7h1m15.9 11.8h1m47.3 0.9h1m-23.4-11.8h1m33.4 19.5h1m69.6 10.2h1m7.5-7h1m-27.7 0.2h1m-102.7-21.5h1m-45.9-22.8h1m168.3 45.5h1m-100.8-11.5h1m34.6 5.4h1m-67.5-10.6h1m79.1 15.5h1m-6.5-2.6h1m-112.4-43.4h1m136.6 54h1m-139.5-59.3h1m3.8 3.8h1m18.7 16.6h1m146.2 35.7h1m-60.2 0.6h1m34-5.5h1m-74.1-4.1h1m-28.8-22.9h1m-1.5 1h1m88.1 23.6h1m8.9 1.2h1m0.4 7h1m-110.6-16.5h1m74 11.7h1m-63.8-21.3h1m-5.3 12.4h1m107.8 8.1h1m-112.3-28.8h1m23.8 18.4h1m6.2 9.3h1m39.6 5.1h1m6.2-3.6h1m29.4 6.6h1m-123.2-39.2h1m78.7 36.1h1m-4.6-3.9h1m6.3 2.2h1m-87.7-20.5h1m17.4 10.3h1m89.7 13.5h1m-83.8-14.5h1m-22.8-5.6h1m128.7 22.4h1m-156.5-40.4h1m8.1-12.1h1m3 21.1h1m70.9 17.2h1m49.9-0.3h1m-114.4-5.3h1m58.3 10.2h1m54.2-3.5h1m-31.7 3.6h1m-104.8-33.7h1m108.7 37.1h1m3.6-8.6h1m15.2 10.6h1m10.1-8.1h1m-35.8-0.2h1m9 8.3h1m-59.4-15.2h1m55.8 14.4h1m-121.6-39.4h1m-8.2-26h1m42.2 46.8h1m20.4 11.1h1m-29.7-23h1m21.9 12.2h1m73.7 14.4h1m-9.9 3.3h1m-128.3-79.8h1m0.9 6.3h1m40.5 46.2h1m88.2 28h1m-20.3-5.7h1m-102.5-45.7h1m128.8 45.3h1m-97.2-12.7h1m11.1 8.1h1m87.4 15h1m4.6 1.1h1m-18.3-8.1h1m-96.5-12.1h1m129 18.6h1m-88.1-11.3h1m14.7 3.3h1m-67-14.3h1m87.1 8.1h1m46.1 17.3h1m-141.1-45.2h1m52.2 32.4h1m47.2 7.5h1m26.2-7h1m16.4 9.5h1m-144.3-31.5h1m128.7 33.6h1m-33-14.1h1m47 8.7h1m-42.1 1h1m-0.8 0.2h1m-98.3-25.2h1m-30.8-26.9h1m8.9 13.3h1m40.2 14.4h1m-44.6-14.6h1m143.8 39.9h1m-97.6-25.7h1m42.6 15.1h1m-44.3-23h1m-44.9-7.2h1m153.7 42.7h1m-137.5-32.7h1m122.2 34h1m-22.5-5.6h1m-79.7-27.8h1m66 28.5h1m37.9-5.6h1m-173.6-65.4h1m85.7 59.2h1m95.6 10.8h1m-90.1-11.3h1m-27.5-0.1h1m55.1 12.4h1m-30-14.5h1m33.8 8.1h1m-94.6-25h1m18.4 8.1h1m47.6 21h1m10.5-4h1m3.7 3.2h1m15.7 5.5h1m-16.1-4.6h1m-110.2-67.3h1m54.4 59.6h1m-19.9-10.9h1m52.3 11.9h1m75.7 8.6h1m-84.9-3h1m-11.3-2.1h1m33.3-5.6h1m-28.8 5.2h1m60 3.5h1m-92.1-21.6h1m-53.5-41.9h1m126 63.6h1m-33.4-9.3h1m5.8 7.1h1m28.6 2.5h1m12.7 5.5h1m-141.3-48h1m170.3 38.4h1m-0.1 0.2h1m-151.8-20h1m44.5 16.8h1m104.7 11.4h1m-115.5-22h1m56 11.1h1m-18.5 4.3h1m-106.2-79.1h1m130.5 73.3h1m-29.9-3.6h1m-21.8 2.9h1m-40.1-4.3h1m-34.9-54.7h1m9.2 32.3h1m103.5 30.5h1m-86.1-9.3h1m75.8 16.5h1m-50.6-8.4h1m-50.1-46.9h1m-20.5-14h1m85.7 60h1m-49.1-21.8h1m-11.2-15.7h1m86.7 40h1m-55.3-9.9h1m4.4 4.8h1m34.1 1.8h1m-22.7 2.4h1m-62.5-35.7h1m143.2 41.2h1m-11.5 0.5h1m-56.2-13.1h1m38.7 12.5h1m-90.2-12.4h1m111.1 18h1m-157-85.7h1m72.1 73.4h1m62.1 5.2h1m3.1-9.2h1m-132.2-24.1h1m134.1 33.6h1m28.7-1.4h1m-125.5-25h1m91.5 25.5h1m27.4 9h1m-114.5-25.9h1m83.9 12.8h1m-11.6 6h1m25.3 2.8h1m-96.2-17.1h1m-64.9-42h1m-3.3-9.1h1m150.5 66.3h1m-45.2-1.2h1m-41.3-21.2h1m-38.5-8.3h1m-12.5-8.2h1m90.4 36h1m-0.9-10.9h1m-13 11.8h1m-82.8-54.8h1m109.6 50.5h1m-51-12.9h1m-3.4 11.5h1m42.2 4.8h1m-42.7-21.2h1m99.5 20.1h1m-75.7-13.7h1m-14.7 8.7h1m57.2-2.5h1m-21.6 3.2h1m-92.8-16.3h1m77.9 26h1m4.1-2.4h1m-92.8-22.8h1m157.4 19.9h1m-176.2-71.7h1m-9-5.4h1m108.5 76.3h1m27 0.6h1m-96.5-15.7h1m108.7 10.3h1m-128.3-39.7h1m96.5 42h1m-110.6-60.8h1m7.2 15.2h1m44.5 31.1h1m106.6 17.2h1m-159.5-42.4h1m-4.6-42.1h1m147.9 82.7h1m-85.2-6.2h1m-16.4-13.3h1m48.4 26.6h1m17.4-12.9h1m-7 16.6h1m-34.6-15h1m71.4 15h1m-112.7-28.5h1m54.6 20.2h1m-31.4-5.3h1m84.9 13.3h1m-86.9-14.5h1m28.6 2.1h1m65.8 8h1m-94.5-11.1h1m97 8.5h1m-29.8 0.3h1m27.1 0.7h1m-28 5h1m-13.7 0.5h1m-139.8-72.3h1m121 66.7h1m-68.2-24.1h1m94 29.4h1m6.1-8.4h1m-43.2 3.8h1m-91.2-35.8h1m2.9 13.3h1m-22.4-33h1m160.8 51.2h1m-92.4-2.9h1m92.4 9.8h1m-70.8-6.3h1m-4.1-3.4h1m22 4h1m-66.2-23.3h1m47.5 27h1m78.2-5.9h1m-16.8-0.8h1m-70.5-8.7h1m-21.8-6.8h1m-37.4 7.3h1m61.4 10.8h1m-80.3-33.1h1m9.4-1.2h1m151.3 45.2h1m-146-28.9h1m117 22.4h1m-62.5-3.1h1m-60.9-15h1m6.5-12.9h1m-28.2-30.7h1m-15.8-0.9h1m51 51.8h1m61.2-1.7h1m-66.8-21.1h1m101.9 36h1m-4.5-9.2h1m-12.8 11.5h1m-17.8-8.8h1m-82.3-26.9h1m67 26.6h1m-85.8-25.5h1m103.9 29h1m-33.5-5.4h1m-41.3-18.3h1m110.9 18.1h1m-78.9-0.5h1m-37.1-4h1m128.7 17.8h1m-151.3-52.6h1m30.5 23.9h1m93.3 28h1m-86.5-20.3h1m-38.4-13.7h1m79 27.7h1m-4.5-0.3h1m-106.4-56.9h1m81.3 53.3h1m-14.2-8.1h1m103.5 9.3h1m-81.1 2.1h1m56.6-4.2h1m13.3 6.9h1m-128.7-40.9h1m99.8 36.5h1m26.6 0.8h1m-3.7 5.2h1m-58.5-7.5h1m3.1 3.1h1m-82.2-36.1h1m51.3 32.9h1m7.1-3.9h1m-75.3-44.3h1m66.2 36h1m53.5 16.8h1m17.2 1.4h1m-104.7-31.3h1m-43.1-5.6h1m90.4 29.8h1m-67.4-25.6h1m-12.4 7.1h1m48.1 8.7h1m61.5 15.6h1m-20.5 0.8h1m-18.8-7.8h1m-23.2-5h1m34.5-1h1m-109.2-80.1h1m129.7 90.2h1m-8.9 4.3h1m-84-36.4h1m-34.6-16.4h1m17.8 6.8h1m131.3 44.4h1m-149.5-47.5h1m64.4 34.2h1m-50.7-33h1m-8.1 1.2h1m-20.2-27.6h1m90.9 55.3h1m-16.5 3.7h1m43.1 13h1m-80.5-13.4h1m129.9 12.4h1m-137.3-18.5h1m67.4 9.7h1m47.3 14.2h1m-116.7-35.6h1m110.5 31.1h1m-76-16.9h1m27 16.3h1m31-1.5h1m33.8-2.7h1m-21.7 8.7h1m-32.7-6.1h1m-43.4-13.4h1m22.9 6.4h1m49.8 9.7h1m11.1-2.1h1m-45.6-3.6h1m-82.6-23.5h1m64 22.7h1m-27.4-7.2h1m-14.5 7.1h1m-45.7-29h1m119.5 34.2h1m-50.3-1h1m43 3.7h1m-102.2-41.7h1m26.1 26.8h1m25.9-1.3h1m26.9 16.1h1m52.1-4.5h1m-141-42.6h1m58.4 39.1h1m-54.8-30.9h1m-9.4 19.6h1m30.6 1.4h1m-14.5-1.7h1m-21.1-10.7h1m44.4 12.6h1m42.8 15.2h1m14.8-4.1h1m20.6 7.5h1m-83.1-32.5h1m-66.7-44h1m168.6 80.2h1m-159.9-55.7h1m-9-11.5h1m128.8 52.2h1m-117.6-35.6h1m139.7 48.8h1m-57.2-18.8h1m69.3 9.5h1m-153-23.2h1m125.1 32h1m-46.1-20.4h1m45.9 16.5h1m-45.6-8h1m-16.3 5.9h1m-77.4-37.2h1m-13.4-27.9h1m117.2 69.3h1m58.6-6h1m-37.9-4.4h1m-97.4-19.1h1m31 11.1h1m85 19.7h1m-86.9-11.8h1m-11.2-15.1h1m-27.5 2.5h1m-12.6-27.9h1m16.1 38.3h1m123.1 6.9h1m-55.4-1.8h1m47.8 3.5h1m-18.2 7.4h1m-10.5-3.4h1m30.2-2.6h1m-13.8-7.6h1m-38-0.7h1m-13.3-0.3h1m-38.3-5.3h1m-32.3-24.9h1m91.8 43.8h1m35.6-11.2h1m-84.8-9.2h1m-56.2-21.7h1m126 28.9h1m13.4 3.7h1m-53.6 3.2h1m-41.6-2.6h1m31-10.4h1m-31.5-1h1m66.2 11.9h1m28.1 3.2h1m-97-20h1m10.6 8.5h1m5.1 6.3h1m68.7 7.2h1m-73.6-10.9h1m51.8 12.5h1m-124-35.1h1m14.6 17.5h1m-43-55.7h1m97.2 68.5h1m18.5-5.2h1m-113.7-61.4h1m53.9 56.8h1m-55.6-52.7h1m93.5 52.6h1m25.6 13.7h1m-16.2-5.4h1m-66.6-18.4h1m84.3 21.2h1m-40.3-12.1h1m-60.9-20.7h1m65.6 30.4h1m59.5 7.6h1m-141.2-77h1m11.8 40.9h1m135.3 33.6h1m-85.9-19.6h1m0.2 8.8h1m-68.2-47.2h1m31.2 30.2h1m-13.8-9.2h1m74.8 36h1m-81.9-44.8h1m46.6 25.2h1m48.1 14h1m-66-8.7h1m116.1 20.7h1m-155.6-43.3h1m-24.7-27.2h1m163.1 61.6h1m-122.4-15.9h1m62.8 9.4h1m-23.6 2.2h1m99.5 2.6h1m-102.2-4.2h1m91.9 14.7h1m-45.8-6h1m-9 1h1m-18.7-1.4h1m66.5 6.8h1m-154.8-72.7h1m52.8 47.9h1m-38.5 0.7h1m72.1 9h1m-81.4-38h1m46.6 35.9h1m-38.1-17.9h1m9.7 10.9h1m24.4 3.2h1m28.9 10.3h1m-72.1-37.4h1m38.8 18.6h1m-60.1-28.8h1m90.1 50.2h1m40 2.5h1m-19-8.3h1m52.6 1.2h1m-79.3-7h1m75.7 9.6h1m-128.5-23.6h1m27.5 17.5h1m-57.1-33.4h1m26.5 16.3h1m-34.6-26.8h1m160 54.3h1m-71.2-6.1h1m21.4 4h1m-47.1-11.1h1m84 16.4h1m-39.2-10.1h1m39.1 2.3h1m-37.5 2.7h1m-30.1-10.6h1m54.6 10.2h1m-166.4-65.9h1m17.3 30.8h1m34.3 24.2h1m15-6.7h1m58.3 12h1m43.7 11.1h1m-82.5-11.9h1m-50.6-15.5h1m66.8 16.3h1m56.5 7.8h1m-30.1-12.8h1m-107.1-11.8h1m81.7 24.4h1m27.1-8.8h1m-30 5.8h1m-79.3-37.5h1m106.6 43.9h1m-141.6-79.4h1m-3.5 8.9h1m76.5 46.3h1m106.4 27.3h1m-172.5-88.7h1m109.9 82.8h1m0.1-8.6h1m40.2 10.5h1m-47.9-10.6h1m-4.4 6.7h1m2.7-11.6h1m-14.3 12.1h1m-40-8.1h1m9.2-14.8h1m65.5 22.5h1m-9.9 1.6h1m-120.4-74.1h1m133 62.3h1m-97-16.6h1m62.7 24.9h1m58.3-3.6h1m-172-71.7h1m34 50.9h1m48.7 20.7h1m-65.7-26.9h1m29.1 11.8h1m99.9 26.4h1m-23.4-7.1h1m-92-38.2h1m-30.5-45.5h1m171.4 90.1h1m-156.4-35.7h1m27.4 4.7h1m-38.5-41.7h1m152.7 71.5h1m-141.2-46.7h1m-12.6-8.6h1m21.2 35.5h1m-18.2-13.1h1m155.2 34.1h1m-124.4-20.4h1m-17.7-1.5h1m82.8 21.6h1m14.8-9.1h1m-140-59h1m23 41h1m-14.6-56.9h1m82.8 71.9h1m40.4 4.3h1m-2.6 5.1h1m35.9 0.5h1m-143.4-36.5h1m86.6 30.7h1m28.2 0.8h1m-51.6-1.7h1m-16.8-0.6h1m-66.6-25.9h1m105.5 34.1h1m-104.4-29.8h1m29.2-4.8h1m79.8 27.5h1m36.1 7h1m-99.9-11.7h1m-26.9-11.6h1m59.1 20h1m68.3 3.4h1m-39.4-3.6h1m-109.7-45.7h1m73.5 45.1h1m-67.1-17.9h1m42.7 13.6h1m-2.6-13.5h1m102.5 16.1h1m-70.2 2.7h1m-80-26.3h1m-30.2-48.4h1m151.5 75.2h1m-68.5-15.9h1m-31.4-2.4h1m55.7 9.4h1m-72.6-24.3h1m67 32.2h1m-1.2-7.6h1m-23 1.4h1m94.3 5.1h1m-170.8-79.9h1m75.1 71.2h1m52.5 5.6h1m-23.1-1.2h1m-45.2-0.1h1m12.5-4.6h1m17.4 5.1h1m-3.8 3.7h1m2.7-8.8h1m-40.5-6.3h1m-38.4-31.1h1m74 42.6h1m-95.7-54.2h1m42.4 34.2h1m32.1 10.5h1m-32.5 0.5h1m-48.8-32.6h1m140.3 37.3h1m-132.3-47.7h1m100.7 48.8h1m-98.5-38.5h1m-19.9-36.1h1m45.5 69.1h1m58.4 12.1h1m-16.2-2.8h1m-31.9-4.8h1m0.9 0.3h1m-49.5-28.4h1m141.5 36.2h1m-44 3.9h1m-57-22.3h1m-3 4.1h1m49.5 6.7h1m-2.1 2.3h1m-72.4-12.6h1m-36.7-37.6h1m94.6 46.9h1m58.8 6.2h1m-50-4.1h1m-83.6-30.8h1m145.3 39.7h1m-115.7-18.3h1m68.3 18.5h1m-17.3-2.1h1m-18.5-7.9h1m22.5 2.9h1m-97.3-47.8h1m14.9 13.1h1m15.1 12.3h1m120 29.8h1m-4.1 0.7h1m-2.7-5.6h1m-51.8 0.6h1m-90.1-36.5h1m120.9 42.8h1m-67.2-21.8h1m-16.6 11.5h1m-52-38.1h1m81.6 38h1m-96.2-58.3h1m83.9 49.6h1m-52.2-0.4h1m-29.2-36.8h1m123.2 51.1h1m-71.6-17.6h1m-2.2-0.4h1m32.4 3.2h1m-98.2-48.9h1m0.8-4.4h1m9.1 18h1m50.9 37h1m62.6 16.4h1m-57-11.8h1m-12.4-14.2h1m93.8 15.5h1m-93.1-8h1m30.1 4.7h1m9.2 4.2h1m-77-36.8h1m103.9 45h1m51.9-3.2h1m-106.8-6.2h1m-21.2 0.5h1m3.7-7.9h1m37.4 13.2h1m-5.2 1.7h1m18.8 3h1m11.3-10.1h1m-64.3-10.3h1m8.5-1.2h1m70.4 21.7h1m-70.2-26.8h1m-65.7-49.2h1m165 69h1m-142.2-19.9h1m-15.6-13.7h1m96 38.6h1m-16.1-3.8h1m-1.9-8.3h1m-81.6-25.8h1m72.4 31.5h1m85.1 13.9h1m-121.6-31.5h1m110.7 32.4h1m-160.8-74.2h1m122.2 66.7h1m-85.5-24.8h1m-19.6-0.9h1m149.1 19.1h1m-31.9 6.5h1m-112.5-21.1h1m-38.6-44.1h1m54.3 37.6h1m-10.7 6.1h1m117.1 18.2h1m-88.2-12.8h1m30.3 11.4h1m-69.3-30.1h1m11.3 21.7h1m-32.8-23.1h1m144.8 41.9h1m-65.2-11.2h1m-87.4-52.9h1m56.6 40.4h1m68.6 11.7h1m8.8 10.7h1m-122.9-49.8h1m123.4 46.9h1m-154.2-70.4h1m174.4 71.3h1m-51.5-0.4h1m16.3-5.3h1m-18.9 2h1m-13-4.5h1m-18.7-6.2h1m-36.8-12.3h1m-63.4-51.5h1m137 69.5h1m4.7 2.2h1m-9.1 1.1h1m42.9 8.5h1m-113-12.7h1m11.9-9.2h1m58.5 14.2h1m-82.5-19.7h1m-25.5-0.3h1m9.6-14.2h1m117.7 42.6h1m-55.5-18.1h1m-100.8-72.5h1m21 49.5h1m-7.7-13.6h1m154.6 49.9h1m-80.6-0.7h1m-55.3-36.3h1m-34.7-18.2h1m17.8 21h1m10.3 13.2h1m-35.6-49.4h1m65.8 60.5h1m-57.7-33.9h1m121.1 40.8h1m19.4-1.8h1m-76.9-7.3h1m-78.9-80.9h1m49.7 69.1h1m92.2 17h1m-7.8 8.4h1m-6.9-11.3h1m-101.3-17.3h1m88.8 16.1h1m-41.6 1.7h1m-68.7-24.4h1m28.5 3.7h1m94.3 29.6h1m-11-3.7h1m37.9 8.5h1m-63.9-21h1m-111.2-45h1m19.2 33.9h1m-17.8-47.7h1m109.5 71h1m-61.7-20.1h1m123.1 27.1h1m-32.4-4.6h1m-90.5-12.7h1m-31.5-8.8h1m150.1 29.1h1m-87-10.7h1m-75.9-38.6h1m71.2 31.1h1m-32.1-18.8h1m27.4 20.6h1m25.7 2.3h1m-80.5-16.4h1m18.3 5.5h1m86.5 8.2h1m-108.4-30.8h1m94.5 39.2h1m-122.3-57.4h1m11 8.1h1m158.4 41.9h1m-82.7 4.3h1m50.8 5.3h1m-59.3-2.8h1m-26.4-19.3h1m93.9 20.2h1m-92.2-9.5h1m-22.1-7.3h1m64 16.8h1m6.6-10.5h1m-102.9-39.8h1m104.4 53.2h1m-16.2-6.4h1m-103-72.3h1m142.2 78.5h1m-3.8-0.3h1m-148.5-66.3h1m62 52.2h1m107 13.1h1m-67.2-5.4h1m15.9-0.9h1m-12.6 4.9h1m-10.1-5.4h1m-3.3 5.4h1m-75.5-26.5h1m43.5 10.3h1m67.2 12.3h1m-67.9-12.5h1m51.2 17.1h1m-17.2-11.3h1m-75.6-13.1h1m-24.5-37.7h1m156.8 60.4h1m-104.4-12.5h1m-50.8-40h1m-12.1-6.2h1m121.7 52.9h1m-99.2-42h1m100.9 49.2h1m46.4 5.4h1m-160.3-34.4h1m98.4 30.9h1m62.1-6.4h1m-138.6-12.6h1m-11-12.9h1m7.6 3.8h1m32.3 20.4h1m102.2 14.4h1m3.4-3.2h1m-83.1-12.2h1m-39.9-10.2h1m73.2 12.8h1m-3.1 0.8h1m51.4 3.9h1m-79.2-0.7h1m-55.9-22h1m-13.3 0.9h1m133.6 16.3h1m-79.6 0.4h1m14.9-6.2h1m20.9 10.1h1m-98.8-24.6h1m117.2 18.2h1m-42.7 2.6h1m-33.7-3.4h1m31.3-0.7h1m-11.2 4.7h1m25.6-2h1m-97.3-27.2h1m-13.4 3h1m0.9-19.6h1m-23.2-23.8h1m181.8 68.3h1m-71.7-4.1h1m-113-62.3h1m87.2 60.7h1m44.2 11.7h1m-130.7-69.5h1m45.7 30.8h1m56.8 28.7h1m50.6 10.9h1m-10-9.8h1m-24 12h1m-85.2-19.7h1m100 10.7h1m-16.9 6.2h1m-76.7-25.6h1m107.8 24.7h1m22-3h1m-162.6-54.1h1m47.4 46.5h1m2.3-3.3h1m61.8 10.2h1m-53.1-2.6h1m-6.6 0.8h1m39.7 2.4h1m-107.1-59.1h1m8.4 26.4h1m153 30.7h1m-17 8.5h1m3-0.1h1m-93.7-17.1h1m-21.3-13.3h1m-11.8 3.3h1m128.3 31h1m-32.5-4.8h1m25 0.8h1m-106-12.5h1m54 3.6h1m-74.9-17.1h1m67.8 19.2h1m-73.5-13.5h1m11.5-17.8h1m-33.6-12.4h1m110 40.2h1m-35.9-6.8h1m-75.4-22.5h1m149.2 42.9h1m-167.2-70.7h1m11.3-2.2h1m38.9 54.1h1m49.8 8.7h1m58.3-3.6h1m-163.1-66.1h1m62.5 65.1h1m-59.1-56.9h1m10.8 27h1m34.8 23.8h1m73.9 12.3h1m14.3 3.3h1m24.9 5.4h1m-148.1-41.7h1m146.3 41.8h1m-133.2-26.2h1m40.2 12.2h1m-9.8-9.6h1m-10.8-5.2h1m86.3 28.1h1m32.2-1.7h1m-109.1-13.3h1m-39-18h1m-7.1-13.1h1m144.6 45h1m-80.2-7.3h1m81.8-2.7h1m-21.1 3.2h1m-139.1-49.6h1m56.6 41.4h1m-44.8-28.3h1m6.9 12.7h1m131.8 28.4h1m-73.1-4.6h1m52.6-6.4h1m-104.4-2h1m20.5-14.7h1m87 27.5h1m-52.2-8.3h1m1-2.2h1m-28.3-0.5h1m-84.1-71.7h1m75.9 68.1h1m64.4 14.1h1m-25.2-3.8h1m45 3.4h1m-66.5-2.7h1m25.2-7.1h1m43.7 8.4h1m-85.8-18.9h1m-71.9-12.9h1m144.9 36.9h1m-113.3-21.3h1m35 5.4h1m59 13h1m-19.2-3.8h1m-62.8-16.8h1m95.2 19.2h1m-142-34.4h1m10 7.8h1m-3.7-14.2h1m33.9 25.8h1m-49.2-39.5h1m4 28.7h1m139.9 30.3h1m-125.9-33.2h1m87.1 28.3h1m-18.3-8.9h1m21.6-2.1h1m-99.5-27.1h1m7.1 5.9h1m73.7 28.1h1m-9.5-4.8h1m-71.5-29.9h1m133.2 39.8h1m-15.8-3.4h1m-0.2-6.9h1m-151.1-35.7h1m44.3 25h1m48.2 15.6h1m62.5 4.9h1m-59.6-13.2h1m51.5 17.4h1m22.6-5.6h1m-162.8-51.4h1m40.2 44.4h1m107.5 7.8h1m-150.7-45.5h1m140.7 38.6h1m-146.8-57.6h1m152.2 67.1h1m-63.2-17.6h1m22.1 15.5h1m-14.1-6.4h1m16.5 7.7h1m-46.8-5.4h1m37.5 2.5h1m-5.1-10.1h1m9.7 14.7h1m-103.7-29.3h1m53 8.3h1m47.7 12h1m-57-21.2h1m6.6 21.2h1m-55.6-23.4h1m38.2 14.8h1m30.8 9.4h1m-102.3-74.2h1m59.4 65.4h1m-42.1-28.9h1m4.1 18.5h1m32 2h1m-57.5-47.8h1m58 52.2h1m107.3 22.1h1m-148.8-34.4h1m100.5 32.8h1m-82.1-24.7h1m135.3 25.3h1m-21.6-0.5h1m-154-67.4h1m54.6 36.8h1m42.7 16h1m-55.2-4.4h1m125.7 20h1m-61.7-18.5h1m-7.9 8.9h1m-58.3-16.1h1m-14.8-2.7h1m-24.9-35.5h1m159 55.7h1m-78.7-1.1h1m57.1 7.9h1m-76.9-16h1m60.1 11.1h1m-81.4-26.3h1m-50.3-35.2h1m21.7 32.4h1m-27.7-23.9h1m162.3 54.6h1m-80.3-19h1m36.6 18.6h1m-108.6-48.7h1m75.1 48.3h1m-76.3-48h1m-11.8-9.8h1m164.8 65.3h1m-37.6-3.2h1m-69.2-13.8h1m28.2 4.6h1m-24-11.6h1m69.4 22.8h1m-58-8.2h1m57.3 5.1h1m-14-0.4h1m-30.3-17.3h1m51.3 19.2h1m20.8 1.2h1m-168.8-42.2h1m158.6 35.7h1m-117.6-26h1m111.1 20h1m-125.3-22.2h1m3.5 10.9h1m23.2-4.2h1m12.1 18.2h1m-86.3-60.5h1m145.1 69.6h1m-97.4-21.7h1m92.7 22.2h1m-115-43.4h1m-6.2 15.5h1m11.7 0.1h1m34.4 0.4h1m-69.6-61h1m2.3 23.2h1m162 58h1m-169.6-75.5h1m63 70h1m-45.6-22.2h1m16 12.7h1m-18.6-7.6h1m5.5-10h1m96.9 32.7h1m-61.6-14.6h1m28.1-0.3h1m-62.4-4.9h1m136.5 22.7h1m-153.5-38.1h1m70.4 24h1m21.4 4.9h1m60.5 6.3h1m-143.7-39.6h1m82.2 34h1m-59.1-9.7h1m40.5 14.6h1m-96.1-66.7h1m131.2 70.8h1m-65.7-15.5h1m1.9 0.2h1m-6.4-0.5h1m38.8 12.8h1m-3.9-5.3h1m-26.7-17h1m-54.7-19h1m61.1 33.9h1m5.3 5.8h1m-15.9-0.8h1m-68.6-44.4h1m52.4 29.5h1m26 5.7h1m42.7 18.3h1m-54.8-13.9h1m-71.8-45.9h1m10.6 13.9h1m65.2 29.6h1m15.3-1h1m28.5 16.7h1m49.9-3.8h1m-178.9-66.6h1m39.6 42.8h1m23.8-0.7h1m-46.9-19.1h1m12.5 26.5h1m34.4 7.9h1m-7-6.9h1m-42.9-34.8h1m5.4 30.9h1m77.5 20.7h1m50 4.7h1m-10.7-0.6h1m-80.7-13.9h1m-13.8-11.9h1m-41.1-18.5h1m49.8 19.4h1m-55.6-27.9h1m65 34.8h1m26.1 1.8h1m-38.9-13.4h1m81.9 26.4h1m-57-5.7h1m4.2 2.4h1m55.4 6.5h1m-78.1-22.8h1m-36.8 2.2h1m51.7 1.6h1m82 17.5h1m-173.5-74.5h1m145.8 75.1h1m-67.2-7.9h1m-53.2-27.8h1m83.5 20.3h1m-59.2-7h1m-23.1 2.8h1m75.9 3.2h1m27 8.1h1m-105.7-9.8h1m0-9.7h1m86 26.7h1m-60.4-15.1h1m12.8 0.3h1m-77.4-45.3h1m49.3 45.7h1m-49.4-27.1h1m157.3 43h1m9.4-5.5h1m-13.2-6.9h1m-131.5-9.3h1m-10.1-2.1h1m45.9 2.3h1m-65.3-33.1h1m162.6 47.5h1m-136.1-11.9h1m-22.1-35h1m114.3 45.1h1m-127.8-81.2h1m117.3 88.7h1m-115-54.7h1m-12.9-19.5h1m2.8-12.1h1m75.7 71.9h1m43.1-0.3h1m7.3 3.1h1m-97.6-15.2h1m-39.2-45.1h1m101.8 67.5h1m-2.4-2.7h1m-87.5-48.4h1m-5.8-3.5h1m128.5 59.9h1m-58.2-15.8h1m41.8 8.7h1m11.2 0h1m-37-9.5h1m53.3 14.8h1m-5.8-7.5h1m-107.3-12.3h1m34.9 11.5h1m35-5h1m-95.3-19.2h1m52 19.2h1m-16.7-6.3h1m-44.2-56.6h1m0.5 31.7h1m28.1 21.7h1m-28.8-39.3h1m130.7 59h1m-17.2-1.6h1m-77-11.8h1m99.4 13.7h1m-148-45.5h1m55.4 32.2h1m60.7 8.9h1m56.4 6h1m-32.1 4.3h1m-44.4-15.4h1m49.4 9.4h1m-10-3.3h1m-69.9-10.2h1m0.7 2.6h1m49.9 7.3h1m-85.1-24.1h1m110.3 24.2h1m-149.7-65.3h1m31 53.6h1m130.3 22.4h1m-164.6-53.7h1m91 33.6h1m12.9 15.5h1m-54.6-9.5h1m57.4 9.4h1m-54.8-16.9h1m109.3 20.7h1m-70-15.5h1m-75.2-22.7h1m123.2 25.6h1m-101.1-4.4h1m-44.6-54.9h1m4.1 28.4h1m40.1 22.1h1m-42.3-24.9h1m-1.7-10.6h1m40.9 37.4h1m-37.4-8.6h1m137.2 20.4h1m-33.2 0.5h1m48.9 7.9h1m-81.3-16.6h1m-64.2-31.2h1m28.8 30.9h1m76.4 11.5h1m-107.2-19h1m29.9 4h1m56 16.4h1m-15.1-9h1m46.9 7.7h1m-33.6 1.2h1m-107.4-50.7h1m50.2 21.9h1m19.3 25.4h1m-81.6-56.5h1m71.9 52.6h1m-60.6-18.8h1m101.2 23.2h1m45-2.5h1m-170.4-65.8h1m61.3 54.4h1m83.2 20.9h1m-73.9-22.1h1m-33.9-0.5h1m-49-58.9h1m148.8 74.5h1m-143-66.5h1m66.2 51.3h1m-27.2-5.8h1m49.2 10.5h1m-15.9 5.9h1m96.6 11.6h1m-68-8.2h1m-49.1-21.7h1m-15 3.8h1m113.8 22.9h1m-54-6h1m-81.9-21.6h1m116.7 25h1m-117.5-24.2h1m50.3 19.8h1m80.5 2.1h1m-106.8-16.6h1m-20-16.6h1m129 30.1h1m-86.2-11.1h1m-25.8 2.6h1m59.6 2.1h1m-49.6-2.8h1m67 5.2h1m-21.7 1.4h1m8.3 8.4h1m-73.5-12.7h1m-13.1-2.8h1m-15.9-25.5h1m-12.8 4h1m-14.7-21.6h1m36.8 32.8h1m-42.3-47h1m110 71.4h1m46.3 0.1h1m-130.6-29.7h1m132.4 29.1h1m-55.1-5.3h1m-94.9-35.9h1m128.3 42.3h1m-7.1-0.2h1m-40.4-3.1h1m-50.5-27.6h1m47.6 18.9h1m-41.3-15.2h1m-42.1-14.3h1m63 30h1m-8.7-3h1m-14.9 6h1m122.1 8.3h1m-29 3.9h1m-16.2-14.1h1m-31.6 2.5h1m-56.2-5h1m118.5 12.7h1m-59.9 1.7h1m-70.6-37.4h1m53 15.6h1m-75.6-4.2h1m148.3 25.5h1m-132.6-22.9h1m20.1 9.5h1m106.2 14.6h1m-8-11h1m-97-10.3h1m-17.4-9.9h1m98.5 34.2h1m-51.9-8.1h1m-42.1-12.9h1m4.2 4.3h1m-34.4-29.8h1m138.6 36.8h1m-94.8-15.4h1m-51.8-8.4h1m139.7 31.4h1m15.2 3.4h1m-119.9-25.1h1m62.2 11h1m-54.5-2.7h1m-9 0h1m-68.6-58h1m29.8 46.9h1m103.3 21.1h1m-101.4-39.2h1m64.3 38.3h1m-40.6-9.2h1m32.8 6.2h1m91.2 7.6h1m-20-0.1h1m-130.2-21.2h1m63.2 7.8h1m3.4 6.7h1m-78.1-35.6h1m49.8 27.5h1m-6.9 6.2h1m80.9 9.4h1m15.9-0.8h1m-5.9-2.6h1m-128.5-38.8h1m49.2 26.8h1m65.4 1.4h1m-123.4-22h1m71.2 31.2h1m43-2.7h1m-128-42.2h1m147.9 49.2h1m-14.4-5.2h1m-27-0.3h1m-12.7-5.7h1m-64.3-6h1m107 13.4h1m-35.2-3.3h1m37.3 7.5h1m-141.2-33.7h1m91.4 25.9h1m-119-67.6h1m54.4 53.7h1m47.3 3.5h1m50.1 20.5h1m-73.6-17.4h1m20.3 0.4h1m-58.6-4.9h1m-29-32.8h1m109.8 40.6h1m-57.5-1.7h1m5.9 4.1h1m48.7 8.3h1m-116.7-46.4h1m95 31.9h1m32.9 15.7h1m-113.3-35.9h1m44.5 11.4h1m-23.4 8.2h1m125.5 11.7h1m-49.5-6.3h1m-50.1 2h1m-69.3-34.5h1m21.9 10.7h1m92.1 32.4h1m48.9-4.2h1m-13.2-3.6h1m-14.7 7h1m-152-59.1h1m-1.3-21.1h1m138 80.3h1m-61.9-9h1m57.8 1.6h1m-94.4-14.3h1m-4.2-6.1h1m-10.3-15.4h1m21.4 11.8h1m98.4 33.5h1m-38.7-11.8h1m-18.8 4.3h1m41.1-0.1h1m-107.5-29h1m-0.4 10.5h1m19.1 12.4h1m58 7.8h1m62.9 0.6h1m-74.6-1.4h1m-53.8-18.6h1m23.6 0.8h1m-5.7 4.8h1m-58.3-33.9h1m107.5 44.5h1m18.9 1.5h1m-92.4-25.5h1m123.4 17.3h1m-39.8 15.2h1m-110.8-49.1h1m55.1 35.5h1m32.8 1.6h1m-45.6-14.4h1m17.1 17.7h1m-17.6-8.2h1m-5.3-6h1m39.8 7.7h1m47.1 7.8h1m-117.3-18.1h1m105.3 23.1h1m-72.6-9.2h1m15.8 6h1m5.6-1.2h1m-101.2-85.1h1m121.3 82h1m7.7-6.1h1m-53.6 3.7h1m-31.4-13.4h1m-20.6-8.5h1m50.1 19.5h1m-13-9.2h1m30.2 14.2h1m-78.8-22.2h1m74.2 12.6h1m-36.4-0.4h1m94.1 16.4h1m-5.2 2.3h1m-144.5-65.9h1m105 51.8h1m0.9 10.4h1m17.5-1.8h1m-60.4-6.7h1m-6.5-9.4h1m96.5 21h1m-175.3-72.7h1m44.9 52.3h1m128.5 21h1m-49.3-2.6h1m30.1-7.7h1m-117.5-12h1m107.8 17.6h1m-82.1-20.1h1m-66.3-46h1m107.9 65.4h1m36.2 2.3h1m-58.7-10.5h1m-23.4 1.7h1m12.7-1h1m7.5 3.3h1m-26.5-23.3h1m20.3 15.6h1m-62.2-17.7h1m45.8 26.5h1m-32.2-28.2h1m-27-35.7h1m39.1 51.1h1m114.9 20h1m-80.4-12.9h1m-87.9-62.6h1m112.7 69.1h1m-53.7-13.5h1m19.8 11.4h1m-64.1-18.2h1m123.9 28.6h1m-97.6-32.8h1m38.9 23.1h1m33.8 9.3h1m-52-12.7h1m-57.4-45.8h1m104.7 51.2h1m-65.2-6.7h1m2.2 1.2h1m117.7 12.9h1m-56.7-2.8h1m20.4 0h1m-147-65.3h1m64.4 47.4h1m-15.4-0.6h1m45.8 4.7h1m-41.6-5.2h1m4.5 0.9h1m-61-54.7h1m10.9 14.4h1m167.8 58.6h1m-24.5-0.2h1m-94-11.2h1m74.7 8.1h1m-25.7 1.8h1m12.2 3h1m-79.7-26.2h1m43 21.6h1m-80.5-33.3h1m66 27.6h1m14.2 4.7h1m10.2-0.9h1m-61-9.7h1m43.8 7.4h1m35.6 4.8h1m-96.6-16.2h1m-30.7-48.8h1m147.4 64.4h1m-6.8 1.3h1m-146.7-51.8h1m13.2 19.3h1m7.8-0.6h1m116.6 26.8h1m-67.7 0.9h1m4.4 0.5h1m99.4 6.3h1m-61.5-7.3h1m-8.5 5h1m-113.8-56.4h1m33 34.1h1m24.5 16.5h1m75 11.7h1m-85.9-30.2h1m-23.6 4.5h1m126 15.9h1m14.9 10h1m-6.3 2.6h1m-123.6-38.5h1m119.2 26.8h1m-41.4 6.9h1m-120.4-80.6h1m124 68.8h1m32.5 14.5h1m-3.2 0.3h1m-163.2-83.3h1m130.2 73.3h1m-54.4-10h1m-58.2-12.7h1m11.2 10.3h1m27.5 1.9h1m94.3 7.7h1m11.3 14.6h1m-40.4-18.6h1m-119.3-32.8h1m-5.3-26.7h1m12 9.4h1m78.2 53.4h1m-36.4-12.1h1m43.9 11.2h1m-50.4-8.7h1m89.8 21h1m25.6-2.1h1m-171.2-58.6h1m63.1 45.5h1m83.9 14.6h1m-124.9-36.3h1m78.9 19.6h1m55.6 20.9h1m-118.8-27.6h1m13.6 9.2h1m-16-7.4h1m105.6 17.6h1m-98.5-7.7h1m71.4 8.4h1m-34.6-11.6h1m-68.8-24.5h1m144.7 38.2h1m-152.5-49.9h1m-26.1-22.9h1m174.8 74.6h1m5.1-1.7h1m-135.4-11.4h1m73 5.2h1m-20.4-6.8h1m69.6 7.2h1m-118.9-5.8h1m21 0.7h1m-73.1-70.7h1m78.4 78.1h1m85.2 7.2h1m-152.9-40.1h1m136.2 25.8h1m-51.1 5h1m-52.1-9h1m65.3 12.8h1m-2.6-3.2h1m-67.7-12.2h1m7.9-8.2h1m14.4 14.2h1m-38.2-25.2h1m39.5 11h1m41.5 9.5h1m-68.3-1.6h1m110.9 19h1m-94.5-9h1m-4.7-5.6h1m41.4 10.1h1m-23.9-10.3h1m77.4 16.7h1m-134.9-46.5h1m75.5 41.6h1m-73.7-21.7h1m42.2 0.1h1m-4.1 4.4h1m29.5 9.7h1m-16.9-9.4h1m35.6 12.6h1m11.7-3.6h1m-3.9 12.6h1m4.4-8.2h1m-73.7-2.9h1m62.4 6.1h1m-7.1 2.7h1m-64.8-27.3h1m-15.5 3.8h1m70.5 15.5h1m38.3 11.8h1m-89.7-16.3h1m60.3-1.4h1m-111.3-41.2h1m17.2 25.9h1m5.6 3.5h1m131.3 28h1m-2.7 1.2h1m-122.7-21.4h1m118.1 22.7h1m-79.2-11.6h1m65.8 1h1m-66 0h1m-64.9-31.6h1m71.3 23.6h1m-89.3-32h1m102.9 46.9h1m26.3-2h1m-61.5-8.2h1m91.5 7h1m-58.7-2.5h1m-64.7-20.5h1m57.2 13.1h1m5.7 6.9h1m25.1-2.7h1m-19.5 5.7h1m-102.9-40.2h1m78.4 42.4h1m32.4-3.3h1m17.3 7.1h1m-164.6-68.8h1m84.9 44.4h1m-72.8-42.9h1m44.8 49.2h1m2.8-18.2h1m113.2 32.3h1m-141.1-20.4h1m62.9 10.7h1m70.7 13.3h1m-63-14.8h1m4.6 8.8h1m-42-11.3h1m30.6 10.7h1m45-0.6h1m-44.7 2.3h1m71 6.9h1m-117.8-18.2h1m-49.1-58.5h1m27.3 42h1m11.2 15.7h1m-5.8-6.7h1m24.3 6.8h1m4.8-7.5h1m22 8.5h1m-9.6 3.4h1m64.2 12.2h1m-93.7-22.3h1m-30.9-18.8h1m93.7 38.8h1m-2-3.5h1m-118.6-56.3h1m9 11.8h1m127.2 43.4h1m-124.6-30.3h1m-14.1-21.8h1m137.5 53.6h1m-49.5-4.6h1m-104.2-51.7h1m46.7 36.6h1m-5.1 1h1m90 15h1m-15.6-6.1h1m-30.5-2.1h1m-46.3-14.7h1m-6.1-5.8h1m-21.8-3.8h1m29.1 16.1h1m-34-32.1h1m2.2 19.2h1m44.6 27.3h1m-13.9-16.4h1m-46.4-54.6h1m122.3 72h1m-90.2-11.1h1m-33.8-43.4h1m111 59.6h1m35.7 0.8h1m-98-21.6h1m23.4 11.2h1m-25.7 1.8h1m30.1-5.2h1m-33.6 0.4h1m34.8 0.7h1m34.2 8.4h1m-37.9-8.4h1m-80.5-24.1h1m155.2 36.7h1m-148.7-29.5h1m135.7 33.1h1m-156.3-75.4h1m65.4 62.2h1m62.6 8.5h1m-118.5-62.2h1m64 48.9h1m-22.8 5.3h1m38.2 0.5h1m-93.7-53.9h1m54.6 33.6h1m58.8 23.8h1m37.2 8.8h1m-37.5-7.9h1m-11.1-0.5h1m-55.6-18.4h1m-21.7 4h1m131.2 21.5h1m-117.2-26.5h1m-53.2-41h1m3.3 3.2h1m156.1 62h1m-95.8-11.7h1m75.7 10h1m-27.5-9.1h1m26.8 2.8h1m-106.5-6.4h1m43.7-1.5h1m55.9 4.6h1m-106.9-4.6h1m110.3 5.1h1m-60.7 2.5h1m14.9-5.6h1m28.5 13.9h1m45.5 0.3h1m-150-20.9h1m0.1-19.6h1m55.2 34.2h1m51.5 1.1h1m-46.3-3h1m-38.8-15.7h1m81.3 26.9h1m-107.7-26.9h1m66 20.7h1m34.9 5.3h1m-96.5-18.1h1m44.4 3h1m74.8 11.9h1m-141.4-56h1m95.6 45.1h1m-65-13.4h1m110.5 21.2h1m-104-6.7h1m-37.8-37.8h1m151.9 48.7h1m-145.2-32.8h1m117.3 27.2h1m-119.5-19.6h1m25.5 2.8h1m95.7 19.8h1m13.9 3.4h1m-85.6-4.8h1m-68.4-43.2h1m82.3 45.3h1m36.4-6.7h1m-3.3 6.3h1m-113.7-41.6h1m24.6 15.5h1m72.7 26h1m-4.5 4.4h1m46.2-3.6h1m-29.1 4.2h1m21.6 1.1h1m-156.2-56.7h1m112.3 48.8h1m9 2.9h1m-26.1-9h1m48.6 14.6h1m-111-31.4h1m104.3 29.7h1m-103.6-24.5h1m8.6 5.4h1m93.2 13h1m1.3 2.8h1m-34.6-5.9h1m10.6 7.5h1m-89.1-42.4h1m113.8 42.9h1m-102.7-29.6h1m37.1 20.5h1m-93.3-42.4h1m22 27.9h1m19 3.8h1m32.6 12.4h1m-66.2-59.7h1m-12.8 5.8h1m7-3.2h1m81 51.4h1m62.6 7.6h1m-18.7-4.1h1m-16 6h1m-27.5-12.7h1m-41.7-9.6h1m48.4 10.5h1m-22.3 8.8h1m45.8-1.6h1m5.4 8.1h1m-98.3-41.2h1m21.3 24.1h1m35.1 10.5h1m-59.3-9.4h1m51.7 5.2h1m-63.2-13.5h1m51.7 5h1m11 2.6h1m-94.5-57.1h1m152.5 74.4h1m-97.2-23.6h1m-47.1-22h1m3.9 7.5h1m67 23.5h1m-45.5-22.6h1m-6.1 11.7h1m28.6 4.2h1m-59.6-43.8h1m17.3 30.5h1m121.6 25.1h1m-49.1-9.9h1m7.7 12.7h1m4.7 3.2h1m-67.3-32.3h1m38.4 16h1m24.9 13.4h1m-78.9-23h1m20.3-0.2h1m25.7 10.7h1m59.6 19.4h1m-108.2-24.2h1m-31.2-40.8h1m137.9 56.3h1m29.3 13.7h1m-25.7-13.8h1m-99.3-9.8h1m98.1 9.9h1m-137.2-39h1m126.7 46.3h1m20.6 0.1h1m4.6 4.9h1m-6.4-11h1m-4.1-2.9h1m-35-0.5h1m28.3 10.5h1m-102.7-21.4h1m32 10.2h1m-15.4-10.9h1m-78.1-48.4h1m92.8 48.4h1m8.6 12.9h1m-28.2-8.2h1m-30.2-12.3h1m-19.6-18.1h1m62.9 37.2h1m2.8 1.1h1m-63.8-27.5h1m19.8 10.7h1m98.4 16.6h1m-52.9-3.8h1m33.4 5.9h1m-44.4-7.2h1m-66.2-32.6h1m7.7 7.8h1m84 30.3h1m-109-69.4h1m6.4 42h1m141.1 34.6h1m-31.8-5.8h1m-8.9 4.8h1m-36-17.4h1m78.3 13.8h1m-106.4-14.8h1m90.8 14.8h1m-158.3-74.8h1m109.1 77.3h1m33.3 3.6h1m-79.9-19h1m30.4 5.9h1m26.9 11h1m41.3 1.5h1m-143.6-29.5h1m46.6 11h1m93.2 22.7h1m-8.7-0.6h1m-1.4-8.1h1m-95.2-15.2h1m46 12.2h1m-62-19.1h1m102.6 20.2h1m-5.2 1.5h1m-104.1-21.7h1m-11.4 6.5h1m132.2 20.1h1m-33.7-4.5h1m-57.1-6.7h1m59.9 9.9h1m12.2-0.1h1m-31.7 0.5h1m-48.9-8.3h1m25.6-0.5h1m-94.6-64.2h1m149.9 64.4h1m-147.5-38.3h1m151.6 43.2h1m-141.4-35.2h1m-5.9-21.8h1m118.1 58.1h1m1.7 5.9h1m-45.3-9.9h1m-20.8-8.2h1m-13-13.9h1m-50.3-40.8h1m86.3 64.4h1m-98.2-53.9h1m165 61.3h1m-54.9-10.8h1m-14.4-9.9h1m17.1 16.2h1m-57.7-18.3h1m50.6 17.5h1m65.2-3.6h1m-146.1-18.5h1m84.3 22.1h1m-108.7-31.8h1m76.6 26.4h1m85.2 5.3h1m-10.3 1.1h1m-30.6 0.8h1m-103.7-21.8h1m-0.7-6.2h1m137.1 30.7h1m-44-9.8h1m-135.4-69.1h1m174.4 84.5h1m-42.2-18.2h1m-125.5-41.5h1m55.1 44.1h1m44.9 5.2h1m-25.9-6.1h1m26 0.1h1m-23.8-2.2h1m-19.8-4.4h1m10.1-10h1m37.7 14.8h1m0.4-3.1h1m-17 10.8h1m59.8-4.8h1m-143.3-28.5h1m20.1 7.9h1m1.8 4.5h1m0.6-4.5h1m103.8 25.9h1m-13.6 5.3h1m-41.5-13.1h1m-68.4-25.1h1m114 28.3h1m-14.3 7.2h1m-77.5-22.5h1m-28.7-14.9h1m-11.2-14.5h1m44 24.2h1m-21.4 0.8h1m-26.2-31.5h1m-4.2 21.8h1m30.2 21.4h1m98.7 15.4h1m-132.7-34.5h1m115.9 27.3h1m6.2 5h1m-117.9-37.8h1m87.5 25.3h1m37.4 7.2h1m-92-6.7h1m-32.6-11.9h1m-12.6-10.4h1m73.8 26.7h1m56.1 10.1h1m-25.3-5.8h1m-114-55.3h1m149.5 53.3h1m-106.3-4.1h1m124.9 14.4h1m-156.3-41.6h1m44.9 13.2h1m-1.3 16.2h1m-28-5.7h1m97.6 6h1m-100.6-9.4h1m102.9 19.7h1m-76.4-17.7h1m53.7 15.6h1m29.8-3.7h1m-27.4 5.1h1m-80.9-18.6h1m83.4 18.7h1m-124.4-67h1m60.5 58.1h1m-35.1-16.5h1m76.3 21.2h1m63.8 2h1m-30.1-8.9h1m-64.5-3.3h1m-90.2-63h1m131.9 76.8h1m46.9-1.2h1m-109.2-10.5h1m56.2 11h1m-36.5-4.5h1m47.1 8.2h1m-142-75.4h1m48.1 49.8h1m105.3 17.9h1m-46.9 2.5h1m-74.3-24.2h1m26.9 1.6h1m-21.4-6.8h1m80.8 20.5h1m7.3 12.8h1m-4.7-3.4h1m26.6-8.1h1m22.3 5.3h1m-29.4 6.1h1m-156-64.1h1m64.5 45.6h1m-23-7.6h1m43.4 7.4h1m61.2 9.2h1m23.1 6.7h1m-26.7-10.7h1m-112.1-10.8h1m-14.6-14.9h1m112.8 28.8h1m-105.1-27.4h1m-6.2-8.7h1m-22.1 3.5h1m140.9 42.4h1m-40.5-4.8h1m11.9 0.2h1m-3.3 0.7h1m-23.2-2.6h1m-30.9-15h1m18.6 7.7h1m39.4 11.9h1m-51.9-10.5h1m3.4-6.7h1m12 0.7h1m-1.2 5.1h1m53.3 15.7h1m30.5 1.1h1m-29.3-5.8h1m-104.6-17.6h1m-32.9-45.6h1m134.1 65.9h1m-142.7-81.5h1m51.3 67.3h1m86.4 10.9h1m-108.9-26.1h1m109.2 24.6h1m-25.7 3.3h1m-30.4-10.4h1m-54.9-27.9h1m-3.3 7.3h1m64.3 30.5h1m50.4-3.2h1m23.1 7.9h1m-69.1-20.7h1m-103.7-20h1m168.4 36.6h1m-67.7-16.6h1m-58.5-1.4h1m63.4 4.7h1m-92.8-15h1m74.9 26.9h1m-1.2-10.3h1m-50.5-13.1h1m100.1 22.3h1m-62-16.4h1m-67.7-29.8h1m56.8 39.4h1m15.9-2.5h1m18.8 8.9h1m-43.8-3.9h1m60.5 5.3h1m38.4 7.8h1m-115.8-19.9h1m-57.9-42.4h1m27.1 28.6h1m93.1 29h1m-86.3-23.5h1m50.1 15.8h1m-9.4-0.4h1m-43.7-11.5h1m61.1 15.2h1m20.8-2.7h1m-77.4-13.5h1m99.9 13h1m-116.5-9.5h1m92.1 18.7h1m34.5-4.6h1m10.4-1.8h1m-158.3-38.1h1m-1.6-7h1m29.4 35h1m117.8 15.6h1m-91.6-20.4h1m12.6 3h1m26.6 9.7h1m-115.3-83.6h1m17 49.8h1m61.2 19.6h1m-41.7-10.1h1m-24.9-14.2h1m12.5 6.3h1m21.5 25.6h1m36.5 0.3h1m45.3 10.1h1m-36.1-1.2h1m-92-53.8h1m57.3 47.2h1m-20.8-19.9h1m122.8 25.8h1m-164.5-34.7h1m19.8 9.6h1m-18.8-19.1h1m111.2 44.5h1m40.8 3.7h1m1.6-4.6h1m-124.7-28.8h1m18.1 17.7h1m18.5 11.7h1m-86.2-49.4h1m31.2 24.6h1m41 7.3h1m13.9 14.1h1m63.3 0.8h1m19.4 0.3h1m-121.9-5.9h1m107 16.8h1m-157.1-68.1h1m-10.4 1.8h1m117.2 61.5h1m29.3 4h1m-27.2-5.5h1m-90.5-18.1h1m128.8 17h1m-3.1 3.7h1m-59.4-15.7h1m-53.4-8.3h1m-32.6-8.1h1m-4.6-23.5h1m13.7 29.9h1m77.4 13.2h1m-79.2-27.3h1m0.2-8.8h1m-31.5-14.2h1m73.8 41.7h1m36 14.2h1m65.1 4.6h1m-119.8-18.5h1m55.2 15.7h1m41.5 3.1h1m-13.5-1.8h1m-30.7 2.3h1m46.6-2.5h1m-46 2.9h1m-65.3-21.5h1m-14.9 3.7h1m123.1 14.7h1m-18.2 5.3h1m21.3-7.4h1m-58.7-2h1m17.6 0.5h1m-89.3-25h1m-16.8-2.5h1m139.7 32.1h1m-102.6-17.9h1m98.1 21.2h1m-27.6-0.6h1m-35.8-15.7h1m-33.3 0.7h1m-69.5-49h1m114.9 55.7h1m63.7 4.3h1m-71.3-0.7h1m-99.3-36.6h1m82.4 23.9h1m-26 3.4h1m64.5 13.5h1m-15.3 1.4h1m47.9-3.2h1m-55-9.5h1m38.4 7.1h1m-57.4 0.7h1m-47.6-19.6h1m73.1 20.2h1m30.2 3.2h1m-88-8.8h1m-18.1-10.8h1m71.9 15.7h1m-71.9-6.9h1m114.3-2.6h1m-106.4-4.9h1m-11.8 3.7h1m-31.1-21.3h1m51.9 14h1m69.9 23.3h1m-6.5-8.2h1m-6 3.6h1m-137-67.8h1m82.8 66.4h1m-6.4-15h1m-39.2-8.3h1m35.6 19.4h1m-13.3-11.4h1m92.3 24.1h1m-81.4-18.6h1m-62.1-47h1m68.4 52.3h1m13.6 0.5h1m32.3-0.3h1m-136.8-66.3h1m-0.1 12.2h1m3.2-33h1m-5.1-0.1h1m3.6-1.6h1m-11.2 19.5h1m7.4 10.2h1m-7.9 1.2h1m3.1-25.4h1m6.4 28.9h1m-3.9-38.5h1m0.7 29.3h1m-5.6-6.6h1m-2.6 20.3h1m7-6.9h1m-6.9-20.9h1m-1 2.1h1m3.4 4.5h1m-4.1-3.3h1m-10.8 8.3h1m10.2-24.1h1m-1.1 10.8h1m-6.2-4.8h1m5.4 42.2h1m-4.6-34.1h1m4-13.1h1m-12 15.8h1m-1.7-1.9h1m-1.8 0.2h1m-3.5 13.7h1m12.6-38.1h1m-11.3 33.6h1m1 9.6h1m2.2-0.2h1m-3.8-14.7h1m1.5-9.9h1m0.1-6.2h1m-10.1 20.1h1m13.2 10.6h1m-13.4-5.7h1m3.3-7.3h1m-0.7 5.2h1m0.1 12.7h1m6.4-29.8h1m-3.1 36.7h1m0.1-20.4h1m-15.3 4.4h1m5 0.8h1m7-4.9h1m-3.5-23.9h1m-8.1 22.6h1m7.7-12.3h1m-7.9 8.2h1m5.1 2.4h1m-2.8-0.8h1m-8.2 1.1h1m12 14.2h1m-2-16.4h1m-6.2-10.7h1m4.7 21.3h1m-6.3-4.5h1m2.1-26.6h1m1.3 49.2h1m-5.5-26.6h1m-8.8 14.1h1m4.5-5.5h1m-5.8-12.3h1m0.4 2.3h1m-5 11.7h1m-1.9-1.8h1m10.8-7.4h1m-6.9-6.4h1m-6.9 6.3h1m4.5 1.9h1m-7.2-3.9h1m12.4 14h1m-9.4-16.1h1m3 1.8h1m-6.7 1.6h1m3.7-0.9h1m1.7 5h1m2.8-26.4h1m-2.7 51.5h1m-8.2-33.7h1m-1.9 15.9h1m-1.6-5.4h1m-3.3-0.8h1m8.8 3.4h1m2.2-5.9h1m-6.1-0.5h1m1.5 3.4h1m2.9 1.4h1m-12.5 3.9h1m3.5-19.3h1m-6.4 5.5h1m5.5 6.3h1m-2.7 12.2h1m0.4-40.5h1m4.1 37.6h1m-14.3-7.2h1m11.1-11.2h1m-5.9 2.1h1m-0.8 8.9h1m-3.6 10.7h1m-0.9-23.6h1m7.4 27.4h1m-12.9-20.8h1m9.4-5.8h1m-0.5 6h1m0.7 7.4h1m-8.9-25h1m-3 3h1m1.6 3.9h1m3.7 16.5h1m-3.5 13.1h1m-10.2-19.5h1m10 0.8h1m-12.4-2.8h1m6.9 4.8h1m5.4-3.6h1m-8.7-1.5h1m-3.8 14.3h1m6.3 0h1m-9.2-6.6h1m-0.7 8.7h1m2.8-16.2h1m-1.6 13.6h1m6.6-1.6h1m-10.7-5.8h1m0.6 13.1h1m8 6.8h1m-2.2-23h1m-10.7-7.1h1m9.2 21.9h1m-12.9-23h1m7.8 14.9h1m-6 3.3h1m2.8 4.8h1m-9.8-18.9h1m0.5-2h1m11 16.8h1m-12.1-4.6h1m6.5 2.2h1m-3.4-21.2h1m-6.4 10.3h1m0.9-7.3h1m3-9.1h1m-2.2-0.5h1m4.4 2.6h1m-1.3 13h1m-4.4 16.3h1m-4.4-17.4h1m7.7 14.6h1m-1.1 8h1m-7.4-7.7h1m-5.7-13.9h1m-2.7 2.9h1m-3 7.3h1m8.8-0.8h1m-2.5 2.4h1m1.9-23.5h1m-3.3 26.8h1m-7.8-5.3h1m3.9-29.2h1m2.2 44.6h1m-9-18h1m2.8-10.1h1m3.4 2.8h1m0.4-21.8h1m-8.5 23.5h1m8.4-3.8h1m-3.5 3.7h1m-9.2 7.8h1m-0.9-13.7h1m11.1 30h1m-1.2 7.1h1m-13.6-36.1h1m4.2-1h1m6.7 16.4h1m-6.8-6.6h1m2.7-12h1m-10.9 16h1m0.1-14.7h1m3.5 21.6h1m2.5-9.3h1m-9.1-0.8h1m4.2 17.1h1m-6.4-4.6h1m5.2-0.6h1m-10.6-20.8h1m11.3 19.4h1m-1.1 10.5h1m-6.8-17.9h1m-0.8-23.5h1m-0.9 31.4h1m-0.4-4.9h1m1.6-28.8h1m3.4 28.1h1m-6.2-6.8h1m3.8-15.2h1m-1.5 7.2h1m-10.5 2.3h1m7-6.7h1m-14.1 18.4h1m4.3-18.2h1m7.4 30.2h1m0.7 11.3h1m-14.2-19.1h1m5.4-16h1m5.7 15.3h1m-11.2-16h1m0.8 1.5h1m-3.8-6h1m0 2h1m-1.6 19.3h1m9-2.1h1m-5.2-24.5h1m3.8 21.5h1m-10.6 2.8h1m-5-7.9h1m5.3 5h1m-0.9-15.6h1m-1.2-4.1h1m-2 24.4h1m5.9 3.3h1m-1.7-34.4h1m-8.2 29.1h1m-3.3 0.9h1m0.1-4.4h1m9.9-10.6h1m-6.1-13.6h1m4.4 36.3h1m-14.7-8.4h1m4.1-21.5h1m0.9-6h1m-1.7 36h1m-2.1 2.4h1m-1.7-37.8h1m2.2 40.5h1m1.1-0.2h1m-11.9-27.6h1m1.9 14.4h1m0.1-23h1m-1 29.1h1m8.3-19.4h1m-8.5-0.9h1m-1.9 18.2h1m-3-13.4h1m5.6-12.4h1m-2.4 4.3h1" stroke="#4444cc" stroke-opacity="0.155" stroke-width="1.0" fill="none"/>
<path d="M522.4 233.9h1m-7.6 0.4h1m86.5 18.2h1m-37.8-13h1m-3.1 8.8h1m-7.3-13.3h1m-52.4-13.6h1m-2.6 12.5h1m60.9 14.4h1m32-2.8h1m-67.6-20.6h1m26.7 18.3h1m-42.8-10.3h1m116 25.9h1m24.9-0.5h1m-167.5-75.1h1m145.6 68.4h1m-106.6-7.3h1m-32.1-22.8h1m58 20.5h1m-48.7-27.8h1m42.7 36.1h1m52.8-2.7h1m-128-64h1m-0.5-19.7h1m43.1 59.7h1m126.3 37.4h1m-22.1-2.6h1m-127.7-37.1h1m119.6 35.4h1m10.6 2.9h1m-105.1-14.8h1m75.5 12.6h1m-117.1-39.8h1m65 34.2h1m33.9 1.4h1m-109.1-61.9h1m24 45.5h1m93.2 19.8h1m16.1 1.4h1m27.6 3.4h1m-135.8-22.8h1m101.8 18.5h1m-133.7-71.2h1m114.2 66.7h1m-1.8-5h1m-47.7-0.9h1m-18.7-2.3h1m-60.6-48.1h1m162.3 62.9h1m-20.9-1.7h1m-4.3-4.2h1m33 7.5h1m-35.8-2.5h1m-85-35.3h1m-41-25.2h1m157.6 59.8h1m-146.2-30.6h1m90.6 26.9h1m-112.9-49.3h1m152.7 49.6h1m-151.1-26.1h1m158.8 27.3h1m-93.7-17.5h1m-56.1-10.2h1m128.3 32.5h1m-141.7-40.1h1m-12.3-33.4h1m101.3 53.7h1m52 14.2h1m-63.2-3h1m76 1.5h1m-178.7-64.1h1m112 61.5h1m12.3 5.1h1m-65.6-24.1h1m96.9 17.1h1m-10.4 2.7h1m-109.6-13.2h1m81.6 10.7h1m38.9 11.9h1m-130.1-28h1m83.9 11.6h1m-53.2-2h1m90.4 9.7h1m-18.3 3.4h1m-128.5-84.4h1m126.4 76.1h1m-103-25.4h1m-9.7 8.8h1m-27.9-52.3h1m90 67.7h1m-89.1-65.5h1m113.5 71.7h1m58 4.2h1m-49.7 0.4h1m-61.7-15.6h1m-63.7-40.8h1m163 56.8h1m-1-1.8h1m-141-32.6h1m70.8 23.6h1m3.2 5.3h1m-21.1-10.8h1m-52.1-26.6h1m-7.1-2.7h1m21.9 8.9h1m-22.6 16.3h1m-1.9-9h1m-11.6-50.3h1m138.8 80.2h1m-118-23.8h1m116 25.6h1m-58.3-14.7h1m22.2 7.6h1m-19.1-7.1h1m-66.3-9.4h1m26.1 7.2h1m27.7 8.3h1m-54.8-17.6h1m0.8-2h1m135.5 26.5h1m-126.2-27.3h1m120 28.1h1m-171.2-58.7h1m39.1 25.6h1m-22.2-8.2h1m140.2 31.2h1m0.7 7.1h1m-119.3-30.8h1m27.9 24.1h1m52.7-0.1h1m-97.4-31h1m15 10.6h1m128.8 28h1m-148.9-35.7h1m-20.7-45.7h1m53 65.2h1m-62.9-65.1h1m101.9 72.7h1m-17.3-4h1m-37.8-5.4h1m-17.1-23.7h1m7.6 13.1h1m-24.4-24.5h1m154 55.3h1m-92.7-12.8h1m-3.5 1.1h1m78.9 11.2h1m-87.5-13.7h1m-76.8-40.4h1m17.3 24.3h1m39.9 16.7h1m14.1 4.5h1m37.5-0.9h1m47.3 4.2h1m-24.8-0.8h1m-86-9h1m-15.8-3.9h1m124.7 19.6h1m-108.1-19.5h1m64.2 8.7h1m-76.9-7.4h1m-33-18.9h1m114.4 31.9h1m-0.4-7.9h1m49.3 4.4h1m-73.5-1.4h1m-21.6-3.2h1m-28.1-1.1h1m-33.6-37.7h1m134.6 44.7h1m-109.6-16.9h1m8.9 2.4h1m14.3 2.3h1m49.3 17.6h1m42.3 2.4h1m-111.1-28.9h1m11.5 14.9h1m38.9 3.8h1m-52.6-14.8h1m7.4 11.8h1m49.1 9.2h1m-96.4-25.7h1m23.8 11.1h1m53.4 9.4h1m22.7 8.4h1m-112.8-50.8h1m38.9 31.9h1m80.2 12.7h1m-91.5-22.3h1m98.8 19.9h1m-149.4-52.4h1m154.8 56.3h1m2.9-4.4h1m-28.8 6.2h1m-7.3 3h1m-88.6-27.1h1m17.1 13h1m82.4 4.1h1m-33.9 2.7h1m-13.5-11h1m-34.8-11.9h1m-38.1-12.9h1m28.2 19.3h1m-38.9-20h1m12 7.2h1m70.4 29.2h1m73.1 6.6h1m-98.9-17.1h1m-54.8-32.1h1m108 43.8h1m39.9 1.1h1m-63-2.3h1m38.5-2.9h1m-150.3-50h1m1.4 11.6h1m165.6 42.4h1m-167.1-51h1m3.9-34.5h1m65.3 71.4h1m90.9 13.9h1m-133.9-32.8h1m53.3 29.4h1m19.1 1h1m31.7 6.8h1m-71.1-23.7h1m91.4 21.3h1m-20.4-5.3h1m-104.8-19.3h1m-38.7-34.9h1m64.5 47.6h1m-15.6-4.2h1m-45.7-28.2h1m18.1 12.5h1m137.2 32.2h1m-38.7-5.6h1m-19.2 0.9h1m-52.1-11.5h1m25.3 10.6h1m-83.8-52.2h1m117.7 59.5h1m-40.4-16.2h1m-4.7 0.8h1m86.2 15.7h1m-68.6-15.8h1m0.4 10.3h1m-92-90.5h1m-1.6 57h1m2.6-10.1h1m76.1 42.6h1m24.8 3.8h1m-62.7-15.7h1m113.2 14.3h1m-140.7-30.3h1m153 35.1h1m-179.3-54.6h1m131.3 50.6h1m-61.4-20.6h1m-17.8 12.8h1m80.9 11.5h1m-102.2-34.4h1m-1.4 17.7h1m11.2-4.1h1m-30.9-34.8h1m3.1 24.4h1m3.6-13h1m132.4 46.6h1m-102.1-20.7h1m-35.9-18.7h1m130.1 37.7h1m-62.5-11.4h1m-16.8-4.7h1m88.8 17.7h1m-135.6-23h1m86.5 12.3h1m-32.6 2h1m-9.7-6.1h1m-10.7 4.5h1m-7.2-16.8h1m-49-16.3h1m57.2 24.4h1m-56.5-20.3h1m-15.3-31.5h1m113.3 61.5h1m-44.7-10.5h1m13.2 4.4h1m-9.2 6.5h1m-47.4-9.4h1m-24.7-42.5h1m43.1 43.3h1m96.9 13.5h1m-43-8h1m-116.2-53.9h1m88.3 46.6h1m-37.8-12.9h1m105.2 31.7h1m-105.4-27h1m32.9 14.2h1m49.1 8.7h1m-64.5-6.7h1m-11.9-14.3h1m72.1 20.2h1m-98.8-21.8h1m50.5 18.3h1m-26.2-4.3h1m13.8-6h1m-24.5-4.7h1m-47.4-37h1m78.2 46.8h1m-85.3-63.2h1m168.2 75.7h1m-99.1-19.9h1m-18.2-3.5h1m-25.5 2.2h1m102.8 14.6h1m-103.3-21h1m58.1 18h1m-74.8-44.1h1m154.1 53.7h1m-39-10.4h1m-4.3 1.5h1m7.2 6.9h1m-124.7-29.3h1m72 22.6h1m59.9 0.7h1m-15.5 8.2h1m-93.6-42.4h1m132.8 44.8h1m-114.8-25.1h1m18.9 12.1h1m-87.3-69.6h1m20 50.4h1m143 24.2h1m-113.1-22.4h1m107.7 23.2h1m-103.1-25.7h1m31.5 21.5h1m6.4 4h1m17.2-4.5h1m-116-61.2h1m123.3 62.6h1m-83.5-33.3h1m-20.2 9.6h1m31.7 11.6h1m24.3 6.6h1m-44-23.1h1m90.4 25.6h1m38 5.4h1m-96.9-13.8h1m97.4 13.1h1m-70.8 2.3h1m-46.2-15.8h1m-6.9 3.5h1m25.4-1.2h1m34.8 10.9h1m-56.3-13.7h1m4.9-3.1h1m97.2 13.9h1m-79.9-3.5h1m-71.7-54.5h1m-11.3-20.5h1m46.4 68.8h1m34.2 6.4h1m69.6 3.7h1m-33 8h1m-57.9-21.9h1m69.9 21.4h1m-80.7-17.3h1m105.4 15.1h1m-137.5-39.7h1m129.9 43.5h1m5.3-3h1m-53.6-6.5h1m26.7-0.3h1m-56.7 1.1h1m69.9 5.6h1m-84.6-13h1m42.5 10.3h1m26.8 5.7h1m-84.9-18.3h1m-46.7-17.7h1m107.5 22.2h1m-72.2-14h1m40.4 12h1m-44.3-4.8h1m22.2 11h1m-51.8-42.1h1m-5-1.4h1m-12.1-30.7h1m20.5 33.2h1m9.4 19.3h1m-19.4-6.6h1m42.3 16.2h1m118.4 25.2h1m-19.9-7h1m10.3-3.8h1m-132.3-14.9h1m102.3 23h1m5.6-2.9h1m-74.9-14.7h1m-16-5.9h1m26.1 11.2h1m-24.3-5.6h1m31.2 10.3h1m-8-3.6h1m-58.6-13.2h1m108 25.2h1m-149.1-76.2h1m64 54.5h1m22.2 13.4h1m26.5-3.7h1m-7.6 2.7h1m27.3 0.9h1m-21.2-4h1m32.1 10.3h1m16.8-2.1h1m-132.7-18.9h1m69.7 13.6h1m-28.2-4.6h1m42.7 0.8h1m-85.4-24.1h1m-0.9 16.2h1m18-9.9h1m16.4 9.8h1m101 15.2h1m-106-19.1h1m52.3 24.5h1m-105.9-48.1h1m18.3 25.3h1m104.2 10.1h1m-94.6-1.4h1m20.1 3.9h1m40.6 1.3h1m16.3 1.1h1m-86.5-13.3h1m98.5 9.2h1m-70.7-9.1h1m4.8 6.5h1m28.4 6h1m19.8 1.8h1m-102.2-31.9h1m-3.7 9.7h1m9.4 7.9h1m-2.6-10.1h1m90.2 20.9h1m-78.1-7.9h1m98.4 12.8h1m-64.3-2.7h1m-81.5-64.6h1m115.1 71.4h1m-59.9-31.8h1m7.3 21.5h1m-40.8-31.5h1m33.2 14.4h1m-17 13.1h1m132 10.7h1m1.4-3.2h1m-87.3-9.5h1m-15.9 6.9h1m24.8-0.1h1m25.9 10.9h1m-67.3-16.2h1m42.2 0.8h1m-12.6-0.1h1m73.5 7.1h1m6-0.5h1m-174.4-37.3h1m122.6 46.4h1m38.7-6.1h1m-69.9-4.6h1m-14.4-8.4h1m55.7 18h1m-63.7-12.2h1m23.8 1.7h1m-76-26.7h1m47.8 18.8h1m22.7 9h1m70.7 8.1h1m-116.4-25.3h1m17.8 13.5h1m-1.2 1h1m-7.2 1.5h1m-17-21.7h1m3.1 12.5h1m69.6 10.7h1m-91.3-23h1m93.9 28.5h1m-32.6-4.1h1m-12.8 0.8h1m15.2-10.3h1m-26.1 3.5h1m57.5 7.2h1m-140.2-61.9h1m116.8 67.5h1m-18.6-10.6h1m37.5 11.2h1m-75.1-10.9h1m-57.6-58.9h1m-5.5-10.6h1m42.2 58.2h1m63.8 11.8h1m-69.6-16.1h1m11.1-1h1m-55.3-31.6h1m170.4 56.9h1m-181.7-72.2h1m36.8 53.3h1m131.5 18.3h1m6.1 2.1h1m-105.9-17.4h1m-49.4-39.9h1m30.3 40.9h1m106.3 12.9h1m-146.4-42.8h1m48.8 18.5h1m17.3 14.2h1m59.9 5.3h1m-89.6-32.5h1m15 17.4h1m-56.7-32h1m25.2 26.2h1m-4.9-8.5h1m66 27h1m-27.1 0.6h1m35.8 6.1h1m12.1-3h1m-125.3-62.2h1m171.2 67.1h1m-162-75.4h1m48.6 49.6h1m116.5 31h1m-7.1 0.8h1m-134.6-33.9h1m97.1 21.1h1m-72.2-13.3h1m-20.6-15.4h1m37.5 29.3h1m66.3 7.3h1m-47.1-12.4h1m-69.6-6h1m-0.8-11.7h1m20.1 4h1m120.7 32.1h1m-95.9-21h1m20 9.9h1m-103.9-38.9h1m59.5 30.7h1m-62.9-58.1h1m163.5 73.6h1m-98.5-25.4h1m-67.7-38.7h1m107.8 49.3h1m17.7 4.5h1m-91.4-20.5h1m132.4 26.4h1m-75.6-0.7h1m10.8-3.2h1m-14.9-4.5h1m-0.4 1.8h1m-93-43.4h1m27.8 12.8h1m54 22.6h1m-45.2 4.1h1m91.3 10.7h1m-103.5-26.4h1m28.6 13.6h1m-59.5-53h1m32.5 51.9h1m62.5 8.9h1m73.7 8h1m-53.9 0.7h1m28.4-0.2h1m-52-14.4h1m8.1 8h1m-21.6-1.1h1m-54.7-10.3h1m59.9 1.3h1m33.2 17h1m-35-6.7h1m32.7-3.1h1m-45.5 0.4h1m-52.3-22.8h1m-23 0.7h1m110.2 31.3h1m-50-21.8h1m-44.8-16.2h1m45.9 16.6h1m0.7-1.9h1m3.7 7.8h1m-71.1-48.5h1m-18.3-3.6h1m148.2 65.3h1m-64.2-6.2h1m-4.7-0.6h1m-22.3-15.9h1m66.6 14.9h1m-96-13.3h1m2.7 0h1m125.6 15.6h1m-28.7 1.3h1m-24.5-6.6h1m-82.4-37h1m124.1 46.7h1m-138.8-27.9h1m-21.5-36.8h1m35.5 37.7h1m139.1 22.7h1m-173.1-52.1h1m138.8 61.4h1m-129.3-46.9h1m-13.2-27.5h1m44.2 51.9h1m45.7 5.5h1m-65.2-20.2h1m35.6 18.9h1m-3-9.4h1m86.5 19.9h1m-16.5 3.7h1m-91.7-14.6h1m-19.3-35h1m89.7 48.1h1m-49.5-18.7h1m100.6 23.8h1m-136.1-23.8h1m132.8 23.2h1m-20.3-4.4h1m-100.7-12.1h1m36.5 8.2h1m-33-20.3h1m123.9 29.3h1m-186.3-71.1h1m89.7 60.2h1m-11.4-10.2h1m30.4 17.7h1m-14.2-2.5h1m-67-11.9h1m6.7-17.5h1m-2.8 5.6h1m124.3 26.1h1m-92.1-8.9h1m7.5-4.8h1m41.2 4.6h1m4.4 8h1m-58.7-15.3h1m-65.7-46.5h1m178.7 68.5h1m-79-18.2h1m-73.5-35h1m12.4 21.6h1m126 22.9h1m-56.9 5.1h1m27.9-10.7h1m-37.8-2h1m38.2 9.1h1m-88.5-25.6h1m87.5 28.2h1m-91.6-14.6h1m-43.5-16.6h1m92.3 28.3h1m-77.4-27.4h1m96.8 20.2h1m-63.2 1.5h1m105.4 14h1m-167.5-62.7h1m69.8 40.4h1m85.6 20h1m-33-7.3h1m43.4 9.7h1m-20.2-2.9h1m-125.2-18.3h1m130.9 19.5h1m-38.9-11.7h1m-57.7-8.7h1m104.3 17.3h1m-23.9 0.9h1m2.4-6.9h1m-92.1-15.7h1m86.5 15.9h1m26.4 2h1m-175-79.3h1m34.1 61.1h1m9.8-13.8h1m-46.3-9.4h1m157.7 47.1h1m-94-24.9h1m90.6 24.4h1m-132.9-20h1m36.7 8.1h1m-37.2-18h1m-23.3-52.2h1m56.2 70.7h1m82.1 13.1h1m-97-24.3h1m117.2 24.6h1m-158.5-38.9h1m7.5 5h1m-31.6-41.9h1m98.2 64.8h1m87.5 11.1h1m-24.4-5.5h1m-24 1h1m37 4.9h1m-38.6-2.6h1m-67.9-13.6h1m24.9 7.5h1m-89.5-39.3h1m32.8 6.8h1m-16.7 4h1m119.4 31.3h1m-138.7-78.6h1m0.7 19.5h1m18 12.6h1m100.9 43.8h1m-85.8-9.6h1m116.1 10.9h1m-118.9-13.1h1m-22.3-22.7h1m20.8 1.5h1m39.4 24.1h1m35.1 9.2h1m-58.7-5.5h1m75.4 10.5h1m3.2-2.2h1m-53.1-5.8h1m82 11.2h1m-172.7-71.9h1m60.4 45.2h1m33.7 15.2h1m31.7 5.1h1m-77.1-16.6h1m-52.8-62.1h1m5.3 41.3h1m127.1 37.6h1m14.6-3.7h1m-157-71.6h1m68.6 67.9h1m71.9 4.5h1m-36.3 3.2h1m6.9-13.5h1m-84.5-13.9h1m147.6 33.6h1m-122.7-31.8h1m22.8 10.7h1m75.1 13.5h1m-56.2-12.4h1m37.5 16.2h1m-25.2-1.1h1m-33.4-12.4h1m70.4 14.2h1m-29.6-11.3h1m-44.2-4.2h1m-58.4-20.7h1m154.4 28.6h1m-156.6-33.8h1m-20.8-25.1h1m36.1 49.1h1m-45.9-48.5h1m114.5 62.6h1m56.5-4.7h1m-107.7-10.2h1m-45.4-22.7h1m95 26.5h1m19.4 5.9h1m-62.4-7.6h1m2.3-1.3h1m5.2-0.5h1m-26.6-5.6h1m94.5 16.7h1m-142.7-61.4h1m56 54.7h1m-31.3-21h1m80.8 31h1m-44-13.6h1m79.7 15.6h1m-137.2-31.3h1m24.7 17.3h1m63.2 7h1m15.7 3.1h1m12 3.4h1m36.9 3.8h1m-157.9-47.7h1m132.7 48.7h1m-73.8-17.9h1m-33.6-11h1m-19.6-14.9h1m-12.5-3.4h1m69.6 34.5h1m-58.6-11.3h1m76.8 4.9h1m-22.2 8.4h1m-37.9-16.7h1m48.9 14.5h1m-22.6 2.6h1m31.5-1h1m-15.1 3.4h1m43.2-2.2h1m35.7 11.2h1m-167.7-49.1h1m20 16h1m-14.7-27h1m-11.2 13.6h1m34.9 21.5h1m77.3 17.9h1m-4.3 2.5h1m-87.3-40.8h1m99.6 40.8h1m-118-29.4h1m71.3 10.1h1m73 13.8h1m-160.3-46.1h1m3.8-25.6h1m151.5 81.5h1m-102.4-24.3h1m2.8-5.3h1m65.3 19.6h1m9.7 3.7h1m-2.5 1.5h1m-98.8-24.1h1m38 8.7h1m35.1 1.9h1m-36.7-0.4h1m-69.9-52.6h1m144.1 63.8h1m5.6 2.7h1m-15.3 1.1h1m-74.2-8.1h1m55.7-1.9h1m-58.2-2.6h1m40.9 3.8h1m39.4 2.3h1m-124.6-21h1m-40.3-37.1h1m75 51.9h1m-40.3-18.8h1m38.8 15.9h1m-17.2-15.2h1m47.6 21.4h1m-101.3-44.3h1m102.9 44.2h1m26.9 8.3h1m-73.2-23.9h1m-2.2 11.6h1m44.8 4.4h1m-50.5-6.7h1m40.6-0.8h1m-38.9 0h1m-16.3 2.3h1m111.5 9.8h1m12.3-1.3h1m-161.1-39.7h1m124.2 32.9h1m-111.9-8.3h1m44.4 11.5h1m77.9 8.8h1m-134.2-48.7h1m77.2 36.3h1m-43.1-6.6h1m58.1 6.4h1m53 11.2h1m-175.2-65.8h1m104.8 56.2h1m66.3 2.3h1m-97.7-10.5h1m91 17.1h1m-55.9-5.8h1m-47.8-5.1h1m-24.9-17.5h1m126 28.3h1m-27.3-3.3h1m-22.7-9.5h1m-4.8 11.1h1m41.5 1.8h1m-9.1-5h1m-113.5-23.7h1m-4.9 0.5h1m50.3 16.5h1m-3.2-1.7h1m-83-67.1h1m108.4 73.7h1m50.7 7.1h1m-61.6-6.9h1m-27.4-0.5h1m29.5 4h1m-41.8-24.7h1m47.6 15.1h1m-37.8-2.5h1m-36.8-8.8h1m12.4 11.2h1m30.5 5.1h1m28.9 7.5h1m29.4-3.1h1m-73.1-9.1h1m103 16.7h1m-93.6-12.8h1m-22.1-0.2h1m79.7 10.4h1m37.1-4.5h1m-95.9-1.5h1m82.3-5.3h1m-166-75.3h1m63.4 64.5h1m56.8 21.3h1m-78.1-21.1h1m-10.7-20.3h1m113 36h1m-143.3-52.6h1m161.8 53.1h1m-131.5-27h1m-33.2-18h1m67.1 44.6h1m79.4 8.7h1m-24.1-2.8h1m44.4-2.4h1m-88.2-9.3h1m75.3 7.5h1m-123.8-10.4h1m129.9 18.2h1m-57.1-2.4h1m-43.9-13.3h1m71.4 9.4h1m-122-19.2h1m-18.8-41.5h1m34.7 47.7h1m49.1 6h1m43.3 12.1h1m9.5-8.1h1m-160.9-73.3h1m13.4 2.6h1m146.9 75h1m-154.9-77h1m82.7 70.4h1m-84-44.8h1m53.9 30.3h1m23.4 2.8h1m-19.1-3.4h1m-59.4-75.6h1m144 96.9h1m-22.8-11.2h1m-96.1-19.2h1m-30.7-13.9h1m114.2 41.1h1m16.3 4h1m-86.6-16.5h1m70.3 8.4h1m-15.4-3.7h1m-42.1-0.9h1m-68.5-50.4h1m151.7 61h1m-157-66.5h1m38.9 36.6h1m143.1 31.2h1m-171.8-71.6h1m26.2 52.5h1m6.5 0.1h1m39.5 10.9h1m88.7 14.7h1m-129.5-28.3h1m-24.8-24.7h1m-4.5 0.8h1m91 39.8h1m-5-1.1h1m62.6 8.6h1m-116.9-13.7h1m50.9 7.1h1m-22.4-0.2h1m-50.9-21.2h1m-36.6-35.2h1m1.3-20.4h1m112.9 74.7h1m31.8 10.2h1m14.8 0.2h1m-25.3-4.2h1m-100.4-19.5h1m24.6 8.7h1m53.3 7.7h1m-8.4-5h1m-44-11.1h1m51.8 17h1m18.2 9.7h1m-80.5-20.5h1m-39.7-9.7h1m89.7 15.9h1m-11-0.7h1m-3 6.7h1m18.2 2.2h1m30.5-6.2h1m-102.3-14.7h1m-54.6-32.8h1m89.8 49.8h1m71.8 5.3h1m-31-1.5h1m-6.6-0.1h1m4.8-3.8h1m-30.5-0.4h1m-0.7 3.7h1m-10.2-7.9h1m-75.1-38.4h1m-16.4-17.4h1m159.3 59.8h1m-46.9-6.3h1m-15.8 8.2h1m-106.9-69.5h1m121.9 71.5h1m-49.1-15.2h1m37.9 8.6h1m-27 0h1m-58.4-21.2h1m3.3-5.3h1m17.2 14.2h1m19.3 5.9h1m60.7 10.8h1m-21.8 0.5h1m-3.8-1.3h1m31.6 7.2h1m-100.7-35.5h1m29 18h1m35.9 11.3h1m-61.2-20.1h1m124.5 25.8h1m-0.3 0.4h1m-151.9-33.3h1m71.4 21.1h1m-68.7-34.6h1m-30.7-36.6h1m157.5 84.4h1m-108.2-35.7h1m58.7 22.8h1m-60.3-9.7h1m86.1 17.9h1m-33.5-1.7h1m-61.7-11.5h1m120.6 16.6h1m-54.4-10.8h1m-46.7-2.2h1m77.5 11.2h1m-133.3-58h1m129.6 56.1h1m-91.5-22.5h1m75.5 20.1h1m-65.4-8.1h1m-57.4-67.7h1m157.3 77.9h1m-57.5-10.5h1m-81.5-18.2h1m88.4 27.2h1m-71.7-27.8h1m82.2 26.6h1m48.2 0.1h1m-75.1-2.8h1m61.6 2.7h1m-18.6-0.7h1m-12.3-3.4h1m-135.2-38.8h1m-11.7-29.1h1m113.7 66.8h1m30.8 5.6h1m-143.2-76.1h1m136.7 77.5h1m-117.2-39.7h1m78.2 32.8h1m-36.7-1.1h1m110.9 9.8h1m-36.1-3.8h1m3.7 2.8h1m-58.1-10.4h1m15.6 10h1m-77.7-18.3h1m122.1 19.3h1m-122.9-22.6h1m25.1-2.3h1m-9.7 7.2h1m-5.6-4.7h1m83.9 21.1h1m-68.3-12.7h1m95.5 8.6h1m7.6 7.2h1m10.1 4.3h1m-27.7-2.9h1m19.2-0.4h1m-72.4-18.5h1m-65-7.5h1m-36-38.9h1m71.2 44.2h1m22.4 10.8h1m-33.7-2.6h1m-27.8-9.4h1m-15.2-9.5h1m69.6 23.2h1m-94.8-48.6h1m27 26.9h1m-18.2-15.6h1m13.8 1h1m71.2 35.4h1m49.1 9.6h1m-34.3-11.4h1m-9.4 3.8h1m4.5-4.5h1m10.7 7.6h1m-12.6-10.6h1m-61-12.7h1m-20.7 1.3h1m47.8 12.1h1m48.9 10.4h1m-116.2-47.3h1m115.6 45.9h1m-64-12.3h1m68.1 11.2h1m-3.4 4.6h1m39.3 2h1m-119-29.3h1m-6.3 11.9h1m-7.4-4.1h1m34.9 7.8h1m-78.3-47.1h1m136.5 47.9h1m-33.6 1.1h1m-60.8-7.4h1m-16.3-28.4h1m100.7 41.5h1m-86.2-23.5h1m59 16.7h1m-103-43.6h1m0.3 4.4h1m83.3 41.4h1m-16.8 1.3h1m-82.7-54.9h1m173 65.7h1m-94.5-15.9h1m43 0.3h1m-79.8-1.3h1m137.3 14.6h1m-162.6-27.9h1m149.9 29.4h1m-141.5-34.8h1m117.2 29.9h1m19.5 4.8h1m-50.3-10.2h1m40.8-0.1h1m-72.3-1.2h1m29.2-1h1m-6.9 0.2h1m-91.8-33.1h1m128.8 44h1m-30.5-6.3h1m-2.7-2.4h1m20.4 7h1m-115.3-27.6h1m65.3 15.8h1m11.3 7.5h1m-49-10.5h1m-17-19.6h1m133.5 27.9h1m-167.9-35.7h1m125.6 44.4h1m-95.5-26.4h1m-38.1-36.4h1m153.6 61.3h1m-26.9-1.4h1m-42.6-10.5h1m35.4 4.6h1m-0.8-2.5h1m18.3 10.4h1m6.2-3.4h1m-77.2-8.8h1m73.8 1.7h1m14.5 10.4h1m-92.8-16.7h1m-75.1-45.6h1m155.3 65.2h1m-79.5-24h1m80.9 17.7h1m-90-5.9h1m-44.9-8.6h1m15.8-3.1h1m92.9 19h1m33 3h1m-3.1 1.1h1m-126.9-35.8h1m24.7 11.9h1m31.3 8.3h1m49.1 14.8h1m0.8-5.6h1m-118.3-15.3h1m84 21.2h1m16.5-9h1m-18.8 2.6h1m42.7 6.7h1m-102.8-18.5h1m-62.1-41.7h1m132.6 53.2h1m-61.4-9h1m63.6 13.6h1m27-3.7h1m-146-27.8h1m60.9 18.1h1m-70.3-31.5h1m78.1 40.7h1m0.5-5.4h1m-102.1-52.1h1m40.4 32.3h1m39.7 18.9h1m-25.3-14.5h1m56.3 14.6h1m-116-58.9h1m152.4 70h1m-51-7.7h1m-4.7 2.5h1m78.6 10h1m-49.2-7.1h1m-75.3-20.4h1m114.4 15h1m-75.6 2.3h1m-50.7-23.2h1m9.4 16.7h1m21.4-6.9h1m-49.1-6.6h1m146.9 28.3h1m-20.3-9.2h1m-31.6 2.9h1m8.6-1.1h1m-123-41.6h1m162.4 39.8h1m-23.3 2.8h1m-135.1-22.9h1m75.1 11.6h1m-54.5-16.2h1m92.6 25h1m-113.5-19.3h1m126.3 17.8h1m5.8 5.5h1m-0.4-8.9h1m-91.3 0.7h1m30-3.7h1m23.5 13.4h1m-119.5-35.1h1m132.3 26.7h1m-100.2-8.6h1m97.5 7.9h1m-88.9-5.8h1m118.4 16.6h1m-168-46.4h1m101 39.3h1m-57.5-20.5h1m38.9 10.7h1m17.6 5.1h1m-16.6 2.4h1m51.3 5h1m-80.1-13h1m-35.6-25.8h1m143.1 35.6h1m-95.5-12.1h1m68.6 16.8h1m-51.7-11.1h1m17.9 3.2h1m19.8 7.1h1m15 4.9h1m-128.9-43.6h1m26.9 26.5h1m-51.8-31.9h1m134.2 44.5h1m-67.3-6.6h1m44.9 6.3h1m-30.1-8.9h1m-43.6-11h1m107.2 12.7h1m0.5 13.3h1m-102.4-15.5h1m117.4 14.3h1m-47.5-10.6h1m-97.1-20.2h1m23.1 15.4h1m-16.6-6.7h1m107.5 21.3h1m-50.9-10.7h1m-87.8-65.3h1m8.8 35.2h1m-31.6-37h1m36.2 54.5h1m139.3 21.1h1m-143.2-36.9h1m134.9 34.8h1m-104.1-20.5h1m-30-3.6h1m125.6 21.9h1m-13.6 1.5h1m-132.8-65.8h1m4.7 42.2h1m16.1 6.4h1m-16.3-13.4h1m109.3 27.2h1m-39.4-7.3h1m-5.4-1.3h1m42.2 10.4h1m-82-11h1m0.7-13.8h1m7.6 14.3h1m6 1.1h1m-73.7-46.1h1m178.2 64h1m-7.6-5h1m-39.3-8.8h1m-85.9-5.6h1m29 0.6h1m95.2 13.9h1m-89.1-18.7h1m56.8 22.3h1m-119.3-26.4h1m134.8 26.7h1m-74.8-8.9h1m-63-19.3h1m89.8 24.4h1m-115.6-77.9h1m99.9 68h1m-23.4-0.8h1m87.8 8.7h1m-86.7-7.4h1m-4.4-4.9h1m-51.6-4.1h1m151.4 18.1h1m-46.9 0.8h1m-84.5-27.2h1m-41.5-12h1m-5.9-35.3h1m136.4 73.4h1m-9.4-6.6h1m39.5 11.7h1m-29.3-10.5h1m-10.6 7.1h1m-55.3-21.1h1m-20.3-2.5h1m35.1 17.7h1m-25.5-9.5h1m-29.6-4.2h1m-13.1-18.5h1m35 24.7h1m-69.9-62h1m145.3 77h1m-150-63.8h1m11.4 7h1m-13.7-17.2h1m164.8 66.1h1m-126.1-28.8h1m129.8 36h1m-109.4-21.8h1m29.9 5h1m73.5 8.3h1m0.5 1.2h1m-141.2-34.5h1m110.1 41.8h1m-52.3-12.6h1m52.4 7.9h1m-52.9-6.2h1m40.8 5.5h1m-93-28.6h1m-27-5.6h1m65.8 26.2h1m-30.9-8.3h1m128.6 20.1h1m-120.3-35.3h1m99 35.7h1m-20.5 0.3h1m-110.3-22.8h1m14.8 3.6h1m70.4 8.7h1m10.1 4.2h1m-15.8 1.7h1m8.3 2.7h1m8.1 2h1m10.8-3.1h1m-134.4-63.7h1m152.1 62h1m-108.5-7.8h1m-53-60.2h1m20.7 48.3h1m138.9 25h1m-159.9-68.4h1m123 65.9h1m-28.2-3.4h1m-55.7-19h1m127 20h1m-131.8-31.5h1m0.9-1.2h1m68.7 34.9h1m-124.4-71h1m55.8 52.3h1m92.9 16.5h1m-108.3-19.6h1m137.2 20.3h1m-164.6-42.4h1m102.1 42.7h1m-7.5-10.7h1m-59-13.4h1m4.2 2.1h1m56.1 24.6h1m-25.3-3.6h1m-8.7-1.5h1m41.7-5.3h1m-58.2-13.8h1m59.8 19.2h1m-76.2-15.4h1m-47.7-24h1m92.3 32.5h1m-64.7-17.8h1m30.9 21h1m-20.3-8.1h1m-40.6-19.9h1m127.7 29.9h1m-47.9 2.9h1m2.3-10.7h1m-93.1-54.9h1m111.8 70.2h1m53.2-2.4h1m-57.4 1.6h1m-87.3-38h1m3.9 4h1m55.7 23.3h1m26.2 3.1h1m-27.6-10.3h1m-62.2-5.2h1m50 3.8h1m-74.9-29.5h1m145.3 52.7h1m-32.3-10.6h1m-30.1-9.9h1m75.2 14.7h1m1.3-1h1m-143.5-37.2h1m70.5 30.6h1m-39.6-16.4h1m99.1 23h1m-105-22.5h1m96.1 18.6h1m-78.3-1.4h1m48 1.3h1m-83.3-13.5h1m131.9 19.5h1m-75.2-6.2h1m18.3 5.1h1m-64.8-27.7h1m114.3 30.9h1m-171.8-64.7h1m41.1 39.9h1m-27.7-1.5h1m34-0.5h1m45.2 18.9h1m37.2 4.4h1m8.4-3.8h1m1.5-0.9h1m0-0.1h1m-87.1-6.9h1m98.9 13.1h1m-90.6-11.2h1m105.7 7.8h1m-166.5-59.5h1m108.4 63.5h1m-1.8-5.2h1m48.7 3.4h1m7.9-0.3h1m-88.6-11.4h1m58 7.9h1m-90.4-11.1h1m-28.1-2.3h1m88.5 12.3h1m-73.3-26h1m-25.8-2.9h1m91.4 30.7h1m46.3 9.8h1m-86.4-13.3h1m-74.3-48.4h1m36.7 31.3h1m-8.9-6h1m-25.2 4.8h1m126.2 22.4h1m7.7-4.6h1m23.9 14.4h1m-33.4-5.9h1m-143-74.8h1m52.9 49h1m91.8 27.8h1m-117.4-45.8h1m12.5 30.3h1m72.6 6.9h1m31.8 0.7h1m-55.2 0.9h1m26.4 7.8h1m-91.1-37.4h1m114.4 33.6h1m-74.3-14h1m38.2 2.2h1m46.4 10.5h1m-62.4-3.3h1m36.8 1.4h1m38.5 10.9h1m-82.9-9.7h1m-78.5-25.6h1m119.5 27.9h1m-73.2-9.9h1m88.9 9.4h1m-29.9-7.7h1m-59.5-6h1m26.3 8.9h1m12.3 1.4h1m-102.9-53.3h1m75 54.3h1m86.2 8.2h1m1.9-0.6h1m-127.6-36.1h1m122.9 31.8h1m-76-8h1m-7.3 5.1h1m-45.7-30.5h1m90 31h1m-116.4-50.8h1m-0.5 28.6h1m151.2 24.2h1m1.3-1.8h1m2.3 4.8h1m-119-11.8h1m-7.4-3h1m50.6 6.6h1m44.7 0.9h1m-93.9-6.3h1m-24.9-7.1h1m105.8 16.1h1m-128.8-41.6h1m37.3 31.8h1m-26.4-6.6h1m101.3 15h1m-94.1-31.6h1m99.4 27.6h1m-126.4-59.3h1m80.7 64.9h1m47.3-0.1h1m-65.5-11.1h1m-64.6-39.4h1m137.3 56.8h1m-15.1-4.2h1m-6.6 0.3h1m-125.1-33.8h1m-9.3-38.9h1m47.7 41.2h1m-10.5-8.8h1m19.1 31.9h1m-58.3-77.6h1m76.7 71.9h1m-41-2.2h1m131.1 11.1h1m-126.7-29.2h1m71.2 24.7h1m-34.2-7.9h1m82.4 20.7h1m-164.4-49h1m102.3 37.5h1m-48.5-4.1h1m19.5-6.6h1m-11.8-4.4h1m-65.6-13.9h1m102.6 36h1m-94.3-52.2h1m54.2 44.8h1m-38.3-26.5h1m63.9 20.7h1m47.9 9h1m26 3.5h1m-65.6-0.9h1m-46.9-12.8h1m20.1 0.4h1m43 9.8h1m29.2 8.9h1m-105.8-13.2h1m47.3-5.8h1m-24.5 7.6h1m-28.9-13.2h1m-25.4-22h1m111.5 40.1h1m-31.1-0.4h1m19.8 4h1m9.5-1.9h1m-67.4-13.3h1m36.6 14.8h1m-69.2-26.1h1m61 22.3h1m-47.6-10.3h1m81.5 14.1h1m1.1-2.5h1m1.4 2.6h1m-145.2-50.2h1m34.5 33.9h1m141.3 16.7h1m-4.1-2.2h1m-164-40.3h1m64 34.5h1m-68.2-30.8h1m48.9 18.2h1m99.8 18.6h1m14.7 5.4h1m-158-30.9h1m52.6 14.6h1m89.5 6.9h1m-94.7-15.6h1m-21.2 6.9h1m88.6 11.5h1m-147.9-62.3h1m118.1 52.9h1m-31.5-3.5h1m-2.6 5.2h1m-74.5-40h1m138.3 46.8h1m-128.4-53.9h1m103.2 60.1h1m-13.6-19.6h1m-80-25.1h1m7.8 22.9h1m-39.2-32.6h1m12 15h1m7 4.3h1m54.4 24.9h1m-25.2-19.5h1m123.6 27.5h1m-137.1-25h1m-9.5 0.6h1m64.3 16.1h1m-89.2-19.5h1m43 11.5h1m65.5 12.1h1m-78.1-20.3h1m74.1 25.5h1m32.9-4h1m19.5 1.2h1m-157.9-35h1m-24.2-37.3h1m25.6 36.8h1m64.5 27.6h1m-35.9-7h1m-25.2-21.4h1m-32.2-39.8h1m123.4 64.1h1m-27.6 4h1m0.6 2.6h1m-5 3.6h1m78.9 1.9h1m-47.2 2.5h1m-113.2-43.2h1m-1.5 2.9h1m75.8 35.4h1m50.4-2.1h1m-92.7-14.8h1m100.8 19.7h1m-125.9-28.2h1m81.1 20.9h1m37.9 10.1h1m-87.5-19.8h1m92.8 18.3h1m-9-7.3h1m-4.1 5.9h1m-117.8-22.6h1m55.2 8.8h1m-33.6 0h1m68.2 9.9h1m-92.7-13.3h1m54.6 13.8h1m-75.6-75.6h1m-5.4 32.2h1m45.3 21.8h1m61.3 23.1h1m-26.1-5h1m-54.4-14.2h1m-5-17.5h1m28.2 10.2h1m28.1 20h1m-30.3-6.5h1m-23.1-13.4h1m101.7 32.1h1m-96.1-18.5h1m87.8 16.7h1m-105.1-49.1h1m-24.3 2.6h1m52.9 26.8h1m82.7 17.9h1m4.1 3.1h1m-113.2-24.5h1m91.9 23.6h1m46 4.5h1m-16.1-7h1m-153.5-53.1h1m-12.1-7.2h1m44.9 31.9h1m129.1 26.3h1m-93.4-8.1h1m13 5.5h1m3.5 2.3h1m-68.6-27.9h1m18.5 16.4h1m52.9 10.5h1m-21.6-10.4h1m-17 0h1m59.5 13.9h1m-51.2-15.3h1m13.9 14.3h1m39.9 3.9h1m-37.6-9.6h1m69.2 10.2h1m-168.9-51.9h1m131.9 46.2h1m-61.4-11.6h1m40.2 11.8h1m-62.9-29.6h1m122.2 34.9h1m-145.6-23.4h1m-1.8-18.6h1m80.6 32h1m-65.1-5.2h1m-35-53h1m75.2 52.2h1m-51.4-0.5h1m33.4 8.4h1m-38.6-16.1h1m101.7 20.5h1m-121.2-57.3h1m156.9 61.9h1m-63.1-8.6h1m26.8 5.5h1m-118-52.2h1m-32.8-21.3h1m137.5 75.5h1m8.9-0.1h1m-126.6-30.4h1m160.2 32.9h1m-171.7-54.9h1m-9.1-9.4h1m154.3 59.7h1m-30.8-1.7h1m1.3 4.8h1m-105.7-52h1m-25.5-9.9h1m169.3 57.6h1m-45 3.2h1m-16-4.9h1m-55.2-9.5h1m59.4 0.4h1m63.3 9.7h1m-2.2 5.2h1m-180.7-72.2h1m73.8 52h1m33.4 14.8h1m38.7-1.1h1m-50.7-8.4h1m57 8.8h1m-58.5 1.1h1m-21.6-4h1m51.6 9h1m-75.1-19.6h1m-65.4-52.3h1m170.1 74.6h1m-94.1-24.5h1m58.8 17.3h1m-20.7-10.6h1m68.5 15.7h1m-18.8-7.5h1m-34 4.2h1m-31.8-4.8h1m-37.8-6.2h1m27.7 3.1h1m-75.2-22.2h1m68 19.6h1m-15.3-8.2h1m26.4 9.1h1m76.1 14.4h1m-126.5-32.3h1m37.1 16h1m51.2 6.9h1m-103.1-19.3h1m44 11.6h1m-71.7-57.4h1m128.2 70.5h1m-46.7-6.8h1m0.7 3.2h1m79.8 4.7h1m-9.8-1.3h1m7.7 3.4h1m-122.8-19.9h1m-12.8-13.4h1m-1.1 16.7h1m100.6 12.8h1m-54.3-9.6h1m-62.2-21.4h1m139 25.2h1m-143.3-28.6h1m73 32.6h1m64.6-1.8h1m-163.4-90.7h1m168 94.8h1m-6.8-5.4h1m-131.9-12.7h1m8.4-3.5h1m61.4 19.9h1m0-11.4h1m-107.9-60.1h1m95.9 70.7h1m-22.4-12.1h1m-15.1 5.5h1m18.2-8.8h1m-75.4-30.3h1m48.1 31.9h1m69.5 14.3h1m-86.1-18.1h1m81 19.3h1m-60.5-15.4h1m-41.6-12.9h1m-1.5 9.2h1m81.9 15.5h1m36.8 6.1h1m-5.4-6.8h1m9 2.5h1m-63.6-14.5h1m24.2 8.8h1m-92.8-14.9h1m47.5 5.9h1m-16.2-6.1h1m99.1 21h1m-70-4.3h1m69.7 6h1m-86.1-13.3h1m-26.2-11.9h1m2.2 6.3h1m45.6 12h1m-9.7-8.9h1m88.1 19.5h1m-117.4-24.9h1m61.4 17h1m-104.9-29.9h1m51.6 15.5h1m6.6 6.8h1m-42.7-6.2h1m-27.7-40.8h1m14 30.5h1m25.6 5.2h1m63.9 19.2h1m59.8 7.1h1m-48.8-11.4h1m-29.4 4.3h1m14.5 2.1h1m23.2-5.6h1m31.6 8h1m-155.6-34.3h1m86.5 29.2h1m36.8 1.2h1m-151-76.4h1m128.5 73.5h1m30.1 5.6h1m-154.2-52.3h1m4.5-3h1m164.1 53h1m-168.9-52.2h1m67.5 45.5h1m-77.2-54.2h1m58.4 46.3h1m-17.5-12.6h1m14.5 18.4h1m121.2 12.4h1m-10.2 2.1h1m-3.4-0.8h1m-40.6-10.3h1m-133.1-66.9h1m34.3 45.3h1m-26.1-14.6h1m-1.1-3.9h1m72.7 42.1h1m79.7 5.8h1m-50.8-4.4h1m-21.6-11.6h1m-43.1-3.7h1m129.2 18.1h1m-2.1-4.3h1m-99.1-7.8h1m88.1 15.3h1m-131.6-29.2h1m21.8 10h1m90.9 21.6h1m-65.4-22.5h1m33.2 12.4h1m-123.4-60.2h1m43.4 44.6h1m118.4 26h1m-16.4-0.9h1m-2.2-6.6h1m14 3.2h1m-18.4 3.4h1m-127.9-43.9h1m133.3 44.6h1m-105.8-31.7h1m1.8 15.1h1m96 17.2h1m-13.7-10.2h1m-135.1-42.4h1m121.4 49.8h1m-83-38.7h1m34.2 19.5h1m-44.2 2h1m63.8 12.7h1m48.9 4h1m-103-14.8h1m14.8-7.1h1m20.6 11.3h1m91 12.5h1m-77.3-11.1h1m-35.2-5h1m56.5 13.2h1m57.3-5.4h1m-57.4 0.1h1m3.1 3.1h1m-65-15h1m-34.3-6.6h1m54.7 17.5h1m-27.1-21.4h1m93.4 28.2h1m-138.8-39.4h1m-7.6 7.1h1m154.4 31.7h1m-69.9-6h1m-72-33.1h1m38.3 22.9h1m-51.7-13.2h1m87.6 26.9h1m-67.4-23.3h1m109.3 26.5h1m-19-2h1m23.6 6.2h1m-22.8-4h1m-22.9-7.9h1m63.6 11.1h1m-57.2-7.6h1m52.9 5.3h1m-138.7-26.4h1m-35-40.7h1m60 41.8h1m70.3 24.3h1m35.6 3.2h1m-147.2-58.3h1m14.3 31.8h1m125.3 22.5h1m4-7.2h1m-165.3-50.7h1m33.7 27.7h1m84.3 28.9h1m-103.5-38.8h1m155.3 41.5h1m-170.5-79.9h1m31.4 50.2h1m44.8 16.9h1m-18.2-5.8h1m-6.2-3.4h1m68.9 22.4h1m-107.4-34.4h1m116.3 37h1m-102-29.7h1m66.7 25.5h1m6.1-2.7h1m-95.5-24h1m127.9 30.7h1m-134.1-37.4h1m-14.7-19.1h1m151.4 48.3h1m-57.5-2.5h1m-91.1-32.9h1m96.7 28.7h1m8.7 6.9h1m52.4 9h1m-132.1-19.6h1m-25.4-17.6h1m144.4 31.2h1m-154-33.4h1m131.9 34.5h1m-30.5-10.5h1m23.2-2.3h1m-44.6 1.3h1m72.1 9.2h1m-128.4-17.2h1m82.1 10.9h1m-113.8-49.6h1m87.8 48.7h1m-34.1-7.3h1m-17.7 2.7h1m128.1 14.4h1m-154-50.1h1m22.5 29.1h1m73.6 12.1h1m-75.6-10.2h1m52.2 12.3h1m10.1 2.8h1m34.8 2.8h1m-5.3-1.5h1m-51-8h1m61.2 2.9h1m-119.8-30h1m-26 5.6h1m5.9-1.4h1m99.6 31.2h1m-15.1-6.8h1m-50.6-4.5h1m0.6-0.9h1m104.4 8.1h1m-129.1-11.6h1m94.9 14.4h1m-114.1-36.7h1m-10.1-10.8h1m19.2 9.5h1m35.9 30.6h1m37 7.2h1m48.8 6.1h1m-154.7-79h1m170 79.5h1m-112.8-19.7h1m87.4 20.9h1m-15.7-2.5h1m-9.8-7.5h1m-107.3-29h1m149.2 28.3h1m-151.4-34.2h1m95.5 34.9h1m-110.4-36.9h1m95.5 35.9h1m-92.4-54.1h1m117.4 55.9h1m-22.5-1.2h1m28.8 5.8h1m-106.4-17.8h1m118.2 17.4h1m-96.2-18.9h1m-20.6-6.8h1m-22.4-29.4h1m33.6 34.5h1m84.6 21.9h1m-127.2-39.7h1m16.2 8.4h1m113.3 31.9h1m0.3 2.1h1m-69.5-16.9h1m-47.2-10h1m-26.5-30.3h1m149.3 57.8h1m-50.6-9.5h1m9.1-1.3h1m60.3 6.8h1m-47.5-0.9h1m-132.5-66.2h1m127.3 62.8h1m-110.1-29.7h1m148.1 29h1m-28.9 4.6h1m-109-19.3h1m-20.2-27.2h1m154.8 51.9h1m-144.6-31.4h1m59.8 17.9h1m62.6 1.4h1m-4.8 7.9h1m-39.7-7.6h1m75.5-0.6h1m-25.9 6.5h1m-104.3-23.3h1m37.5 6.5h1m57.2 16.5h1m-98.9-16.8h1m-34-19.5h1m14.4 21.8h1m56.6 3.5h1m14.8-3h1m31.7 10.2h1m-16.7 2.7h1m48.9 0.5h1m-131.5-31.9h1m134.5 37.1h1m-115.4-14.2h1m94.6 7.3h1m-131.2-29.1h1m33.6 2.2h1m66.4 26.6h1m-69.3-13.1h1m71.5 15.3h1m-49.5-5.2h1m-69.3-36.6h1m-17.2-40.9h1m154.5 81.4h1m-68-3.3h1m-0.9-3.8h1m-16.7-6.1h1m75.7 19.7h1m-15.2-12.9h1m-53.9-0.6h1m1.2 2.1h1m1.4 2.7h1m28.4 3.2h1m-112.7-64h1m51.6 42.2h1m47.2 17.5h1m-28.6 1.6h1m-63.2-25.5h1m146.2 25.5h1m-165.7-47.1h1m80.6 44.6h1m-87.2-71.1h1m155 80.9h1m-146.1-68.6h1m126.4 67.9h1m12.7-9.3h1m-91.9-4.6h1m-8.5-11h1m-13.7 1.7h1m-37-25.5h1m35.3 33.3h1m62.5 1.8h1m-11.7-3h1m68.2 11.6h1m6.1 3.9h1m-159.1-71.7h1m-0.5 25.4h1m18 20.8h1m71 13.4h1m41.1 13h1m-102.7-24h1m17.5-5.3h1m-44.7-32.3h1m157.1 58.5h1m-92.3-3.3h1m-85.8-54.6h1m46.1 28.8h1m92.6 23.7h1m-93.8-7.6h1m-1.8-17.6h1m15 16.7h1m19.4 0.7h1m-21.7 4h1m13.4-6.4h1m19 5.9h1m-14.7-6.6h1m61.8 19.9h1m-60.8-11.5h1m-89.1-69h1m137.9 77h1m-13.5-9.9h1m-105-49.8h1m-4-0.3h1m126.6 56h1m-42.7-8h1m26.7 12.1h1m-32.5-4h1m-1.8-11.4h1m-44.1-0.9h1m125.1 14.4h1m-65.4-2h1m-62.4-17.1h1m33.3 13.3h1m56.2 10.6h1m-80.4-11.8h1m-18.4-17.2h1m117.5 32.1h1m-51.6-7.7h1m26 5.1h1m-68.5-12.4h1m-32.1-20.3h1m6.1 9h1m87.1 20.2h1m-116.9-41.5h1m-20.1-9.5h1m7.2-8.4h1m107.5 62.8h1m-64.8-27.7h1m102.9 23.3h1m-90.6-18h1m71.3 13.1h1m15.7 3.4h1m-122.8-24.3h1m108.7 23.2h1m-150.2-47.8h1m63.9 42.5h1m89.8 9.5h1m-119.8-19.8h1m13.4 5h1m55.7 8.9h1m29.3 7h1m-31.1-9.6h1m-61.3-20.6h1m-13.3 9.1h1m99.6 20.6h1m-74-20.4h1m-25.5-19.6h1m84 33.2h1m-111.5-34.7h1m67.1 34.6h1m80.7 11.5h1m-36.6-7.8h1m-52.8-13.3h1m27.7 8.7h1m-43.5-2.8h1m-10.9 0.1h1m118.5 13.3h1m-119.7-25.8h1m82.1 16h1m-7.5 6.3h1m-130.2-66.2h1m130.9 63.4h1m-118.3-30.8h1m-9.9-50.8h1m92.5 71.1h1m-89.1-31.1h1m3.4-2.9h1m153.3 51.9h1m-82.2-11.8h1m-77.1-23.8h1m31.4 5.8h1m4.6 8.2h1m89.5 20.4h1m24.9-0.1h1m-90.8-14.6h1m-62.2-21.1h1m24.7 17.2h1m20.9-1.1h1m84.9 18.2h1m-45.9-4.8h1m-42.4-6h1m-63.6-68h1m39.6 57.9h1m89.4 22.3h1m-25.7-12.2h1m-33.7-3.3h1m-74.5-67.3h1m169 82.4h1m-82.5-12.8h1m58.8 6.8h1m7.6 0.4h1m-158.5-47.6h1m96 48h1m-82.2-62.7h1m85.3 55.1h1m-67.3-16.8h1m140.4 29.9h1m-112.3-28.6h1m-15.1-0.3h1m17 18.6h1m22.1-3.2h1m-93.4-50.9h1m54.7 46.4h1m84.8 12.5h1m21.8 7h1m-94.7-17.8h1m101 9.2h1m-177-69.5h1m67.9 50.6h1m-46.2-17.2h1m10.1 4h1m67.5 25.6h1m44.6 11.3h1m25.9 0.8h1m-65.2-11.6h1m-20.8-6.3h1m-51.9 0h1m58.8 11.1h1m74.4 0.2h1m-143.6-21.8h1m91.4 24.1h1m-107.2-54.5h1m13 20.9h1m46.3 19.8h1m-62.2-21.2h1m134.5 38.1h1m-56.9-6.7h1m45.4 6.3h1m-107.7-31.9h1m141.4 32.1h1m-60.6 1.1h1m-50.8-23.2h1m-64.7-28.7h1m62.2 26.3h1m-64.5-40.7h1m120.4 64.4h1m0.1-7.1h1m-76.5-4.3h1m-30-22.6h1m75.3 24.3h1m55.6 7.8h1m-119.4-19.1h1m84 22.5h1m-12.2-3h1m49.1 7.1h1m-137.3-51.4h1m116.8 40.8h1m-110.6-13.4h1m102.5 17.6h1m10.5 4h1m-56.2-14.5h1m14.5 11.3h1m-6.1-10.6h1m-85.6-28.7h1m160.5 38h1m-54.3-6h1m-59.4-12.1h1m22.8 14.2h1m-73-45.1h1m120.2 50h1m-48.8-6.3h1m-56.9-35.3h1m60.6 39.3h1m-100.6-85.7h1m-5.8 23.7h1m60.1 43.3h1m59.8 21.8h1m-41.6-10h1m-37-19.8h1m33.6 21h1m55.8 7.5h1m-78.1-11h1m115.7 11h1m-70.4-3.8h1m-94.8-81.6h1m62.7 73.6h1m-36.4-16.5h1m29.8 21.2h1m80.5 0.5h1m-131.9-30.4h1m160 41.1h1m-84.7-12.8h1m-66.7-22h1m84.6 28.4h1m-95.2-31.7h1m5.7 2.4h1m33.4 22.9h1m-28.8-29.2h1m133 44.7h1m-169.6-55.5h1m160.4 47.1h1m-26.6 0.6h1m-5.1 1.8h1m-81.7-24.3h1m94.2 26.8h1m-105.1-18.8h1m108.9 20.1h1m-118.9-22.4h1m66.5 16.8h1m-43.5-19.2h1m99.3 15.4h1m-125-20.3h1m-6.9-8h1m67.9 30h1m-2.2 3.3h1m-39.3-17.6h1m-15-13.5h1m43.3 28.8h1m57.5 8.2h1m-94.7-27.6h1m-29.8-11.5h1m51.1 25.4h1m-50.7-21.1h1m130.2 33.2h1m-83.5-13.8h1m-26.7 0.4h1m115.5 7.6h1m9.9 2.7h1m-67.9-13h1m-8.3 12.2h1m-35.3-6.6h1m110.5 14.5h1m-52.8-6.6h1m-25.8-6.7h1m-54.8-11.7h1m60.3 17.5h1m39.9-8.2h1m-40.3 3.3h1m41.4 10.2h1m-94.3-27.6h1m110 21.9h1m-154.9-29.4h1m31.1 17.1h1m25.1 7.8h1m-1.4-12.8h1m-42.9-16.4h1m65.1 31.4h1m39.9 6.3h1m-87-17.8h1m21.8-3.1h1m-58.2-11.5h1m38 8.7h1m-20.1 1.8h1m22.5-8.1h1m-1.1 2.2h1m-13.8-9.9h1m126.6 33.7h1m-116.4-8.7h1m17.9-7.1h1m-29.9-0.5h1m-40.7-24.7h1m70.1 35.1h1m-47.1-26.2h1m37.5 21.5h1m-66.2-25.5h1m134.9 37.7h1m-136.8-39.7h1m31.1 26.9h1m14-3.5h1m46 12.1h1m-20.7-6h1m80.9 12.4h1m-59.3-6.8h1m-73.2-15h1m137.4 16.6h1m-142.4-21.4h1m-16.6-25.8h1m108.9 40.9h1m-54.2 4h1m63.2 7h1m-9.4-2.2h1m-65.9-8.7h1m16.3-11h1m-16.2-0.1h1m71.9 17h1m-46.7-7.8h1m-21.9 1.5h1m31.1 9.1h1m-8.3-5.7h1m74.5 9.1h1m-45-1.1h1m-8.2-2.3h1m13-6.3h1m2.4 1.7h1m-30.3 3h1m6.1-7.1h1m-29.4-0.7h1m29.6 8.4h1m-69.5-18h1m29.4 9.2h1m-68.9-34.3h1m-10.7-14.1h1m18.9 33.7h1m142.3 27.7h1m-79-7.2h1m-4.7-5.5h1m62.5 9.8h1m-65.1-6.2h1m-56.3-34.2h1m88.4 34.8h1m25.9 4.7h1m-81.9-9.3h1m72.7-0.7h1m-105.7-3.2h1m16.2-15.9h1m-22-15.1h1m128.1 38.9h1m-25.2 10h1m-69.5-18.6h1m43.3 10.3h1m-87.3-25.8h1m-16-5.2h1m111.1 36.6h1m-18.8-12.4h1m-40.4-7.6h1m-54.8-43.1h1m112.7 61.5h1m-32.6-10h1m51.8 10.4h1m-39.8-6.4h1m62.9 9.2h1m-176.6-60.8h1m87 50.3h1m-77.7-71.1h1m134.8 73.2h1m-114-39.6h1m29.8 34.5h1m58.6 1.3h1m24.2 10h1m-92.1-23.4h1m116.1 26h1m-47.6-3.2h1m-46.9-11.6h1m56.2 12.2h1m-30.5-8h1m33.6 8.5h1m-5.1 0.3h1m-136.3-64.7h1m100.4 57.6h1m18.2 6.3h1m-29.7-6.9h1m-89.8-84.5h1m71.9 73.5h1m11.5 2.3h1m53.8 15h1m-31.2-7.9h1m-24.8 7.5h1m7.9-2.2h1m-28.6-4.8h1m-57-33.9h1m7.6 21.4h1m40.2 7.2h1m-68.3-47.8h1m116.5 59.6h1m-122.6-58.9h1m92.8 45.5h1m-92.5-61.5h1m144.7 72.9h1m-123.6-49.4h1m41.4 33.9h1m44.7 7.5h1m-78-25.4h1m12.9 24.8h1m102.3 8.8h1m-80.5-1.6h1m10.3-13.9h1m46.9 14.4h1m-102.7-52.5h1m78.3 54.9h1m-9-2.1h1m40.6 7.6h1m-42.9-12.2h1m-58.8-21h1m29.8 18.8h1m-14-6.5h1m-12.5 0.3h1m-47.6-43.4h1m6.4 23.8h1m39.8 19.2h1m9.1-0.9h1m88.6 19h1m10.3-7.1h1m-160.9-41.4h1m71.7 41.2h1m75.7 4.1h1m-21-0.8h1m45.6 1.2h1m-130.4-25.2h1m124 21.4h1m-142.9-20.3h1m27 5.5h1m-45.1-5.3h1m108.8 25.4h1m32.8 3.9h1m-134.4-36.3h1m46.5 20h1m-71.7-69.8h1m167.4 83.8h1m-115.3-11.5h1m98.5 13.9h1m-99-30.8h1m82.9 29.4h1m-67.8-17.1h1m-48.7-8h1m63.4 17.1h1m-77.6-39.5h1m139.4 44.8h1m17.7 6.2h1m-136.9-27.7h1m44 8.8h1m-39-17h1m78.6 32h1m-51.9-13.6h1m18.2-0.8h1m-70.5-22.7h1m68.7 28.9h1m78.9 4.7h1m-173.7-72h1m33.4 57.4h1m-32.3-42h1m33.3 31.5h1m82.6 26h1m11.3-10.4h1m-84.6-20.9h1m2.2 7.6h1m126.2 30.3h1m-169.9-41.7h1m69.8 27.1h1m-16.1-3.7h1m-26.7-2.4h1m16.2-4.1h1m12.9-2.3h1m32.3 14.1h1m-59.9-15.9h1m95.8 21h1m-24.7 1.3h1m-2.2-11.3h1m6.8 11.6h1m-87.5-33h1m92.3 28.3h1m-93.8-17.9h1m80.9 22.6h1m-103.3-28.4h1m124.2 23.3h1m-1.6-5.8h1m-38.6-3.3h1m22.1 16.6h1m-109.1-26h1m1.4 2.7h1m43.3 5.3h1m-2.1-2.2h1m-12.1-0.2h1m49.3 9h1m-86.7-14.4h1m-16.1-31.6h1m58.9 44.9h1m-27-14h1m-22.2-2.5h1m59.7 20.5h1m1.4-6.6h1m62 14.5h1m-142.7-83.7h1m117.6 83.6h1m40.7-3.5h1m-61.7-8.2h1m-103.3-65.8h1m66.6 64.8h1m79.2 13.5h1m-107.5-34.9h1m-14.6-3.9h1m70.4 23.8h1m59.2 14.1h1m-164.1-65.4h1m140.4 62.1h1m-55.7-2.8h1m-41.2-16.6h1m-10.8 0.7h1m70.1 13.3h1m-102.3-67.1h1m58.6 63h1m33-0.5h1m68.7 10.6h1m6.4 5.5h1m-128.7-29.6h1m121.9 28.9h1m-37 0.2h1m38.2-1.8h1m-12.4-2.8h1m-103.6-17.5h1m57.1 16.4h1m-47.2-8.7h1m8-6.2h1m-55.4-14.6h1m128 27.5h1m7.4 4.2h1m-104.8-18.6h1m26 5.2h1m63.3 14h1m-65.8-6.7h1m23 6.5h1m-80.4-17.6h1m-23.4-49.9h1m85.7 55.5h1m78.4 12.6h1m-91.5-11.1h1m59.5 3.4h1m-11.6 3.2h1m-71.1-15.4h1m79.7 17.9h1m-54-14.4h1m-48.7-16.7h1m66.2 20.1h1m22.3 5.3h1m-23.7 1.1h1m60.2-0.2h1m-148.6-21.3h1m82.5 22.8h1m-19.8-3.4h1m4.5-3.9h1m-22.5 3.2h1m-53-40.3h1m86.1 37.2h1m55.3 14.5h1m-107.6-13.8h1m2.6-12.9h1m54.1 19.1h1m-36.6-11h1m45.3 6.5h1m-7.9-0.6h1m-16.2-2.3h1m59.6 14.3h1m4.4-1.6h1m3.8 2.4h1m-98.2-14.8h1m-1.9 0.1h1m-80.6-65h1m153.5 75.8h1m-86.4-20.9h1m-36.7-17.3h1m59.4 32.5h1m14.2-3.7h1m-64.3-6.7h1m63.3 3h1m-15 11h1m75.1 7.8h1m-77.6-11.5h1m-14.3-1.8h1m80.4 11.7h1m-79.8-21.4h1m-64.7-7.6h1m48.6 7.1h1m10.3 11.5h1m0.5 0.4h1m-36-13.3h1m116.3 20.2h1m-150.5-39.8h1m58.3 22.6h1m53.8 11h1m7.1 1.5h1m-110.3-20.3h1m131.2 21.5h1m11.4 7.6h1m-170.5-75.3h1m94 61.2h1m12.1 5.6h1m-52.6-18h1m-60.8-35h1m165.1 59.7h1m-132.1-43.9h1m30.4 32h1m97.6 9.4h1m-15-0.7h1m-21.1-0.7h1m26.7-2.2h1m-152.8-81.4h1m13.5 62.2h1m48.3 8.7h1m4 2.9h1m-68.3-83.7h1m159.3 92.5h1m-95.8-14h1m23.9 11.9h1m-40.2-11.9h1m38.1 13.3h1m-93.8-74.6h1m60.3 55h1m97.1 27.3h1m-46.3-2.7h1m-75.6-30.5h1m82.7 28.3h1m-19.3-2.2h1m-29.5-2.4h1m17.9 2.9h1m-33-6h1m4-12h1m19.2 11.7h1m-43.2-11.7h1m14.2 11.1h1m105.8 15h1m-6.1-8h1m-67.4-4h1m52.5 2.3h1m-40.5-7.4h1m11.6 13h1m-8.5-1.1h1m-66.3-13.5h1m-1.3-6.8h1m98.1 20.6h1m-43.4-11.9h1m-67.6-16.5h1m126.5 23.6h1m-89.2-0.5h1m-48.2-23.8h1m127.5 33.4h1m-77.7-21.5h1m-57.8 0.7h1m137.3 20.6h1m-60.7-10h1m-101.8-66.8h1m119.1 71.6h1m27-2.1h1m-86.9-15.6h1m-27.5 3.7h1m-22.7-15h1m75.6 18.1h1m45.5 10.9h1m30.8-5.3h1m-171.1-63.6h1m80.1 54.5h1m40 15h1m-110.2-27.1h1m54.1 5.2h1m-79.9-61.8h1m99.9 73h1m-67.5-30.6h1m115.2 38.4h1m-87.3-6.2h1m78.3 9.2h1m6.7-7.9h1m-45.7 4.9h1m55.8 0.1h1m-15 1.9h1m-147.3-59.2h1m126.6 58.6h1m10-2.4h1m-54.9-1.4h1m81.9-1.1h1m-152.5-60.1h1m78.5 50.2h1m43.4 14.9h1m24.7 2.6h1m-27.8-2.3h1m-136.2-52.1h1m44.5 31.8h1m-29.8-5h1m53.3 10h1m86.7 10h1m-158.6-41.1h1m161.1 43.4h1m-51.7 2.9h1m-82.5-15h1m23.6-12.7h1m-30.9 11.8h1m57.6 7.3h1m29.7 5.2h1m16.7 7.3h1m27.1-6.1h1m-24.7 4.2h1m7.6-3.7h1m-103.8-28.3h1m57.6 25.2h1m38.4-2.4h1m-144.5-42.7h1m102.2 44.1h1m-16.6-1.8h1m19.6 6.9h1m-32.7-10.6h1m11.8-5.9h1m25 17.5h1m51.5 2.7h1m-68.7-10.5h1m-94.8-51.3h1m157.8 63.4h1m-128.7-32.4h1m61.9 15.4h1m44.1 12.8h1m-17.5-0.7h1m-47.9-9.8h1m-72.1-30.3h1m19.8 7.4h1m-20.7-33.7h1m5.7 37.8h1m42.8 18.6h1m39.9 3.4h1m-112.7-60.3h1m86.7 56.6h1m-11.1-7.3h1m75.6 14.4h1m-118-12h1m-14.8-18.3h1m157.3 26.9h1m-24.6-1.3h1m-30.5 2.7h1m46.2 9.4h1m-154.8-42.7h1m41.1 25.3h1m77.5 4.8h1m-50-5.9h1m-42.2-9h1m46.7 18.2h1m33.9 4h1m-39.2-2h1m-33.3-26.7h1m90.3 23.7h1m-93.6-16.8h1m-39.4-5.4h1m78.8 20.5h1m-43.6-3.8h1m-47.2-71.3h1m120.9 85.1h1m44.8-3.8h1m-33.1-7.6h1m-100.5-7.8h1m31.7 4.6h1m26.7 9.9h1m21.6-2h1m-2.8 6h1m49.7 0.1h1m-169.5-75h1m15.6 50.2h1m54.8 7.2h1m44.2 13.3h1m-124.6-58.4h1m89.1 52.7h1m-45.4-23.8h1m56.5 30.7h1m-33.2-7.8h1m-27.1-11.8h1m93.1 16.3h1m-35.5 2.4h1m-12.3 1.2h1m-54.3-13.7h1m110.7 16.1h1m-147.7-42.1h1m54.2 14.5h1m56.9 25.7h1m53.7 3.8h1m-72.4-8h1m-77.9-23h1m93.1 23.9h1m50.4 4h1m-167.6-84.8h1m-11.4 15.3h1m154.8 67.9h1m-111.4-32.9h1m19.1 9.8h1m36.3 19.6h1m-39.1-14.4h1m82.3 18.6h1m-65.2-5.5h1m-6.7-4.9h1m1.6-8.2h1m97.1 25h1m-9.6-4.1h1m-137.1-26.9h1m14.3 9.5h1m-5.2-13.1h1m-9.6 3.5h1m113.6 26.1h1m26 0.5h1m-151.9-31.1h1m129.8 32.2h1m-81.5-12.4h1m-53-36.6h1m-30.2-21.5h1m84.8 63.5h1m66.3 5.2h1m-145.9-61.7h1m75.9 55.7h1m46.5 7.5h1m-39.9-20.1h1m59.1 10.7h1m-142.9-69.7h1m122.9 73.1h1m41.7-0.9h1m-92.1-9.3h1m-70.1-24.4h1m131.2 41.1h1m33.9 3.3h1m-166.6-36.6h1m146.4 35.3h1m-113.9-30.3h1m108.7 28.3h1m7.9-0.7h1m11 3.9h1m-161.3-43.1h1m77.8 23.9h1m-30.1 1.9h1m-45.4-27.5h1m-23.6-47.4h1m60.3 76.2h1m101 11.5h1m-98.9-13h1m81.5 15.8h1m-64.6-17.5h1m42.6 9.2h1m-53.2-5.5h1m70.8 11.7h1m-84.5-17.8h1m69.1 12.6h1m-66.7-9.8h1m76.5 11h1m-34.6 2.1h1m-102-44.1h1m99.5 39.1h1m-100.9-23.4h1m114.7 30.3h1m-7-0.7h1m20.3 0.3h1m-53.4-6.7h1m72.9 5.1h1m-70.6-2h1m-99.3-62.2h1m108.3 57.9h1m-43.6-19.6h1m51.4 20.3h1m-7.7 1.6h1m62.8 10h1m-55.7-6.1h1m-67.4-24.4h1m16.7 15.6h1m-76.3-60.9h1m28.7 34.9h1m-27.8-22h1m9.1-16.3h1m69.1 63.3h1m-58.6-36.5h1m27.9 24.4h1m23 12.7h1m-32.5-11h1m99.2 13.2h1m-44.7-1h1m14.4-0.1h1m-46 1.7h1m20 0.1h1m-62.3-28h1m99.8 35.8h1m-0.8-6.3h1m33.8 4.6h1m-81.9-5.3h1m76.6 5h1m-107.4-32.4h1m-35.1 1h1m100.3 32.7h1m-65.4-14.2h1m85.2 13.7h1m-64.9-5.5h1m-10.4-7.4h1m62.5 12.6h1m-12.8-4.9h1m-56.2-4.5h1m68.4 12.5h1m-27.7-15.8h1m-92.4-11.7h1m-15-21.1h1m44.1 15.9h1m92.6 28.6h1m-26.2-0.9h1m36.4-5.2h1m-103.8-8.4h1m73.9 10.9h1m-13-2.6h1m-93.8-13.5h1m111.7 19.2h1m-63.7-17.1h1m-60.6-7.8h1m16.6-12.4h1m95.6 36h1m-97.6-42.2h1m-17.9 2.4h1m142 42.7h1m-56.5-6.7h1m41.8 9.6h1m12.4-4.9h1m-70-7h1m14.8-0.1h1m35.3-0.5h1m-18.8 8.9h1m-102.7-36.3h1m158.9 35.8h1m-40.7-2.1h1m20.7 9.1h1m-111.5-18.5h1m11.3-6.8h1m114.3 23.5h1m-57-0.9h1m-123.3-50.4h1m160.8 49.6h1m-161.4-87.3h1m19 45h1m-21.1-12.2h1m142.8 53.4h1m9.9-4.1h1m-30.5-1.8h1m4.3-3.7h1m-19 5.5h1m-106.7-56h1m9 20.4h1m74.1 25.2h1m14.2 5.8h1m-30.7 2.5h1m37 6.1h1m-76.8-16.1h1m131.9 23.8h1m-60.2-9.7h1m-11.7-4.4h1m-36.6-3.6h1m-38.7-8.9h1m63 15.6h1m66 7.5h1m-143-45.5h1m127.3 33.8h1m-50.4 2.6h1m-7 2.2h1m52.4-2.6h1m-11.7 8.6h1m-123.7-55.2h1m12 26.4h1m80 16.9h1m72.9 7.3h1m-71.6-13.8h1m-105-48h1m14.9 17.2h1m142.7 49.4h1m-163.5-57.5h1m150.1 58.4h1m-83.6-20h1m70.9 15.8h1m-107.8-19h1m12.9 3.2h1m64.9 3.4h1m-85.3-8.5h1m121.3 17.9h1m-49.6-6.8h1m-80.2-39.6h1m65.2 35.6h1m30.8 12.1h1m-115.6-57.7h1m-8.7 14.7h1m30.5 9.4h1m28.8 20h1m53.4 14h1m-101.3-43.4h1m22.8 22.7h1m100.8 19.8h1m-144.1-69h1m137.2 57.9h1m-137.1-35.7h1m73.8 35.3h1m52.1 2.8h1m7.3 3.5h1m-67.2-5.7h1m-46.8-16.7h1m127.6 29h1m17.3 0.5h1m-49.3-5.8h1m-108.3-24.8h1m147.2 29.9h1m-126.5-18h1m130.2 19.1h1m-38.2 1.6h1m-28.1-3.5h1m60.7 1.5h1m-63.4-12.8h1m30.4 12.7h1m-71.6-17.8h1m-34.1-7.7h1m-36.4-31.2h1m38.7 39.9h1m108 21.3h1m-136.2-55.7h1m58.1 28.8h1m45.6 12h1m-89.8-24.4h1m-11.1 13.2h1m70.2 12.1h1m38 5.8h1m5.7 2.4h1m-82.7-28h1m36.4 26.8h1m38.6-0.2h1m-90-10.6h1m117.3 14.3h1m18.4 4.3h1m-109.6-27.2h1m68.3 23.9h1m26-8.8h1m-44.9 7.3h1m-14.4-1.9h1m32.3 4.5h1m-60.3-13.2h1m-66.9-45h1m21.6 29.5h1m67.7 21.1h1m37.4-0.8h1m-11.6-1.2h1m-137.5-45.2h1m75.7 39.2h1m43.7 14h1m-58.1-25.3h1m91.1 22.4h1m-162-61.8h1m77.9 56h1m-22.6-7.7h1m57 4.1h1m21.8 7h1m-9.2 5.7h1m-60.8-17.2h1m-17.7-19.9h1m-53.1-40.2h1m-6.1 0.5h1m124.1 62.4h1m-72.8-2.4h1m13 4.9h1m59.7 10.5h1m-86.6-28.9h1m46.3 18h1m13.3-1.1h1m7.9 4.6h1m60.3 8.4h1m3.2-2.1h1m-86.8-5.9h1m8.5-0.6h1m64 11.4h1m-22.8-2.6h1m9.7 2.8h1m-0.5-6.5h1m-156.2-74.3h1m116.4 73.9h1m-51.1-22h1m92.8 25.6h1m-93.6-15h1m99.6 7.2h1m-0.3 12.2h1m-38.7-5.1h1m-122.3-46.4h1m136.8 46.2h1m-79.1-12.6h1m34.5-1.9h1m-47.4 4.1h1m-29.1-18.2h1m49.9 19.2h1m66.1 9.2h1m-104.1-21.7h1m34.5 12.4h1m19.3 2.2h1m-67.2-35.7h1m112.1 43.6h1m-37.5-9.6h1m21.6-0.2h1m-10.7 10.4h1m-8.2-2.7h1m-76.4-29.5h1m-6.1 1.5h1m114.4 28.3h1m-80.4-9.1h1m70.6 11.1h1m-62.9-23.3h1m50.7 23.5h1m-119.6-81.3h1m165.6 78.5h1m-101.1-13.2h1m88 16h1m-143.4-40.5h1m98.3 37.2h1m-95.6-20.8h1m-2.6-23.5h1m-29.2-15.3h1m74.2 49.3h1m16.3 3.8h1m-87.9-78.4h1m79.9 76.8h1m63.7 8.2h1m-38.8 0h1m-87.3-20.1h1m75.6 11.3h1m6.8 5.1h1m13.4 0.5h1m-90.7-13.7h1m45.2 1.8h1m0 3.1h1m70.3 14.3h1m-82.6-13.1h1m55.6 10.8h1m50.4-4h1m-4.1 4.8h1m-44.1-4.7h1m-47.4-2.8h1m-50.9-12.1h1m-4.5-0.8h1m130 24.5h1m-73.8-7.9h1m-20.7-9.2h1m63.6 7.3h1m-90.3-15.7h1m41.3 14.2h1m13.7 3.1h1m-74.6-26.2h1m36.1 19.6h1m25.6 7.2h1m62.8-1.7h1m-47.5 8.3h1m-37.4-8.5h1m-1.9 1.1h1m99.3 3.9h1m-78.9-12.7h1m55.5 13.3h1m-158.3-70.7h1m61.9 52.8h1m-31-19h1m105 29.6h1m-127.3-61.3h1m136.9 73.4h1m-39.3-8.6h1m-103.3-73.4h1m121.5 75.3h1m-112.4-31.7h1m-19.8-36.5h1m149.2 65.2h1m-55.4 1.8h1m75.3 10.1h1m-66.8-8.9h1m-109.7-62.5h1m27.6 37.2h1m107 19.2h1m-59.2 1.1h1m-79.1-58.7h1m141.9 68.7h1m-73.6-19.2h1m18.1 7.9h1m1.6-9.1h1m83.4 15.1h1m-106.7-15.7h1m70.3 20.6h1m28.2 1.1h1m-105.2-23.7h1m0 13.1h1m16.6 0.1h1m-41.3-15h1m24.6 15.6h1m-24.3-23.2h1m-45.8-22.8h1m100 40h1m-5.7 3.7h1m49.9 10.5h1m-128.3-24.2h1m60.5 10.2h1m72.6 5.6h1m24.7 11.8h1m-108.9-19.6h1m82.6 8.8h1m-70.6-8.4h1m12.7 5.9h1m-73.6-38.8h1m84.5 44h1m9.6 4.7h1m21.3 2.7h1m-126.2-36.1h1m-11.3-23.9h1m69.8 47.9h1m-65.3-23.3h1m17-1.4h1m40.2 17.5h1m-51.5-17.6h1m154.3 31.5h1m-32.5 4.1h1m-26.7-12h1m-83.8-5.2h1m-39.7-35.1h1m61.6 25.9h1m18.2 16.6h1m-89.1-59.5h1m84 56.1h1m23 7.7h1m-107.4-65h1m158.4 71.7h1m-71-14.7h1m-2.5-8.7h1m-7.6 5.5h1m-6.8 5.4h1m8.5-2.8h1m-53.5-18.7h1m11.8-12.3h1m38.1 37.9h1m38.2-4.1h1m-14.9 5.8h1m-35-11.9h1m30.8 9.8h1m59 2.8h1m-162.4-61.6h1m174.2 64.5h1m-27.1-4.5h1m-97-13h1m63 8h1m-71-18.3h1m11.4 10.2h1m-29.5-0.2h1m83.1 13.5h1m-116.9-49.6h1m23.6 6.1h1m129.5 43.6h1m-131.9-16.8h1m89.3 16.2h1m13 6.1h1m13.5-8.8h1m-52.9-6.3h1m56.4 8.7h1m-70.8-12.9h1m-38.6-10.4h1m111.7 31.4h1m-36.7-5.8h1m47.5 6.3h1m-25.3-3.9h1m-23.7-2h1m41.4 0.5h1m-101.8-21.5h1m33.4 19h1m59.4-0.3h1m-48.7-0.7h1m17.3 1.2h1m-25.4-1.6h1m-32-11.1h1m25.5 5.5h1m-68.8-27h1m-33.2-45.2h1m110.6 66.7h1m-21.8 9.3h1m67.9 11.9h1m-85.5-24.8h1m11.8 12.8h1m17.1-1h1m-13.9 0.3h1m10.5 6.8h1m-77-26h1m27.4-4.7h1m93.9 30.1h1m-22.5 3.9h1m7.6-10h1m-72-9.2h1m106.1 17.6h1m-122.5-13.5h1m111.5 15.9h1m-92.8-13.6h1m43.6 5.1h1m21.2-1.8h1m34.6 3.5h1m-22.2 4.9h1m-85-8h1m80.7 4.1h1m-134-40h1m6.5 1.2h1m140.2 46.3h1m-131.2-31.1h1m131.3 21.9h1m-67.3-9.6h1m59 18.3h1m-160.3-75.2h1m36 50.2h1m102.4 13.2h1m10.2 4.4h1m-81.3-6.8h1m71.7 11.6h1m-99.2-32.5h1m-49.8-64.7h1m-8.4 26.6h1m115.7 64.5h1m-92.4-20.5h1m57.6 9.8h1m-44.6-26.3h1m-11.7 9.8h1m139.2 28.1h1m-159-67h1m64.9 60.4h1m75.6 11.4h1m-97-26.1h1m30.2 16.4h1m26.5-1.2h1m-94.1-39.2h1m44.9 36.8h1m46.4 2.5h1m-37-7.9h1m96.1 14.5h1m3.9 1.6h1m-131.4-11.8h1m23.2 3.5h1m73.8 9.8h1m-48.6-8.6h1m-86.4-46.2h1m48 46.2h1m104.5 6h1m-62.1-11.3h1m-81.7-17.5h1m67 22.9h1m4.4 3.8h1m75.2 9.6h1m-167.5-47.3h1m-10.8-14.4h1m159.9 53.6h1m-13.9 5.6h1m5.5-1.7h1m17.6-0.9h1m-123.8-27.6h1m75.4 28.7h1m-27.7-14.5h1m-0.4 9.4h1m74 9.4h1m-80.9-10.4h1m15.7-3.9h1m-10.9 4.6h1m21.2 5.3h1m35.8 3.3h1m-49.3-6.6h1m-59.1-22h1m85.4 23.4h1m-139.1-49.9h1m57.6 36.1h1m-24.9-7h1m121.6 15.3h1m-6.7 10.7h1m-17.8-8.5h1m0.2-0.3h1m-73-9.2h1m87.9 11.8h1m-8.9 3.7h1m-103.3-27.2h1m-26.3-17.8h1m42.8 32.2h1m-51.3-16.3h1m12.8-1.4h1m-8.4-12.5h1m140.9 35.7h1m-98.7-6.5h1m-7.7-4.8h1m49 11.5h1m1.3-5.7h1m-24.1 2.1h1m-76.9-25.6h1m-11-21.1h1m48.9 26.9h1m78.8 24.2h1m6.2 6.2h1m-95.3-16.1h1m25.8 1.3h1m-53.7-26.7h1m-7.9 11.4h1m57.4 7.2h1m98.4 18.7h1m-171-71.7h1m43.2 52.1h1m-51.7-42.3h1m158.7 59.8h1m18.3 7.5h1m-45.1-4.3h1m12.2-2.9h1m6.7 6.3h1m-134.2-57.7h1m80.1 45.2h1m-84.4-41.2h1m153.6 57.7h1m-102.5-27.9h1m107.2 21h1m-126.3-14.2h1m-7.8-23.3h1m-46.3-35.7h1m107.8 69.2h1m60.7 0.2h1m-139.4-19.5h1m68.3 8.4h1m78.3 15.2h1m-172.3-59.6h1m6.8 25.4h1m40.6 21.7h1m15.2 2h1m67.1 6.9h1m-39 2.5h1m55.1 0.8h1m-27.3-8.9h1m-106.9-10h1m84.9 19.3h1m5.7-3.2h1m-7.4 3.4h1m-93.8-45.8h1m147.9 38.9h1m-163.3-31.4h1m167.3 41.3h1m-61-3.8h1m19 3h1m-36.4-6.9h1m76.3 8.9h1m-109.2-10.9h1m20.3 1.3h1m36.7 1.5h1m-110.6-59.4h1m10.6 18.8h1m129.6 46.1h1m-101.4-21.4h1m-1.6-5.4h1m103.6 21.9h1m-140.6-35.3h1m113.2 35.6h1m-65.8-2.6h1m-28.4-24.2h1m5.8 12.2h1m26 3.8h1m43.7 8.3h1m-68.6-15.8h1m-51.1-28h1m36.7 32.1h1m-33-21.4h1m129.1 39h1m-82.3-17.8h1m31.2 12.5h1m-87-70.6h1m94 68.6h1m-47.3-4.2h1m57.7 1.7h1m62.7 11.8h1m-64.2-6.9h1m-39-16.2h1m0.7 15.5h1m21.1-3.1h1m-21.4-12.9h1m-71.3-18.7h1m132.3 39.3h1m19.7-3.4h1m-29 7.4h1m-113-28.3h1m70.5 18.4h1m39.1-3.1h1m-97.4-9.7h1m50.5 12.8h1m75.9 4.3h1m-36.6-5.3h1m-125-34.8h1m49.9 24.7h1m-14.6 5.3h1m-11.7-5.6h1m134 23.6h1m-74.1-17.8h1m30 13.1h1m35.1-5.4h1m-45.4-0.1h1m-41.1-7.2h1m29.8 1.4h1m-45.2-12.8h1m7 16.7h1m-64.1-56.2h1m152 52.2h1m-152.9-65.1h1m2.8 24.8h1m-4 19.5h1m10.4 12.6h1m138.1 15.5h1m-66.3-10.8h1m-45.4-6.1h1m121 24.3h1m-23.1-5.7h1m-92.9-14h1m58.1 7.5h1m-91.4-27.4h1m122.2 40.6h1m8.4 0.4h1m-146.2-41.1h1m23.7 23.2h1m76 8.3h1m55.8 9.4h1m-57.1-13.3h1m5.7 9.9h1m-23.7-11.4h1m-28.1 1.5h1m78.5 5h1m-21.5 3.5h1m9.8-1.7h1m-90.2-7.9h1m-37.5-27.1h1m127.3 30h1m-61.1-6.8h1m32.3 13.9h1m-116.5-68.9h1m107 60.3h1m-108.5-36.7h1m115 40.8h1m-37.8 0.1h1m-76.1-58.6h1m43.2 51h1m7.2-10.4h1m60 16.7h1m-130.3-52.9h1m128.1 56.3h1m16 1.4h1m-67.2-7.7h1m56 2.7h1m-24.4 4.5h1m-97.5-28.9h1m126.9 27.2h1m-135-92.2h1m82.8 92.9h1m-76.7-29.4h1m-19.1-36.5h1m111.4 55.4h1m-19.3 3h1m-21.6-10.6h1m40.9 16h1m-97.4-43.8h1m119.9 48.3h1m41.3 5.1h1m-169.9-56.9h1m112 53.5h1m-41.7-8h1m68.7 3.4h1m-27.2-3.7h1m-117.2-62.1h1m19.9 39.7h1m86.7 20.7h1m-116-70.8h1m2.6 5.7h1m128.2 67.2h1m20-1.1h1m-144.1-47.7h1m90.8 40.9h1m-21.8 5.8h1m-68.1-46.7h1m37.5 43.3h1m-31.4-7.6h1m90.4 10.9h1m-45.9-4.4h1m-40.8-10.8h1m69.7 11.4h1m-92.1-18.6h1m85.2 26.7h1m-9.6-1.4h1m-94.6-52.6h1m127.9 55.4h1m-79.8-8.9h1m-7.3-15.3h1m35 17.9h1m61 0.5h1m-33.7-5.9h1m35.2 12.2h1m-14.7-1.5h1m29.6 5.9h1m-13.7-7h1m-136-56.9h1m165.2 63.3h1m-102.9-15.7h1m91.9 8.5h1m-3.8 0.9h1m4.4-2.9h1m-59.1-3.9h1m49.1 6.1h1m-49.5-2.6h1m-32.7-9.1h1m-11.2 0.3h1m9.6 3.5h1m-42.8-14h1m40 15.7h1m21.4 5.6h1m-72.5-22.8h1m108.6 31.9h1m-11.8-7.5h1m-31.1 1.3h1m-77.6-20.6h1m76.4 13h1m-53.9-11.8h1m-35.5-9.8h1m54.3 18.2h1m-56-21.4h1m0.8-9.4h1m105.4 46h1m-126-57.5h1m170.3 55.1h1m-87.3-12.6h1m-11.9-5.6h1m100.1 18.9h1m-119.6-30.5h1m18.9 13.6h1m-9.9-0.6h1m42.3 11.6h1m35.8 9.7h1m-105.7-31.2h1m-5.4-11.4h1m53.4 34.1h1m60.7 2.2h1m-13.3 4.5h1m-102.1-23.3h1m14.8 8.8h1m57.7 4h1m58.2 7.6h1m-154.6-45.7h1m66.9 33.4h1m19.3 9.4h1m-107.9-57.9h1m155.4 54.4h1m-93.9-11.5h1m38.7 17.7h1m-102.8-50h1m131.5 47.3h1m-87.2-12.3h1m37.6 7.6h1m-4.1-0.4h1m-90.3-49h1m43.1 17.7h1m-11.1-2.9h1m64.8 40.8h1m-51.2-16.7h1m-25.4-2.9h1m66.6 14h1m2-5.4h1m-18.8-6.4h1m66.3 17.3h1m-37.7-2.5h1m30.5 4.3h1m-132.2-59.8h1m144.4 57.4h1m24.7 0.3h1m-136.8-21.4h1m-33.6-29.3h1m108.1 49.8h1m29.1-2.6h1m29.5 10.4h1m-116.6-14.7h1m44.9 7.5h1m-38.1-17.2h1m-0.9 5.2h1m18.1 4.8h1m-50.1-15.2h1m-38.6-27.5h1m83.3 48.4h1m60.7 7.2h1m-136.6-63.4h1m13.4 36.7h1m12.2 0.8h1m-9.3-9.4h1m125.7 34.1h1m-3.7-1.1h1m-115.3-28.3h1m28.4 7.7h1m27.1 16.7h1m-80-26.9h1m69.1 22.7h1m64.9 10.7h1m-36.3-13.1h1m-129.1-56.3h1m91.5 50.5h1m-36-5.3h1m44.2 9.5h1m57.2 15.3h1m-100.6-27.2h1m-13.4-6.9h1m-32-13.3h1m60.5 20.7h1m71.3 24h1m-103.3-23h1m128 22.8h1m-114.3-19.6h1m-14.1-1.2h1m41.1 8.4h1m-79.9-38.9h1m92 34.4h1m-67.6-17h1m93.2 29.7h1m24-0.9h1m-154-69.1h1m12.7 24h1m18.9 20.7h1m32.1 13.3h1m31.2 13h1m74.2 3.5h1m-62.9-5.9h1m-48.9-5.6h1m108 11.7h1m-64.3-8.8h1m-3.7 2.6h1m-50.1-7.8h1m76.5 10.5h1m-87.2-11.1h1m110.7 7.2h1m-147.1-38.4h1m111.1 44.6h1m-110.7-56.6h1m42.7 50.7h1m39.5-2h1m-85-20h1m122 25h1m22.3 3.9h1m-71.5-4.3h1m47.3 6.6h1m-83.2-15.5h1m97.7 10.6h1m12 4.7h1m-70.4-6.6h1m-63.5-19.6h1m-44.1-32.4h1m135.8 47.3h1m-13.2 7.8h1m-73.4-16h1m108.2 13.6h1m19.4 5.7h1m-94.1-14.5h1m-75.3-27.5h1m12.2 10.3h1m104.8 28.5h1m-66.7-24.3h1m-11.3-1h1m31.8 10.7h1m-47.1-2.2h1m99.2 10.1h1m-2.9 2.5h1m21.3-1.4h1m-51.7 6.4h1m45.9 3h1m-71.3-17h1m1.9 2.8h1m22.8 3.8h1m31.6 3.4h1m-81.7-18.9h1m-60-62.6h1m3.4 42.3h1m40.1 32h1m-59-61.3h1m105 66.9h1m2.3-4.9h1m-3 8.7h1m65.1 1.1h1m-2.6 1.2h1m-84.5-16.9h1m5 7.4h1m84.9 9.3h1m-174.1-49.4h1m131.2 50.2h1m2.4-3.9h1m-136.3-75.7h1m114.1 69.5h1m-121.4-52.9h1m45.2 34.7h1m119.9 30.7h1m-18.1-10.8h1m8.2 2.3h1m-19-1.3h1m-3.4 6.7h1m-18.9-7.4h1m-1.6 5.2h1m40.5-1h1m-50-2.1h1m43.2 8.5h1m-21.5-1.2h1m-42.3-16.5h1m-7 8.2h1m26-1.4h1m-53.5-6.6h1m31.9-0.3h1m-6.9 0.8h1m-25.5-6h1m91.4 19.7h1m-145.1-74.1h1m35.8 60h1m-42.4-25.6h1m42.1 26.8h1m103.8 12.8h1m-86.6-20.9h1m29.7 16.3h1m-56.8-34.3h1m-32.8-14h1m139.1 51.1h1m-88.3-11.3h1m38 1.2h1m-82.8-35.8h1m83.5 40.6h1m-106.4-54.8h1m10.8 13.9h1m140.6 48.4h1m-11.9 2.9h1m-8.2-2.8h1m-89-34h1m17.9 11.9h1m14 10.6h1m31.4-0.6h1m-119.2-63.8h1m32.1 41.7h1m-15-4.3h1m27.8 11.7h1m93.8 24.5h1m28.4-5.9h1m-138.5-16.7h1m-4.9-11.5h1m90 28.7h1m-96.4-17.9h1m97.1 20.4h1m-3.2-4.7h1m-69.2-12.1h1m110.3 18.8h1m-38.7 2.8h1m-132.9-74h1m141.2 69.5h1m20.4 5.1h1m-160-86.5h1m60.7 66.5h1m14.7 6.2h1m6.8 5.1h1m-61.1-27h1m83.9 32.3h1m40.7 4.3h1m-74.4-16.6h1m36.2 4.2h1m-24-4.4h1m-40.2-13.6h1m2.1 1.8h1m101.1 29h1m-51-5.5h1m-37.2-6.5h1m58.3 7.7h1m-8.5 3h1m-115.6-65.1h1m14.9 27.8h1m-25.2-24.4h1m128.4 58.5h1m-60.8-9.9h1m-20.7-19h1m58.2 16.5h1m-112.3-49.8h1m28.6 28.4h1m126.7 34.9h1m-5.8-3.1h1m-20.5-5.5h1m-40.8-1h1m78.5 14.7h1m-10.9-9.6h1m-24.7 3.1h1m-21.3-10h1m-62 1.3h1m10.1 0h1m22.8-7h1m-72.5-13.2h1m-8.9-6.7h1m73.8 32.2h1m-63-40.2h1m30.5 26.9h1m46.5 11.1h1m-37.9-11.9h1m-22.3 6.8h1m75.9 14.4h1m-75.2-18.5h1m126.7 14.7h1m-178.2-60.3h1m118.6 57.7h1m55.1-2h1m-28.2-1h1m-105.5-20.1h1m40.6 21.9h1m-87.1-70.4h1m9.9 20.5h1m-5.1-14.5h1m4.2 21.2h1m-5-17.8h1m-9.2-8h1m-3.1-0.9h1m5 11h1m0.9-27.4h1m-6.5 19.5h1m5.6 11.5h1m3.3-18.5h1m-8.7 21.8h1m1.1-13.3h1m-1.6-2.2h1m2.5-4.1h1m-5.3-6.5h1m2.8 29.1h1m-8.4-16.3h1m1.9-3.8h1m4.2 4.5h1m-1.5 10.3h1m-8.1-5.5h1m0.3-2.1h1m0-21.8h1m-4 28.2h1m-1.4-16.7h1m7 20.5h1m0.9-39.5h1m-6.9 22.1h1m0.3 0.5h1m-3.5-11.6h1m-2.8 20.3h1m2.9-5.4h1m-5.7-14.7h1m0.3 21.5h1m7.8-4.7h1m-8.6-18.3h1m-6.3 14.6h1m10.6-22.9h1m-13.1 25.6h1m11.6 17.2h1m-10.1-30.2h1m4.2 7.7h1m-2.2-4.8h1m-6.8 3.5h1m4.3 11.1h1m-2.1-0.7h1m5.6-18.6h1m-13.4 10.1h1m12.1 2.2h1m-9.5 2.4h1m-1.5-9.4h1m9.7 12.4h1m-4.8 7.9h1m-9.6-25.1h1m1.4 12.2h1m4.5-3.8h1m4.4 28.2h1m-10.5-25h1m2 5.3h1m3.1-6h1m-5.1 6.2h1m-10-1.5h1m11-14.2h1m-2.7-5.2h1m-5.3 2.2h1m5.5-13.1h1m-7.4 38.5h1m-1.7-25.1h1m-4.8 16.5h1m1.4-14h1m2.8 9h1m-7.4 0.4h1m3.8-5.9h1m0.6 16.4h1m1.2-17.2h1m-4.2 6.5h1m7.5 18.7h1m-10.1-11.3h1m7.3-3.6h1m-9.2 1.7h1m-0.8 7.9h1m6.3-32.5h1m-0.5 3.9h1m-5.5 18.4h1m-2.8-24.6h1m-5 26.5h1m9.6-9.1h1m-9.8 3.9h1m3.4 6.2h1m-6-7.5h1m-6.8 1.5h1m15.3-4.5h1m-13.9-0.4h1m0 2.7h1m6.4 13.7h1m-9.5-20.7h1m7.6 25.3h1m-7.8-16.6h1m-1.8 11.7h1m5.9-27.8h1m-10.1 15.3h1m11.9 27.4h1m-2.3-7.8h1m-1.9-34.7h1m-4.4 16h1m-5.6-7.4h1m-0.7 4.2h1m1.6-2.1h1m6.9 26.9h1m-4.9-14.2h1m-5.6-23.4h1m1.3 16.6h1m-8 1.9h1m2 3.2h1m5.6 5.5h1m2.4-10.3h1m-3 18.3h1m-13.4-20.1h1m2.9 13.6h1m10.3-20.8h1m-2.2-3.1h1m-6.6 32.7h1m2.7-29.5h1m-2.3 24.5h1m0.4-23h1m-1.2-10.7h1m-10.6 6h1m-1.4 6.1h1m4.8-14.2h1m5.2 26.4h1m-5.6-26.6h1m1.3-7.2h1m-5.6 14.6h1m-5.4 8.9h1m8.6 21.9h1m-0.9-8.8h1m-7.5-2h1m1.3-17h1m-3.7-7.2h1m0.6 19.4h1m0.8 9.4h1m-1.6-5.8h1m-6.6-14.9h1m0.6 19.7h1m4.4-17.1h1m1.8 9.3h1m0.9-20.8h1m-0.2 12.6h1m-2.3 2.2h1m-15-0.9h1m2.8 16.8h1m8-21.6h1m-14.7 10.7h1m8.4-18.4h1m-2.9-2.5h1m3.1 27.9h1m-8-21.2h1m0.7 20.6h1m-1.9-22.7h1m0.5 4.2h1m1.3 19.1h1m-3.3-26.4h1m-1.5 8.7h1m4.4 22.5h1m1.7-7.3h1m-2.4 2.2h1m-9.6-3.5h1m-0.8-14.6h1m10.3-6.9h1m-8.2 13.8h1m-2.3-7.3h1m-3.2-7.1h1m-1.5 2.1h1m3.1-1.7h1m-2.4 26.2h1m6.2-34.6h1m-0.6 26.7h1m-13.1-3.3h1m1.3 8.6h1m7.6 0.3h1m-2.2-15.4h1m-1 4.5h1m-4.7-3h1m-8.8 9.1h1m8.9 9.5h1m-9.5-17.3h1m4.9 6.9h1m-9.3-6.2h1m2.2-1.2h1m10.6 30.1h1m-5-11.8h1m-1.6-5.9h1m2.5 16.9h1m-3.7-31.3h1m-5.8-0.3h1m6.3 31.4h1m-10.4-13.2h1m9.9-34.4h1m-13 31.9h1m9.3-14.4h1m-8.5-2.9h1m1.5 1.1h1m-2.6 6.7h1m-4.4 7.1h1m5.8-6h1m-5.5 13.9h1m4.7-14.4h1m-5 3.1h1m-4.2-1.8h1m-2.8 8.4h1m11.2 3.7h1m-4.5-20.4h1m-0.9 10.4h1m-8.1-1h1m10 13.7h1m-4.1-30.9h1m-8.1 16.6h1m4 16.5h1m-1.1-26.3h1m-8.9 8.7h1m-1.8 0.2h1m12.5-17.3h1m-4 35.4h1m-3.5-12.9h1m5.3 12.7h1m-14-10h1m5.6-0.7h1m-1.1-3.1h1m-7.8 1.2h1m0.5-7.8h1m7.7 4.7h1m-9.4-0.6h1m10.2 12h1m-7.5-2.1h1m1.8-16.8h1m-1.9 14.2h1m-11.5-4.5h1m11.6-7.2h1m-1.6-8.5h1m-7.2-3.2h1m-5.1 19.3h1m11.7 16.7h1m-6.3-6.3h1m-5.1-13.9h1m-0.7-4.8h1m-6.4 4.7h1m-0.1-6.6h1m8.9 10.3h1" stroke="#4444cc" stroke-opacity="0.15" stroke-width="1.0" fill="none"/>
<path d="M426.7 298.2h1m-57.4 37.5h1m-1.9-3.8h1m-86.6 54.9h1m33.5-16.3h1m-21.2 4.6h1m-10.5 7.5h1m21-10.7h1m78.5-51.9h1m-109.3 63.7h1m-9.3 5.7h1m138.6-87h1m20-2.3h1m-46.4 17.8h1m-48.6 35.3h1m-73.2 43.3h1m-11.6 1.9h1m2.6-0.8h1m172.4-104.9h1m-118.4 73.1h1m115.1-70.5h1m-38.4 24.1h1m-86.5 54.6h1m-58 29.3h1m127.2-81h1m-82 54.5h1m22.6-14.5h1m108.3-67.8h1m-76.4 43.9h1m26.7-13.8h1m24.9-13.6h1m-137.1 79.4h1m138.1-82.5h1m-106.7 63.9h1m9.9-9.2h1m101.5-65.1h1m-153.8 97h1m19.4-11h1m10-6.2h1m107.1-65.9h1m-132.7 77.7h1m-4.9-0.8h1m-21.4 13.5h1m31.8-18.3h1m8.9-2.7h1m64.2-47.2h1m29-19.4h1m-78.3 58.2h1m-5 0.8h1m108.5-66.7h1m-17.3 8.3h1m-147.8 85.9h1m20.1-13.4h1m-26.3 16.3h1m76.3-44h1m76.5-44.5h1m-8.3 3.8h1m-136.9 77h1m0.5-2h1m146.5-81.4h1m-1.1-8h1m-101.2 61.2h1m-15.9 11.2h1m-10.5 4.7h1m33.7-21.4h1m-75.9 45.9h1m102-56.3h1m36.4-29.2h1m-53.9 29.5h1m38.1-21.9h1m-18 16.1h1m17.8-12.3h1m18.5-17.1h1m-127.3 78.1h1m16.8-8.7h1m128.1-80.6h1m-10.6 2.2h1m-22 15.6h1m-40 21.2h1m-18.8 13.7h1m99.2-62.6h1m-157 97.6h1m28.2-17.7h1m106.7-64.6h1m-51.4 29.8h1m50.3-26.6h1m-77.4 38.6h1m50.3-29.7h1m-3.1 7.4h1m-56.3 32.3h1m17.4-16.5h1m-95.6 58.3h1m7.2-2.2h1m65-36.9h1m84.2-51.3h1m-39.6 17.5h1m24.2-12.2h1m2.2-7.2h1m4 1.4h1m-136.1 79.8h1m-18.2 9.9h1m118.1-68.1h1m-35.5 22.7h1m3.1-0.9h1m-15.7 0.8h1m-54.6 33.3h1m7.8-0.5h1m85.1-49.4h1m-111.4 57.8h1m13.9-2.9h1m90.9-60.9h1m-33.5 18.8h1m-3.1 0.5h1m-1.6 0.6h1m82.7-49.4h1m-134.1 84.2h1m135.4-81.6h1m-1-7h1m15-5.1h1m-104.5 66.5h1m-25.6 9.2h1m-54.6 34.7h1m91.4-50.6h1m28.6-18.7h1m25.9-20.5h1m-65.2 42.5h1m72.8-54.1h1m-76 49.8h1m12.2-1.5h1m-61.3 32.8h1m118.6-80.4h1m12.9-4.4h1m-98.6 59.4h1m-53.8 33.2h1m10.6-8.3h1m-3.6 0.9h1m12.1-1.7h1m66-43.5h1m50.7-35.5h1m-3.5 5.9h1m-16.1 6.2h1m-114.1 70.1h1m84.5-51.4h1m3.4-6.1h1m-12.1 7h1m69.7-41.4h1m-137.7 88.6h1m-26.2 10h1m158.7-96.6h1m-109.4 68.8h1m-53.9 30.6h1m70.9-46.8h1m57-33.7h1m-55.2 35.6h1m-78.8 44.4h1m18.1-11.9h1m82.8-49h1m-40 18.7h1m-35.3 27.9h1m-14.3 2.6h1m-33.3 21h1m3.6-1.6h1m95.5-57.2h1m43.3-30.4h1m-65.2 41.3h1m71.7-46.9h1m-156 96.5h1m38.3-24.8h1m22.7-13.4h1m95.8-58.3h1m-146.3 85.8h1m117.9-69.8h1m-83.6 53.9h1m119-81.2h1m-70.3 46.9h1m-14.9 4.6h1m72.9-42.7h1m21.5-18.1h1m-67.5 44.9h1m53.4-27.9h1m-142.4 80.2h1m86.8-52.8h1m48-27.5h1m-166 97.9h1m43.1-28.6h1m14.9-6.9h1m76.5-40h1m29.5-26.1h1m-129.6 77.1h1m-5.6 3.2h1m133.8-78.1h1m-158.9 94.5h1m168.3-105.5h1m-39.1 23.3h1m-29.3 18h1m-40.2 21.8h1m45.6-24.9h1m-25.3 17.7h1m74.5-55h1m-39.9 24.4h1m16.2-7h1m26.4-15.8h1m-144 84.7h1m-21.6 16.7h1m41.9-27.3h1m97.9-65.6h1m-116.6 79.3h1m106-65.7h1m6-7.2h1m-91 58.8h1m95.4-57.6h1m-106.3 55.4h1m61.5-39.9h1m28.9-11.5h1m-146.5 84.6h1m109.3-61.5h1m-82.1 44.8h1m111.8-73.1h1m-124.8 83.7h1m15.2-8.9h1m17.7-18.1h1m17.3-7h1m-28.3 15.2h1m-9.4 6.8h1m22.2-18.7h1m-52.7 34.9h1m-8.6 4.2h1m-1.5-0.3h1m7-2.8h1m59.4-37.2h1m65.5-36.3h1m6-8.1h1m6.5-8.4h1m-102.2 63.5h1m-24.6 17.3h1m115.5-65.7h1m-20.3 0.6h1m-108 65.8h1m-17.3 11.1h1m42.5-24.4h1m106.3-69.9h1m-39.5 29.5h1m33.5-21.3h1m-108 62.5h1m38.9-18.6h1m-77.1 42.8h1m58.1-32.6h1m30.2-22.4h1m-80.2 47.3h1m3-0.5h1m32.5-16.9h1m-48.4 21.4h1m12-7h1m36.8-22.3h1m-30.2 19.1h1m55.3-37.2h1m99.1-57.7h1m-142.9 88.5h1m109.9-74.5h1m11.9-10.4h1m-23.7 17.8h1m-34.8 17.8h1m-37.7 30.1h1m27.1-15.3h1m-29.5 15.8h1m65.5-47.9h1m-29.4 22.4h1m-28 13.5h1m93.9-48.7h1m-0.6 0.2h1m3.2-13.1h1m-143.7 93.8h1m126.1-85.4h1m-57.8 45.9h1m-70.6 39.1h1m90.7-61.8h1m-106.2 67.6h1m80.6-47.6h1m-27.8 11.8h1m-53.1 35.1h1m150.8-93.7h1m-7 1.6h1m-171.9 102.6h1m144.8-88.9h1m31.8-14.2h1m-99.7 57.6h1m56.7-33.9h1m-126.2 74.3h1m-20.2 12h1m166.6-100.1h1m-137.3 81.1h1m27.7-19.6h1m72.7-40.5h1m-90.2 55.3h1m24.9-24h1m73.3-36.3h1m-40.8 21h1m-40.7 22.9h1m110.7-69.7h1m-59.8 38.3h1m-43.1 30.8h1m-33.7 18.7h1m114.1-76h1m-111.6 69.6h1m63.6-41.8h1m-63.5 39.6h1m90.5-56h1m19.7-16.3h1m-125.6 79.6h1m113.2-73h1m15.2-2.4h1m10.1-10.5h1m-119.4 75.4h1m-22.8 10.7h1m138.7-84.2h1m-39.9 17.9h1m-83.7 54.3h1m99.1-60.6h1m-29.7 23.4h1m-71.1 37.2h1m-22.3 9.4h1m8.2-4.7h1m65-38h1m-67.2 40.9h1m63.7-37.7h1m-52 33.6h1m93.4-67.4h1m-156 98.2h1m150.5-84.8h1m-125.2 66.8h1m3.2-1.1h1m-12.6 7.1h1m19.4-13.5h1m-40 26h1m125-81.9h1m-107.9 71.1h1m86.5-54.3h1m65.3-39.5h1m-155.5 90.5h1m8.7-2.8h1m8.8-2h1m4.5-7.5h1m115.9-64.8h1m-7.5-6.1h1m9.2 1.9h1m-37.5 17.3h1m0.6-0.7h1m-101.7 58.8h1m145.1-84.9h1m-138.4 83.9h1m128.5-73.8h1m-52.8 31.8h1m-63.6 32.3h1m-52.7 29.5h1m53.6-27.1h1m105.2-70.9h1m-2.6 4h1m7.5 0.2h1m-87.6 49h1m81-56.5h1m-20.3 18.6h1m-134.3 76.1h1m61.8-38h1m86.8-48h1m-123.4 67.7h1m40.3-20.3h1m21.1-12.3h1m-18.6 12.3h1m39.2-28h1m-111.7 63.2h1m152.7-93.4h1m-41.3 27h1m-20 9.4h1m20.2-11.2h1m11-4.8h1m-29.7 15.7h1m-14.9 7.6h1m60.3-37.8h1m23.8-14.7h1m-126.6 80.7h1m-46 23.8h1m132.7-74.5h1m-135.9 74.4h1m141.4-76.9h1m-121.7 67.6h1m-23.6 10h1m27.4-15.7h1m64.5-38.2h1m-69.3 40.4h1m27.2-13.9h1m35.6-27.7h1m-38.5 21.1h1m74.6-42.2h1m-25.5 10.5h1m31.3-15.2h1m18.2-17.3h1m-164.8 102h1m32.1-21.2h1m75.9-41.5h1m18.2-20.2h1m8.6-0.7h1m-42.2 26.4h1m62.2-33.5h1m-85.7 47.8h1m-34.6 18.4h1m-36.8 22.1h1m69.2-46.2h1m-44.6 27.2h1m6.9-2.4h1m70-42.8h1m19-14.1h1m7.5-0.9h1m-100.7 61.5h1m106.3-70.2h1m17.7-14.1h1m-36.8 23h1m33.7-11.9h1m-144.4 81.2h1m-16.2 8.3h1m154.8-98h1m-51.3 36.2h1m-102.5 58.9h1m59.9-37.5h1m-20.2 11.8h1m88.9-56.3h1m-10.4 4.7h1m-82.4 54.7h1m36.4-27.3h1m-42.8 30.2h1m-45.5 27.5h1m149.4-93.9h1m-81.6 53.1h1m-40.4 22h1m131-84.5h1m-83.4 57.2h1m-21.8 7.4h1m114.8-62.7h1m-73.2 35.7h1m-25.6 16.2h1m23.3-18.9h1m14-7.2h1m3.2-2.1h1m-31.9 27.8h1m84.9-58.3h1m-144.2 85.2h1m26.7-17.1h1m14.8-9.2h1m100.5-64.1h1m-85.7 58.9h1m44.1-26.8h1m-14.3 5.2h1m9.9-8h1m-118 71.7h1m-9.5 6.4h1m66-46.9h1m-54.4 38.3h1m47-29h1m-44.4 24.1h1m56.9-37.2h1m0.4 0.9h1m64.1-39.8h1m-35.7 29.3h1m-32.9 10.8h1m-57.8 36.1h1m129.1-79h1m-154.7 92h1m-0.7-2.3h1m64.6-30.7h1m-2.2-0.3h1m49-39.2h1m-67.2 46.6h1m118.3-80.9h1m-183.2 116.6h1m51.1-27.4h1m101.5-73.5h1m-142.9 91.8h1m125.3-76.8h1m-3.6 4.8h1m-109.8 64.2h1m-14 8.4h1m43.8-26.6h1m21.5-14.4h1m17.1-9.4h1m-1.6 4.2h1m12.8-15.7h1m-15.6 11.6h1m-87.3 51h1m63.2-36.4h1m63.7-44.6h1m-8.9 8.9h1m-77.6 46.1h1m-37.8 19.5h1m77.2-38.6h1m26-17h1m46.4-29.9h1m-27.2 12.3h1m-147.9 86.7h1m133.7-80.8h1m9-4.3h1m-90.7 54.5h1m127.5-77.8h1m-177.9 106h1m167.2-94.4h1m-68.2 33.4h1m-42.5 27.6h1m23.1-19.2h1m-80.8 48.3h1m115.3-72.5h1m-96.9 64.6h1m24.7-20.6h1m96-53.7h1m10.9-6.6h1m-120.9 65.9h1m83.7-51.8h1m42.7-28.2h1m-15 12.4h1m-69.7 39.8h1m6.8 0.2h1m29.4-16.2h1m-34.6 11.3h1m88.6-49.4h1m-154.8 93.4h1m116.8-65.3h1m-107.4 56.7h1m69-43.7h1m72.3-44h1m-146.7 87.9h1m76.7-40.5h1m-114.8 64h1m121.7-70.9h1m-114.3 65h1m136.3-74.7h1m-80.9 42h1m-6.7 2.6h1m22.8-15.7h1m-59.2 37.6h1m-25 15h1m38.8-23.7h1m73.5-42.9h1m-14.6 8.9h1m-50.3 27.7h1m120-80.5h1m-69 50.6h1m71.6-46.1h1m-40.4 24.7h1m-63.3 38h1m87.2-59.9h1m-61.2 43h1m-35.4 13.5h1m109.8-58.8h1m-137.9 76.2h1m-23.6 14.9h1m121.4-74.2h1m-96.5 63.5h1m63-47.7h1m-32.1 25.6h1m-70.4 39h1m158.5-91.3h1m7.1-10.6h1m-134.8 80.4h1m-11.3 7.1h1m-34.2 20.8h1m109.9-69h1m40-23.1h1m18-10.4h1m-102.5 57.5h1m15.3-4h1m35.5-18.9h1m-77.3 44.1h1m110.5-75.8h1m-155.4 96.6h1m48.7-30.8h1m14.7-5.2h1m-56.9 31.1h1m92.2-59.4h1m-42.6 26h1m21.1-11.6h1m-2.8 4.3h1m35.3-17.9h1m-115.8 61.3h1m169.7-101h1m-118.8 71.6h1m-14.5 12.6h1m25.7-23.3h1m13.5-3h1m-39.2 17.1h1m65.7-43.1h1m41.3-26h1m-67.3 47.9h1m29.8-16.1h1m-83.5 45.7h1m50.3-28h1m-21 8.5h1m-27.6 20.1h1m-4.4-2.7h1m97.7-56.3h1m-85.5 45.9h1m118.3-67.8h1m-49.2 24.5h1m35.5-14.2h1m-111.4 60.6h1m62.2-37.6h1m-3.2-2.7h1m-25.3 22.5h1m-72.2 36.9h1m-7.8 5.5h1m-9.9 4.6h1m33-15.2h1m126.2-77.5h1m-28.8 20.4h1m-18.6 0.6h1m52.9-25.9h1m-79.1 41.1h1m-62.8 39.9h1m76.4-45.3h1m-113.7 65.8h1m170.5-95.5h1m-64.2 27.6h1m28.7-17.7h1m-114.6 72.7h1m84.8-50.8h1m-29.3 13.2h1m-31.6 20h1m-52 31.6h1m83.8-51.7h1m-19.4 9.4h1m23.3-11.2h1m71.6-39.4h1m-94.8 54.1h1m97.7-66.3h1m-96.4 59.4h1m46.3-19.8h1m-120.6 63.6h1m79.1-46.1h1m35-27.4h1m-77.9 50.4h1m120.8-70.1h1m-84.3 44h1m-71.6 45.4h1m37.5-23.9h1m11.7-3h1m73.5-42.2h1m-21.8 0.1h1m60.8-25.9h1m-33 19.4h1m-114.3 65.1h1m-24.6 13h1m27.3-17.5h1m138.9-79.9h1m-79.4 47.4h1m-101.7 55.3h1m8.7-7h1m8.4-1.5h1m164.2-95.8h1m-52.5 24.2h1m-26.8 12.1h1m-87.6 52.7h1m109.5-60.4h1m-40.9 24h1m61.2-37.1h1m-52.4 27.2h1m-17.7 18.4h1m-81.1 40.5h1m177.6-102.7h1m-83.5 42.1h1m-60.2 40.7h1m37.6-24.3h1m2.6-5.1h1m21.2-9.3h1m53.3-37.8h1m10.3-1.4h1m8.4-4.3h1m-119.1 69.7h1m74.8-49.1h1m-116.8 69.2h1m55.5-35.5h1m-0.7 2.9h1m-41.7 25.8h1m125.9-74.9h1m-115.9 71.7h1m-2.7-1.5h1m-11.8 1.7h1m100-54.8h1m-114.6 64.3h1m116.9-74.9h1m-23.9 18.8h1m55.5-40.2h1m-126.7 79.2h1m1.2-2.2h1m126.6-79h1m-73.7 55.1h1m7-12.9h1m-69 44.5h1m7.9-5.7h1m70.1-39.8h1m-76.3 41.4h1m-17.2 8.2h1m-9.6 6.3h1m151.1-89.7h1m-34.4 20.7h1m-87.6 51.7h1m89.9-55.4h1m1-4h1m-49.7 35.2h1m-34.6 18h1m70.4-41.9h1m25.4-20.2h1m-65.2 45.4h1m-73.5 36h1m-13.7 10.4h1m29.1-14.2h1m112.5-75.1h1m-95.3 58.6h1m-36.6 21.4h1m143.8-80.8h1m-82 44.6h1m-14.8 11.1h1m99.2-67.6h1m-168.6 104.2h1m100.5-62.2h1m-35.9 24.3h1m-14.8 3.6h1m28.7-18.6h1m80.8-52.2h1m-118.6 73.8h1m3.1 1.9h1m63.3-43.2h1m38.2-12.7h1m-131.5 70.2h1m-20.1 8.7h1m63.8-38.3h1m80.1-45.3h1m-150.4 91h1m25.1-18.8h1m138.7-76.7h1m-147.2 81.3h1m4.4-2.6h1m133.4-78.6h1m1.6-7.6h1m-127.3 81.4h1m50.1-27.5h1m-55.6 24.4h1m1.3 2.9h1m59.9-34.5h1m20.6-18.8h1m-76.1 46.3h1m40.7-23.8h1m75.6-39.5h1m-137.7 72.4h1m32.4-15.2h1m-13.7 7.7h1m-32 15.8h1m62.8-33.4h1m-41.4 25.5h1m1.8-9.3h1m77.6-44.5h1m-50.8 30.5h1m-36.8 22.9h1m107.6-74.6h1m22.2-10.3h1m-10.2 15.2h1m-46.5 15.1h1m-118.6 74.5h1m67.2-42.4h1m11.4 0.9h1m87.7-62.5h1m-132 80.4h1m-40.2 25h1m120.5-64.8h1m-66.6 34.8h1m22.2-11.4h1m-22.1 11h1m87.5-53.7h1m-51.1 25.8h1m75.6-47h1m-20.1 20.9h1m-68.2 36.1h1m65.4-48.2h1m-93.4 66.8h1m9.4-12.1h1m50.3-25h1m-53.2 31.3h1m-28.8 9.9h1m13.2-8.4h1m31.7-14.5h1m-61.5 32.5h1m13.7-8.7h1m4.9 1.6h1m2.8-6.7h1m21.8-15.6h1m-3 0.2h1m73.9-36.2h1m-48.7 22.1h1m-90.8 52.6h1m15.3-6.4h1m-25.8 12.7h1m167.7-102.3h1m-133.4 79h1m-42.6 27.7h1m12-11.5h1m40.7-22.5h1m126.4-76.4h1m-69 36.7h1m50.7-28.7h1m-116.8 76.2h1m119.4-78.9h1m-18.5 16.9h1m-32 18.6h1m13.7-11.2h1m-99.8 61.1h1m-3.7-3.1h1m74.8-42.7h1m30.6-15.6h1m-36.2 16.3h1m-26 14.7h1m78.9-47.2h1m4.2-6.8h1m-10.4 3.1h1m-79.2 52.9h1m88-55.6h1m-31.4 12.1h1m-0.3 7.3h1m21.6-18.6h1m-6.5 9.5h1m-78.4 44.8h1m77.2-44.9h1m-90.6 51.3h1m5 0.3h1m57.2-32.4h1m6-10.8h1m-79.2 50.2h1m36.6-21.8h1m-84.1 46.9h1m64.1-35.4h1m86.9-60h1m-42.7 30.7h1m-58.3 28.8h1m74.6-45.9h1m-144.5 88.2h1m57.2-31.1h1m50.4-33.1h1m-70.8 39h1m-27.9 20.5h1m-15.5 5.5h1m138.2-78.5h1m-19.1 4.4h1m-14.1 17.3h1m-21.3 1.3h1m-85 54.6h1m99.2-61.9h1m-106.4 64.2h1m172.9-107.9h1m-165 101.4h1m143.5-85.4h1m-54.7 33.2h1m45.1-20.3h1m-131.1 67.7h1m31.6-12.6h1m97.5-66h1m-74.5 51.9h1m37.5-25.6h1m52.9-40.5h1m-25.9 17h1m-43.8 29.4h1m-86.3 48.6h1m131.3-79h1m-109.1 63.9h1m1.2 3.8h1m68.9-42.1h1m-12.4 3.9h1m-70.2 41.9h1m16.7-11.4h1m76.9-39.1h1m-120.3 64.1h1m150.4-85.1h1m-29.3 10.1h1m45.8-30.3h1m-77.6 52.6h1m3.7-8h1m-0.1 7.1h1m48.8-40.3h1m-92.2 61.5h1m21.4-21h1m-48.2 37.4h1m7.6-5.2h1m50.2-34.9h1m-59.4 36.8h1m39.4-19.9h1m33.3-23.3h1m1-4.2h1m48.6-26.9h1m-120.8 74.6h1m127.4-77.5h1m-176.6 101.2h1m13.2-10.3h1m110.5-66.4h1m-4.6 8.2h1m50.7-32.2h1m-73.3 42.8h1m53.6-41.3h1m-157.6 100.5h1m115-72.4h1m-74.9 43.8h1m117.9-65.2h1m-51.5 23.8h1m-106.2 65.4h1m128.4-69.5h1m41.1-39.8h1m-4.7 10.7h1m-71.7 39.9h1m59.7-34.4h1m-30.6 18h1m-41.6 24.1h1m23.7-14.5h1m-66 40.8h1m11.3-9.5h1m98.4-65.1h1m-102.4 62.7h1m-13.5 7.9h1m-18.8 13.3h1m-35.8 19.8h1m169.5-104h1m-27.5 13h1m-99.3 64.9h1m-7.6 3.1h1m11-6.6h1m87.9-53h1m-135.6 78.8h1m134.2-79.5h1m-38.7 29.5h1m-9 1.5h1m2.7-7.7h1m45.1-30.8h1m-41.7 28.1h1m-61.5 38.2h1m124-72.2h1m-125.8 72.2h1m124.7-78.9h1m-123.7 78.4h1m79.9-46.2h1m-84.6 45.7h1m-18.2 12.4h1m85.2-60.2h1m-59.1 39.8h1m25.9-16.6h1m95.6-63.3h1m-77.9 47.5h1m52-33.7h1m12.9-6.9h1m-131.3 82h1m142.4-79.7h1m-158 92.5h1m133.4-86.3h1m-28.2 18.1h1m41.9-21.5h1m-100.1 52.3h1m22.6-10.7h1m10.9-10.4h1m-57.1 41.4h1m86.4-60.1h1m-70.4 47.6h1m-11.2 2.3h1m17.9-10.2h1m-77.3 45h1m68.9-39.7h1m-39.6 23.2h1m27.1-12.4h1m-5.5-1.9h1m59.4-32.9h1m-72.6 41.7h1m70.8-48.4h1m64.9-33.1h1m-186.4 107.2h1m115.8-66.3h1m-82.6 45.1h1m13.3-5.7h1m133.7-86.1h1m-134.1 82.6h1m41.7-25.5h1m-23.6 12.9h1m12.3-7h1m60.5-33.2h1m26.5-26.2h1m0.9 1.6h1m-102.6 63.3h1m32.8-19.5h1m27.8-19.9h1m-61.1 39.8h1m-36.5 22.4h1m-19.5 9.4h1m107.8-69.4h1m49.1-33.9h1m-29.9 22.9h1m20.4-14.1h1m-26.5 16.9h1m-70.9 47.3h1m0.9-4.4h1m-82.3 48.2h1m58.7-35.4h1m63.7-35.2h1m-64.3 31.3h1m114.2-72.4h1m-117 74.6h1m87.4-53.4h1m-79.5 49.2h1m83.1-44.5h1m-112.6 59.7h1m62.3-34.6h1m6.3-9h1m24.3-14.8h1m-92.5 59.2h1m58-41.4h1m42.8-20.6h1m-2.4-0.5h1m-127.6 75.3h1m0.5-3.7h1m-18.3 12.9h1m139.4-84.2h1m-132.7 75.3h1m58.1-32.3h1m-41.6 24h1m-3.9 4h1m143.7-85.2h1m4-3.5h1m-82.7 45.3h1m-78.3 46.4h1m78.9-45.7h1m15.4-16.3h1m-54.2 41.5h1m120.6-79.7h1m-175.3 105.2h1m102.3-59.9h1m64-42h1m-149.5 90.5h1m124.6-72.3h1m-36.5 21.9h1m-111.3 65.4h1m95.2-54.8h1m41.9-36.6h1m-128 77.9h1m82.7-49.5h1m55.8-37.1h1m13.8 0.7h1m-98.5 55.1h1m-56 30.4h1m75.4-44h1m-30.4 25.4h1m48.1-31.6h1m30-23.9h1m17.8-5.8h1m-67.1 38.8h1m-27.8 16.3h1m-77.2 42.4h1m169.8-101.8h1m-163 94h1m153.8-91.4h1m15.6-13.7h1m-35.1 25.7h1m-132.2 80h1m92.9-55.8h1m-40.3 22.4h1m102.1-71.2h1m-153.4 101.4h1m27.5-17h1m77.1-49.7h1m-52 30.4h1m25.8-13.7h1m-104.7 59.7h1m142.2-83.4h1m-21.8 11.2h1m-123.4 73.4h1m22.1-10.6h1m148.2-98.4h1m-38.1 28.4h1m22.2-15.5h1m-135.2 79.2h1m70.2-43.9h1m55.1-34h1m-58.8 38.2h1m0.1 2.6h1m15-13.2h1m4.2-6.9h1m-91 57.7h1m95.3-60.8h1m32.5-19.2h1m-99.8 65.6h1m26.4-16.9h1m-64.3 34.5h1m27.4-11.8h1m99.8-61h1m0.2-5.8h1m-74.8 44.9h1m-68.5 39.1h1m56.9-32.7h1m48.5-26.7h1m20.6-14.8h1m-110.6 65.6h1m73.6-42.4h1m-22.9 13h1m6.4-9.8h1m61-31.7h1m31-27.7h1m-57.5 33.2h1m-13.4 12.7h1m5.6-9h1m-80.1 51.4h1m77-52.6h1m-64.6 41.7h1m105.2-63.2h1m-128.3 81.2h1m50.9-31.2h1m16.3-8.2h1m36.1-29.3h1m-32.5 21.4h1m-104.9 63.2h1m21.4-10.8h1m56.8-33.7h1m52.3-36.4h1m25.8-19.7h1m-28.4 17.2h1m-81.6 55.5h1m37.4-24.8h1m-100.3 56.7h1m130.6-73.9h1m-121.5 64.9h1m46.7-26h1m-54.8 31.5h1m168.4-102.9h1m-68.9 36.8h1m-56.4 42.4h1m132.1-81.2h1m-3.6-4.9h1m-124.7 78h1m81.7-48.9h1m-45.4 30.8h1m5.6-8.4h1m67.7-46.7h1m-139.5 88.3h1m58.4-33.3h1m11.8-7.5h1m-37 19.4h1m66.7-42.3h1m-70.7 42.9h1m-67.7 41.7h1m154-88.9h1m-93.7 56.2h1m94.6-67.8h1m-156.5 98.5h1m4.8-1.8h1m-6.7 2.1h1m57.1-33.4h1m82.3-48.4h1m-9.3 6.2h1m11.9-11.7h1m-58.7 36h1m52.7-36.7h1m40.1-17.4h1m-45 21.5h1m-16.3 6.4h1m-16.2 9.8h1m-90.1 53.7h1m68-44.7h1m-23.8 16.7h1m40.2-20.4h1m-86.9 46.3h1m57.2-28.8h1m53.8-36.5h1m-105.4 65h1m143.7-80.4h1m-151.7 82.2h1m22.9-14.8h1m36.2-22.1h1m87.9-49.9h1m-133.5 76h1m12.6-2.2h1m118.4-73.7h1m-19.7 6.6h1m-96.2 58.9h1m-44 25.7h1m46.3-27.3h1m43.2-29.9h1m-101.5 60h1m89.7-52h1m51.8-32.3h1m3.8-4.3h1m-35.3 17.8h1m46.6-20.1h1m-58 32.2h1m1.6-1.8h1m13.2-14h1m-47.4 35.8h1m74.9-54.1h1m-35.9 20.1h1m-125.9 78.9h1m11.9-6.3h1m120.2-79.3h1m-134.7 85.9h1m13.3-9.8h1m139.5-77.1h1m-72.1 42.3h1m-48.1 22.4h1m21.2-10.9h1m67.2-48.2h1m25.9-6.5h1m-74.9 42.9h1m23.4-18.9h1m51.1-31h1m25.9-9.4h1m-85.8 45.3h1m-69.7 40.9h1m-19 12.5h1m34.4-23.7h1m5.5-1h1m-32.1 17.2h1m95.5-57.6h1m28.7-18.1h1m-72.2 43.9h1m-54.3 28.1h1m153.4-87.7h1m-72 36.2h1m-16.7 10.2h1m-40.6 26h1m77.7-40.8h1m-75 35.5h1m11.8-5.3h1m89.1-56.6h1m-121.2 78.2h1m-41.5 22.4h1m128.5-76.8h1m-78.4 43.2h1m-40.5 25.7h1m-2.5-1.9h1m66.2-39.7h1m60.2-30.1h1m-43.9 21h1m-45 30h1m-33 17.5h1m98.8-59.2h1m-60.8 35.1h1m121.7-71.9h1m-183.4 106.3h1m174.8-113.5h1m-40.8 36.5h1m9.9-15.5h1m-84.3 56.9h1m-40 23.5h1m156-92.9h1m-82.9 50.2h1m-82.4 41.3h1m52.9-26.6h1m-0.8-7.2h1m-22.8 17.6h1m-23.5 9.7h1m100.3-61.6h1m49.3-31.3h1m-60.6 34.2h1m-33.3 25.2h1m65.1-43.3h1m-87.1 59.9h1m-23.4 11.9h1m78.5-46.9h1m35.2-19.6h1m-15.3-1.7h1m-107.7 72.1h1m77.6-49.6h1m-98.1 57h1m80.6-51h1m-67.3 41.8h1m35-25h1m-76.5 49.2h1m185.3-113h1m-119.6 75.6h1m38.6-31.9h1m57.1-31.3h1m-51 29.5h1m-7.9 4.6h1m-2.8 8.1h1m39.8-31.1h1m-46 23h1m29.6-14.8h1m-41.6 24.6h1m-19.8 9.1h1m109.5-69.5h1m-114.7 76.6h1m1.7-6.1h1m48.3-27.3h1m-45.2 28.5h1m-28.5 13.7h1m110-65.1h1m-143 82.5h1m66.2-39.9h1m74.9-46.7h1m-61.5 41.5h1m11.3-8.1h1m-73.7 44.8h1m17.9-15.1h1m76.6-48.6h1m-105.2 67.5h1m19.1-15.1h1m81.7-47.2h1m-101.3 58.7h1m139.6-86.6h1m-122 74.2h1m66.9-38.6h1m-112.5 65.5h1m92.9-56.6h1m4.4-2.8h1m69.9-42.8h1m-171.9 104h1m114.8-65.9h1m27.3-18.1h1m-114.7 61.8h1m60.5-37.1h1m-51.5 32.6h1m86.4-46.4h1m45.4-35.6h1m-106.9 70.8h1m55-38.4h1m-49.1 25.3h1m57.8-26.6h1m-58.9 29.6h1m34.3-27h1m-31.4 25.1h1m9.7-7.8h1m-1.1 4.2h1m74.4-47.7h1m-0.9 2.8h1m-126.6 72.7h1m105.4-64.6h1m-153.7 90.9h1m-1.7-2h1m135.8-78.5h1m-95.5 57.5h1m66.5-41.5h1m-75.2 44.9h1m141.8-87.8h1m-156.2 91.1h1m-26.9 18h1m130.8-84.2h1m-61.1 42.6h1m-49.3 25.8h1m-1.6 4.6h1m-21.3 10.3h1m-1.9 1.4h1m23.4-17.1h1m98-56h1m-93.9 55.9h1m64-42.5h1m61.2-42.7h1m-112.8 75.7h1m-30.6 15.1h1m4.2 0h1m125.7-82.1h1m-60.2 39h1m52.5-27.1h1m-115.5 66.5h1m85.3-59.7h1m-115.1 72.1h1m-3.6 2h1m34.5-20.6h1m-34.1 18.7h1m36.5-21.8h1m2.4 0h1m29.8-19.7h1m52.1-32h1m-87.9 54.3h1m-11.3 6.1h1m147.7-97.5h1m-81.9 59.3h1m-103.6 58h1m158.3-99.7h1m-48.7 32.3h1m45.1-34.4h1m-29.9 26.3h1m-96.9 56.5h1m-7.8 1.7h1m91.7-56h1m-67.4 41.4h1m101.6-65.8h1m-47.3 26.2h1m62-28.1h1m-87.3 49h1m63.4-45.3h1m20.8-2.4h1m-102.5 59.4h1m90.6-64.1h1m-148.2 92.4h1m-10.4 5.9h1m38.4-21.1h1m92.9-61.4h1m15-3.1h1m-65.5 30.5h1m2.1 6.8h1m-92.7 51.8h1m79.6-46.2h1m82.6-50h1m-12.3 7.5h1m-54.4 32.7h1m58.6-40.4h1m-139.4 83.5h1m98.4-64.4h1m-38.5 32.4h1m83-59.5h1m-59.5 37.1h1m53.2-30.6h1m-3.3-3.1h1m-1.7 11.4h1m2-2.3h1m-130.1 71.4h1m148.2-94.1h1m-53.1 33h1m-52.9 35.1h1m-65 34.7h1m124.5-66.9h1m-33.7 17.9h1m-70.3 42.1h1m140.2-93.5h1m-45.2 32.7h1m-29 14.8h1m-24.1 12.3h1m-17.9 9h1m92.3-49.8h1m-163.5 94.1h1m117-67.5h1m55.1-37.6h1m-12.1 14.2h1m-11.5-2.3h1m7.8-3.7h1m-55.5 36.1h1m-24.8 10.3h1m3.3 0.1h1m-42.7 26.4h1m-18.5 5.4h1m7.9-1.1h1m56.8-41.6h1m0 7.9h1m5-5.1h1m-14.4 2.2h1m-52.9 34.6h1m23.2-14.7h1m77.6-45h1m-76.9 40.3h1m-44.2 31.4h1m107.9-64.7h1m-120.3 68.6h1m-2.5 0.5h1m97-56.3h1m-102.7 59.1h1m92.4-59h1m-88 53.5h1m113.2-63.8h1m45.1-33.4h1m-154.3 92.6h1m85.8-49.1h1m-46.2 29.5h1m101.4-65.6h1m-52.1 35h1m37.7-34.2h1m-73.1 44.7h1m-28.4 20.5h1m90.2-56.5h1m42.7-23.2h1m-23.9 7.7h1m-60.5 41.1h1m28.9-20.2h1m-96.5 59.8h1m110-67.8h1m20-9.1h1m-44.5 21.7h1m-92.5 57.1h1m53-33.5h1m43.7-23.3h1m-67.7 41.8h1m-13 6.6h1m87.6-48.7h1m-55.6 23.7h1m-20.2 13.2h1m25.4-13.8h1m-83.5 47.7h1m-6.3 4h1m20-14.6h1m80.6-43.9h1m10.7-5.4h1m-84.8 47h1m-16.6 7.2h1m78.8-47.9h1m-100.3 58.1h1m145.1-92.3h1m10.8 3.2h1m7.5-3.4h1m-58.5 34.9h1m-14.1-3.2h1m60.7-37.2h1m-86 60.5h1m43.9-28.6h1m-60.3 33.2h1m95.3-57.3h1m5.9-0.7h1m-95.1 57.8h1m7.7-12.9h1m2.2-5.2h1m65.5-40h1m16.3-5.2h1m-157.1 95.4h1m150.4-89.3h1m17-14.2h1m-87.7 55h1m-17.7 5.5h1m-29 18.7h1m115.5-69.4h1m-98.4 57.2h1m-1.2 4.4h1m-32.9 16.2h1m-29.4 14.4h1m76.9-40.3h1m-64.5 34h1m-13.1 7.8h1m131.2-85h1m-72.1 51.1h1m-68.3 36h1m108.4-65h1m-95.8 58.5h1m46.3-31.9h1m117.3-69.7h1m-148.6 86.5h1m-33.9 21.7h1m27.2-16.1h1m-24.2 13.1h1m50.2-25.4h1m45-33.2h1m9.3-4.3h1m8.1-3.8h1m56.4-34.3h1m-122.2 75.3h1m-16 5.8h1m106.3-62.1h1m-76.6 38.5h1m-22.3 12.8h1m19.7-9.9h1m62.6-38.3h1m-49.9 28h1m-8.4 5.8h1m-61.6 37h1m20.2-12.6h1m4.8-2.8h1m113.7-69.1h1m-159.8 94h1m139.8-79h1m-34 18.2h1m-13.2 2.2h1m-93.4 58.4h1m135.3-80.3h1m-69.6 38.3h1m-23.8 17.8h1m68-49.2h1m-69 44.1h1m129.2-84.6h1m-94.4 62h1m66.5-39.6h1m4.3-5.9h1m-3.7 7.1h1m-110.5 64.2h1m-44.5 24.9h1m8.2-4.6h1m108-74.3h1m-96.6 62.5h1m148.4-93.1h1m-74.1 54.7h1m6.3-9.5h1m53.9-30.1h1m-165.1 94.9h1m159.4-88.2h1m-2.4-3.4h1m18.6-13.6h1m-89.5 47.8h1m-59.5 38h1m100.3-57.9h1m22.8-19.2h1m-141.5 87.1h1m36-22.9h1m-13.8 9.1h1m119.5-74.5h1m-11.1 13.1h1m-73.7 34.4h1m30.9-17.1h1m57.5-36.3h1m2.1 3h1m-23.6 14h1m-31.5 22.6h1m22.8-20.7h1m-71.1 40.9h1m3.6-2.8h1m-8.5 6.6h1m-31.3 20.2h1m-11.7 4.7h1m-6.5-0.1h1m0.3 1.4h1m140.5-87.9h1m-139.4 87.3h1m112.7-74.7h1m-54.7 36.1h1m-22.9 18.6h1m-31 12.8h1m38-18.3h1m73.6-48.8h1m-85 56.5h1m-37.3 19.3h1m72.8-50.4h1m-28.4 20.8h1m24.1-12h1m-68.9 34.7h1m19.4-10.8h1m-16.8 13.7h1m23.3-16.7h1m-8.3 2.1h1m119.4-73.4h1m-76.4 48.9h1m-42.5 19.8h1m-10.2 6h1m59.9-39.3h1m52.6-28h1m-102.8 63.4h1m48.4-24.8h1m-35.8 19.7h1m-62.7 32.4h1m112.9-66.9h1m-64.3 38.3h1m-51.7 30.9h1m141.4-88.9h1m-86.6 51.7h1m22.7-16.7h1m-71 47.7h1m82.9-49.4h1m60.2-36.2h1m-59.4 32.1h1m-32 15.2h1m72.5-39.5h1m-65.2 33.2h1m-33.6 20h1m-54.1 35.5h1m128.5-78.9h1m-126.6 75.1h1m35.4-17.7h1m61.8-43.1h1m12.4-1.9h1m32.4-30.9h1m-43.6 30.4h1m-70.4 41.9h1m137.2-85.5h1m-180.6 111.7h1m57.1-31.1h1m80.9-46h1m-91.7 51h1m-54.1 28.4h1m165.8-97.7h1m-111.9 66.2h1m92.2-54.4h1m-144.5 80.6h1m96.8-52.9h1m46.7-28.9h1m5-4.2h1m9.5-7.8h1m-81.9 52.2h1m-80.1 42.8h1m126.4-78.1h1m-91.6 53.7h1m136.1-85.3h1m-44.3 26.5h1m33.6-19.4h1m-139.4 88h1m66.9-45.4h1m14.5-6.2h1m-13.1 4.3h1m-1.1 6.6h1m-66.8 33.4h1m118.4-64.5h1m-26 12.4h1m-93.7 54.8h1m41.3-31.1h1m-6.7 6.5h1m98.1-58.9h1m-135 82.7h1m20.6-14.9h1m17.2-5.4h1m-56.6 30.4h1m147.4-94.2h1m-56 40.7h1m-56.9 27h1m-36 24.9h1m149.4-87.6h1m-69.2 32.8h1m-59 42.2h1m-10-1.2h1m-8.8 11.2h1m41.3-30.6h1m58.8-30.1h1m-105.2 60.9h1m15.4-12h1m104.6-58.4h1m-157.9 87.1h1m173.8-100.4h1m-129.8 77h1m26.5-23.3h1m78.1-46.4h1m-10.1 8.6h1m35.3-16.6h1m-142.1 83.2h1m-38.4 18.3h1m93.4-62.3h1m-96.9 62h1m138.7-85.5h1m-62.8 42.9h1m-46.1 26.7h1m103.3-70.2h1m-109.3 69.5h1m151.4-89.3h1m-94.1 56.4h1m50.9-30.8h1m-42.4 23.4h1m84.4-54.9h1m-153.5 92.4h1m96.5-55.6h1m26.7-19.4h1m-69.8 39.8h1m33.8-12.6h1m-20.6 11.6h1m-23.8 7.9h1m-82.9 48.8h1m19-12.2h1m24.3-16.6h1m68.5-40.6h1m62.8-41.5h1m-85.6 57.1h1m63.5-41.3h1m-37.5 22.2h1m-85.9 55.5h1m103.4-69.1h1m-8.5 12.9h1m-9.7 3.6h1m-49.1 26h1m71.3-45.3h1m-16.1 3.8h1m-94.7 60.6h1m103.3-58h1m-97.8 56.2h1m-29 15.4h1m33.2-18.5h1m-1.8-0.1h1m-50.8 27.6h1m180.2-106.9h1m-139.4 85.1h1m29.4-23.2h1m109.3-70.3h1m-106.2 72.3h1m18.5-15.6h1m51.6-28.6h1m-140.2 81.7h1m77.4-47.6h1m-25.4 20.8h1m12.3-17.8h1m-16.7 12.9h1m90.5-56.9h1m26.6-8.5h1m-17.9 2h1m-37.4 26.7h1m-86.8 47.1h1m61.8-29h1m-39.4 21.5h1m-68.8 36h1m161-100.4h1m-117.4 69.9h1m134-74.4h1m-119.8 67.7h1m-39.4 21.8h1m42.2-20h1m-15.8 7.2h1m-46.3 25.6h1m132-76.8h1m-109.3 61.8h1m35.1-24.6h1m27.8-15.2h1m56.6-34.2h1m-34.1 23.4h1m38.1-24.7h1m-31.8 21.9h1m22.9-18.3h1m-23.1 10.7h1m-82.8 50.7h1m-39.8 20.3h1m22-11.9h1m36.3-24h1m-1.8 6.1h1m-16 9.1h1m16-12.7h1m81.9-49.9h1m-75.2 39h1m60.1-38.4h1m-100.5 65.9h1m26.8-22.1h1m70.7-32.3h1m14.9-15.5h1m-17.6 16.6h1m15-12h1m-17.8 11.8h1m-37.7 16.5h1m-17.1 6.6h1m55.7-28.9h1m-55.7 36.7h1m-86.1 44h1m26.3-17.7h1m-13.5 9.9h1m20.8-10.4h1m74.2-47.2h1m-74 42.2h1m26.5-19.1h1m-15.1 10.9h1m110.3-71.6h1m-42.9 27.6h1m54.3-33.9h1m-146.9 94.3h1m148.4-91.3h1m-40.2 23.2h1m-27.6 15.1h1m-76.5 49.7h1m48.3-37.4h1m39.9-22.2h1m-3.8 8.9h1m-115.1 61.5h1m83.1-51.5h1m-16.1 14.5h1m-29.5 11.6h1m-53 31h1m48.8-26.5h1m31.8-22.8h1m95.5-59.4h1m-60.9 45.3h1m45.7-39.4h1m-101.1 61.7h1m-9.9 10.4h1m-41.1 19.6h1m-18.8 14.8h1m19.7-12.5h1m117-66.8h1m-54.8 25.6h1m0.4 4.3h1m86.5-59.4h1m-55.8 36.3h1m16-4.6h1m-74.7 38.5h1m116.7-72h1m-0.1-0.1h1m-134.9 84.2h1m65.7-46.4h1m53-30h1m-1.9-3.7h1m-159.6 100h1m17.1-9.7h1m75.6-50h1m-93.1 55.7h1m5.4-3.6h1m65.4-32.4h1m66.6-44.3h1m-91.9 54.3h1m1.1-5.3h1m64-39.8h1m31.7-16.2h1m-58.2 38.1h1m-62.6 36.6h1m92.1-58.4h1m-92.3 56.9h1m66.2-42.2h1m-104.7 59.8h1m49.7-28.1h1m65.9-34.3h1m-14.6 3.9h1m-55 28.9h1m30-13.1h1m74.3-57.1h1m-75.2 56.9h1m68.8-44h1m-115 65.1h1m93.2-63.1h1m-3.3 8.2h1m-142.3 84.6h1m93.4-61.4h1m-94.9 60.9h1m23.1-15.2h1m41.5-18.7h1m98.8-58.2h1m-75 37.3h1m-56.1 34.6h1m127.2-77.2h1m-137.8 77.9h1m88.1-44.8h1m32.4-29.9h1m-121 74.6h1m81.6-47.1h1m-92.7 54.7h1m-23.4 12.6h1m52.6-32.5h1m59.1-30.1h1m57.2-40.4h1m-145.2 88.2h1m38.9-20.2h1m59.6-35.9h1m-7-5.4h1m18.5-13.9h1m-39.1 26h1m55.9-33.5h1m-100.3 64.7h1m-60.4 32.6h1m82.8-46.9h1m-80.9 42.9h1m-2.9 1.7h1m-1.2 1.4h1m78.2-45.6h1m-22.9 16.6h1m98.4-70.8h1m-162.8 103h1m70.9-42.5h1m-32 17.6h1m89-49.6h1m-102 55h1m68.4-44.3h1m18.4-0.8h1m-1.4-8h1m-76.8 50.5h1m-34.6 17.5h1m63.8-41.4h1m-34.9 24.9h1m36.5-27.2h1m-13.2 12.8h1m-4.8 0h1m-3.1-3.8h1m35.4-14.1h1m24.7-24.4h1m-64.1 45.8h1m28.2-20.9h1m-67.4 38.3h1m41.9-18.8h1m-5.5-2.1h1m-9.6 7.3h1m79.2-55h1m-6.6 6.8h1m-87 56.6h1m102.7-73.6h1m-23.3 17.5h1m21.8-15.3h1m-48.8 28.8h1m-23.4 14.4h1m33.1-19.3h1m20.2-9.6h1m-18 9.6h1m-64 35.6h1m62.9-40.3h1m-6.1 2.9h1m-40.7 32.2h1m70.8-51.6h1m-10.4 11h1m-59.2 31.5h1m-62.2 39h1m2-3h1m122.3-73.4h1m-84.6 55.9h1m-36.7 13.4h1m144-88.3h1m-18.4 10h1m-51.4 34.1h1m48.5-31.4h1m39.7-27.7h1m-84.8 52.5h1m-9.1 13.8h1m68.9-45.8h1m-42.7 27.5h1m46.4-29.4h1m3.1-0.2h1m-74.4 37.6h1m-88.2 53.6h1m12.4-9h1m112.5-68.5h1m12.1-10.1h1m-88.3 58.1h1m17.2-14.3h1m-13.2 5.7h1m104.3-65.4h1m-62.5 37.9h1m59.3-28.5h1m-22.9 14.3h1m-121.6 65.7h1m55.4-30.7h1m-84.1 47.5h1m119-64.5h1m-54.9 23.4h1m71.7-44.4h1m-7.9 11h1m-48 19.4h1m80.4-46.8h1m-45 29.4h1m-54.1 32.5h1m87.6-48.8h1m-107.9 63.8h1m0.3-7.8h1m114.7-70.3h1m-11.7 11.9h1m-48.3 30h1m57.2-43.9h1m-163.8 100.5h1m58-32h1m64.9-44.6h1m6.5 3.8h1m39.5-27.1h1m-10 10.9h1m-85.7 40.8h1m-5.7 2.8h1m41.1-27.1h1m-35 26.4h1m56.7-41.1h1m-106.6 72h1m133.7-87.1h1m0.8 5.7h1m-90.9 51.6h1m68.3-47.1h1m-14.5 13.4h1m-90.4 49.9h1m7.4 1.9h1m38.2-27.7h1m24.7-21.9h1m-20.8 16.2h1m-72.7 45.9h1m142.6-87.8h1m-116.7 69.9h1m110-69.3h1m-56.8 33.8h1m-62.6 43.8h1m90.5-52.7h1m-96 50.8h1m108.3-65.7h1m-47.8 25.1h1m-84.3 51.5h1m113.5-63.3h1m6.1-11.4h1m-92.2 60h1m69.1-39.9h1m-138.2 77.4h1m37.3-20.5h1m-32.4 15.2h1m36.2-22h1m44.5-30.4h1m-22.6 14.5h1m39.1-22.5h1m36-14.3h1m-98.1 53.3h1m-8 2.7h1m-13.9 11.7h1m111.9-69.9h1m-20.4 5h1m5.2-6.3h1m16.7-5h1m-15.2 15.4h1m14.7-8.4h1m14.4-19h1m-38 29.7h1m-124.3 70.7h1m74.8-44h1m79.4-49.5h1m-43.4 26.4h1m41-21.2h1m-147.8 82.4h1m161.9-98.4h1m-121.9 76.7h1m71.8-47.1h1m-54.2 28.9h1m-71.1 45.9h1m66.4-39.9h1m-29.4 12.4h1m-27.4 15.9h1m166.7-98.6h1m-73.1 45.5h1m2.8-3.9h1m-18.7 9h1m-90.9 56.9h1m1.5-1.8h1m59.2-33.8h1m47.9-26.8h1m-65.3 33.5h1m-49.1 27.1h1m121-68.4h1m-1.5 2.3h1m-120.4 65.7h1m-1.4-0.6h1m91.5-56.2h1m38.3-17.3h1m-108.6 60.4h1m-1.8-3.3h1m112.1-67h1m-143.4 86.8h1m146.5-84.3h1m11.7-16.1h1m18.9-11.7h1m-180.8 113.1h1m23.9-17.1h1m29.3-13.4h1m-4.1 1.2h1m85.7-55.3h1m-54 37h1m43-31.1h1m-13 13.3h1m34.8-21h1m-132.4 74.2h1m151.1-98.2h1m-72.2 52.2h1m-1.8-4.1h1m-1.2-2.1h1m-73.7 45h1m-4.9 4.8h1m125.4-86.1h1m15.2-1.1h1m-115.5 70.6h1m127.9-78.1h1m-25.9 10.8h1m-80 52.1h1m-49.8 29.6h1m-26.8 15.3h1m14.5-8.3h1m8.1-5h1m114.6-70.6h1m-132.6 79h1m87.7-57.7h1m-5.3 7h1m55.7-31.2h1m-41.6 15.1h1m1.9-0.3h1m-103.9 65.5h1m89.4-52.1h1m-1 1.9h1m-101.9 57.7h1m39.5-24h1m4.2-3.7h1m106.4-61.4h1m-149.6 84.6h1m71.4-44.2h1m14.1-7.5h1m-71.7 39.6h1m13.1-1.2h1m100.8-66.5h1m8.1-3.3h1m-20.2 10.1h1m-86.8 53.2h1m55.8-29.4h1m-103.9 55.7h1m163.8-97.7h1m-41 18.6h1m-48 37.5h1m-11.4 4.2h1m-12.5 3.8h1m11.5-10.4h1m95-49.7h1m17.8-17.1h1m-66.6 38.8h1m-102.9 60.8h1m99.8-61.2h1m-66 40.1h1m-22.8 12.7h1m120-66.9h1m-17.4 9.3h1m3.6-2.8h1m-80.3 46.4h1m-15.3 7.3h1m45.9-27.3h1m-10.8 4.3h1m13.9-11.6h1m78.9-51.6h1m-3.1 4.6h1m-162 98.3h1m72.7-42.8h1m20.4-14.6h1m51.3-29.6h1m-79 52.3h1m100-64.6h1m-38.9 24.7h1m-88.5 54.5h1m113.9-76.8h1m-42.3 24.9h1m-80.9 51.1h1m-43.7 22.8h1m12.5-8.3h1m33.6-17.4h1m62.1-38.8h1m10.6-3.2h1m-71 38.4h1m30.2-16.8h1m-38.6 22.1h1m103.7-71.1h1m-83.9 54.7h1m58-33.7h1m-89.4 50.1h1m40.2-24.8h1m-62.2 40.5h1m127.5-79h1m-69 47.5h1m-83.4 43.1h1m4.4-2h1m79.7-49.3h1m9.9-1.6h1m-23.8 10.2h1m-4.1 4.8h1m-24.4 12.5h1m94.4-61.5h1m-89.9 54h1m17.6-11.3h1m63.9-42.8h1m4.2-3.7h1m-150.7 95.9h1m104.7-63.4h1m32.4-21.3h1m-26.6 11.5h1m-6.9 6.1h1m69-37.3h1m-175.5 100.3h1m124.1-72.5h1m-116.6 68.8h1m16.1-10h1m152.4-88.8h1m-12.1-0.6h1m-49.7 29.3h1m-125.3 77.8h1m56-32.8h1m-0.9-2.6h1m-42 23.6h1m-5.6 2.8h1m30-18.9h1m-3.5 5h1m17.6-8.6h1m90.6-53.9h1m-32.3 13.1h1m59.1-42.4h1m-80.1 55.8h1m38.3-22.5h1m18.2-11.5h1m-115.9 63.9h1m58.2-37h1m-29.5 21.2h1m109.7-66.6h1m-179 107.2h1m79.9-49.9h1m21.2-16.1h1m-44 27.6h1m-66.4 40.3h1m180.2-105.6h1m-135.8 76.6h1m68.9-35.9h1m-72.9 39h1m-47.7 27.7h1m28.1-18.1h1m142.2-84.5h1m-155.1 89.9h1m77.4-40h1m33.1-29.8h1m-110.2 68h1m135.4-84h1m-17.8 17.4h1m21-15.1h1m-101.8 63.8h1m-63.5 33.4h1m120.5-69h1m-85.1 48.1h1m18.9-14.9h1m86.9-50.2h1m-76.2 46.5h1m-13.1 5.4h1m65.8-41.4h1m3.4-0.6h1m17.4-15.3h1m-11.9 11.8h1m-25.8 17.8h1m22.9-16.9h1m9.3-5.2h1m-100.6 56.1h1m87.2-54h1m-108.8 66.8h1m57.1-40h1m0.7 0.9h1m-49.4 28.7h1m135.4-85.3h1m-144.4 91.7h1m57.3-33.2h1m45.9-34.9h1m-39.3 25h1m-80.6 51.3h1m-10.4 3.9h1m119.2-71.5h1m-94.8 58.2h1m15.7-13.5h1m88-53.7h1m26.5-11.5h1m-74.9 47.9h1m46.3-37.5h1m-117.7 73.4h1m142.4-82.1h1m-38.4 18.4h1m-62.3 34h1m27.9-16.5h1m-30.6 19.2h1m-58.9 35.2h1m60.9-32.9h1m-15.8 3.8h1m77.8-48h1m1.4 4.2h1m-135.7 77h1m153-90.9h1m4.6-1.6h1m10.2-7.6h1m-12.3 4.9h1m-7.3 3.9h1m-61.2 35.3h1m86.7-57.4h1m-81.3 53.4h1m2.7-4.9h1m-0.5-3.1h1m-94.4 63h1m-0.8-2.7h1m71.2-46.6h1m27.1-9.9h1m-57.2 31.1h1m106.6-70.8h1m-114.7 76.6h1m-25.1 15.3h1m12.2-8.4h1m105.8-70h1m-85.9 50.3h1m120.4-71.4h1m-5.8 7.3h1m-117.2 71.7h1m110.6-74.6h1m-46.7 30.2h1m10.7-3.8h1m27.8-23.7h1m-4.8 5.9h1m-124 71.3h1m69-39.5h1m19.4-18.7h1m26.1-8.3h1m-141 81.4h1m84.3-51.1h1m74.6-44.6h1m-184.9 110.2h1m-1.8 1.8h1m122.3-75.6h1m-100.8 63.2h1m120.8-79.4h1m-113.6 74.7h1m130.1-80.8h1m-14.9 11.3h1m-13.7 5.3h1m-110.2 64.8h1m89-61.2h1m-18.5 15.1h1m35.1-16.4h1m-74.9 45.4h1m62.5-45.6h1m-9.6 12.3h1m-74.8 41.8h1m57.8-36h1m5.3-7.1h1m-60.2 37.5h1m105.1-69.2h1m-12.5 12.8h1m-109.1 67.9h1m35.2-20.5h1m-43.7 18.9h1m148.2-90.2h1m-110.8 70.9h1m47-29.4h1m28-15h1m-43.8 26.3h1m-102.8 56h1m177.5-110.5h1m-87 57.1h1m-88.3 49.9h1m168.1-107.7h1m-12.7 12h1m-27.6 22.8h1m-31.9 16h1m-40.1 22.2h1m39.8-19.8h1m-75.7 37.8h1m-17 12h1m47.7-32h1m-38.2 22.1h1m73.1-38.5h1m3.6-11.1h1m38.6-17.6h1m-131 74h1m121.3-71.4h1m-79.8 48.5h1m-22.6 12.7h1m-34.8 20.6h1m39.1-27.5h1m57.5-31.1h1m22.7-18.5h1m-128.8 78.9h1m154.2-91.8h1m-86.1 47.7h1m59.4-35.2h1m21.1-8.3h1m-99 56.1h1m-31.9 16.1h1m46.6-28.6h1m-23.3 14.5h1m132.4-77.8h1m-41 19.4h1m-85.6 52.7h1m-44.2 29.2h1m99-59.5h1m-48.2 30.4h1m98.1-70.2h1m-71.5 54.5h1m-72.2 39.5h1m44.7-33.4h1m-35.2 24h1m-26 15.6h1m-12.2 5.8h1m26-16.8h1m126.5-75.9h1m11.2-15.2h1m-0.8 0.9h1m-126.4 80.4h1m53.4-34.6h1m-9.4 8.5h1m-30.1 22h1m0-7h1m53.3-33.3h1m-31.2 17.2h1m3.1 6.6h1m54-35.9h1m-129.6 76.2h1m116.5-70.1h1m51.9-37h1m-61.6 37.2h1m-94.3 60.2h1m127.8-80.7h1m-158 96.1h1m125.2-70.4h1m-56.6 31.4h1m69.4-41h1m-104.3 59.4h1m141.8-87h1m-50 23.1h1m-41.2 33.8h1m73.8-43.3h1m-126.4 70.8h1m12.2-6.3h1m-6 1.8h1m64.2-36.5h1m6.1-6.3h1m51.4-31.2h1m-138.5 83.2h1m148.4-97.7h1m-180.2 113.1h1m147.7-88.3h1m-13.7 6.3h1m-19.6 4.8h1m-84.6 56.1h1m-22.3 13.4h1m39.3-26.2h1m78.4-46.1h1m12-14.1h1m-22.7 20.6h1m-34.8 15.4h1m-89.3 57.2h1m92.5-54.7h1m23.8-13.7h1m-15.9-0.6h1m35-20.1h1m18.7-7h1m-100.6 58h1m-58 37h1m120.1-70.7h1m-0.3-2.9h1m-24.5 9.2h1m-66.2 41.2h1m31.9-19.3h1m48.6-26.1h1m-37 16h1m8-3.7h1m-70.3 41.6h1m129.7-78.7h1m-126.5 77.2h1m56.8-40.1h1m-38.1 31.6h1m-57.1 29.6h1m180.9-116.3h1m-150.2 99.3h1m110.2-67.7h1m22.3-15h1m-63.7 42h1m32.3-27.6h1m42.8-30.5h1m-7.4 7.3h1m-146 91h1m99.2-59.3h1m-18.3 15.2h1m-65.2 34.1h1m-19.3 9.1h1m83.8-46.5h1m-92.5 51.7h1m152.9-95.9h1m-107.1 63.1h1m39.3-25.2h1m73.6-46h1m-173.6 107.4h1m33.6-16.3h1m24.3-17h1m-53 30.3h1m-18.8 11.8h1m118.1-73.3h1m-81.4 49h1m85.2-54h1m-30 21.5h1m-49.4 28h1m-17.9 12.2h1m113-67.9h1m20.9-12.2h1m-80.8 44.5h1m-74.1 43.7h1m24.7-13.9h1m13.4-7.3h1m61.2-40.8h1m-67.5 41.5h1m7.3-4.9h1m74.1-45.6h1m-69.2 35.7h1m70.8-45.8h1m32.8-13.3h1m-130.1 79.8h1m139-87.2h1m-184.9 110.2h1m45.4-29.4h1m34-16.6h1m12.5-7.2h1m43.2-34.3h1m-2.5 2.4h1m17.2-6h1m-32 18.5h1m-126.2 72.4h1m149.2-90.1h1m-131.8 77.6h1m43-20.3h1m-27.1 11.5h1m28.9-21.8h1m115.3-67.5h1m-73.3 43.2h1m36.1-16.8h1m7.7-2.2h1m-83.2 43.3h1m52.9-39.2h1m-90.6 60.2h1m98.7-66h1m18 1h1m-45.5 14.6h1m-68.7 49.6h1m38.2-22.8h1m-7.1-1h1m74.5-47.9h1m-133.7 79.6h1m19.6-8.7h1m45.2-27.8h1m29.5-19h1m64.6-35.1h1m-133.2 76.8h1m-54.9 30.5h1m155.1-89.7h1m-143.4 80.6h1m132.5-78.5h1m-91.5 54.8h1m83.8-58.2h1m6.2 5.1h1m-2.4 0.7h1m-108.2 65.8h1m-25.3 10.3h1m104.9-60.8h1m64.1-46.9h1m-63.3 40.1h1m-45.5 28.8h1m70.9-47.5h1m-36.8 21.5h1m-1.9 8.9h1m-108.4 60.2h1m-5.7 3.7h1m84.1-52.2h1m-3.1 2.8h1m-0.3-2.7h1m-80.1 47h1m28.7-16.8h1m-17.3 9h1m69.3-38.3h1m-59.3 36h1m-16.7 8.4h1m115.7-76.6h1m3.7 0.4h1m-103.9 63h1m92.4-56.6h1m-47.2 30.2h1m-12.8 3.4h1m-37 25.4h1m74.4-46.2h1m-79.2 44.6h1m127-76.9h1m-153.1 93.3h1m140.8-84.4h1m-54.9 29.7h1m-27.2 15.7h1m114-73.6h1m-126.1 79.1h1m53.5-29.6h1m-7 3.3h1m-96.8 58.3h1m108.8-68.9h1m43-16.8h1m-22.7 0.2h1m-113 68.7h1m47.8-30.4h1m55.5-29.9h1m-27.1 19.6h1m-88.5 49.8h1m50.1-28.2h1m20.7-12.1h1m-76.3 42.7h1m119.5-71.3h1m-113.6 63.9h1m-6.9 1.9h1m-25.3 16.9h1m106.3-70.1h1m-56.8 38.8h1m-23 11.1h1m58.1-34.9h1m-53.4 36.6h1m140-92.4h1m-116.8 71.5h1m6.1 3.2h1m-29.3 11.6h1m19.6-11.8h1m73-38.8h1m45.5-30.2h1m-147.9 84.3h1m7-5.9h1m5.6-4.1h1m91.4-58.4h1m-94.7 59.7h1m1.8 2.7h1m105.5-72h1m-101.8 67.3h1m-18.5 6.4h1m55.4-29.8h1m35.4-18.5h1m-130.9 72.1h1m85-49h1m84.2-54.6h1m-114.5 67.7h1m-17.9 11.4h1m4.7 0.1h1m-29.5 12.6h1m81.6-45.9h1m-93.2 53h1m156.9-98.4h1m9.5-5.7h1m6.3 4.2h1m-30 18.3h1m-90.8 45.2h1m-49.3 33h1m7.9-7.3h1m-21.4 11.3h1m119.5-70.9h1m-0.5-3.3h1m-84.6 51.5h1m120.3-74.1h1m-72.2 43.9h1m53.8-26.2h1m-96.5 52.5h1m27.5-20.5h1m-18 17.7h1m-47.3 25h1m139.8-83.2h1m-82.6 43.3h1m27.1-16.6h1m-0.6 4.9h1m-55.5 34.1h1m57-43h1m43.9-29.7h1m-22.9 20h1m-117.4 68.4h1m-15.1 10.7h1m58.4-38.6h1m102.3-65.7h1m-118.2 73.7h1m-4.1 2.1h1m22.8-10.4h1m-37.6 19.3h1m144.3-81h1m-25.1 7.2h1m-152.1 93.1h1m54.8-35.1h1m-16.3 14h1m-36.7 17.2h1m158.2-101.2h1m-11.8 7.7h1m-36.4 32.5h1m59.7-41h1m-158.4 94.3h1m76.6-49.9h1m-41.8 29.6h1m-33.5 16.6h1m114-75.5h1m34-12.6h1m-54.8 36.9h1m-102.4 53.6h1m27.2-18h1m67.7-40.4h1m-61.6 36.6h1m29.9-20.6h1m38.3-24.3h1m16.2-0.2h1m-14.9 0.2h1m-46.8 32h1m72.8-52.8h1m12.8-8.3h1m-29.1 20.2h1m-47.6 33.4h1m21.5-16.1h1m43-30.7h1m-29.9 17.4h1m-42.9 26.6h1m78-45.3h1m-56.4 31.7h1m44.6-33h1m-138.7 86.4h1m4.9 1.8h1m140.5-86.6h1m-74.2 41.4h1m52.7-24.9h1m-80.8 42.5h1m-41 26.4h1m-19 8.7h1m138.5-83.5h1m-118.9 71.8h1m96.3-54.9h1m3.4-13.4h1m-92.5 65.4h1m-46 21.8h1m130.3-77.7h1m-71.7 45.1h1m-63.3 35.1h1m164.2-101.5h1m-24.1 20.9h1m-99.2 54.8h1m-1.3 0.3h1m-28 16.3h1m17.8-12.9h1m104.8-60.6h1m-98.6 57.5h1m-21.6 10.4h1m36.1-19.9h1m-46.1 25.5h1m64.2-37.1h1m79.2-54.2h1m6.5-6.8h1m-77.3 54.4h1m13.3-10.3h1m-70.3 41.3h1m26.4-20h1m-48.5 32.6h1m138.9-84.1h1m-66.1 40.4h1m-81.5 46.7h1m12.5-10.4h1m115.8-71.1h1m-71.1 41.6h1m-13 7.9h1m13.6-4h1m103.9-67.2h1m-66.6 39.2h1m-107.7 64.3h1m142.7-83.8h1m-54.5 32.7h1m40.8-25.9h1m-87.1 51.7h1m101-56.9h1m-128.7 71.2h1m40.8-29h1m-63.5 39.5h1m135.9-76.3h1m22.5-22.9h1m-128 82.5h1m71-39.9h1m40.3-27.2h1m-139.7 79.1h1m15.1-8.3h1m22.8-11.5h1m25.3-19.6h1m-0.9 2h1m0.3 3.6h1m3.5-11.5h1m2.5-0.4h1m-72.9 45.3h1m123.5-73.8h1m-25.5 12.4h1m28.3-23.5h1m10.5-4h1m-47.6 34.6h1m-114.3 65.7h1m131.1-76.5h1m-121.9 69.8h1m31.3-15.4h1m-3.6-0.8h1m-8.1 2.8h1m53.6-32h1m-70.2 39.2h1m97.1-59h1m-1.6 3.7h1m44.6-28.8h1m14.3-9.8h1m-81.6 44.8h1m60.2-32.1h1m14.8-12.8h1m10-3.9h1m-134.6 84.9h1m15.1-8.9h1m81.1-51.4h1m-121.9 67.6h1m-19.4 10.8h1m1.9-2.6h1m71.9-39.3h1m92.8-62.3h1m-61.3 37.4h1m18.5-7.8h1m-37.5 22.5h1m64.5-38.8h1m-53.9 23.9h1m-27.1 21.3h1m88.6-47.6h1m-70.6 37.6h1m-88.4 47.6h1m57.8-32.7h1m-10.2 4.2h1m52.1-29.7h1m-51.4 33.3h1m-68 37.2h1m157.8-96.3h1m-71.3 47.4h1m-4.8-2.6h1m-86.6 50.4h1m71.1-40.6h1m106.5-66.9h1m-184.9 111.7h1m72.8-45.8h1m-48.8 28.8h1m11.6-5.3h1m109.5-72.7h1m-30.8 27h1m56.9-35.5h1m7.4-12.1h1m-6.4 6.5h1m-45.5 22.2h1m19.1-9.6h1m22.6-11h1m-116.7 69h1m-27.8 16.6h1m147.3-92.9h1m-148.9 89.1h1m-25 17h1m131.4-75.9h1m-10.4 9.6h1m40.8-30.9h1m-158.3 93.3h1m25-13.4h1m58.8-32.9h1m-89.8 47.5h1m80.6-50.7h1m-40.6 30.1h1m-51.3 23.3h1m174.2-107h1m-38 21.3h1m21.6-9.5h1m-171.5 103.3h1m176.6-105.9h1m-4.6-3.5h1m-22.9 24.3h1m-103 55.2h1m97.6-66h1m-132.3 85.4h1m16.5-8.1h1m102.6-68.6h1m-130.9 81.8h1m1.9-3.2h1m88.7-46.2h1m-66.8 36h1m107.3-73.1h1m-19.4 21.5h1m-105.8 57.9h1m29.8-13.6h1m14.8-8.3h1m61.5-43.1h1m-91.5 58.1h1m13-11.6h1m-34.5 17.4h1m-17.2 11.2h1m156-100.4h1m15.9-0.8h1m-149.2 84.1h1m-19.4 13.5h1m44.8-30.2h1m112.8-63.7h1m-96.9 59.2h1m-53.5 28.6h1m54.5-29h1m65.2-37.7h1m7.8-12.2h1m-10.7 2.2h1m20-9.1h1m-108.3 65.4h1m80.1-51.9h1m28.4-9.2h1m16.8-19h1m-144 89.6h1m-22.8 10.3h1m3.9-1.3h1m-13.7 6h1m99.5-59.7h1m-80 47.9h1m77.7-49.6h1m-61.3 43.7h1m99.9-62.2h1m-51.9 31.6h1m-21.4 3h1m7 1.1h1m-80.2 43.6h1m67-33.4h1m88.8-59.2h1m-20 6.5h1m-30.5 22.9h1m-23.9 14.1h1m-3.7 4.2h1m-40.2 23.7h1m-47.5 24.1h1m99.9-60.4h1m-94 56.3h1m0.7 0.2h1m41.3-21.8h1m-52.1 26.1h1m67.9-37.2h1m17.4-12.9h1m-31.3 16.3h1m7.7-7.4h1m47-32.3h1m21.2-8.8h1m-130.3 80.2h1m81.8-47.4h1m24-12.8h1m-122.2 66h1m50.5-25.4h1m-28.7 10.5h1m69.8-44.2h1m-21.8 12.9h1m1.5 4h1m-53.4 27.1h1m-9.8 4.3h1m79.9-43.8h1m-69.9 36.8h1m-11.4 7.3h1m-20.6 11.5h1m79-44.8h1m-75.3 43.8h1m21.9-14h1m138.9-89.6h1m-150.7 91.6h1m105.9-60.2h1m-45.6 25.3h1m0.9 1.5h1m-52.8 29.5h1m83.2-48.7h1m-111.3 64.4h1m136.5-84.8h1m-62.7 39.7h1m-7.8 6.2h1m-21.5 7.6h1m110.5-60.2h1m-163.8 93h1m147.1-92.5h1m-0.5 10.4h1m31.8-24.3h1m-35.7 15.1h1m-34.1 23h1m-20.6 16.6h1m83.5-52.6h1m-33.6 15.9h1m-39.9 26.3h1m-12 3.1h1m-54.7 37.7h1m-15.2 3.3h1m116.9-75.7h1" stroke="#4444cc" stroke-opacity="0.18" stroke-width="1.0" fill="none"/>
<path d="M654.5 310.5h1m-77.1 37.4h1m14.9-6.3h1m56.7-30.9h1m-112.6 57.5h1m100.4-50.2h1m-126 65h1m17.8-12.6h1m0.5 2.9h1m122.1-69.4h1m-23.9 15.8h1m-34.4 16.2h1m-39.5 19.2h1m-81.6 44.8h1m-6.6 4.7h1m74.8-41.6h1m-33.2 17.8h1m61.2-36.5h1m15.3-9.2h1m6.4-3.7h1m44.7-20.6h1m-42.1 18.7h1m-1.7 4h1m-97.2 48.2h1m10.3-4.4h1m80-43.2h1m-71.2 33.6h1m26.4-11.6h1m-79.2 41.6h1m164.8-85.6h1m-86.9 41.3h1m84.2-40.3h1m-153.9 81.5h1m29.2-17.4h1m84.6-46.5h1m-102.6 54h1m121.2-64.3h1m-89.9 45.6h1m65.4-34.8h1m37.7-22.4h1m-98.6 52.4h1m84.3-45.4h1m-22.9 13h1m-79.3 41.9h1m87.2-45h1m-125.5 65.4h1m27.3-17.3h1m-47.3 26.5h1m88.3-48.8h1m-48 25.3h1m-5.4-0.6h1m90.3-44.8h1m-29.3 12.5h1m56.8-28.4h1m-122.7 61.6h1m-5.9 2.3h1m54.9-26.1h1m-66.4 34.1h1m94.4-52.1h1m-33 17.2h1m4.7-4.4h1m83.4-45.5h1m-81.1 43.1h1m-83.4 48.6h1m26.2-17.9h1m69.1-35.1h1m-60.7 29.4h1m22.3-10.8h1m-56.6 26.9h1m-19.2 14.7h1m99.7-58.1h1m-94.7 55.7h1m-8.9 1.9h1m57.6-34.2h1m93.8-50.1h1m-140.3 75.9h1m104.3-58.9h1m-44.6 25.9h1m88.6-46.8h1m-136.1 68.7h1m86.8-45.5h1m-112 62.6h1m95.1-54.9h1m39.5-22.1h1m-103.9 52.8h1m58.8-28.5h1m-107 58.8h1m85.8-49.2h1m68.9-34.1h1m3.8-2.8h1m-165.9 88.2h1m140.8-77.8h1m-62.6 33.1h1m-79.6 44.9h1m67.7-42.2h1m13.1-8.1h1m-74.3 43.8h1m45.7-27.9h1m-1.9-0.8h1m-31.5 18.9h1m152.6-85.4h1m-50.6 30.3h1m-47.5 20.7h1m101.5-51.4h1m-172 91.4h1m23.9-13.2h1m-22.9 9.9h1m51.4-26.7h1m75.3-40.7h1m-145.3 79.8h1m50-32h1m119.8-59.9h1m-35.9 15.5h1m-106.2 58.3h1m47.8-29h1m60.9-33.5h1m-87.1 44.9h1m-56.9 35.1h1m90.8-52.8h1m-59.3 31h1m99.4-52.5h1m8.5-2.5h1m-54.6 24.9h1m38.7-18.1h1m32.6-19.1h1m-54.7 26.3h1m-101.5 54.6h1m144.2-77.8h1m-62.8 33.1h1m86.7-46.7h1m-66.4 34.8h1m-84.3 42.2h1m128-67.2h1m-92.2 48.4h1m33.1-16h1m-86.7 44.3h1m40.4-22.4h1m14.9-9.5h1m-76.1 44.8h1m18.9-10h1m67.2-40h1m75.3-37.4h1m-88.6 44.1h1m-76.4 44.1h1m162.1-89.8h1m17.6-16.5h1m-152.2 86.7h1m18.9-9.9h1m-53.5 30.9h1m172.1-99.6h1m-173.5 98.7h1m80.1-48.3h1m27.9-15.4h1m-88.1 49h1m54-33.3h1m44-19.4h1m-88 44.5h1m46-26.6h1m56.1-30.2h1m-69.2 37.8h1m-70 41.2h1m139.8-76.9h1m-37.9 16.6h1m-24.7 10.7h1m67.3-33.4h1m-59.5 29.9h1m13.4-8.7h1m21.6-10.6h1m-61.1 32.1h1m94.8-51.1h1m-111.8 58.2h1m1.9-3.5h1m102.4-50.2h1m-155.7 84.1h1m105.3-61.6h1m61.8-30.8h1m-34.3 15.1h1m32.1-14.4h1m-137.8 72.4h1m103.7-58.1h1m-36.8 18h1m-3.3 1.9h1m27.3-14.7h1m-55 30.7h1m-33.2 13.8h1m-45.4 29h1m71.7-44.4h1m49.5-25.8h1m-22.5 15h1m-41.3 21.1h1m10.2-6.7h1m-64.6 32.1h1m71.7-39.1h1m3.9-2.4h1m-59.9 34.2h1m-13.5 4h1m3.2 1.1h1m131.3-69.9h1m-136.3 69.1h1m23.2-10.5h1m44.3-27.4h1m4-1.9h1m12.3-6.4h1m-88.1 48.6h1m70-39.7h1m-87.1 49.4h1m19.7-13.4h1m-8.1 0.6h1m85.3-45.6h1m-29.6 15.7h1m76.7-41.9h1m-134.9 74.8h1m162.3-90.6h1m-150.6 80.3h1m142.9-78.9h1m-11.3 10.4h1m-172.5 90.1h1m37.5-22.3h1m37.3-20.7h1m-56.2 31.2h1m-8.1 4.7h1m9.4-7.5h1m52.6-28.1h1m76.8-43.5h1m-139.8 76.1h1m52-27.1h1m-0.4-2.2h1m-46 26.7h1m75.2-41.8h1m31.8-17.4h1m-131.6 71.2h1m19.6-13h1m69.1-39.1h1m17.3-10.2h1m-36.1 17.6h1m-68.6 39.4h1m13.8-3.7h1m30.8-24.5h1m24.1-10.5h1m100.5-52.9h1m-94.9 50h1m-32.3 14.7h1m-46 29.6h1m124.3-71.3h1m-89.3 45.4h1m115.4-63.2h1m-11.3 9.9h1m-93.3 44.9h1m-60 36.7h1m179.6-102.7h1m-34 23.7h1m-118.4 59.3h1m149.6-75h1m-65.4 29.7h1m-118.6 67.8h1m113.4-67.5h1m-75.4 36.4h1m-34.9 25.7h1m1.6-1h1m105.6-60.7h1m-55.8 28.4h1m-6 0.2h1m-8.9 9.5h1m-47.2 26.9h1m121.9-68.3h1m-6.2 0.8h1m45.6-25.5h1m-49 27.4h1m-11.8 4.7h1m-105.5 61.4h1m25.9-21.6h1m-20 11.7h1m-11.4 11.2h1m66.7-39h1m-10.5 1.5h1m88.5-47.5h1m-43.6 24.6h1m-8.1 2.7h1m-9.9 3.3h1m30.1-15.6h1m5 0h1m32.4-17.7h1m-62.9 29.7h1m-25.4 14.9h1m109.1-62h1m-125.8 66.3h1m48.7-26h1m-8.4 7h1m-86.4 45.7h1m84.4-47.7h1m-68.5 33.2h1m6.6-1.6h1m-23.3 18.7h1m45.1-30.6h1m-65.2 37.1h1m108.1-62.7h1m21.9-11.3h1m-14 6.9h1m-73.6 37.3h1m-51.9 31.7h1m10.5-5.1h1m25.8-16.8h1m85.1-47.4h1m51.2-26.2h1m-38.3 18.6h1m-46.6 23.7h1m-84.8 48.1h1m177.1-93.4h1m-103 50.2h1m-53.2 28.6h1m15.3-8h1m84.3-47.3h1m-123.3 69.9h1m1.9-4.8h1m88-46.6h1m40.5-23.2h1m31.7-17.9h1m-177 96.4h1m49-29.3h1m0.2-3.8h1m-40.4 26.3h1m51.8-28.7h1m7.6-5.1h1m76.8-42.4h1m-54.9 26.6h1m35-14.6h1m-21.7 7.4h1m-32.2 17.5h1m59.3-31.6h1m-73.1 38.3h1m-50.6 31.1h1m103.1-60.8h1m-97.9 54h1m123.5-66.4h1m-21.8 9.1h1m-18.1 7.9h1m-56.1 30.7h1m-52.8 30.5h1m2.5-0.6h1m84.3-49.4h1m-40.8 18.9h1m94.9-45.8h1m5.3-3.6h1m-77.9 39.6h1m56.1-29.3h1m44.3-23.1h1m-6.6 3.9h1m-106.7 52.2h1m14.1-8.3h1m12.8-8.5h1m-21.8 13.1h1m5-4h1m-85.9 48.7h1m1.7-2.9h1m119.3-64.4h1m33.9-19.4h1m-100.2 49.2h1m51-25.7h1m-45.3 25.7h1m-59.3 35.2h1m30.2-23.6h1m140.8-77.1h1m-100.5 56.9h1m19.9-13.9h1m-61.5 33.8h1m-24.7 16.6h1m162.2-89.3h1m-38 20.2h1m-83.4 42.1h1m-67.4 37.4h1m152.3-84.1h1m-130.5 73.8h1m0.6-1h1m57.4-35.8h1m-62.4 34.1h1m115.3-65.1h1m41.5-18h1m-111.6 57.9h1m-58.5 33.3h1m74.5-42.6h1m-37.6 14.5h1m-40.2 26.7h1m95.5-53.3h1m-111.3 59.5h1m155.6-85.9h1m-99.5 54h1m123.8-63.4h1m-158.1 78.9h1m30.1-14.1h1m116.3-63.3h1m-131.1 66.5h1m31.7-16.4h1m-42.3 23.4h1m89.6-49.9h1m-104.9 61.8h1m130.3-74.8h1m-50.3 26.1h1m-100.9 56.9h1m44.2-28.7h1m52.6-29.9h1m-57.9 30.4h1m-15.6 14h1m123-68.5h1m-144.7 80.8h1m140.8-81.8h1m-150.3 81.8h1m104.7-59h1m-23.8 10.6h1m37.9-16.2h1m-70.5 36.6h1m112.1-64.3h1m0.6 1.5h1m-151 85.6h1m151.8-83h1m-43.2 19.4h1m5-2.3h1m36.4-20.9h1m-118.5 62.8h1m40-24.3h1m48.6-22.6h1m2.3-3.4h1m-53.8 28.1h1m-34.5 18.5h1m-52.3 31.2h1m54.5-34.4h1m24-15.8h1m7.9-5.4h1m-91.8 55.6h1m26.4-19.7h1m-3.5 2.3h1m79.8-42.1h1m-69 33.9h1m133.3-70.1h1m-139.6 72.7h1m27.9-15.4h1m23.8-12.2h1m-2.7-0.8h1m-46.6 23.8h1m70.7-36.7h1m48-26h1m-39.1 20.7h1m-118.8 63h1m104.6-56h1m-52.4 25.8h1m-27.3 15.2h1m93.2-52.4h1m23-12h1m-126.8 69.6h1m120.4-63.9h1m27.5-13.5h1m-143.6 68.8h1m58.2-27.3h1m-23.6 11.2h1m-34.1 17.6h1m-4.3-2.5h1m-28.7 18h1m91.9-48.4h1m-103.4 55.5h1m69-38.1h1m50.4-25.5h1m-84 40.8h1m71.4-35.5h1m-16.3 6.2h1m-102.1 57.3h1m92-52.1h1m82.1-45.4h1m-157.8 84.4h1m154.1-81.8h1m-97.3 48.6h1m-59.1 33.2h1m144.4-77.2h1m-126 66.6h1m12.7-8.7h1m-49.7 31.1h1m118.3-70.8h1m16.2-8.1h1m6.2-4.1h1m-75.3 42h1m107.1-59.1h1m-40.1 22.7h1m2.9-5.1h1m4.9 1.2h1m-34.9 13.4h1m-29.1 16.7h1m-59.3 29.2h1m102.3-52.4h1m-76.4 38.7h1m84.5-44.8h1m-92.3 46.2h1m76.3-38h1m-9.8 5.7h1m-52 26.9h1m-70.8 38.2h1m69.1-40.9h1m-51 27.1h1m124.7-65.7h1m-126.7 71.7h1m17.9-19h1m-10.3 7.7h1m20.5-10.5h1m-32.4 19.8h1m86.8-51.6h1m72-41h1m-129.6 73h1m31.2-16h1m-19.8 9.4h1m6.7-5.3h1m102.4-56.9h1m-136.6 76.2h1m-20.3 12.3h1m12-8.9h1m-4.5-0.3h1m41.2-20.8h1m99-56.6h1m-115.5 61.8h1m-36.6 19.1h1m123.4-66.2h1m-152.5 83.6h1m54.7-32.9h1m26.6-12.7h1m18.1-9.6h1m-65.8 33.6h1m145.4-79.4h1m-56.2 28.1h1m38.7-18.5h1m-16 6.5h1m-86.1 46.9h1m33-21.3h1m81.8-39.3h1m-5.5-2.9h1m-104.1 58.6h1m15-8.7h1m-12.5 5.4h1m38.4-19h1m-84.1 41.9h1m35.4-20.4h1m-17.8 8.3h1m110.8-53h1m6.6-8.9h1m-179.1 97.7h1m6.6-3.1h1m77.6-45.6h1m36.1-18.6h1m-114.3 65.7h1m115.2-69.4h1m-70.3 38.6h1m-45.5 29.4h1m-8.4 0.7h1m148.9-79.6h1m1.5-1.7h1m-29.6 11.1h1m-26.7 13.6h1m-41.2 22.8h1m-12.6 5.3h1m99-49.4h1m-76.3 37.4h1m-57.6 33.5h1m109.6-62.3h1m-126.8 71.5h1m167-90.7h1m-22.1 11.2h1m-122.8 64.1h1m133.9-70.6h1m-162.3 84.5h1m119.3-66.2h1m49.9-28.5h1m-11.8 8.2h1m-20.2 7.6h1m-60.8 31.5h1m85.6-42.7h1m-72.6 34.5h1m30.6-13.8h1m15.4-8.8h1m-85 42.9h1m-38.7 21.3h1m155.3-82.1h1m-166.2 89.1h1m16.9-12.8h1m-30.5 20.2h1m150.7-85.1h1m10.5-2.9h1m-159.5 83.4h1m21.5-11.8h1m43-28.3h1m-11.6 10.3h1m71-37.6h1m-57.9 28.9h1m73.1-41h1m-81.2 41h1m96.9-47.1h1m10-4.4h1m-14.7 6.6h1m-10.7 0.9h1m-103.9 53.1h1m69.8-36.4h1m-79 41.4h1m24.3-10.1h1m-53.2 28.2h1m-17 10h1m50.8-31.9h1m-54.6 33.4h1m69.7-42h1m-52.5 27.3h1m63.9-36.5h1m-22.6 12.2h1m44.2-24.2h1m-22.4 13.7h1m1.4-3h1m11.3-7.1h1m-69.9 37.7h1m-31.2 20.6h1m89.6-54.6h1m-50.6 29h1m130.5-74.2h1m-5.1 7.2h1m-151.6 79.3h1m86-44.7h1m-68 31.8h1m17.3-7h1m95.5-50.8h1m-151.2 80.2h1m45.7-27.7h1m18.6-9.5h1m24-12.2h1m-82.3 43.8h1m89.7-50.9h1m76.4-40.4h1m-69.1 36.2h1m62.7-33.4h1m0.8 2.5h1m-130.7 63.2h1m12.9-5.3h1m100.1-52.3h1m-19.7 7.7h1m-146.8 80.5h1m27.2-16.5h1m-19.4 13.5h1m101.7-60.6h1m-114.8 66.6h1m108-63.5h1m-15.6 8.6h1m64.1-33.4h1m-144.2 76.2h1m52.4-27.3h1m3.9-3.9h1m-70.3 39.9h1m21.6-15h1m-33.9 18.4h1m153.9-81.2h1m-139.9 74.7h1m37-26.9h1m80.8-40.9h1m-18.6 8.4h1m-61.7 32.2h1m59.6-30h1m23.3-13.6h1m-4.4 1.4h1m-82.9 42.1h1m101.6-50.9h1m-37.7 16.6h1m-85.6 44.2h1m-13.3 11.9h1m8.5-5.9h1m57-32.6h1m-42.3 18.1h1m18.3-8.3h1m-7.6 6h1m68.4-39.8h1m-71.4 35.7h1m110.3-54.1h1m-89.5 45.9h1m-59.3 33.8h1m63.9-39.4h1m-81.1 46.7h1m97.1-54h1m-87.2 44.5h1m20-14.2h1m20.8-8.6h1m91.7-48h1m-96.6 48.4h1m95.2-49.8h1m-11.5 4.4h1m-84.8 43.9h1m-39.1 22.6h1m64.4-35.1h1m79.7-44.4h1m-64.1 34.7h1m32.1-17.3h1m-32.8 18.9h1m-0.8-1.3h1m22.9-12.8h1m-85.7 46.8h1m11.1-11.3h1m-12.6 8.5h1m-16.5 10.4h1m48.1-29.8h1m90.6-47.4h1m-94.7 49.4h1m-12 3.7h1m-1.8 2.4h1m-47.7 29.7h1m133.4-76.3h1m-46.3 25.2h1m-78.9 38.7h1m85.2-46.3h1m-48.9 29.5h1m-24.5 10.8h1m105.1-53.3h1m-102.3 49.9h1m38.9-20h1m63.3-31.5h1m-112.3 56.1h1m126.4-68h1m-87.3 45.3h1m76.9-37.6h1m-109.9 57h1m34.7-20.6h1m-26.5 11.4h1m101-50.7h1m-92.4 48.8h1m59.8-33.3h1m20.6-11.4h1m-10.6 6h1m-120.6 61.7h1m-1.6 4.4h1m22.8-18.4h1m37.3-17.4h1m-5.1 2.3h1m-54.8 26h1m146.2-77.2h1m-13.2 7.2h1m-50 24h1m-5.3 6.2h1m5.9-6.2h1m49.6-24.7h1m-73 37.8h1m-40.2 20h1m2.4-4.1h1m114.3-61h1m-5.4 7.9h1m-169.8 87.5h1m135.9-71.6h1m-34 13.4h1m23.3-10.6h1m-9 3.5h1m-3.5 0.6h1m-45.1 22.3h1m-79.2 45.5h1m46.1-26.2h1m112.2-60.2h1m-35.4 17.7h1m-93 44.7h1m-35 23.6h1m47.2-30h1m71-35.1h1m-89.2 47.4h1m6.9-6.7h1m133.9-73.3h1m-1.9-0.4h1m-26.2 15.9h1m-145.2 83.9h1m162.4-91h1m-147.5 78.3h1m142.5-75.9h1m-137.7 69.5h1m28.3-17h1m-39.5 28.9h1m125.2-74.4h1m-148.2 81.4h1m71.3-38.6h1m37.2-21.8h1m9.5-6.8h1m-111.2 63.8h1m120.6-70h1m-60 33.6h1m72.3-38.7h1m4.1-2.3h1m-130.6 66.2h1m32.2-15.7h1m11.7-9h1m84.1-44.3h1m-109.4 54.5h1m-47.9 30.5h1m8.1-5.7h1m105.5-59.1h1m-66 36.6h1m-9-0.3h1m-0.5 3h1m24.9-11.5h1m102.4-55.3h1m-113.2 59h1m-48 28.1h1m103.8-61.5h1m-121.6 68.8h1m133.6-74.1h1m-108.6 58.2h1m127.9-70.5h1m-46.3 24h1m-17.7 9.4h1m-78.7 44.3h1m121.9-69.3h1m-67.5 34.5h1m48.4-24.9h1m-64.6 34.5h1m22.7-11.3h1m93.9-49.8h1m-43 18.8h1m50.3-30.9h1m-146 82h1m40.9-24.7h1m-50 25.6h1m120-63.3h1m-136.3 74.5h1m1.8-3.2h1m-0.2 5.7h1m38.8-25.9h1m-15.3 6.2h1m24.9-13.7h1m63.8-35.4h1m42-19.2h1m-104.4 52.6h1m48.2-27.3h1m-14.9 10.4h1m64.1-35.4h1m-46.5 23.8h1m46.9-24.5h1m-2.7 2.1h1m-58.9 26.8h1m-7.1 6.4h1m69.8-39.7h1m-96.2 49.7h1m-85 48.6h1m41.1-26.2h1m134.5-73.9h1m-64.9 36.2h1m-16 7h1m-53.6 27.5h1m-32.6 18.8h1m90.9-48.1h1m54.6-27.3h1m3.9-2.1h1m-116.3 59.9h1m-35.5 19.3h1m127.8-69.1h1m31.2-19.8h1m-163.4 86.3h1m87.2-47.9h1m-4.1 1.6h1m10.3-5.7h1m-57.2 30.6h1m-8.1 4.4h1m23.5-14.2h1m18.6-11.2h1m47.9-20.9h1m-108.4 52.5h1m40.9-21.8h1m-13.1 6.3h1m-11.1 4.2h1m38.5-17.4h1m7.5-5.6h1m-24.4 13.4h1m-74.2 40h1m96.9-52.9h1m-78.5 43.7h1m100.6-58.8h1m39.5-23h1m-33.4 20.9h1m-13.1 5.1h1m-20.4 9.3h1m28.8-14.5h1m-113 60.4h1m99.6-54.3h1m-65.8 32.4h1m83.6-42h1m-7.8 0.7h1m-137.3 77.5h1m36.4-24.6h1m101.3-54.4h1m19.3-7.3h1m-51.1 25.2h1m-73.2 35.3h1m69.2-37.4h1m4.9-1.3h1m29.6-13.8h1m-9.3 3.2h1m-2.5 0.9h1m-134.8 75.3h1m144.3-81h1m-111.6 58.3h1m23.9-14.9h1m-17.5 9.4h1m53.9-28.7h1m-85.3 45.9h1m28.6-20.2h1m125.4-62.5h1m-20.2 8.7h1m-44.5 21.9h1m-44.7 23.1h1m-37 20.7h1m-34.6 19.7h1m72.5-40.6h1m38.9-21.6h1m-28.7 15.2h1m13.8-9.8h1m-82.8 46.4h1m-20.2 10.9h1m23.4-9.1h1m-3.9-1.2h1m105.6-59.8h1m43.4-23.5h1m-157.7 84.8h1m118-63.1h1m-123.4 65.9h1m157.4-83.3h1m-59.8 25.4h1m57.6-24.9h1m-42.4 19.7h1m-107.7 58h1m29.9-23.8h1m49.5-24.4h1m-94.9 53.3h1m26.2-19h1m103.3-50.6h1m-113 57.2h1m93.7-50.8h1m-96.9 51.2h1m111.6-57.4h1m-124 63.8h1m24.4-15.2h1m106.4-53.5h1m-106.1 52.7h1m64.6-31.9h1m1.4-3.2h1m9.9-5.4h1m30.9-15.4h1m-65.5 30.1h1m31.6-13.5h1m-86.7 44.7h1m140-74.3h1m-49.3 24.6h1m-86.2 45.3h1m34.3-19.2h1m93.3-49.6h1m-47.9 24.6h1m-128.4 71.1h1m48.2-31.8h1m22.8-10.7h1m-59.8 37.7h1m6.7-7.3h1m-12.5 4.2h1m142.4-74.7h1m-96.7 48.7h1m-3.9 3.3h1m20.9-14.5h1m13.5-6.7h1m-24.3 10.9h1m94.1-48.4h1m-119.8 64.1h1m60.6-34.9h1m59.1-32.6h1m-56.8 30.9h1m13.7-8.3h1m39.4-23.1h1m-14.9 9.3h1m-1.4 3.2h1m-26.4 11.7h1m-70.7 36.9h1m93.9-49.6h1m-142.3 78h1m76.3-45.2h1m-90.3 48.8h1m67.2-38.7h1m109-59.1h1m-38.1 20.9h1m-99.1 48.4h1m24.8-9.9h1m-57.6 29.7h1m25.2-10.7h1m54.4-32.2h1m67-33.4h1m-114.4 55.9h1m113.6-60.9h1m22.2-12.7h1m-37.5 20.9h1m-36.9 17.3h1m-17.3 12h1m33.5-17.8h1m-59 26.5h1m-45.6 28.8h1m22.1-14.8h1m116.4-64.1h1m-93.4 51.2h1m77.4-42.6h1m-93.5 49.2h1m117.5-63.3h1m-145.6 76.8h1m-38.8 23.5h1m184.4-102.4h1m-150.4 81h1m51.8-27.3h1m74.8-40.7h1m-38.5 19.9h1m47.4-24h1m-41.5 19.7h1m-132.7 73.3h1m134.4-75.9h1m-76.8 41.7h1m83.7-48.2h1m-100.9 52.3h1m-25.9 17.9h1m94.3-52h1m-86.1 47.2h1m115.1-63.9h1m-85.4 46.5h1m86.7-49.3h1m2.7-1.5h1m-52.8 27.3h1m-35.5 15.6h1m25.5-11.7h1m41.5-22.1h1m17.3-6.8h1m-145.5 76.6h1m149.3-83.2h1m-137.8 75.4h1m41.2-22h1m81.8-46.3h1m-24.8 12.2h1m33.9-16h1m-35.5 16.6h1m-123.4 67.7h1m167.5-95.1h1m-28.6 17.7h1m-132.4 72.8h1m46.8-30.8h1m95.6-50.4h1m-56 28.6h1m-23.9 15.7h1m34.3-20.3h1m64.8-36.1h1m-83.3 45.6h1m-5.3 1.2h1m46.5-24.6h1m13.8-6.3h1m-40.6 17.7h1m-13 7.1h1m-92.4 51.5h1m66.2-40.4h1m3.4 1.2h1m9-6.6h1m-7.1 2.5h1m0.7 0h1m-47.2 23.5h1m-31.6 22.7h1m49-32.7h1m-5.8 3h1m93.7-50.3h1m-152.3 84.2h1m90.5-54.4h1m43.8-24h1m-4.2 3.6h1m-134.5 74.4h1m122.9-70.2h1m-59.8 30.4h1m59.8-31.7h1m-37.5 19.5h1m55.1-26.7h1m-81.6 41.1h1m-64.9 37.9h1m58.4-37.1h1m114.8-63.3h1m-137.8 73.3h1m-43 26.7h1m81.7-43.8h1m-13.7 4.2h1m76.7-39.8h1m-48.2 25.2h1m47.1-27.1h1m-117.8 60.6h1m129.7-67.6h1m-50.6 25.8h1m-89.9 53.2h1m102.5-59.9h1m-114.9 60.3h1m88.3-47h1m72.4-35.9h1m-30.3 14.5h1m15.4-11h1m-54 29.3h1m-8.4 3.5h1m21.2-12.2h1m35.3-18h1m-26.3 11.4h1m-125.5 66.2h1m134.2-72.1h1m-29.9 15.4h1m9.5-5.3h1m32.8-18h1m-151.1 80.7h1m-2.3 2.3h1m67.2-39.7h1m15-9h1m56.1-27.3h1m5-3.4h1m-155.6 85h1m35.6-23.3h1m-30.7 19.2h1m109.7-62.3h1m-89.8 47.1h1m-30.8 20h1m164.7-93.6h1m-60.6 34.8h1m52.3-27.7h1m-53.2 25.6h1m48.7-23.3h1m-135.5 69.6h1m5.2-3.8h1m140.3-79h1m-98.8 51.2h1m-35.7 18.3h1m50.8-24.1h1m-76.5 42.7h1m-8.2 4.2h1m130.6-72.6h1m-51.3 25.8h1m46.3-23.3h1m5.7-2.7h1m-145.1 77h1m58.6-33.5h1m94.3-51.4h1m-28.1 15.3h1m9.3-6.8h1m-89.1 47.9h1m-28.9 15.3h1m39.1-24.9h1m85.1-44.5h1m-136.5 77.2h1m132.6-72.9h1m24.1-17h1m6.6 2.6h1m-107.4 51.2h1m-62.8 37h1m-11.9 5.3h1m3.4-2.9h1m100.3-58.6h1m-30.4 15.8h1m53.2-28.1h1m-1.1 2.9h1m-98.6 49.1h1m147-79.1h1m-128.6 68.2h1m119.1-63.3h1m10.7-9.1h1m-112.6 62.9h1m51.1-27.5h1m-13 8.1h1m-72.2 36.4h1m33.1-19.2h1m36.7-21h1m-59.3 29.6h1m34.9-15.7h1m74-38.1h1m-57.1 28.1h1m43.5-23.6h1m-19.5 11.8h1m-52.6 26.2h1m-25.9 14.1h1m-36.5 16.5h1m102-54h1m-44.6 22.1h1m17.7-10h1m36.8-20.9h1m-72.6 39.4h1m15.7-10.3h1m27.4-13.6h1m47.7-26.3h1m-78.6 41.6h1m7.7-4.8h1m3.8-4.4h1m3.7 0h1m-54.4 29.5h1m-10.1 3h1m61.3-33h1m-17 9.8h1m-51 24.4h1m24.1-11.2h1m-40.3 20.4h1m-12.2 10.7h1m-11.7 3.1h1m128-72.9h1m-92.1 47.4h1m28.5-12.2h1m-23 7.6h1m76.8-38.7h1m-47.1 23.6h1m-72.1 42.2h1m61.2-37.5h1m96.7-48.2h1m-73.1 37.9h1m-21.9 6.6h1m56.1-25.6h1m31.2-16.8h1m13.2-10.7h1m-99.5 54.2h1m31.5-17.6h1m-8.6 3.9h1m-26.5 13.9h1m-64 37.8h1m145-80.9h1m-34.3 14.6h1m-129.1 72.9h1m118-66.8h1m-72.5 34.5h1m-3.9 5.3h1m15.4-9.1h1m99.5-52.8h1m-109.1 53.9h1m-28.1 18.8h1m-25.3 14.8h1m56.7-31.3h1m109.6-59.3h1m-151 77.9h1m138.7-71.7h1m-80.2 39.6h1m-11.4 5.6h1m20.9-11.7h1m18.5-12.1h1m39.7-18.5h1m-10.4 5.3h1m-5.3 0.2h1m-7.7 2h1m-46.6 26.8h1m18-10.1h1m25-16.2h1m-35.1 17.9h1m30.8-15.2h1m-74.2 39.5h1m18.4-13.9h1m-58.5 35.3h1m-7.2 5.2h1m143-76.8h1m-2.9-2.7h1m-144 80.8h1m23.5-16h1m87.7-48.7h1m-56.9 30.5h1m39.1-22.4h1m-105.8 59.6h1m111.3-66.1h1m-98.5 57.8h1m40.1-27h1m-45.7 30.2h1m113.9-63.8h1m-22.6 10.6h1m-97.5 55.5h1m44.4-27.3h1m87.3-48.8h1m-46.8 25.3h1m24.5-13h1m25-15.2h1m-57.5 30.1h1m-24.3 13.2h1m101.2-51.4h1m-87.1 43.3h1m-36.3 16h1m-20.1 14.1h1m60.1-34.6h1m19.1-12h1m-24.7 13.5h1m62.2-35.4h1m-67.2 34.3h1m-37.9 19.8h1m76.7-37.4h1m0.6-2.9h1m25.5-11.3h1m-78.1 36.1h1m-15.1 9.7h1m15.4-8.9h1m2 0.4h1m-46.9 21h1m53.3-27.4h1m29.4-13.6h1m-79.1 38.8h1m92.1-47.4h1m-52.2 24.9h1m90.2-46.7h1m-159.7 84h1m15.7-9.3h1m-36.2 21h1m117.1-66.3h1m-32.9 17.4h1m-60.8 36.2h1m62.2-39.8h1m-56.5 30.2h1m79.7-41.5h1m27.6-12.8h1m-55.8 27.9h1m51.4-27.1h1m11.1-7.8h1m-63.7 34.2h1m-53.6 24.3h1m98.2-48.5h1m-5.1-0.1h1m-96.8 48.2h1m93.5-48.6h1m-7.4 5.8h1m29.3-14.3h1m-54.7 26.3h1m-74.9 40.2h1m97.5-52.8h1m-29 13h1m-27.7 13.9h1m-19.3 12.1h1m-10.3 1.7h1m85.7-45.7h1m3.9 1.8h1m-95.1 46.1h1m106.5-55.7h1m-120.2 66.5h1m131.4-71.9h1m-109.1 51.4h1m111.2-52.5h1m-18.4 6.3h1m-37.9 18.8h1m-67.9 39h1m-17.6 7.4h1m139.6-76.2h1m-56.4 31.8h1m24.8-16.3h1m-5.1 4.7h1m25.2-12.3h1m-132.7 70.4h1m26.2-19.7h1m105.3-52.3h1m-16.6 5.2h1m-115.9 61.8h1m82.8-42.6h1m40.8-23.1h1m-66.9 33.8h1m-88.2 52h1m39.4-28.6h1m-11.6 6h1m67.5-33.7h1m2.7-3.8h1m54.1-28.4h1m-65.2 34.2h1m23-14.6h1m-70.1 36.4h1m-9.2 2.7h1m136.3-73.3h1m-146.9 82.2h1m10.9-7.4h1m107.4-54.7h1m-44.4 19.8h1m-100.8 57h1m43.5-28.3h1m8.1-2.5h1m-17.2 4.3h1m118.7-56.9h1m-164.3 84.9h1m93.7-53.9h1m50.9-24.2h1m-104.9 53.9h1m-27.2 18.1h1m153.4-83h1m-88.4 42.2h1m-62 31.2h1m116.2-60.7h1m-25.8 12.1h1m16.8-6.7h1m43.9-25.4h1m-73.5 39.4h1m-101.1 55.9h1m134.8-74.8h1m-38.7 18.6h1m51.4-23.9h1m-35.5 14.1h1m8.3-4.3h1m-36.5 19h1m2.5-2.6h1m32.3-16h1m44-26.5h1m-13.5 10.5h1m-133.6 64.5h1m90.7-44.3h1m-97.7 50.9h1m130.3-71.2h1m-49.8 25h1m-99 60.1h1m52.4-36.4h1m-67.3 40.3h1m169.5-89.2h1m-158.4 82.9h1m46.1-28.7h1m-18 10.5h1m-28.9 14.8h1m3.2 0.9h1m50.1-33.5h1m-1.1 0.7h1m69-36.8h1m13.7-8.4h1m-121.2 67.6h1m71.6-38.5h1m-97.2 50.2h1m117.5-64.2h1m37.6-21.2h1m-106.8 59h1m33.4-22.1h1m-77.2 46.2h1m109.6-61.4h1m-73.8 37.4h1m98.7-54.4h1m8.3-5h1m-126.2 65.3h1m53.4-25.5h1m-48.7 22.7h1m79-39.7h1m-40.6 20.4h1m35.8-21.2h1m-124.1 71.2h1m122.4-72.1h1m-53.3 30.4h1m-60.9 30.3h1m21.3-11.3h1m-7.8 5.8h1m54.7-31.9h1m-61 30.3h1m-19.7 17.4h1m81-48.7h1m61.3-34.6h1m-30.1 17.1h1m-33.7 16.2h1m70.6-37.3h1m-98.1 50.2h1m103.6-58.2h1m-26.8 16.1h1m-35.6 20h1m-103.2 57.4h1m29.2-21.3h1m-26.7 16.2h1m-4.2 2.9h1m52.7-31.9h1m87.1-44.7h1m-9.9 6.7h1m-139.6 74.5h1m128.4-73h1m-135.5 75.8h1m132.7-74.1h1m-91.6 49h1m103.1-56.4h1m-47 25.6h1m0.4-1.8h1m38.2-22.7h1m-15.7 8.3h1m1-1.5h1m20.2-10h1m-77.8 38.8h1m-21 10.5h1m-8.2 3.6h1m-23.9 20.1h1m60.7-39.6h1m42.9-23.2h1m-80.3 41.1h1m76.5-39.3h1m18.3-8.1h1m-43.9 21h1m-31.9 17.9h1m-21.5 7.5h1m41.4-21.1h1m35.8-20.5h1m36.5-16.3h1m-35.8 18.9h1m-49.1 22.6h1m57.2-31.1h1m-78.7 40.3h1m99.3-48.4h1m-0.3-0.8h1m-5 2.8h1m-158.7 85.8h1m83.6-51.2h1m-16.9 9.9h1m4.3-3.4h1m3.2-1.8h1m-62.3 33.4h1m87.2-47.8h1m16.9-8.9h1m-15.1 5.8h1m-70.2 37.5h1m126.5-65.5h1m-155.1 82.5h1m40.6-26.9h1m-20.1 12.2h1m-7 0.7h1m-39.2 24.5h1m109-58.3h1m30.2-19.4h1m17-6.7h1m-14.9 5h1m30.2-12.4h1m-118.3 58.4h1m42.6-24.2h1m9.8-5.2h1m-46.4 22h1m93.6-46.7h1m-97.2 49.4h1m33.2-18.9h1m-19.9 13.5h1m62.5-34.7h1m-83.3 44h1m33.9-19.3h1m-41 19.8h1m69.4-37.6h1m54.9-31.9h1m-6.8 8.4h1m6-3h1m-161.5 85.6h1m30.8-18.6h1m-43.8 27.7h1m111.1-66.8h1m14.8-6.4h1m-47.8 21.7h1m81.6-43.5h1m-65.4 35.3h1m60.7-31.1h1m-100.7 50.9h1m-3.1 3.4h1m82.2-45.7h1m-128.5 71.3h1m39.3-27.3h1m-8.3 6h1m93.9-46.5h1m-18.8 6.4h1m45.5-27.9h1m-173.8 98.5h1m120.9-68.6h1m-30.7 15.8h1m-43.8 24.9h1m-40.4 21.9h1m-1.8-1.2h1m132.4-70.6h1m-77.9 36.7h1m68.7-35.3h1m-100.6 52.1h1m68.5-33.1h1m-67.7 33.4h1m103.5-55.3h1m-72.3 38.1h1m16.5-10.1h1m47.5-22.8h1m-13.5 4.8h1m-73.6 34.7h1m6.4-1.5h1m91.7-47.6h1m-107.5 55.3h1m76.9-40.7h1m21-14h1m-119.8 63.3h1m5.3-4.6h1m132-70.2h1m-86.3 47.1h1m-42.2 23h1m35.3-21.8h1m72.6-34.7h1m-2.9-1.4h1m-23.8 11.6h1m10-5.3h1m-111.9 58.5h1m134.1-69.5h1m-142.2 74.9h1m86.5-48.1h1m54.1-26.7h1m-53.8 27h1m11.9-10.4h1m49-24.6h1m-10 2.4h1m-20.7 13.4h1m-57.5 27.4h1m-52.6 29.4h1m97.1-51.9h1m-106.6 55.5h1m-5.1-0.4h1m30.8-11.6h1m-39.6 22h1m116.5-67.1h1m11.4-5.8h1m25-15.5h1m-32.1 19h1m12-5.5h1m-85.5 42h1m-20.7 13h1m-31 16.4h1m78.1-43.8h1m60.5-32.9h1m-82.4 43.1h1m-71.7 43.3h1m35-25.3h1m90.5-49.3h1m-73.1 38.7h1m-30.6 14.7h1m-42.5 25.9h1m162.6-89.5h1m-57.9 28.9h1m-6.8 6.4h1m-35.6 15.1h1m94.8-49h1m-56.8 28.2h1m-60 31.9h1m-34.5 24.9h1m130-75.2h1m-15.2 6.6h1m-26.1 15.5h1m-80.4 39.8h1m28.5-17.2h1m-2.6 5h1m37.6-23h1m-72 38.8h1m34.2-20.8h1m76.9-37.3h1m-141.2 73.8h1m155.4-85.6h1m-18.6 11.4h1m43.7-22.2h1m-133.6 69.1h1m72.5-43.1h1m-117.5 67.2h1m162.5-89.8h1m-105 52.3h1m23.7-12.3h1m-20.5 12.3h1m87.8-45.6h1m-2.3 0.9h1m-139.4 72.3h1m95.1-51.4h1m-6.5 0.3h1m-48.6 26.6h1m-14.6 7.9h1m9.4-4.8h1m-38.2 19.2h1m112.3-60.6h1m-110.9 61.1h1m-17.2 6.9h1m73.8-39.1h1m47.3-27.1h1m-30.5 15.9h1m76-40.8h1m-49.3 27.3h1m-100.1 51.1h1m130.4-71.8h1m-46.1 26.4h1m-89.2 48.2h1m60.1-33.3h1m36.8-19.6h1m-105.5 57.7h1m158.2-94.1h1m-4.3 5.6h1m-56 32.4h1m-75.8 39.8h1m-38.2 20.5h1m82.2-45.8h1m42.6-23.2h1m-125.8 70.6h1m123.3-73.2h1m-86.5 48h1m75-39.9h1m-127.8 72.8h1m145.8-84.2h1m-69.7 35h1m-83.5 47.9h1m4.5-2.9h1m35.1-20.6h1m30.1-19.5h1m-1.5 2.9h1m-5.6 0.9h1m78-39.3h1m-147.1 79h1m47-29h1m127.6-71.4h1m-140.6 75.7h1m36.9-19.4h1m-64.2 35.2h1m61.5-34.2h1m-66.5 37.8h1m89.1-52.7h1m-71 39.1h1m113.3-60.5h1m-132.9 69.8h1m115.5-60.3h1m-32.3 16.5h1m-69.8 39.6h1m97.9-57.7h1m-57 32.8h1m93-51.4h1m-88.6 45.1h1m-66.9 37.8h1m-2-0.2h1m153.9-84.2h1m-88.5 48.4h1m68.6-36.1h1m1.5-1.3h1m-57.3 28.5h1m83.1-42.9h1m-100 50.1h1m30.9-18h1m-38.1 21.6h1m28.7-16.6h1m34.9-19h1m24.2-14.6h1m-45.1 25.6h1m-103.7 58.2h1m21.5-16.6h1m31.8-18.7h1m-54.3 32.9h1m66.9-41.2h1m28.9-12.4h1m-104.8 56.9h1m132.4-73.7h1m33.2-22.7h1m-112.2 61.2h1m94.4-49.2h1m-44.1 23.6h1m-35.2 19h1m83.6-43.7h1m-126.6 61.7h1m17.9-7.9h1m69.3-37.6h1m-47 24.1h1m84.9-47.2h1m-155.4 83.2h1m-17.5 13.1h1m51.8-31.5h1m61.6-32.5h1m41.1-22.5h1m-162.9 88.9h1m3.3 0.3h1m69.5-42.1h1m-16.7 6.8h1m14.1-9.4h1m97.6-48.5h1m8.5-2.6h1m-78.3 36.7h1m5.4-2.3h1m48.2-26.2h1m-95.6 48.5h1m39.7-18.8h1m-69 30.4h1m27.5-11.2h1m84.3-46.4h1m-120.9 67.1h1m-30.4 17.5h1m37.6-25.3h1m109-57.5h1m11.7-6.6h1m-71.7 36.2h1m-94.1 55.5h1m175.5-99.8h1m-121.9 63.4h1m84.1-44.5h1m-145 80.9h1m94.9-52.6h1m76.8-42.2h1m-124.8 66.7h1m124.6-68h1m-9.8 2.3h1m-170.1 93.3h1m166.3-89.1h1m-72.5 34h1m49.3-25.5h1m-59.1 29.1h1m-17 12.7h1m-20.7 6.2h1m-7.6 4.7h1m68.8-33.4h1m4.6-3.5h1m66.6-39.6h1m-69.5 37.8h1m66.6-35.2h1m-159 82.9h1m119.4-62.2h1m34.2-25.9h1m-163.8 94.2h1m88.9-47.9h1m-66.1 32.6h1m101-51.5h1m-138.4 72.8h1m74-41.9h1m-63 34.2h1m91.9-51.7h1m-105 57.1h1m156.3-82.9h1m-92.9 47.9h1m47-25.3h1m-88.4 47.6h1m47.9-29.8h1m-77.3 46.7h1m26.3-15.9h1m-35.2 20.3h1m137.8-75.7h1m42.4-24.1h1m-155.5 82.1h1m129.9-69.9h1m-125.7 66.4h1m-1.1-2.1h1m50.6-27h1m3.7-0.8h1m4.6-4.3h1m84.7-45.5h1m-8.5 1.3h1m-126.1 67.8h1m-6.6 1.4h1m126.2-63.1h1m-41.2 21.7h1m-17.3 8.5h1m-46.5 21.1h1m20.1-8.5h1m-6.9 0.4h1m66.2-35.2h1m-41.5 20.9h1m-37.1 22.9h1m-14.6 5.8h1m111.2-56.9h1m-25.2 12h1m-122.8 62.5h1m93.8-51.5h1m-92.7 47.9h1m117.3-61.4h1m-83.2 42.8h1m-33.9 15.3h1m59.3-29h1m-89.6 52.7h1m143.8-81h1m-6.1 3.3h1m-139.2 76.8h1m132-75.4h1m-101.2 51.5h1m-28.3 20.7h1m99.4-59.7h1m24-11.7h1m-11 5.8h1m20.9-9h1m-21.8 6.8h1m-51.7 26.9h1m-35.3 17.1h1m-33.4 23.8h1m139.6-78.6h1m-26.3 13h1m40.5-20.4h1m-120.8 59.4h1m-3.3 1.6h1m-23.6 19.3h1m147.4-86.9h1m-153.7 86.9h1m136.2-73.1h1m-109.9 53.9h1m-45.8 27.3h1m80.2-46.6h1m60-29h1m-131.4 66.6h1m52.3-29.5h1m-42.3 23.1h1m77.1-42.4h1m40.2-21.9h1m-120.7 69.4h1m153.9-85.1h1m-151.5 78.2h1m34.8-19.2h1m-34.5 19h1m115.2-61.9h1m-0.6 0.2h1m-34.9 15.1h1m38.1-19.1h1m-87.6 45.8h1m103.5-52.5h1m-105.5 53.7h1m-47.7 23.8h1m-24.5 15.3h1m113.4-64.3h1m67.2-33h1m-65.4 30.9h1m-33.5 19.3h1m21.3-13.7h1m-83.1 48.9h1m-12.2 4.8h1m39.9-24.8h1m94.9-52.4h1m-37.7 23.3h1m-55.2 25.9h1m-25.7 12.4h1m-11.3 10.4h1m-12.6 2.7h1m80-43.4h1m55.8-30.3h1m-27.8 14.4h1m-32.3 14.7h1m37.8-16.6h1m-47.2 20.2h1m-41.8 24h1m18.2-8.2h1m60.5-36.7h1m-4 2.2h1m-125.7 69.9h1m65.9-37h1m100.1-56.2h1m-154.5 86.7h1m48-31.8h1m100.2-52.2h1m-147.1 78.4h1m63.4-36.8h1m67.5-32.5h1m-6.9 2.8h1m-80.8 41.9h1m-11.1 6.1h1m121.7-67.9h1m-41.9 24.5h1m-109.9 55.9h1m31.5-14.3h1m113.6-60.7h1m-163.5 89.1h1m137-81h1m-14.3 8.5h1m-47.5 24h1m-82.2 46.3h1m170.2-89.6h1m-38 18.3h1m-10.3 2.4h1m-65.3 37.1h1m-40.1 18.2h1m83.9-44.3h1m-88.5 51h1m8.5-9.6h1m83.2-44.5h1m18.5-12.6h1m26.3-12.2h1m-113.8 61.3h1m21.7-12.9h1m-36.9 18.9h1m129.9-72.4h1m-176.3 98.2h1m11.5-5.7h1m0.3 0.9h1m157.5-87.8h1m-87.9 42.4h1m-58 36.9h1m48.5-29.6h1m54.6-32h1m-13.2 6.4h1m-73.9 40.8h1m61-33.9h1m-95.1 50h1m143-76.6h1m-42 20.9h1m60.8-30.4h1m-25.7 11.5h1m-98.1 49.5h1m-46.1 30h1m45.5-28.1h1m41.7-24h1m-7.7 3.8h1m-70.8 38.9h1m123.9-65.7h1m-60.9 28.7h1m-35.3 20.6h1m18.5-11.7h1m109.8-58.6h1m-173.7 95.6h1m39.5-25.8h1m-47.2 28.1h1m0.7-3.7h1m27.1-18.3h1m-14.6 13.6h1m158.4-85.3h1m-138.3 68.3h1m-40.7 26h1m1.4-1.8h1m23.6-17.9h1m23.6-10.2h1m-50.2 28.3h1m120-67.3h1m-106.9 56h1m128.9-66.5h1m-114.6 60.6h1m-19.8 12.2h1m13.7-11.5h1m-2.6 0.4h1m145.9-80h1m4-5.2h1m-21.7 17.8h1m-30.6 11.5h1m-105.7 59.3h1m4-4h1m39.4-24.3h1m33.5-15.1h1m-42 21.2h1m2.7-1.4h1m39.4-24.3h1m55.8-30.1h1m-103.1 55.1h1m89.3-45.8h1m18.7-12.7h1m-47.3 26h1m-111.8 57.9h1m136.8-73.9h1m-58.1 32.1h1m69.1-37.8h1m-5.7 2.8h1m-84.8 41.4h1m11-4.4h1m68.1-32.8h1m-166.5 88.6h1m21.7-13.8h1m84.1-47.5h1m41.1-21.6h1m-134.5 69.6h1m133.9-70.9h1m-21.2 11.3h1m-24.2 12.2h1m72.1-38h1m-98.7 52.2h1m-30.8 12.5h1m-22.8 17.4h1m134.3-74.2h1m-140.6 72.1h1m98.5-53.6h1m30.8-13.4h1m26.9-14.2h1m-70.4 32.4h1m57.6-26.4h1m-110.6 54.4h1m-36 21.1h1m28.8-16.5h1m34.2-20h1m-35.3 19.2h1m-41.1 20h1m-7.3 4.3h1m122.9-67.7h1m27.4-13.3h1m-142.3 75.4h1m14.6-11.8h1m-11.2 6h1m73.8-37.8h1m-98.5 52.4h1m96.8-50.6h1m0.5-0.6h1m-34 13.8h1m2.5-1.2h1m8.1-2.4h1m-55.9 28h1m24.7-13.6h1m-15 4.3h1m107.3-54.8h1m-56.7 29.9h1m-72.1 39.8h1m114.6-62.1h1m-7.9 4.3h1m-48.9 21.3h1m27.5-14.1h1m4.9-0.8h1m59.8-34.4h1m-73.1 37.6h1m64.5-32.2h1m-17.7 6.8h1m24.9-16.3h1m-13.5 14.2h1m-81.6 40h1m-89.9 51.2h1m126.9-74.9h1m19.3-8.2h1m-122.9 63h1m60.2-30.4h1m-89.3 48.6h1m121.8-70.4h1m-48.4 25.4h1m-8.7 3.9h1m-3.1 5.2h1m-41.7 21.3h1m139.4-74.8h1m-11.4 2.8h1m28.1-11.9h1m-174 91.3h1m116.8-64.4h1m-83 40.1h1m127.6-64.1h1m-89.4 44.6h1m12.4-5h1m-88.8 50.9h1m104.5-60.8h1m-113.9 61.2h1m142.8-74.8h1m-92.6 45.6h1m-37.3 23.7h1m119.5-66.2h1m-78.1 40.8h1m63.9-35.8h1m-44.4 22h1m-18.6 11.6h1m-0.5-4.7h1m43.7-21.6h1m54.9-27.8h1m-163.3 87.5h1m88-49.7h1m-0.5-0.4h1m70.3-38.8h1m-147 78h1m13.3-10.5h1m112.7-56.6h1m-49.6 25.3h1m-43.4 24.1h1m-61.9 33.3h1m174.6-93.3h1m-133.8 65.4h1m68.7-34.1h1m72.8-41.5h1m-85.5 47.2h1m-16.6 7.8h1m-59.4 31.4h1m147.1-75.7h1m5.6-8.6h1m-4.8 3.8h1m-22.6 11.1h1m-16.8 9.8h1m-110.9 59.6h1m36.6-22h1m56.2-31.7h1m-79.3 42.3h1m5.9-5.3h1m-8 4.3h1m-21.2 16.4h1m89.2-52.9h1m-58.2 28.2h1m55-27.4h1m-88.3 48.7h1m80.5-44.2h1m3.8-2h1m69.3-44.6h1m-146.3 80.7h1m143.6-78.6h1m-170 94.6h1m17.1-10.9h1m112.6-60.6h1m-40.3 21.3h1m-26.3 12.7h1m79.7-39.4h1m-9.2 0.6h1m-142.2 77.4h1m9.4-7.6h1m24.7-11.5h1m-19.5 10.3h1m115.8-63h1m-41.8 21.2h1m-83.1 47.2h1m158.4-87.9h1m-98.5 51.2h1m18.5-11.7h1m51.5-24.2h1m17.5-11.3h1m-150.3 80.9h1m-22 11.5h1m101.2-55.6h1m-100.8 53.1h1m34.7-18.9h1m123.4-67.1h1m-52.9 27.6h1m-69.6 32.6h1m59.9-28.7h1m18.3-9.2h1m-10.6 5.1h1m-31.4 13.7h1m-5.7 4.3h1m-72.7 41.3h1m12-7h1m48.4-29.2h1m7.7-7h1m11.4-5.2h1m65.6-36.6h1m-3.3 5h1m-48.7 21.7h1m59.2-31.7h1m-2.1 1.8h1m-107.9 59h1m61.9-36.6h1m16.2-9.7h1m-61.2 34.9h1m18-13h1m-71.8 36h1m43.8-21.8h1m-10.7 5.3h1m-22.8 13.2h1m48.2-28.7h1m58.8-29.5h1m-100.2 51.3h1m63.5-34.2h1m-108.2 60.2h1m53.9-33.4h1m49.5-24h1m-12.8 5.1h1m-89 47.9h1m148.2-78.9h1m6-0.6h1m-13.6 1.2h1m-158.4 89.2h1m120.1-67.3h1m-41.1 21.3h1m45.9-26.6h1m-93.3 48.9h1m0.6-3.9h1m92.1-47.4h1m-16.2 10.3h1m-92.8 46.9h1m143.5-73.1h1m-143.6 73.3h1m9.9-6.8h1m-9.1 5.4h1m78.1-42.8h1m-105.6 57.9h1m17.6-11.6h1m6.7-4.2h1m54.8-28.8h1m77.8-41.4h1m-116.8 59.1h1m-48.6 29.3h1m2.7-1.9h1m98.6-55.8h1m-91.5 51.5h1m49.4-30.7h1m-62.9 35.7h1m169.8-97.8h1m-118.7 69h1m117.1-63.7h1m-110.4 54.9h1m0.6 3.8h1m-60.2 34.3h1m86.1-51.7h1m-84.6 51.1h1m114.6-67.7h1m-12.9 6.3h1m-13.3 5.2h1m-48.6 25.1h1m42-21.1h1m-10.3 5.5h1m-34.8 16.7h1m-43.5 27.4h1m94.1-55h1m65.5-39.1h1m-50.8 30h1m-114.5 63.1h1m65-37.9h1m57.5-29.5h1m-19.5 10.1h1m-119.3 64.8h1m-6.1 0.5h1m184.1-96.4h1m-0.2-6.7h1m-111.8 60.3h1m-10.7 8.1h1m-25 13.7h1m16.8-12.2h1m39.7-22.2h1m-45.2 22.5h1m120.7-58.4h1m-38.5 15.3h1m-28.8 16.9h1m33.8-19.8h1m-69.6 37.4h1m1.7-2.7h1m78.2-40.7h1m-81.7 39.9h1m-3.7 2.7h1m-22.9 9.3h1m39.1-18.4h1m-78.9 41.6h1m68-39.4h1m93.8-49.6h1m-70.1 36.7h1m10.3-3.2h1m22.9-12.3h1m-134.2 74.3h1m146.3-82.5h1m-139.9 75.4h1m115.3-63.7h1m-52.3 25.9h1m95.4-53.3h1m-62.7 37.7h1m40.1-24.7h1m-120 64.2h1m128.2-71.8h1m-139.4 74.6h1m-4.9 4.4h1m63.5-33.1h1m45.9-27h1m-75.1 40.8h1m85.6-46.8h1m-79.1 41.6h1m-10.3 5.7h1m62.5-34.5h1m-51.5 24.6h1m33.9-17.9h1m53.2-28.1h1m-100.2 54.5h1m57.8-33.5h1m52.1-24.7h1m-6.9-0.5h1m-176.4 96.1h1m144.8-79h1m-44.7 24.4h1m-59.7 30h1m139.1-74.8h1m-65.8 34.8h1m58.6-35.4h1m-158.9 90.1h1m101.3-57h1m60.7-31h1m-23.9 13.2h1m-93.5 44.7h1m115.5-62.1h1m-19.7 12.1h1m-125.4 65.9h1m140.9-79.6h1m-12.3 9.8h1m-173.2 94.9h1m58.9-37.1h1m46.3-25h1m-2.4 1.4h1m-83.5 46.9h1m46.4-29.5h1m64.7-32.5h1m-56.9 28.5h1m-75.9 42.9h1m176.2-91.3h1m-108.7 49.8h1m26-11.5h1m50-24.3h1m-31.7 11.4h1m0.2-0.5h1m-53.3 28.5h1m86-41.1h1m-90.5 44.7h1m-14.8 7.7h1m9.7-9.7h1m97.8-49.2h1m-146.9 82.2h1m19.1-18h1m-6.8 9h1m26-18.1h1m86.1-45.6h1m9.6-7h1m-6.5 4h1m-25.9 12.4h1m49.8-23.1h1m-165.1 85.3h1m73.6-43.2h1m-30.7 16.8h1m5.2-5.1h1m8.1-2.9h1m-13.8 8.1h1m-0.9-3.3h1m-38.5 26.6h1m-12.1 3.1h1m30.1-20.1h1m73.5-38.2h1m32.8-15.2h1m-7.4 3.7h1m-35.6 13.8h1m57.2-29.7h1m-28.5 18.1h1m-120.1 66.6h1m115.4-67.1h1m37-18.7h1m-100.3 51.8h1m-32.7 14.9h1m-42.2 25.4h1m127.6-70.8h1m-91 48.8h1m122.1-68.5h1m-165.9 93.6h1m16-13.1h1m3.9-0.1h1m118.4-66.4h1m-73.7 37.9h1m-7.1 2h1m-32.4 22.6h1m150.4-81.1h1m-186.8 99h1m71.6-39.9h1m99.6-56.4h1m-163.7 90.3h1m158.5-84.5h1m5.7-6.3h1m-175.2 95.4h1m121.2-68.9h1m-90.7 47.6h1m-4.5 1.6h1m36.5-16.1h1m72.5-39.8h1m-95.6 47.5h1m34.4-17.3h1m50.2-26.1h1m-27 13.1h1m-77.8 40.2h1m111.4-57.1h1m15.1-12h1m-135 75.9h1m0.3-5.5h1m127.6-69.1h1m-20 12.7h1m-17.1 7.8h1m-18.1 5.8h1m22.9-9.5h1m-33.8 16.1h1m-9 3.1h1m98.3-50.2h1m-64.6 32.2h1m-58.9 29.2h1m3.5-0.6h1m106.2-53h1m-37.5 13.8h1m12.9-4.8h1m-62.3 31.2h1m91.6-46.3h1m-38.5 18h1m11.8-6h1m-90.1 44.9h1m-47.5 26.4h1m106.3-55.8h1m-129.5 71.4h1m114.6-65.7h1m-12.1 6.2h1m74.9-37.9h1m-111.6 56.9h1m36.3-18.9h1m-61 26.7h1m15.1-3.4h1m120.6-71.2h1m-94.5 55.3h1m-2.7-1.3h1m-77.1 43.3h1m136.2-73.1h1m-114.7 59.2h1m67.9-34.9h1m13.2-9h1m54.3-30h1m-40.4 24.3h1m-104.1 50.2h1m-1.7 0.8h1m41.7-22h1m39-20.8h1m4.1-4h1m-122 69.5h1m42.8-28.4h1m-28.2 15.3h1m21.4-12.1h1m0-1.7h1m-11.6 8.8h1m89.1-47.3h1m39.7-21.9h1m-41.4 20.3h1m28.9-16.5h1m-31 15.8h1m32.2-14h1m-62.9 28.3h1m-93.2 53.3h1m18.2-10.3h1m113.1-63.7h1m21.7-12.5h1m2.2-1.4h1m-50.4 25.2h1m-42.8 21.7h1m99.2-49.7h1m-8.5 3.6h1m-83.2 41.7h1m-63.9 39.6h1m20.5-19.3h1m138.7-74.6h1m-66.5 38.4h1m48.8-27.6h1m-128.5 68.2h1m71.8-38.2h1m60.7-29.7h1m-90 42.2h1m46.7-24.6h1m-73.5 36.1h1m-37.6 23.6h1m143.3-75h1m-152.2 79.6h1m3.6 0.9h1m71.9-44.4h1m67.7-36.7h1m-77.6 40.8h1m98.5-52.9h1m-150.2 80.4h1m105.1-56.3h1m-105.2 54.2h1m49.2-26.2h1m64.7-32.3h1m7.1-6.9h1m-118.2 61.8h1m-5.1 2.4h1m150.8-75.8h1m-106 51h1m-26.2 15h1m59.3-34.5h1m22.1-12.7h1m-89.7 46h1m124.4-65.7h1m-109.4 62.2h1m-38.6 15.6h1m127.6-65.9h1m-155.1 83.2h1m10.9-4.3h1m38.5-23.7h1m-19.6 9.8h1m90.4-51h1m-4 2.6h1m45.7-23.1h1m-113.8 57.6h1m97.3-52.3h1m-89.4 49.8h1m69.3-37.4h1m-139.3 76h1m10.2-9.4h1m128.6-71h1m-84.8 44.7h1m23.7-13.4h1m-80 47.2h1m56.5-37.5h1m-7.8 8.2h1m52.8-28.9h1m-2.7-1.7h1m39.4-17.7h1m-79.7 36.3h1m50.8-24.9h1m-50.6 26.9h1m-68.6 38.5h1m69.2-39.5h1m-60.9 31.8h1m50.9-27.4h1m-51.5 29.6h1m112.5-63.3h1m-117.6 65h1m135.4-74.2h1m-53.4 23.8h1m12-3.3h1m-10.8 3.3h1m68.7-37.9h1m-32.8 20.8h1m-45.9 19.4h1m58.9-27.8h1m-29.9 14.3h1m-46.4 23.9h1m-42.7 18.5h1m118.5-57.7h1m-22.8 9.8h1m35.1-17.6h1m-150.3 79.9h1m16.7-14.9h1m12.4-8.1h1m-5.7 7.9h1m-29.9 16.8h1m-16.1 10.2h1m13.6-7.3h1m147.9-82h1m-63.5 30.2h1m27-16.3h1m42.6-18.6h1m-71.6 33.4h1m65.9-34h1m-17.6 8.6h1m-146.7 80.3h1m117.7-65.5h1m22.8-15.4h1m-85.9 48.2h1m18.6-13.8h1m-30.1 16.4h1m54.1-27h1m-59.5 29.4h1m-40.7 25.8h1m39.3-29.2h1m29-14.3h1m20.9-8h1m-14 4.2h1m-23.9 12.4h1m-45 23.4h1m102.7-53.9h1m-26.4 12.1h1m-53.6 28.6h1m85.6-45h1m-112 56.8h1m145-74.5h1m-154 78.7h1m77-42.5h1m28.4-13.5h1m-3.5-1.1h1m56.6-31.6h1m-39.5 25.9h1m-49.4 22.5h1m-27.7 14.6h1m-8.7 5.7h1m-17.5 3.6h1m81.4-38h1m-81.5 41.4h1m-23.2 14.8h1m54.9-31.7h1m54.4-31.6h1m-90.8 48.7h1m54.9-31.9h1m-22.2 13.3h1m79.3-43.7h1m-134.1 72h1m151.8-83h1m-34.8 19.2h1m-94.3 48h1m34.3-19.2h1m-20.9 14.3h1m-67.2 36.9h1m84.4-48.9h1m88.7-47.2h1m-49.9 26.4h1m-112.8 59.4h1m-5.4 1.2h1m166.8-90.1h1m-28.5 15.3h1m28.1-15.3h1m-76.2 38.9h1m-13.8 6.9h1m-51.1 27.5h1m117.2-58.4h1m-87.4 42.9h1m60.2-33.3h1m5.3-1.5h1m-94.1 46.3h1m-11.5 7.6h1m52.4-30.8h1m-49.6 24.4h1m97.2-48.1h1m14-9.8h1m-8.1 5h1m-69.5 38h1m66.6-36.6h1m-37.6 19.6h1m-9.6 5.1h1m-44 22.1h1m77-44.3h1m-135.3 76.5h1m111.6-63.6h1m16.7-9.9h1m-24.4 13.4h1m50.7-25.7h1m-12.5 4.5h1m-112.7 57.9h1m-19.3 10.9h1m73.1-41.4h1m-43.8 21.9h1m88.5-44.6h1m-120.7 62.3h1m22.6-10.8h1m14.8-8.9h1m96.5-49.5h1m-149 77.9h1m78.8-44h1m22.3-10.5h1m-35.2 17.6h1m68.3-35.6h1m-106.1 53.2h1m52-27.8h1m-29.6 17.1h1m36.8-22.8h1m-84.6 45.8h1m101.5-56.3h1m-119.2 68.5h1m110.2-63.2h1m37.5-17.5h1m-99.6 48.3h1m-49.3 29.9h1m3.7-3.7h1m109.8-62.5h1m-100 53.2h1m70.6-39.8h1m-26.3 17.9h1m-0.8-4.1h1m-31.4 18.7h1m113.6-61.4h1m-137.1 76.6h1m-21.5 9.8h1m121-69.9h1m-11 6.4h1m-52.3 26.8h1m-52.5 31.4h1m172.6-95h1m-172.4 90.4h1m149.5-76.3h1m-105.4 50.9h1m34.8-17.3h1m12.9-8.9h1m-43.2 24.4h1m116-63.2h1m-142.4 76.8h1m-31.8 17.6h1m35.1-19.6h1m98.5-51.9h1m-7.3 0h1m-128 71.7h1m123-69.3h1m-8.2 4.8h1m-73.7 38.3h1m2-4.5h1m-41.2 22.6h1m-1.5 3.6h1m136.8-74.5h1m-81.9 40.4h1m19.4-10.3h1m-69.1 37.1h1m84.6-46h1m59.9-35.1h1m-25.5 16.6h1m26.3-13.6h1m-61.8 32.1h1m54.7-31.8h1m-119.1 64h1m58.6-32.3h1m-61.9 32.2h1m56.5-32.6h1m67.3-38.3h1m-93.8 51.8h1m5.2-1.7h1m-6.6 2h1m74-39.3h1m6.5 0.5h1m2.5-2.2h1m-63.9 29.2h1m2.8-2.4h1m-57.5 27.9h1m90.1-43.2h1m12.1-10.1h1m-71.4 37.8h1m-58 32.6h1m69.1-37.6h1m44.8-25.3h1m-137 72.3h1m83.9-45.6h1m-38.7 19.7h1m45.1-22.6h1m-51.5 24.4h1m-57.7 34.3h1m109.6-63.8h1m-55.8 29.8h1m-14.2 4.7h1m55.2-27.6h1m55.5-30.2h1m-133.3 70.3h1m90.7-46.8h1m-89.9 51.9h1m-10.6 5.7h1m87.2-53.1h1m-50.8 27.5h1m91.1-48.2h1m-89.1 45.2h1m35.2-17.8h1m-8.6 3.5h1m82.7-41.2h1m10.4-10.2h1m-90.3 48.9h1m-92.5 51.7h1m131.6-75h1m-38.3 18.3h1m-26.3 14.7h1m-10.9 3h1m98.4-50.1h1m-112.9 57.1h1m65.2-34.6h1m15.3-4.9h1m-7.5 1.7h1m20.5-9.9h1m11.4-8.1h1m-29.9 17.3h1m11.6-7.5h1m-91.5 45.4h1m58.5-30.8h1m-11.3 6.8h1m63.5-34.9h1m-35.8 17.4h1m34.2-19h1m-51.3 27.8h1m27.5-14.5h1m-113.8 60.8h1m11.2-7.3h1m82.9-43.9h1m-55.3 29.9h1m76.4-44.7h1m-3.6 2.4h1m-147.5 81.8h1m75.3-45.5h1m-82.5 46.5h1m161.4-88.2h1m-118.6 59.2h1m111-53.8h1m-18.6 9.8h1m-35.9 17.6h1m-24.3 8.9h1m77.1-39.9h1m-64 31.6h1m-78.5 47h1m68.1-43.3h1m64.5-32.5h1m17.3-6.7h1m0.9-2.8h1m-147.7 77.2h1m87.7-46.7h1m-40.8 19h1m-55.7 32.4h1m-2.5-0.9h1m132.7-71.7h1m-44.4 25h1m-35.9 18.5h1m18.9-13.4h1m-63 33.3h1m75.5-41.6h1m8.5-4.2h1m56.2-31.6h1m-72.8 39.4h1m-66.2 35.7h1m48.6-25h1m-50 24.4h1m139.3-76.9h1m-152.8 85.9h1m108.8-59.2h1m-36.2 17.8h1m-13 6.9h1m72.9-38.8h1m12.4-9.9h1m1.6 3.6h1m-119.6 57.4h1m-41.9 27.8h1m-20.3 10.4h1m32.5-24.3h1m42-23.3h1m35.5-16.4h1m30.5-17.4h1m-54.3 29.3h1m-25.2 10.3h1m113-56.4h1m-166.7 85.8h1m91.3-47.6h1m-97.5 52.2h1m-14.1 7.7h1m77.4-43.9h1m-48.4 25.1h1m138.5-76.8h1m-95.4 49.7h1m-59.2 34.2h1m-2 3.9h1m31.1-20.5h1m116.7-63.1h1m-132.3 66.3h1m-3 3.5h1m46-24.7h1m45.3-25.5h1m-71.8 36h1m-56.3 35h1m66.8-38.2h1m-10.6 4.6h1m-53 31.6h1m162.5-91.9h1m12.8-2.5h1m-85.3 40.7h1m83.2-46.3h1m-134.9 69.2h1m-47.2 33.5h1m47.9-30h1m32.1-20.9h1m71-35.3h1m24.5-17.1h1m-151.4 82.7h1m33.6-18.5h1m8.4-5.2h1m91.3-50.5h1m-66 33.8h1m69.3-32.8h1m-175.3 93.6h1m117.4-65.8h1m-104.7 56.8h1m44.8-25h1m35.2-20.5h1m-77.1 45.6h1m48.6-34h1m61.2-28.9h1m0.1-0.4h1m-40.6 19.1h1m-9.2 6.1h1m61.5-35.6h1m-137 78h1m-0.3-1.1h1m21-16.7h1m64.3-35.6h1m-74.2 42.2h1m-1.2 2.5h1m74.2-43.9h1m53.6-28.3h1m-153.8 83.8h1m25.4-14.3h1m133-72.2h1m-67.4 31.5h1m24-12.1h1m-65.9 32.7h1m-55.7 36.3h1m128.4-72.4h1m-56.1 29.6h1m56.6-31.9h1m-55.3 25.7h1m-16.1 8.9h1m-9.3 5.9h1m46.7-27h1m-9 5.7h1m1.7 0.7h1m30.6-18.4h1m-10.1 4.7h1m62.1-35.1h1m-116.8 64.2h1m52.4-29.4h1m-11.4 4.2h1m24-12.6h1m-56.7 28.2h1m11.4-4.5h1m42.4-22.8h1m-35.2 16.3h1m-76 39.9h1m31.1-14.4h1m86.3-48h1m13.7-4.9h1m-2.8-0.4h1m-151.6 82.5h1m159.1-90.4h1m-45.3 25h1m-1.6 1h1m-2.3-0.2h1m-5.3 1.3h1m-8.1 4.6h1m-32.1 15.5h1m77.8-39h1m-145.5 75.9h1m118.2-63.8h1m-41.8 22.8h1m89.2-49.9h1m-140.4 71.5h1m-43.1 30h1m119.3-68.6h1m-5.6 4.8h1m-78.2 40.1h1m125.1-65.2h1m-20.2 6.1h1m2.2 2.2h1m-70.1 34.9h1m-58.2 30h1m134.5-70.6h1m-23.6 10.9h1m15-7.4h1m11.6-8.9h1m-63.5 32.5h1m-69.4 34.6h1m117.3-60.8h1m-102.4 52.4h1m119.9-62h1m-129.8 67h1m-40.8 26.9h1m-1.9 1.2h1m115.2-67.3h1m-5.2 2h1m-43.7 24.8h1m-57 30.6h1m-15.2 10.6h1m9.1-4.1h1m87.2-51.1h1m-33.3 15.7h1m58.7-31.6h1m-117.7 62.4h1m-12.5 8.5h1m130.1-71.9h1m-39.3 20h1m-73.3 42.2h1m59.1-35.9h1m-57.4 31.6h1m131.4-72.2h1m-150.8 83.3h1m67.6-38.3h1m20.3-12.7h1m-86.6 50.3h1m82.6-49.2h1m-88.7 48.2h1m122.2-67.1h1m-22 9.7h1m-51.9 27.3h1m86.3-45.8h1m-101.1 51.3h1m40-19h1m-74.2 39.9h1m23.4-18.7h1m108.4-52.8h1m-54.6 26.4h1m19-9.1h1m29-16.9h1m-82.7 40.5h1m-63.1 39.1h1m47.3-29.7h1m-6.1 3.4h1" stroke="#4444cc" stroke-opacity="0.19" stroke-width="1.0" fill="none"/>
<path d="M17.2 403.6L210.6 292.3" stroke="#5b5bd0" stroke-width="1" stroke-opacity="0.8" fill="none"/></svg>
</body></html>
